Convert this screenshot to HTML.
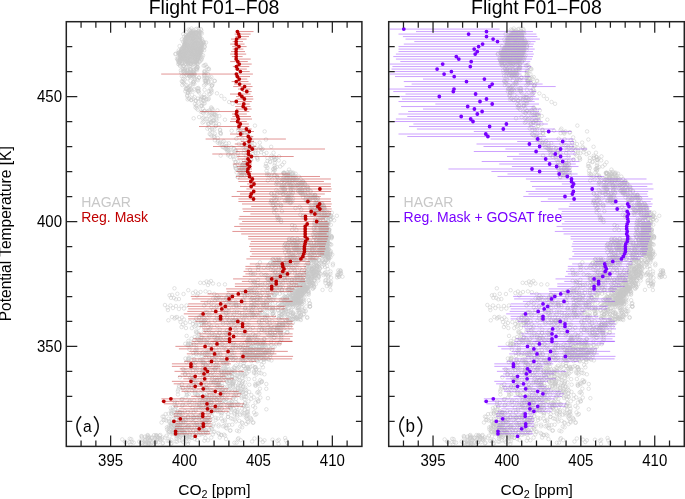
<!DOCTYPE html>
<html><head><meta charset="utf-8"><style>
html,body{margin:0;padding:0;background:#fff;}
svg{display:block;will-change:transform;}
</style></head><body>
<svg width="685" height="499" viewBox="0 0 685 499">
<rect width="685" height="499" fill="#fff"/>
<defs><g id="cloud"><polygon points="319.0,222.0 328.5,222.0 329.5,240.0 329.0,256.0 320.0,256.0 318.0,240.0" fill="#cccccc" fill-opacity="1"/>
<polygon points="297.0,290.0 305.0,284.0 311.0,287.0 304.0,296.0 296.0,302.0 291.0,299.0" fill="#cccccc" fill-opacity="1"/>
<polygon points="191.0,30.5 200.5,30.5 201.5,35.0 202.0,40.0 204.0,43.5 202.5,48.0 201.5,55.0 199.5,60.0 197.0,64.0 192.0,64.0 186.0,63.0 180.0,60.0 177.5,55.0 179.5,49.0 183.0,44.0 184.0,36.0" fill="#cccccc" fill-opacity="1"/>
<path d="M197.2 40.6a1.75 1.75 0 1 0 3.5 0a1.75 1.75 0 1 0 -3.5 0M188.6 49.9a1.75 1.75 0 1 0 3.5 0a1.75 1.75 0 1 0 -3.5 0M193.6 66.0a1.75 1.75 0 1 0 3.5 0a1.75 1.75 0 1 0 -3.5 0M199.5 49.1a1.75 1.75 0 1 0 3.5 0a1.75 1.75 0 1 0 -3.5 0M197.1 28.6a1.75 1.75 0 1 0 3.5 0a1.75 1.75 0 1 0 -3.5 0M187.0 62.8a1.75 1.75 0 1 0 3.5 0a1.75 1.75 0 1 0 -3.5 0M173.6 54.2a1.75 1.75 0 1 0 3.5 0a1.75 1.75 0 1 0 -3.5 0M202.8 46.6a1.75 1.75 0 1 0 3.5 0a1.75 1.75 0 1 0 -3.5 0M179.7 48.6a1.75 1.75 0 1 0 3.5 0a1.75 1.75 0 1 0 -3.5 0M186.8 52.1a1.75 1.75 0 1 0 3.5 0a1.75 1.75 0 1 0 -3.5 0M180.2 39.5a1.75 1.75 0 1 0 3.5 0a1.75 1.75 0 1 0 -3.5 0M179.8 50.3a1.75 1.75 0 1 0 3.5 0a1.75 1.75 0 1 0 -3.5 0M199.6 54.9a1.75 1.75 0 1 0 3.5 0a1.75 1.75 0 1 0 -3.5 0M193.3 37.3a1.75 1.75 0 1 0 3.5 0a1.75 1.75 0 1 0 -3.5 0M195.8 62.3a1.75 1.75 0 1 0 3.5 0a1.75 1.75 0 1 0 -3.5 0M199.3 60.3a1.75 1.75 0 1 0 3.5 0a1.75 1.75 0 1 0 -3.5 0M182.5 56.4a1.75 1.75 0 1 0 3.5 0a1.75 1.75 0 1 0 -3.5 0M188.9 56.5a1.75 1.75 0 1 0 3.5 0a1.75 1.75 0 1 0 -3.5 0M198.3 48.2a1.75 1.75 0 1 0 3.5 0a1.75 1.75 0 1 0 -3.5 0M178.3 54.6a1.75 1.75 0 1 0 3.5 0a1.75 1.75 0 1 0 -3.5 0M195.2 60.5a1.75 1.75 0 1 0 3.5 0a1.75 1.75 0 1 0 -3.5 0M184.7 49.4a1.75 1.75 0 1 0 3.5 0a1.75 1.75 0 1 0 -3.5 0M189.0 65.5a1.75 1.75 0 1 0 3.5 0a1.75 1.75 0 1 0 -3.5 0M189.4 47.2a1.75 1.75 0 1 0 3.5 0a1.75 1.75 0 1 0 -3.5 0M188.4 29.9a1.75 1.75 0 1 0 3.5 0a1.75 1.75 0 1 0 -3.5 0M185.3 36.6a1.75 1.75 0 1 0 3.5 0a1.75 1.75 0 1 0 -3.5 0M188.8 75.1a1.75 1.75 0 1 0 3.5 0a1.75 1.75 0 1 0 -3.5 0M197.4 54.1a1.75 1.75 0 1 0 3.5 0a1.75 1.75 0 1 0 -3.5 0M200.3 39.5a1.75 1.75 0 1 0 3.5 0a1.75 1.75 0 1 0 -3.5 0M189.2 73.7a1.75 1.75 0 1 0 3.5 0a1.75 1.75 0 1 0 -3.5 0M191.2 50.3a1.75 1.75 0 1 0 3.5 0a1.75 1.75 0 1 0 -3.5 0M181.4 54.5a1.75 1.75 0 1 0 3.5 0a1.75 1.75 0 1 0 -3.5 0M198.6 53.1a1.75 1.75 0 1 0 3.5 0a1.75 1.75 0 1 0 -3.5 0M190.7 48.7a1.75 1.75 0 1 0 3.5 0a1.75 1.75 0 1 0 -3.5 0M191.0 38.0a1.75 1.75 0 1 0 3.5 0a1.75 1.75 0 1 0 -3.5 0M188.9 51.5a1.75 1.75 0 1 0 3.5 0a1.75 1.75 0 1 0 -3.5 0M184.2 44.9a1.75 1.75 0 1 0 3.5 0a1.75 1.75 0 1 0 -3.5 0M190.0 58.1a1.75 1.75 0 1 0 3.5 0a1.75 1.75 0 1 0 -3.5 0M192.3 50.3a1.75 1.75 0 1 0 3.5 0a1.75 1.75 0 1 0 -3.5 0M178.4 56.3a1.75 1.75 0 1 0 3.5 0a1.75 1.75 0 1 0 -3.5 0M180.9 68.5a1.75 1.75 0 1 0 3.5 0a1.75 1.75 0 1 0 -3.5 0M194.3 32.5a1.75 1.75 0 1 0 3.5 0a1.75 1.75 0 1 0 -3.5 0M196.9 40.4a1.75 1.75 0 1 0 3.5 0a1.75 1.75 0 1 0 -3.5 0M176.3 58.2a1.75 1.75 0 1 0 3.5 0a1.75 1.75 0 1 0 -3.5 0M183.8 31.8a1.75 1.75 0 1 0 3.5 0a1.75 1.75 0 1 0 -3.5 0M177.9 53.6a1.75 1.75 0 1 0 3.5 0a1.75 1.75 0 1 0 -3.5 0M195.5 50.1a1.75 1.75 0 1 0 3.5 0a1.75 1.75 0 1 0 -3.5 0M183.1 51.0a1.75 1.75 0 1 0 3.5 0a1.75 1.75 0 1 0 -3.5 0M186.2 37.4a1.75 1.75 0 1 0 3.5 0a1.75 1.75 0 1 0 -3.5 0M189.1 38.4a1.75 1.75 0 1 0 3.5 0a1.75 1.75 0 1 0 -3.5 0M192.1 67.3a1.75 1.75 0 1 0 3.5 0a1.75 1.75 0 1 0 -3.5 0M177.4 62.6a1.75 1.75 0 1 0 3.5 0a1.75 1.75 0 1 0 -3.5 0M177.9 62.0a1.75 1.75 0 1 0 3.5 0a1.75 1.75 0 1 0 -3.5 0M194.5 54.4a1.75 1.75 0 1 0 3.5 0a1.75 1.75 0 1 0 -3.5 0M198.3 53.0a1.75 1.75 0 1 0 3.5 0a1.75 1.75 0 1 0 -3.5 0M179.9 59.3a1.75 1.75 0 1 0 3.5 0a1.75 1.75 0 1 0 -3.5 0M185.4 55.9a1.75 1.75 0 1 0 3.5 0a1.75 1.75 0 1 0 -3.5 0M183.0 58.5a1.75 1.75 0 1 0 3.5 0a1.75 1.75 0 1 0 -3.5 0M182.6 69.3a1.75 1.75 0 1 0 3.5 0a1.75 1.75 0 1 0 -3.5 0M182.7 73.1a1.75 1.75 0 1 0 3.5 0a1.75 1.75 0 1 0 -3.5 0M196.6 48.3a1.75 1.75 0 1 0 3.5 0a1.75 1.75 0 1 0 -3.5 0M191.0 36.6a1.75 1.75 0 1 0 3.5 0a1.75 1.75 0 1 0 -3.5 0M195.3 52.7a1.75 1.75 0 1 0 3.5 0a1.75 1.75 0 1 0 -3.5 0M184.8 45.0a1.75 1.75 0 1 0 3.5 0a1.75 1.75 0 1 0 -3.5 0M179.3 60.5a1.75 1.75 0 1 0 3.5 0a1.75 1.75 0 1 0 -3.5 0M186.6 37.7a1.75 1.75 0 1 0 3.5 0a1.75 1.75 0 1 0 -3.5 0M176.1 60.1a1.75 1.75 0 1 0 3.5 0a1.75 1.75 0 1 0 -3.5 0M182.2 52.2a1.75 1.75 0 1 0 3.5 0a1.75 1.75 0 1 0 -3.5 0M183.2 69.9a1.75 1.75 0 1 0 3.5 0a1.75 1.75 0 1 0 -3.5 0M183.6 38.6a1.75 1.75 0 1 0 3.5 0a1.75 1.75 0 1 0 -3.5 0M194.3 68.3a1.75 1.75 0 1 0 3.5 0a1.75 1.75 0 1 0 -3.5 0M202.6 44.8a1.75 1.75 0 1 0 3.5 0a1.75 1.75 0 1 0 -3.5 0M188.3 75.3a1.75 1.75 0 1 0 3.5 0a1.75 1.75 0 1 0 -3.5 0M180.3 63.0a1.75 1.75 0 1 0 3.5 0a1.75 1.75 0 1 0 -3.5 0M197.0 57.0a1.75 1.75 0 1 0 3.5 0a1.75 1.75 0 1 0 -3.5 0M199.7 46.0a1.75 1.75 0 1 0 3.5 0a1.75 1.75 0 1 0 -3.5 0M183.6 42.3a1.75 1.75 0 1 0 3.5 0a1.75 1.75 0 1 0 -3.5 0M200.5 57.2a1.75 1.75 0 1 0 3.5 0a1.75 1.75 0 1 0 -3.5 0M177.1 54.7a1.75 1.75 0 1 0 3.5 0a1.75 1.75 0 1 0 -3.5 0M183.7 57.7a1.75 1.75 0 1 0 3.5 0a1.75 1.75 0 1 0 -3.5 0M197.8 46.5a1.75 1.75 0 1 0 3.5 0a1.75 1.75 0 1 0 -3.5 0M191.0 39.1a1.75 1.75 0 1 0 3.5 0a1.75 1.75 0 1 0 -3.5 0M201.3 55.3a1.75 1.75 0 1 0 3.5 0a1.75 1.75 0 1 0 -3.5 0M202.4 50.2a1.75 1.75 0 1 0 3.5 0a1.75 1.75 0 1 0 -3.5 0M181.6 65.9a1.75 1.75 0 1 0 3.5 0a1.75 1.75 0 1 0 -3.5 0M199.2 29.1a1.75 1.75 0 1 0 3.5 0a1.75 1.75 0 1 0 -3.5 0M194.2 32.9a1.75 1.75 0 1 0 3.5 0a1.75 1.75 0 1 0 -3.5 0M180.5 63.8a1.75 1.75 0 1 0 3.5 0a1.75 1.75 0 1 0 -3.5 0M184.9 74.6a1.75 1.75 0 1 0 3.5 0a1.75 1.75 0 1 0 -3.5 0M201.8 42.5a1.75 1.75 0 1 0 3.5 0a1.75 1.75 0 1 0 -3.5 0M180.9 51.2a1.75 1.75 0 1 0 3.5 0a1.75 1.75 0 1 0 -3.5 0M176.0 59.5a1.75 1.75 0 1 0 3.5 0a1.75 1.75 0 1 0 -3.5 0M204.2 42.5a1.75 1.75 0 1 0 3.5 0a1.75 1.75 0 1 0 -3.5 0M191.8 49.9a1.75 1.75 0 1 0 3.5 0a1.75 1.75 0 1 0 -3.5 0M179.6 57.8a1.75 1.75 0 1 0 3.5 0a1.75 1.75 0 1 0 -3.5 0M194.8 59.9a1.75 1.75 0 1 0 3.5 0a1.75 1.75 0 1 0 -3.5 0M181.0 54.2a1.75 1.75 0 1 0 3.5 0a1.75 1.75 0 1 0 -3.5 0M182.6 40.2a1.75 1.75 0 1 0 3.5 0a1.75 1.75 0 1 0 -3.5 0M193.6 59.1a1.75 1.75 0 1 0 3.5 0a1.75 1.75 0 1 0 -3.5 0M202.9 47.0a1.75 1.75 0 1 0 3.5 0a1.75 1.75 0 1 0 -3.5 0M182.6 44.0a1.75 1.75 0 1 0 3.5 0a1.75 1.75 0 1 0 -3.5 0M182.9 68.7a1.75 1.75 0 1 0 3.5 0a1.75 1.75 0 1 0 -3.5 0M201.3 42.9a1.75 1.75 0 1 0 3.5 0a1.75 1.75 0 1 0 -3.5 0M183.4 54.4a1.75 1.75 0 1 0 3.5 0a1.75 1.75 0 1 0 -3.5 0M191.3 56.8a1.75 1.75 0 1 0 3.5 0a1.75 1.75 0 1 0 -3.5 0M190.4 31.9a1.75 1.75 0 1 0 3.5 0a1.75 1.75 0 1 0 -3.5 0M175.2 58.7a1.75 1.75 0 1 0 3.5 0a1.75 1.75 0 1 0 -3.5 0M182.1 66.1a1.75 1.75 0 1 0 3.5 0a1.75 1.75 0 1 0 -3.5 0M188.5 69.5a1.75 1.75 0 1 0 3.5 0a1.75 1.75 0 1 0 -3.5 0M177.7 52.3a1.75 1.75 0 1 0 3.5 0a1.75 1.75 0 1 0 -3.5 0M198.2 32.2a1.75 1.75 0 1 0 3.5 0a1.75 1.75 0 1 0 -3.5 0M199.0 43.7a1.75 1.75 0 1 0 3.5 0a1.75 1.75 0 1 0 -3.5 0M176.2 52.9a1.75 1.75 0 1 0 3.5 0a1.75 1.75 0 1 0 -3.5 0M202.2 42.4a1.75 1.75 0 1 0 3.5 0a1.75 1.75 0 1 0 -3.5 0M182.9 71.4a1.75 1.75 0 1 0 3.5 0a1.75 1.75 0 1 0 -3.5 0M194.8 37.0a1.75 1.75 0 1 0 3.5 0a1.75 1.75 0 1 0 -3.5 0M186.6 36.0a1.75 1.75 0 1 0 3.5 0a1.75 1.75 0 1 0 -3.5 0M195.6 60.2a1.75 1.75 0 1 0 3.5 0a1.75 1.75 0 1 0 -3.5 0M190.3 54.2a1.75 1.75 0 1 0 3.5 0a1.75 1.75 0 1 0 -3.5 0M200.0 50.0a1.75 1.75 0 1 0 3.5 0a1.75 1.75 0 1 0 -3.5 0M185.4 44.6a1.75 1.75 0 1 0 3.5 0a1.75 1.75 0 1 0 -3.5 0M193.4 48.3a1.75 1.75 0 1 0 3.5 0a1.75 1.75 0 1 0 -3.5 0M191.0 31.5a1.75 1.75 0 1 0 3.5 0a1.75 1.75 0 1 0 -3.5 0M184.1 35.1a1.75 1.75 0 1 0 3.5 0a1.75 1.75 0 1 0 -3.5 0M199.3 47.4a1.75 1.75 0 1 0 3.5 0a1.75 1.75 0 1 0 -3.5 0M185.6 57.6a1.75 1.75 0 1 0 3.5 0a1.75 1.75 0 1 0 -3.5 0M189.7 52.3a1.75 1.75 0 1 0 3.5 0a1.75 1.75 0 1 0 -3.5 0M193.5 49.3a1.75 1.75 0 1 0 3.5 0a1.75 1.75 0 1 0 -3.5 0M194.7 63.2a1.75 1.75 0 1 0 3.5 0a1.75 1.75 0 1 0 -3.5 0M180.4 52.0a1.75 1.75 0 1 0 3.5 0a1.75 1.75 0 1 0 -3.5 0M188.1 39.2a1.75 1.75 0 1 0 3.5 0a1.75 1.75 0 1 0 -3.5 0M185.9 55.1a1.75 1.75 0 1 0 3.5 0a1.75 1.75 0 1 0 -3.5 0M181.6 59.2a1.75 1.75 0 1 0 3.5 0a1.75 1.75 0 1 0 -3.5 0M189.1 70.2a1.75 1.75 0 1 0 3.5 0a1.75 1.75 0 1 0 -3.5 0M177.9 64.9a1.75 1.75 0 1 0 3.5 0a1.75 1.75 0 1 0 -3.5 0M201.0 43.3a1.75 1.75 0 1 0 3.5 0a1.75 1.75 0 1 0 -3.5 0M194.9 68.8a1.75 1.75 0 1 0 3.5 0a1.75 1.75 0 1 0 -3.5 0M184.6 61.8a1.75 1.75 0 1 0 3.5 0a1.75 1.75 0 1 0 -3.5 0M196.3 56.7a1.75 1.75 0 1 0 3.5 0a1.75 1.75 0 1 0 -3.5 0M179.7 55.6a1.75 1.75 0 1 0 3.5 0a1.75 1.75 0 1 0 -3.5 0M197.0 31.0a1.75 1.75 0 1 0 3.5 0a1.75 1.75 0 1 0 -3.5 0M194.6 62.6a1.75 1.75 0 1 0 3.5 0a1.75 1.75 0 1 0 -3.5 0M183.9 53.0a1.75 1.75 0 1 0 3.5 0a1.75 1.75 0 1 0 -3.5 0M178.0 63.2a1.75 1.75 0 1 0 3.5 0a1.75 1.75 0 1 0 -3.5 0M198.6 58.4a1.75 1.75 0 1 0 3.5 0a1.75 1.75 0 1 0 -3.5 0M181.3 71.9a1.75 1.75 0 1 0 3.5 0a1.75 1.75 0 1 0 -3.5 0M193.9 61.8a1.75 1.75 0 1 0 3.5 0a1.75 1.75 0 1 0 -3.5 0M187.0 72.4a1.75 1.75 0 1 0 3.5 0a1.75 1.75 0 1 0 -3.5 0M198.4 49.1a1.75 1.75 0 1 0 3.5 0a1.75 1.75 0 1 0 -3.5 0M192.0 47.9a1.75 1.75 0 1 0 3.5 0a1.75 1.75 0 1 0 -3.5 0M180.7 64.1a1.75 1.75 0 1 0 3.5 0a1.75 1.75 0 1 0 -3.5 0M186.8 29.5a1.75 1.75 0 1 0 3.5 0a1.75 1.75 0 1 0 -3.5 0M192.8 57.3a1.75 1.75 0 1 0 3.5 0a1.75 1.75 0 1 0 -3.5 0M199.5 38.3a1.75 1.75 0 1 0 3.5 0a1.75 1.75 0 1 0 -3.5 0M181.9 54.3a1.75 1.75 0 1 0 3.5 0a1.75 1.75 0 1 0 -3.5 0M181.5 56.3a1.75 1.75 0 1 0 3.5 0a1.75 1.75 0 1 0 -3.5 0M180.8 61.0a1.75 1.75 0 1 0 3.5 0a1.75 1.75 0 1 0 -3.5 0M188.5 69.1a1.75 1.75 0 1 0 3.5 0a1.75 1.75 0 1 0 -3.5 0M197.4 55.6a1.75 1.75 0 1 0 3.5 0a1.75 1.75 0 1 0 -3.5 0M185.0 42.0a1.75 1.75 0 1 0 3.5 0a1.75 1.75 0 1 0 -3.5 0M176.5 64.0a1.75 1.75 0 1 0 3.5 0a1.75 1.75 0 1 0 -3.5 0M190.2 74.3a1.75 1.75 0 1 0 3.5 0a1.75 1.75 0 1 0 -3.5 0M177.1 52.3a1.75 1.75 0 1 0 3.5 0a1.75 1.75 0 1 0 -3.5 0M191.1 43.3a1.75 1.75 0 1 0 3.5 0a1.75 1.75 0 1 0 -3.5 0M188.8 45.4a1.75 1.75 0 1 0 3.5 0a1.75 1.75 0 1 0 -3.5 0M189.7 28.5a1.75 1.75 0 1 0 3.5 0a1.75 1.75 0 1 0 -3.5 0M186.9 49.9a1.75 1.75 0 1 0 3.5 0a1.75 1.75 0 1 0 -3.5 0M182.5 47.5a1.75 1.75 0 1 0 3.5 0a1.75 1.75 0 1 0 -3.5 0M197.8 61.0a1.75 1.75 0 1 0 3.5 0a1.75 1.75 0 1 0 -3.5 0M188.5 59.3a1.75 1.75 0 1 0 3.5 0a1.75 1.75 0 1 0 -3.5 0M184.8 38.2a1.75 1.75 0 1 0 3.5 0a1.75 1.75 0 1 0 -3.5 0M191.9 70.4a1.75 1.75 0 1 0 3.5 0a1.75 1.75 0 1 0 -3.5 0M199.3 52.8a1.75 1.75 0 1 0 3.5 0a1.75 1.75 0 1 0 -3.5 0M199.5 47.9a1.75 1.75 0 1 0 3.5 0a1.75 1.75 0 1 0 -3.5 0M182.5 36.6a1.75 1.75 0 1 0 3.5 0a1.75 1.75 0 1 0 -3.5 0M192.6 53.7a1.75 1.75 0 1 0 3.5 0a1.75 1.75 0 1 0 -3.5 0M185.2 48.7a1.75 1.75 0 1 0 3.5 0a1.75 1.75 0 1 0 -3.5 0M185.7 69.4a1.75 1.75 0 1 0 3.5 0a1.75 1.75 0 1 0 -3.5 0M191.5 63.4a1.75 1.75 0 1 0 3.5 0a1.75 1.75 0 1 0 -3.5 0M188.5 63.9a1.75 1.75 0 1 0 3.5 0a1.75 1.75 0 1 0 -3.5 0M193.2 59.3a1.75 1.75 0 1 0 3.5 0a1.75 1.75 0 1 0 -3.5 0M192.9 47.8a1.75 1.75 0 1 0 3.5 0a1.75 1.75 0 1 0 -3.5 0M192.9 58.6a1.75 1.75 0 1 0 3.5 0a1.75 1.75 0 1 0 -3.5 0M198.8 57.3a1.75 1.75 0 1 0 3.5 0a1.75 1.75 0 1 0 -3.5 0M183.9 41.1a1.75 1.75 0 1 0 3.5 0a1.75 1.75 0 1 0 -3.5 0M195.4 70.0a1.75 1.75 0 1 0 3.5 0a1.75 1.75 0 1 0 -3.5 0M190.2 35.7a1.75 1.75 0 1 0 3.5 0a1.75 1.75 0 1 0 -3.5 0M199.4 51.5a1.75 1.75 0 1 0 3.5 0a1.75 1.75 0 1 0 -3.5 0M187.7 30.7a1.75 1.75 0 1 0 3.5 0a1.75 1.75 0 1 0 -3.5 0M189.1 63.9a1.75 1.75 0 1 0 3.5 0a1.75 1.75 0 1 0 -3.5 0M186.3 45.4a1.75 1.75 0 1 0 3.5 0a1.75 1.75 0 1 0 -3.5 0M193.8 29.4a1.75 1.75 0 1 0 3.5 0a1.75 1.75 0 1 0 -3.5 0M189.0 73.4a1.75 1.75 0 1 0 3.5 0a1.75 1.75 0 1 0 -3.5 0M194.8 47.6a1.75 1.75 0 1 0 3.5 0a1.75 1.75 0 1 0 -3.5 0M194.8 57.2a1.75 1.75 0 1 0 3.5 0a1.75 1.75 0 1 0 -3.5 0M201.1 41.3a1.75 1.75 0 1 0 3.5 0a1.75 1.75 0 1 0 -3.5 0M189.5 46.0a1.75 1.75 0 1 0 3.5 0a1.75 1.75 0 1 0 -3.5 0M189.1 63.5a1.75 1.75 0 1 0 3.5 0a1.75 1.75 0 1 0 -3.5 0M178.1 59.5a1.75 1.75 0 1 0 3.5 0a1.75 1.75 0 1 0 -3.5 0M195.6 67.2a1.75 1.75 0 1 0 3.5 0a1.75 1.75 0 1 0 -3.5 0M181.4 57.5a1.75 1.75 0 1 0 3.5 0a1.75 1.75 0 1 0 -3.5 0M180.2 55.1a1.75 1.75 0 1 0 3.5 0a1.75 1.75 0 1 0 -3.5 0M178.3 66.0a1.75 1.75 0 1 0 3.5 0a1.75 1.75 0 1 0 -3.5 0M200.5 44.2a1.75 1.75 0 1 0 3.5 0a1.75 1.75 0 1 0 -3.5 0M195.4 68.6a1.75 1.75 0 1 0 3.5 0a1.75 1.75 0 1 0 -3.5 0M192.7 43.5a1.75 1.75 0 1 0 3.5 0a1.75 1.75 0 1 0 -3.5 0M186.6 64.7a1.75 1.75 0 1 0 3.5 0a1.75 1.75 0 1 0 -3.5 0M197.9 37.5a1.75 1.75 0 1 0 3.5 0a1.75 1.75 0 1 0 -3.5 0M192.8 36.4a1.75 1.75 0 1 0 3.5 0a1.75 1.75 0 1 0 -3.5 0M192.2 40.9a1.75 1.75 0 1 0 3.5 0a1.75 1.75 0 1 0 -3.5 0M189.6 35.1a1.75 1.75 0 1 0 3.5 0a1.75 1.75 0 1 0 -3.5 0M177.2 62.5a1.75 1.75 0 1 0 3.5 0a1.75 1.75 0 1 0 -3.5 0M184.3 64.2a1.75 1.75 0 1 0 3.5 0a1.75 1.75 0 1 0 -3.5 0M180.4 62.6a1.75 1.75 0 1 0 3.5 0a1.75 1.75 0 1 0 -3.5 0M195.7 43.0a1.75 1.75 0 1 0 3.5 0a1.75 1.75 0 1 0 -3.5 0M188.5 33.2a1.75 1.75 0 1 0 3.5 0a1.75 1.75 0 1 0 -3.5 0M191.9 70.7a1.75 1.75 0 1 0 3.5 0a1.75 1.75 0 1 0 -3.5 0M195.3 67.2a1.75 1.75 0 1 0 3.5 0a1.75 1.75 0 1 0 -3.5 0M183.7 68.3a1.75 1.75 0 1 0 3.5 0a1.75 1.75 0 1 0 -3.5 0M176.5 61.4a1.75 1.75 0 1 0 3.5 0a1.75 1.75 0 1 0 -3.5 0M188.6 46.4a1.75 1.75 0 1 0 3.5 0a1.75 1.75 0 1 0 -3.5 0M199.0 50.5a1.75 1.75 0 1 0 3.5 0a1.75 1.75 0 1 0 -3.5 0M191.3 38.6a1.75 1.75 0 1 0 3.5 0a1.75 1.75 0 1 0 -3.5 0M195.6 44.2a1.75 1.75 0 1 0 3.5 0a1.75 1.75 0 1 0 -3.5 0M191.7 71.7a1.75 1.75 0 1 0 3.5 0a1.75 1.75 0 1 0 -3.5 0M183.0 46.7a1.75 1.75 0 1 0 3.5 0a1.75 1.75 0 1 0 -3.5 0M191.3 72.1a1.75 1.75 0 1 0 3.5 0a1.75 1.75 0 1 0 -3.5 0M185.5 70.3a1.75 1.75 0 1 0 3.5 0a1.75 1.75 0 1 0 -3.5 0M197.0 35.7a1.75 1.75 0 1 0 3.5 0a1.75 1.75 0 1 0 -3.5 0M177.4 60.1a1.75 1.75 0 1 0 3.5 0a1.75 1.75 0 1 0 -3.5 0M176.9 50.5a1.75 1.75 0 1 0 3.5 0a1.75 1.75 0 1 0 -3.5 0M199.6 30.5a1.75 1.75 0 1 0 3.5 0a1.75 1.75 0 1 0 -3.5 0M181.5 34.1a1.75 1.75 0 1 0 3.5 0a1.75 1.75 0 1 0 -3.5 0M193.2 63.9a1.75 1.75 0 1 0 3.5 0a1.75 1.75 0 1 0 -3.5 0M194.7 68.7a1.75 1.75 0 1 0 3.5 0a1.75 1.75 0 1 0 -3.5 0M194.0 47.0a1.75 1.75 0 1 0 3.5 0a1.75 1.75 0 1 0 -3.5 0M192.9 74.6a1.75 1.75 0 1 0 3.5 0a1.75 1.75 0 1 0 -3.5 0M193.3 40.0a1.75 1.75 0 1 0 3.5 0a1.75 1.75 0 1 0 -3.5 0M191.6 45.1a1.75 1.75 0 1 0 3.5 0a1.75 1.75 0 1 0 -3.5 0M192.1 55.1a1.75 1.75 0 1 0 3.5 0a1.75 1.75 0 1 0 -3.5 0M189.5 31.4a1.75 1.75 0 1 0 3.5 0a1.75 1.75 0 1 0 -3.5 0M184.1 48.1a1.75 1.75 0 1 0 3.5 0a1.75 1.75 0 1 0 -3.5 0M179.1 70.3a1.75 1.75 0 1 0 3.5 0a1.75 1.75 0 1 0 -3.5 0M186.3 60.0a1.75 1.75 0 1 0 3.5 0a1.75 1.75 0 1 0 -3.5 0M195.6 63.8a1.75 1.75 0 1 0 3.5 0a1.75 1.75 0 1 0 -3.5 0M195.8 64.2a1.75 1.75 0 1 0 3.5 0a1.75 1.75 0 1 0 -3.5 0M198.8 50.8a1.75 1.75 0 1 0 3.5 0a1.75 1.75 0 1 0 -3.5 0M184.6 75.3a1.75 1.75 0 1 0 3.5 0a1.75 1.75 0 1 0 -3.5 0M174.0 53.7a1.75 1.75 0 1 0 3.5 0a1.75 1.75 0 1 0 -3.5 0M186.9 34.6a1.75 1.75 0 1 0 3.5 0a1.75 1.75 0 1 0 -3.5 0M185.4 62.1a1.75 1.75 0 1 0 3.5 0a1.75 1.75 0 1 0 -3.5 0M189.5 32.8a1.75 1.75 0 1 0 3.5 0a1.75 1.75 0 1 0 -3.5 0M198.4 32.6a1.75 1.75 0 1 0 3.5 0a1.75 1.75 0 1 0 -3.5 0M196.2 43.4a1.75 1.75 0 1 0 3.5 0a1.75 1.75 0 1 0 -3.5 0M182.5 48.7a1.75 1.75 0 1 0 3.5 0a1.75 1.75 0 1 0 -3.5 0M180.6 55.0a1.75 1.75 0 1 0 3.5 0a1.75 1.75 0 1 0 -3.5 0M183.3 44.6a1.75 1.75 0 1 0 3.5 0a1.75 1.75 0 1 0 -3.5 0M191.4 33.5a1.75 1.75 0 1 0 3.5 0a1.75 1.75 0 1 0 -3.5 0M193.6 49.8a1.75 1.75 0 1 0 3.5 0a1.75 1.75 0 1 0 -3.5 0M189.9 71.1a1.75 1.75 0 1 0 3.5 0a1.75 1.75 0 1 0 -3.5 0M199.4 42.3a1.75 1.75 0 1 0 3.5 0a1.75 1.75 0 1 0 -3.5 0M177.8 46.1a1.75 1.75 0 1 0 3.5 0a1.75 1.75 0 1 0 -3.5 0M189.4 33.1a1.75 1.75 0 1 0 3.5 0a1.75 1.75 0 1 0 -3.5 0M183.8 55.8a1.75 1.75 0 1 0 3.5 0a1.75 1.75 0 1 0 -3.5 0M193.6 43.4a1.75 1.75 0 1 0 3.5 0a1.75 1.75 0 1 0 -3.5 0M182.3 45.2a1.75 1.75 0 1 0 3.5 0a1.75 1.75 0 1 0 -3.5 0M183.2 64.1a1.75 1.75 0 1 0 3.5 0a1.75 1.75 0 1 0 -3.5 0M188.8 53.5a1.75 1.75 0 1 0 3.5 0a1.75 1.75 0 1 0 -3.5 0M183.2 44.1a1.75 1.75 0 1 0 3.5 0a1.75 1.75 0 1 0 -3.5 0M188.1 71.9a1.75 1.75 0 1 0 3.5 0a1.75 1.75 0 1 0 -3.5 0M177.1 53.4a1.75 1.75 0 1 0 3.5 0a1.75 1.75 0 1 0 -3.5 0M191.2 75.6a1.75 1.75 0 1 0 3.5 0a1.75 1.75 0 1 0 -3.5 0M197.8 61.9a1.75 1.75 0 1 0 3.5 0a1.75 1.75 0 1 0 -3.5 0M196.6 45.7a1.75 1.75 0 1 0 3.5 0a1.75 1.75 0 1 0 -3.5 0M185.6 50.6a1.75 1.75 0 1 0 3.5 0a1.75 1.75 0 1 0 -3.5 0M194.7 55.2a1.75 1.75 0 1 0 3.5 0a1.75 1.75 0 1 0 -3.5 0M185.9 63.1a1.75 1.75 0 1 0 3.5 0a1.75 1.75 0 1 0 -3.5 0M190.2 41.1a1.75 1.75 0 1 0 3.5 0a1.75 1.75 0 1 0 -3.5 0M193.0 53.5a1.75 1.75 0 1 0 3.5 0a1.75 1.75 0 1 0 -3.5 0M200.0 59.1a1.75 1.75 0 1 0 3.5 0a1.75 1.75 0 1 0 -3.5 0M181.8 70.8a1.75 1.75 0 1 0 3.5 0a1.75 1.75 0 1 0 -3.5 0M191.9 69.6a1.75 1.75 0 1 0 3.5 0a1.75 1.75 0 1 0 -3.5 0M201.3 48.7a1.75 1.75 0 1 0 3.5 0a1.75 1.75 0 1 0 -3.5 0M194.4 54.4a1.75 1.75 0 1 0 3.5 0a1.75 1.75 0 1 0 -3.5 0M196.0 67.2a1.75 1.75 0 1 0 3.5 0a1.75 1.75 0 1 0 -3.5 0M179.2 64.0a1.75 1.75 0 1 0 3.5 0a1.75 1.75 0 1 0 -3.5 0M197.4 52.9a1.75 1.75 0 1 0 3.5 0a1.75 1.75 0 1 0 -3.5 0M188.3 47.7a1.75 1.75 0 1 0 3.5 0a1.75 1.75 0 1 0 -3.5 0M191.5 30.4a1.75 1.75 0 1 0 3.5 0a1.75 1.75 0 1 0 -3.5 0M200.0 50.3a1.75 1.75 0 1 0 3.5 0a1.75 1.75 0 1 0 -3.5 0M194.9 28.8a1.75 1.75 0 1 0 3.5 0a1.75 1.75 0 1 0 -3.5 0M191.1 54.7a1.75 1.75 0 1 0 3.5 0a1.75 1.75 0 1 0 -3.5 0M189.6 54.2a1.75 1.75 0 1 0 3.5 0a1.75 1.75 0 1 0 -3.5 0M185.8 58.4a1.75 1.75 0 1 0 3.5 0a1.75 1.75 0 1 0 -3.5 0M182.6 42.8a1.75 1.75 0 1 0 3.5 0a1.75 1.75 0 1 0 -3.5 0M189.0 56.3a1.75 1.75 0 1 0 3.5 0a1.75 1.75 0 1 0 -3.5 0M190.3 74.9a1.75 1.75 0 1 0 3.5 0a1.75 1.75 0 1 0 -3.5 0M178.0 58.7a1.75 1.75 0 1 0 3.5 0a1.75 1.75 0 1 0 -3.5 0M190.9 46.0a1.75 1.75 0 1 0 3.5 0a1.75 1.75 0 1 0 -3.5 0M185.6 73.0a1.75 1.75 0 1 0 3.5 0a1.75 1.75 0 1 0 -3.5 0M199.8 46.7a1.75 1.75 0 1 0 3.5 0a1.75 1.75 0 1 0 -3.5 0M187.6 66.3a1.75 1.75 0 1 0 3.5 0a1.75 1.75 0 1 0 -3.5 0M184.7 64.1a1.75 1.75 0 1 0 3.5 0a1.75 1.75 0 1 0 -3.5 0M188.2 44.5a1.75 1.75 0 1 0 3.5 0a1.75 1.75 0 1 0 -3.5 0M187.3 34.0a1.75 1.75 0 1 0 3.5 0a1.75 1.75 0 1 0 -3.5 0M184.1 48.2a1.75 1.75 0 1 0 3.5 0a1.75 1.75 0 1 0 -3.5 0M181.1 69.2a1.75 1.75 0 1 0 3.5 0a1.75 1.75 0 1 0 -3.5 0M191.6 42.1a1.75 1.75 0 1 0 3.5 0a1.75 1.75 0 1 0 -3.5 0M189.2 63.6a1.75 1.75 0 1 0 3.5 0a1.75 1.75 0 1 0 -3.5 0M194.9 49.1a1.75 1.75 0 1 0 3.5 0a1.75 1.75 0 1 0 -3.5 0M197.6 51.6a1.75 1.75 0 1 0 3.5 0a1.75 1.75 0 1 0 -3.5 0M195.6 51.8a1.75 1.75 0 1 0 3.5 0a1.75 1.75 0 1 0 -3.5 0M188.1 73.7a1.75 1.75 0 1 0 3.5 0a1.75 1.75 0 1 0 -3.5 0M185.5 62.9a1.75 1.75 0 1 0 3.5 0a1.75 1.75 0 1 0 -3.5 0M199.4 32.7a1.75 1.75 0 1 0 3.5 0a1.75 1.75 0 1 0 -3.5 0M192.3 75.8a1.75 1.75 0 1 0 3.5 0a1.75 1.75 0 1 0 -3.5 0M190.3 53.9a1.75 1.75 0 1 0 3.5 0a1.75 1.75 0 1 0 -3.5 0M183.8 73.4a1.75 1.75 0 1 0 3.5 0a1.75 1.75 0 1 0 -3.5 0M190.4 48.4a1.75 1.75 0 1 0 3.5 0a1.75 1.75 0 1 0 -3.5 0M194.2 34.1a1.75 1.75 0 1 0 3.5 0a1.75 1.75 0 1 0 -3.5 0M181.2 41.7a1.75 1.75 0 1 0 3.5 0a1.75 1.75 0 1 0 -3.5 0M188.1 66.2a1.75 1.75 0 1 0 3.5 0a1.75 1.75 0 1 0 -3.5 0M194.4 32.6a1.75 1.75 0 1 0 3.5 0a1.75 1.75 0 1 0 -3.5 0M185.2 60.3a1.75 1.75 0 1 0 3.5 0a1.75 1.75 0 1 0 -3.5 0M182.2 52.6a1.75 1.75 0 1 0 3.5 0a1.75 1.75 0 1 0 -3.5 0M200.1 33.5a1.75 1.75 0 1 0 3.5 0a1.75 1.75 0 1 0 -3.5 0M185.1 71.5a1.75 1.75 0 1 0 3.5 0a1.75 1.75 0 1 0 -3.5 0M179.2 53.2a1.75 1.75 0 1 0 3.5 0a1.75 1.75 0 1 0 -3.5 0M186.1 70.7a1.75 1.75 0 1 0 3.5 0a1.75 1.75 0 1 0 -3.5 0M191.6 98.9a1.75 1.75 0 1 0 3.5 0a1.75 1.75 0 1 0 -3.5 0M192.9 78.4a1.75 1.75 0 1 0 3.5 0a1.75 1.75 0 1 0 -3.5 0M191.4 72.3a1.75 1.75 0 1 0 3.5 0a1.75 1.75 0 1 0 -3.5 0M202.4 101.1a1.75 1.75 0 1 0 3.5 0a1.75 1.75 0 1 0 -3.5 0M185.9 88.2a1.75 1.75 0 1 0 3.5 0a1.75 1.75 0 1 0 -3.5 0M190.3 94.8a1.75 1.75 0 1 0 3.5 0a1.75 1.75 0 1 0 -3.5 0M186.1 93.2a1.75 1.75 0 1 0 3.5 0a1.75 1.75 0 1 0 -3.5 0M189.5 75.9a1.75 1.75 0 1 0 3.5 0a1.75 1.75 0 1 0 -3.5 0M184.1 88.8a1.75 1.75 0 1 0 3.5 0a1.75 1.75 0 1 0 -3.5 0M194.2 100.8a1.75 1.75 0 1 0 3.5 0a1.75 1.75 0 1 0 -3.5 0M192.6 90.3a1.75 1.75 0 1 0 3.5 0a1.75 1.75 0 1 0 -3.5 0M183.0 84.4a1.75 1.75 0 1 0 3.5 0a1.75 1.75 0 1 0 -3.5 0M186.2 92.9a1.75 1.75 0 1 0 3.5 0a1.75 1.75 0 1 0 -3.5 0M185.9 78.4a1.75 1.75 0 1 0 3.5 0a1.75 1.75 0 1 0 -3.5 0M188.4 86.1a1.75 1.75 0 1 0 3.5 0a1.75 1.75 0 1 0 -3.5 0M187.7 90.2a1.75 1.75 0 1 0 3.5 0a1.75 1.75 0 1 0 -3.5 0M196.6 88.0a1.75 1.75 0 1 0 3.5 0a1.75 1.75 0 1 0 -3.5 0M180.7 81.8a1.75 1.75 0 1 0 3.5 0a1.75 1.75 0 1 0 -3.5 0M196.5 91.4a1.75 1.75 0 1 0 3.5 0a1.75 1.75 0 1 0 -3.5 0M199.5 98.7a1.75 1.75 0 1 0 3.5 0a1.75 1.75 0 1 0 -3.5 0M187.1 86.8a1.75 1.75 0 1 0 3.5 0a1.75 1.75 0 1 0 -3.5 0M187.5 75.8a1.75 1.75 0 1 0 3.5 0a1.75 1.75 0 1 0 -3.5 0M182.8 79.7a1.75 1.75 0 1 0 3.5 0a1.75 1.75 0 1 0 -3.5 0M196.8 88.9a1.75 1.75 0 1 0 3.5 0a1.75 1.75 0 1 0 -3.5 0M184.2 89.0a1.75 1.75 0 1 0 3.5 0a1.75 1.75 0 1 0 -3.5 0M179.4 72.6a1.75 1.75 0 1 0 3.5 0a1.75 1.75 0 1 0 -3.5 0M186.9 90.5a1.75 1.75 0 1 0 3.5 0a1.75 1.75 0 1 0 -3.5 0M181.4 78.7a1.75 1.75 0 1 0 3.5 0a1.75 1.75 0 1 0 -3.5 0M196.3 101.5a1.75 1.75 0 1 0 3.5 0a1.75 1.75 0 1 0 -3.5 0M187.8 90.0a1.75 1.75 0 1 0 3.5 0a1.75 1.75 0 1 0 -3.5 0M192.2 72.7a1.75 1.75 0 1 0 3.5 0a1.75 1.75 0 1 0 -3.5 0M187.5 76.2a1.75 1.75 0 1 0 3.5 0a1.75 1.75 0 1 0 -3.5 0M185.5 95.1a1.75 1.75 0 1 0 3.5 0a1.75 1.75 0 1 0 -3.5 0M181.8 81.5a1.75 1.75 0 1 0 3.5 0a1.75 1.75 0 1 0 -3.5 0M186.0 73.5a1.75 1.75 0 1 0 3.5 0a1.75 1.75 0 1 0 -3.5 0M180.0 76.2a1.75 1.75 0 1 0 3.5 0a1.75 1.75 0 1 0 -3.5 0M189.2 100.0a1.75 1.75 0 1 0 3.5 0a1.75 1.75 0 1 0 -3.5 0M195.2 79.3a1.75 1.75 0 1 0 3.5 0a1.75 1.75 0 1 0 -3.5 0M196.2 80.2a1.75 1.75 0 1 0 3.5 0a1.75 1.75 0 1 0 -3.5 0M192.1 81.7a1.75 1.75 0 1 0 3.5 0a1.75 1.75 0 1 0 -3.5 0M196.2 90.6a1.75 1.75 0 1 0 3.5 0a1.75 1.75 0 1 0 -3.5 0M192.4 88.9a1.75 1.75 0 1 0 3.5 0a1.75 1.75 0 1 0 -3.5 0M192.6 83.8a1.75 1.75 0 1 0 3.5 0a1.75 1.75 0 1 0 -3.5 0M193.0 73.6a1.75 1.75 0 1 0 3.5 0a1.75 1.75 0 1 0 -3.5 0M192.0 77.3a1.75 1.75 0 1 0 3.5 0a1.75 1.75 0 1 0 -3.5 0M184.6 85.0a1.75 1.75 0 1 0 3.5 0a1.75 1.75 0 1 0 -3.5 0M192.9 79.5a1.75 1.75 0 1 0 3.5 0a1.75 1.75 0 1 0 -3.5 0M186.0 87.9a1.75 1.75 0 1 0 3.5 0a1.75 1.75 0 1 0 -3.5 0M191.1 84.1a1.75 1.75 0 1 0 3.5 0a1.75 1.75 0 1 0 -3.5 0M181.8 83.2a1.75 1.75 0 1 0 3.5 0a1.75 1.75 0 1 0 -3.5 0M195.6 88.3a1.75 1.75 0 1 0 3.5 0a1.75 1.75 0 1 0 -3.5 0M192.9 97.3a1.75 1.75 0 1 0 3.5 0a1.75 1.75 0 1 0 -3.5 0M197.3 92.5a1.75 1.75 0 1 0 3.5 0a1.75 1.75 0 1 0 -3.5 0M180.0 81.2a1.75 1.75 0 1 0 3.5 0a1.75 1.75 0 1 0 -3.5 0M200.3 97.4a1.75 1.75 0 1 0 3.5 0a1.75 1.75 0 1 0 -3.5 0M187.6 98.7a1.75 1.75 0 1 0 3.5 0a1.75 1.75 0 1 0 -3.5 0M188.8 85.2a1.75 1.75 0 1 0 3.5 0a1.75 1.75 0 1 0 -3.5 0M186.0 92.0a1.75 1.75 0 1 0 3.5 0a1.75 1.75 0 1 0 -3.5 0M188.7 88.9a1.75 1.75 0 1 0 3.5 0a1.75 1.75 0 1 0 -3.5 0M189.8 100.0a1.75 1.75 0 1 0 3.5 0a1.75 1.75 0 1 0 -3.5 0M189.5 90.2a1.75 1.75 0 1 0 3.5 0a1.75 1.75 0 1 0 -3.5 0M182.0 76.2a1.75 1.75 0 1 0 3.5 0a1.75 1.75 0 1 0 -3.5 0M192.0 82.7a1.75 1.75 0 1 0 3.5 0a1.75 1.75 0 1 0 -3.5 0M199.3 96.6a1.75 1.75 0 1 0 3.5 0a1.75 1.75 0 1 0 -3.5 0M185.4 96.2a1.75 1.75 0 1 0 3.5 0a1.75 1.75 0 1 0 -3.5 0M185.2 88.9a1.75 1.75 0 1 0 3.5 0a1.75 1.75 0 1 0 -3.5 0M188.2 76.8a1.75 1.75 0 1 0 3.5 0a1.75 1.75 0 1 0 -3.5 0M198.7 99.5a1.75 1.75 0 1 0 3.5 0a1.75 1.75 0 1 0 -3.5 0M187.1 98.4a1.75 1.75 0 1 0 3.5 0a1.75 1.75 0 1 0 -3.5 0M187.9 91.7a1.75 1.75 0 1 0 3.5 0a1.75 1.75 0 1 0 -3.5 0M180.6 85.0a1.75 1.75 0 1 0 3.5 0a1.75 1.75 0 1 0 -3.5 0M188.7 80.8a1.75 1.75 0 1 0 3.5 0a1.75 1.75 0 1 0 -3.5 0M196.7 91.0a1.75 1.75 0 1 0 3.5 0a1.75 1.75 0 1 0 -3.5 0M192.2 73.7a1.75 1.75 0 1 0 3.5 0a1.75 1.75 0 1 0 -3.5 0M196.1 98.7a1.75 1.75 0 1 0 3.5 0a1.75 1.75 0 1 0 -3.5 0M183.6 91.3a1.75 1.75 0 1 0 3.5 0a1.75 1.75 0 1 0 -3.5 0M191.4 82.2a1.75 1.75 0 1 0 3.5 0a1.75 1.75 0 1 0 -3.5 0M209.0 121.5a1.75 1.75 0 1 0 3.5 0a1.75 1.75 0 1 0 -3.5 0M200.8 118.3a1.75 1.75 0 1 0 3.5 0a1.75 1.75 0 1 0 -3.5 0M193.7 107.4a1.75 1.75 0 1 0 3.5 0a1.75 1.75 0 1 0 -3.5 0M210.9 110.1a1.75 1.75 0 1 0 3.5 0a1.75 1.75 0 1 0 -3.5 0M203.0 110.8a1.75 1.75 0 1 0 3.5 0a1.75 1.75 0 1 0 -3.5 0M210.6 115.9a1.75 1.75 0 1 0 3.5 0a1.75 1.75 0 1 0 -3.5 0M196.1 109.7a1.75 1.75 0 1 0 3.5 0a1.75 1.75 0 1 0 -3.5 0M204.8 112.6a1.75 1.75 0 1 0 3.5 0a1.75 1.75 0 1 0 -3.5 0M214.4 118.5a1.75 1.75 0 1 0 3.5 0a1.75 1.75 0 1 0 -3.5 0M195.0 108.3a1.75 1.75 0 1 0 3.5 0a1.75 1.75 0 1 0 -3.5 0M194.0 100.6a1.75 1.75 0 1 0 3.5 0a1.75 1.75 0 1 0 -3.5 0M193.1 104.0a1.75 1.75 0 1 0 3.5 0a1.75 1.75 0 1 0 -3.5 0M210.4 114.7a1.75 1.75 0 1 0 3.5 0a1.75 1.75 0 1 0 -3.5 0M211.9 120.8a1.75 1.75 0 1 0 3.5 0a1.75 1.75 0 1 0 -3.5 0M207.1 116.2a1.75 1.75 0 1 0 3.5 0a1.75 1.75 0 1 0 -3.5 0M201.0 100.1a1.75 1.75 0 1 0 3.5 0a1.75 1.75 0 1 0 -3.5 0M213.9 114.6a1.75 1.75 0 1 0 3.5 0a1.75 1.75 0 1 0 -3.5 0M199.8 105.3a1.75 1.75 0 1 0 3.5 0a1.75 1.75 0 1 0 -3.5 0M210.6 120.6a1.75 1.75 0 1 0 3.5 0a1.75 1.75 0 1 0 -3.5 0M205.9 111.3a1.75 1.75 0 1 0 3.5 0a1.75 1.75 0 1 0 -3.5 0M201.9 117.5a1.75 1.75 0 1 0 3.5 0a1.75 1.75 0 1 0 -3.5 0M214.6 115.9a1.75 1.75 0 1 0 3.5 0a1.75 1.75 0 1 0 -3.5 0M208.8 115.2a1.75 1.75 0 1 0 3.5 0a1.75 1.75 0 1 0 -3.5 0M207.6 111.8a1.75 1.75 0 1 0 3.5 0a1.75 1.75 0 1 0 -3.5 0M197.4 117.1a1.75 1.75 0 1 0 3.5 0a1.75 1.75 0 1 0 -3.5 0M200.9 112.3a1.75 1.75 0 1 0 3.5 0a1.75 1.75 0 1 0 -3.5 0M207.3 110.5a1.75 1.75 0 1 0 3.5 0a1.75 1.75 0 1 0 -3.5 0M199.1 106.1a1.75 1.75 0 1 0 3.5 0a1.75 1.75 0 1 0 -3.5 0M201.6 113.1a1.75 1.75 0 1 0 3.5 0a1.75 1.75 0 1 0 -3.5 0M199.2 111.8a1.75 1.75 0 1 0 3.5 0a1.75 1.75 0 1 0 -3.5 0M202.5 111.0a1.75 1.75 0 1 0 3.5 0a1.75 1.75 0 1 0 -3.5 0M201.7 103.7a1.75 1.75 0 1 0 3.5 0a1.75 1.75 0 1 0 -3.5 0M201.1 108.6a1.75 1.75 0 1 0 3.5 0a1.75 1.75 0 1 0 -3.5 0M200.2 103.3a1.75 1.75 0 1 0 3.5 0a1.75 1.75 0 1 0 -3.5 0M205.4 118.6a1.75 1.75 0 1 0 3.5 0a1.75 1.75 0 1 0 -3.5 0M210.8 113.7a1.75 1.75 0 1 0 3.5 0a1.75 1.75 0 1 0 -3.5 0M209.5 107.4a1.75 1.75 0 1 0 3.5 0a1.75 1.75 0 1 0 -3.5 0M194.8 105.6a1.75 1.75 0 1 0 3.5 0a1.75 1.75 0 1 0 -3.5 0M200.0 106.1a1.75 1.75 0 1 0 3.5 0a1.75 1.75 0 1 0 -3.5 0M202.9 103.3a1.75 1.75 0 1 0 3.5 0a1.75 1.75 0 1 0 -3.5 0M194.5 105.6a1.75 1.75 0 1 0 3.5 0a1.75 1.75 0 1 0 -3.5 0M209.5 122.6a1.75 1.75 0 1 0 3.5 0a1.75 1.75 0 1 0 -3.5 0M210.4 129.0a1.75 1.75 0 1 0 3.5 0a1.75 1.75 0 1 0 -3.5 0M206.5 122.5a1.75 1.75 0 1 0 3.5 0a1.75 1.75 0 1 0 -3.5 0M211.4 120.4a1.75 1.75 0 1 0 3.5 0a1.75 1.75 0 1 0 -3.5 0M214.8 120.0a1.75 1.75 0 1 0 3.5 0a1.75 1.75 0 1 0 -3.5 0M213.9 125.9a1.75 1.75 0 1 0 3.5 0a1.75 1.75 0 1 0 -3.5 0M212.6 129.6a1.75 1.75 0 1 0 3.5 0a1.75 1.75 0 1 0 -3.5 0M206.3 124.1a1.75 1.75 0 1 0 3.5 0a1.75 1.75 0 1 0 -3.5 0M212.1 136.8a1.75 1.75 0 1 0 3.5 0a1.75 1.75 0 1 0 -3.5 0M205.6 128.6a1.75 1.75 0 1 0 3.5 0a1.75 1.75 0 1 0 -3.5 0M210.7 130.1a1.75 1.75 0 1 0 3.5 0a1.75 1.75 0 1 0 -3.5 0M214.1 123.6a1.75 1.75 0 1 0 3.5 0a1.75 1.75 0 1 0 -3.5 0M218.3 130.3a1.75 1.75 0 1 0 3.5 0a1.75 1.75 0 1 0 -3.5 0M211.6 123.4a1.75 1.75 0 1 0 3.5 0a1.75 1.75 0 1 0 -3.5 0M213.1 133.7a1.75 1.75 0 1 0 3.5 0a1.75 1.75 0 1 0 -3.5 0M203.6 119.1a1.75 1.75 0 1 0 3.5 0a1.75 1.75 0 1 0 -3.5 0M200.8 122.6a1.75 1.75 0 1 0 3.5 0a1.75 1.75 0 1 0 -3.5 0M214.3 125.8a1.75 1.75 0 1 0 3.5 0a1.75 1.75 0 1 0 -3.5 0M208.4 130.0a1.75 1.75 0 1 0 3.5 0a1.75 1.75 0 1 0 -3.5 0M212.4 135.6a1.75 1.75 0 1 0 3.5 0a1.75 1.75 0 1 0 -3.5 0M208.8 134.4a1.75 1.75 0 1 0 3.5 0a1.75 1.75 0 1 0 -3.5 0M218.6 132.8a1.75 1.75 0 1 0 3.5 0a1.75 1.75 0 1 0 -3.5 0M207.1 123.9a1.75 1.75 0 1 0 3.5 0a1.75 1.75 0 1 0 -3.5 0M207.8 119.8a1.75 1.75 0 1 0 3.5 0a1.75 1.75 0 1 0 -3.5 0M209.6 135.6a1.75 1.75 0 1 0 3.5 0a1.75 1.75 0 1 0 -3.5 0M212.5 119.8a1.75 1.75 0 1 0 3.5 0a1.75 1.75 0 1 0 -3.5 0M207.1 127.0a1.75 1.75 0 1 0 3.5 0a1.75 1.75 0 1 0 -3.5 0M218.3 129.7a1.75 1.75 0 1 0 3.5 0a1.75 1.75 0 1 0 -3.5 0M209.2 122.5a1.75 1.75 0 1 0 3.5 0a1.75 1.75 0 1 0 -3.5 0M218.9 133.0a1.75 1.75 0 1 0 3.5 0a1.75 1.75 0 1 0 -3.5 0M207.9 134.0a1.75 1.75 0 1 0 3.5 0a1.75 1.75 0 1 0 -3.5 0M202.0 121.7a1.75 1.75 0 1 0 3.5 0a1.75 1.75 0 1 0 -3.5 0M217.3 124.1a1.75 1.75 0 1 0 3.5 0a1.75 1.75 0 1 0 -3.5 0M219.1 134.0a1.75 1.75 0 1 0 3.5 0a1.75 1.75 0 1 0 -3.5 0M224.6 146.9a1.75 1.75 0 1 0 3.5 0a1.75 1.75 0 1 0 -3.5 0M221.9 141.1a1.75 1.75 0 1 0 3.5 0a1.75 1.75 0 1 0 -3.5 0M227.1 143.2a1.75 1.75 0 1 0 3.5 0a1.75 1.75 0 1 0 -3.5 0M217.9 143.7a1.75 1.75 0 1 0 3.5 0a1.75 1.75 0 1 0 -3.5 0M216.0 137.9a1.75 1.75 0 1 0 3.5 0a1.75 1.75 0 1 0 -3.5 0M220.9 147.1a1.75 1.75 0 1 0 3.5 0a1.75 1.75 0 1 0 -3.5 0M224.4 146.1a1.75 1.75 0 1 0 3.5 0a1.75 1.75 0 1 0 -3.5 0M224.5 143.5a1.75 1.75 0 1 0 3.5 0a1.75 1.75 0 1 0 -3.5 0M216.3 140.8a1.75 1.75 0 1 0 3.5 0a1.75 1.75 0 1 0 -3.5 0M220.2 144.3a1.75 1.75 0 1 0 3.5 0a1.75 1.75 0 1 0 -3.5 0M220.7 142.3a1.75 1.75 0 1 0 3.5 0a1.75 1.75 0 1 0 -3.5 0M221.7 147.0a1.75 1.75 0 1 0 3.5 0a1.75 1.75 0 1 0 -3.5 0M218.3 142.5a1.75 1.75 0 1 0 3.5 0a1.75 1.75 0 1 0 -3.5 0M213.1 140.2a1.75 1.75 0 1 0 3.5 0a1.75 1.75 0 1 0 -3.5 0M212.9 137.4a1.75 1.75 0 1 0 3.5 0a1.75 1.75 0 1 0 -3.5 0M216.0 142.6a1.75 1.75 0 1 0 3.5 0a1.75 1.75 0 1 0 -3.5 0M225.0 148.9a1.75 1.75 0 1 0 3.5 0a1.75 1.75 0 1 0 -3.5 0M235.9 156.1a1.75 1.75 0 1 0 3.5 0a1.75 1.75 0 1 0 -3.5 0M222.9 148.0a1.75 1.75 0 1 0 3.5 0a1.75 1.75 0 1 0 -3.5 0M232.3 159.3a1.75 1.75 0 1 0 3.5 0a1.75 1.75 0 1 0 -3.5 0M231.1 155.6a1.75 1.75 0 1 0 3.5 0a1.75 1.75 0 1 0 -3.5 0M232.1 148.1a1.75 1.75 0 1 0 3.5 0a1.75 1.75 0 1 0 -3.5 0M226.5 148.2a1.75 1.75 0 1 0 3.5 0a1.75 1.75 0 1 0 -3.5 0M226.5 150.2a1.75 1.75 0 1 0 3.5 0a1.75 1.75 0 1 0 -3.5 0M226.7 154.2a1.75 1.75 0 1 0 3.5 0a1.75 1.75 0 1 0 -3.5 0M234.1 151.5a1.75 1.75 0 1 0 3.5 0a1.75 1.75 0 1 0 -3.5 0M236.2 161.6a1.75 1.75 0 1 0 3.5 0a1.75 1.75 0 1 0 -3.5 0M229.3 152.5a1.75 1.75 0 1 0 3.5 0a1.75 1.75 0 1 0 -3.5 0M231.7 157.0a1.75 1.75 0 1 0 3.5 0a1.75 1.75 0 1 0 -3.5 0M236.2 153.4a1.75 1.75 0 1 0 3.5 0a1.75 1.75 0 1 0 -3.5 0M224.1 149.0a1.75 1.75 0 1 0 3.5 0a1.75 1.75 0 1 0 -3.5 0M231.6 148.8a1.75 1.75 0 1 0 3.5 0a1.75 1.75 0 1 0 -3.5 0M226.5 149.9a1.75 1.75 0 1 0 3.5 0a1.75 1.75 0 1 0 -3.5 0M233.8 150.3a1.75 1.75 0 1 0 3.5 0a1.75 1.75 0 1 0 -3.5 0M226.3 155.3a1.75 1.75 0 1 0 3.5 0a1.75 1.75 0 1 0 -3.5 0M225.6 151.3a1.75 1.75 0 1 0 3.5 0a1.75 1.75 0 1 0 -3.5 0M230.1 152.6a1.75 1.75 0 1 0 3.5 0a1.75 1.75 0 1 0 -3.5 0M228.5 156.8a1.75 1.75 0 1 0 3.5 0a1.75 1.75 0 1 0 -3.5 0M225.4 149.7a1.75 1.75 0 1 0 3.5 0a1.75 1.75 0 1 0 -3.5 0M233.2 151.5a1.75 1.75 0 1 0 3.5 0a1.75 1.75 0 1 0 -3.5 0M229.8 147.3a1.75 1.75 0 1 0 3.5 0a1.75 1.75 0 1 0 -3.5 0M233.5 161.9a1.75 1.75 0 1 0 3.5 0a1.75 1.75 0 1 0 -3.5 0M241.4 172.0a1.75 1.75 0 1 0 3.5 0a1.75 1.75 0 1 0 -3.5 0M245.6 167.8a1.75 1.75 0 1 0 3.5 0a1.75 1.75 0 1 0 -3.5 0M242.4 166.2a1.75 1.75 0 1 0 3.5 0a1.75 1.75 0 1 0 -3.5 0M234.2 167.6a1.75 1.75 0 1 0 3.5 0a1.75 1.75 0 1 0 -3.5 0M242.4 174.5a1.75 1.75 0 1 0 3.5 0a1.75 1.75 0 1 0 -3.5 0M245.6 175.0a1.75 1.75 0 1 0 3.5 0a1.75 1.75 0 1 0 -3.5 0M240.6 169.9a1.75 1.75 0 1 0 3.5 0a1.75 1.75 0 1 0 -3.5 0M239.8 168.6a1.75 1.75 0 1 0 3.5 0a1.75 1.75 0 1 0 -3.5 0M242.1 170.4a1.75 1.75 0 1 0 3.5 0a1.75 1.75 0 1 0 -3.5 0M244.4 168.1a1.75 1.75 0 1 0 3.5 0a1.75 1.75 0 1 0 -3.5 0M239.4 175.0a1.75 1.75 0 1 0 3.5 0a1.75 1.75 0 1 0 -3.5 0M242.0 169.4a1.75 1.75 0 1 0 3.5 0a1.75 1.75 0 1 0 -3.5 0M240.6 174.5a1.75 1.75 0 1 0 3.5 0a1.75 1.75 0 1 0 -3.5 0M241.1 164.7a1.75 1.75 0 1 0 3.5 0a1.75 1.75 0 1 0 -3.5 0M237.3 170.9a1.75 1.75 0 1 0 3.5 0a1.75 1.75 0 1 0 -3.5 0M233.8 168.2a1.75 1.75 0 1 0 3.5 0a1.75 1.75 0 1 0 -3.5 0M244.8 164.2a1.75 1.75 0 1 0 3.5 0a1.75 1.75 0 1 0 -3.5 0M239.0 172.6a1.75 1.75 0 1 0 3.5 0a1.75 1.75 0 1 0 -3.5 0M245.3 172.5a1.75 1.75 0 1 0 3.5 0a1.75 1.75 0 1 0 -3.5 0M241.4 166.9a1.75 1.75 0 1 0 3.5 0a1.75 1.75 0 1 0 -3.5 0M238.9 171.6a1.75 1.75 0 1 0 3.5 0a1.75 1.75 0 1 0 -3.5 0M237.9 174.1a1.75 1.75 0 1 0 3.5 0a1.75 1.75 0 1 0 -3.5 0M242.9 165.5a1.75 1.75 0 1 0 3.5 0a1.75 1.75 0 1 0 -3.5 0M233.4 166.1a1.75 1.75 0 1 0 3.5 0a1.75 1.75 0 1 0 -3.5 0M240.9 174.2a1.75 1.75 0 1 0 3.5 0a1.75 1.75 0 1 0 -3.5 0M244.6 163.8a1.75 1.75 0 1 0 3.5 0a1.75 1.75 0 1 0 -3.5 0M234.3 162.2a1.75 1.75 0 1 0 3.5 0a1.75 1.75 0 1 0 -3.5 0M234.9 172.4a1.75 1.75 0 1 0 3.5 0a1.75 1.75 0 1 0 -3.5 0M245.7 170.9a1.75 1.75 0 1 0 3.5 0a1.75 1.75 0 1 0 -3.5 0M236.3 177.3a1.75 1.75 0 1 0 3.5 0a1.75 1.75 0 1 0 -3.5 0M242.4 163.3a1.75 1.75 0 1 0 3.5 0a1.75 1.75 0 1 0 -3.5 0M243.2 169.1a1.75 1.75 0 1 0 3.5 0a1.75 1.75 0 1 0 -3.5 0M240.7 166.6a1.75 1.75 0 1 0 3.5 0a1.75 1.75 0 1 0 -3.5 0M237.1 167.6a1.75 1.75 0 1 0 3.5 0a1.75 1.75 0 1 0 -3.5 0M240.1 168.3a1.75 1.75 0 1 0 3.5 0a1.75 1.75 0 1 0 -3.5 0M244.5 161.3a1.75 1.75 0 1 0 3.5 0a1.75 1.75 0 1 0 -3.5 0M235.8 176.9a1.75 1.75 0 1 0 3.5 0a1.75 1.75 0 1 0 -3.5 0M241.2 171.1a1.75 1.75 0 1 0 3.5 0a1.75 1.75 0 1 0 -3.5 0M241.4 164.4a1.75 1.75 0 1 0 3.5 0a1.75 1.75 0 1 0 -3.5 0M238.4 163.8a1.75 1.75 0 1 0 3.5 0a1.75 1.75 0 1 0 -3.5 0M242.9 175.8a1.75 1.75 0 1 0 3.5 0a1.75 1.75 0 1 0 -3.5 0M237.2 169.0a1.75 1.75 0 1 0 3.5 0a1.75 1.75 0 1 0 -3.5 0M242.0 160.6a1.75 1.75 0 1 0 3.5 0a1.75 1.75 0 1 0 -3.5 0M238.1 170.0a1.75 1.75 0 1 0 3.5 0a1.75 1.75 0 1 0 -3.5 0M244.6 169.2a1.75 1.75 0 1 0 3.5 0a1.75 1.75 0 1 0 -3.5 0M237.4 170.9a1.75 1.75 0 1 0 3.5 0a1.75 1.75 0 1 0 -3.5 0M240.8 165.3a1.75 1.75 0 1 0 3.5 0a1.75 1.75 0 1 0 -3.5 0M240.4 165.0a1.75 1.75 0 1 0 3.5 0a1.75 1.75 0 1 0 -3.5 0M233.4 165.6a1.75 1.75 0 1 0 3.5 0a1.75 1.75 0 1 0 -3.5 0M234.4 168.9a1.75 1.75 0 1 0 3.5 0a1.75 1.75 0 1 0 -3.5 0M239.8 175.7a1.75 1.75 0 1 0 3.5 0a1.75 1.75 0 1 0 -3.5 0M208.5 94.0a1.75 1.75 0 1 0 3.5 0a1.75 1.75 0 1 0 -3.5 0M204.4 73.2a1.75 1.75 0 1 0 3.5 0a1.75 1.75 0 1 0 -3.5 0M205.9 69.2a1.75 1.75 0 1 0 3.5 0a1.75 1.75 0 1 0 -3.5 0M203.9 64.7a1.75 1.75 0 1 0 3.5 0a1.75 1.75 0 1 0 -3.5 0M202.5 75.8a1.75 1.75 0 1 0 3.5 0a1.75 1.75 0 1 0 -3.5 0M206.3 74.1a1.75 1.75 0 1 0 3.5 0a1.75 1.75 0 1 0 -3.5 0M202.8 72.4a1.75 1.75 0 1 0 3.5 0a1.75 1.75 0 1 0 -3.5 0M206.4 82.1a1.75 1.75 0 1 0 3.5 0a1.75 1.75 0 1 0 -3.5 0M203.9 80.3a1.75 1.75 0 1 0 3.5 0a1.75 1.75 0 1 0 -3.5 0M207.3 94.5a1.75 1.75 0 1 0 3.5 0a1.75 1.75 0 1 0 -3.5 0M202.7 71.1a1.75 1.75 0 1 0 3.5 0a1.75 1.75 0 1 0 -3.5 0M201.9 97.3a1.75 1.75 0 1 0 3.5 0a1.75 1.75 0 1 0 -3.5 0M201.9 65.7a1.75 1.75 0 1 0 3.5 0a1.75 1.75 0 1 0 -3.5 0M203.4 77.8a1.75 1.75 0 1 0 3.5 0a1.75 1.75 0 1 0 -3.5 0M206.7 81.7a1.75 1.75 0 1 0 3.5 0a1.75 1.75 0 1 0 -3.5 0M209.0 90.6a1.75 1.75 0 1 0 3.5 0a1.75 1.75 0 1 0 -3.5 0M202.7 75.4a1.75 1.75 0 1 0 3.5 0a1.75 1.75 0 1 0 -3.5 0M203.0 80.9a1.75 1.75 0 1 0 3.5 0a1.75 1.75 0 1 0 -3.5 0M203.0 65.3a1.75 1.75 0 1 0 3.5 0a1.75 1.75 0 1 0 -3.5 0M203.0 71.8a1.75 1.75 0 1 0 3.5 0a1.75 1.75 0 1 0 -3.5 0M204.1 82.2a1.75 1.75 0 1 0 3.5 0a1.75 1.75 0 1 0 -3.5 0M209.9 90.4a1.75 1.75 0 1 0 3.5 0a1.75 1.75 0 1 0 -3.5 0M207.0 98.6a1.75 1.75 0 1 0 3.5 0a1.75 1.75 0 1 0 -3.5 0M204.5 81.0a1.75 1.75 0 1 0 3.5 0a1.75 1.75 0 1 0 -3.5 0M202.9 97.2a1.75 1.75 0 1 0 3.5 0a1.75 1.75 0 1 0 -3.5 0M206.9 68.6a1.75 1.75 0 1 0 3.5 0a1.75 1.75 0 1 0 -3.5 0M210.0 85.3a1.75 1.75 0 1 0 3.5 0a1.75 1.75 0 1 0 -3.5 0M208.6 78.8a1.75 1.75 0 1 0 3.5 0a1.75 1.75 0 1 0 -3.5 0M205.3 78.1a1.75 1.75 0 1 0 3.5 0a1.75 1.75 0 1 0 -3.5 0M204.6 82.9a1.75 1.75 0 1 0 3.5 0a1.75 1.75 0 1 0 -3.5 0M209.8 92.5a1.75 1.75 0 1 0 3.5 0a1.75 1.75 0 1 0 -3.5 0M207.2 69.4a1.75 1.75 0 1 0 3.5 0a1.75 1.75 0 1 0 -3.5 0M202.8 89.8a1.75 1.75 0 1 0 3.5 0a1.75 1.75 0 1 0 -3.5 0M202.1 98.2a1.75 1.75 0 1 0 3.5 0a1.75 1.75 0 1 0 -3.5 0M203.7 81.1a1.75 1.75 0 1 0 3.5 0a1.75 1.75 0 1 0 -3.5 0M206.3 99.5a1.75 1.75 0 1 0 3.5 0a1.75 1.75 0 1 0 -3.5 0M202.3 85.4a1.75 1.75 0 1 0 3.5 0a1.75 1.75 0 1 0 -3.5 0M202.4 78.2a1.75 1.75 0 1 0 3.5 0a1.75 1.75 0 1 0 -3.5 0M210.8 84.3a1.75 1.75 0 1 0 3.5 0a1.75 1.75 0 1 0 -3.5 0M208.8 89.1a1.75 1.75 0 1 0 3.5 0a1.75 1.75 0 1 0 -3.5 0M207.6 77.7a1.75 1.75 0 1 0 3.5 0a1.75 1.75 0 1 0 -3.5 0M202.6 73.9a1.75 1.75 0 1 0 3.5 0a1.75 1.75 0 1 0 -3.5 0M209.6 77.1a1.75 1.75 0 1 0 3.5 0a1.75 1.75 0 1 0 -3.5 0M204.7 78.4a1.75 1.75 0 1 0 3.5 0a1.75 1.75 0 1 0 -3.5 0M204.3 99.6a1.75 1.75 0 1 0 3.5 0a1.75 1.75 0 1 0 -3.5 0M203.7 84.4a1.75 1.75 0 1 0 3.5 0a1.75 1.75 0 1 0 -3.5 0M210.2 85.6a1.75 1.75 0 1 0 3.5 0a1.75 1.75 0 1 0 -3.5 0M210.2 85.7a1.75 1.75 0 1 0 3.5 0a1.75 1.75 0 1 0 -3.5 0M205.0 98.9a1.75 1.75 0 1 0 3.5 0a1.75 1.75 0 1 0 -3.5 0M206.6 83.0a1.75 1.75 0 1 0 3.5 0a1.75 1.75 0 1 0 -3.5 0M205.9 78.2a1.75 1.75 0 1 0 3.5 0a1.75 1.75 0 1 0 -3.5 0M205.0 67.0a1.75 1.75 0 1 0 3.5 0a1.75 1.75 0 1 0 -3.5 0M202.5 94.5a1.75 1.75 0 1 0 3.5 0a1.75 1.75 0 1 0 -3.5 0M207.0 91.1a1.75 1.75 0 1 0 3.5 0a1.75 1.75 0 1 0 -3.5 0M215.7 110.4a1.75 1.75 0 1 0 3.5 0a1.75 1.75 0 1 0 -3.5 0M212.7 114.9a1.75 1.75 0 1 0 3.5 0a1.75 1.75 0 1 0 -3.5 0M217.6 116.0a1.75 1.75 0 1 0 3.5 0a1.75 1.75 0 1 0 -3.5 0M212.4 113.8a1.75 1.75 0 1 0 3.5 0a1.75 1.75 0 1 0 -3.5 0M209.6 108.6a1.75 1.75 0 1 0 3.5 0a1.75 1.75 0 1 0 -3.5 0M212.9 114.7a1.75 1.75 0 1 0 3.5 0a1.75 1.75 0 1 0 -3.5 0M210.6 108.8a1.75 1.75 0 1 0 3.5 0a1.75 1.75 0 1 0 -3.5 0M274.9 175.6a1.75 1.75 0 1 0 3.5 0a1.75 1.75 0 1 0 -3.5 0M273.5 159.2a1.75 1.75 0 1 0 3.5 0a1.75 1.75 0 1 0 -3.5 0M256.2 153.1a1.75 1.75 0 1 0 3.5 0a1.75 1.75 0 1 0 -3.5 0M259.4 152.2a1.75 1.75 0 1 0 3.5 0a1.75 1.75 0 1 0 -3.5 0M263.9 166.2a1.75 1.75 0 1 0 3.5 0a1.75 1.75 0 1 0 -3.5 0M273.1 163.0a1.75 1.75 0 1 0 3.5 0a1.75 1.75 0 1 0 -3.5 0M275.0 167.0a1.75 1.75 0 1 0 3.5 0a1.75 1.75 0 1 0 -3.5 0M262.4 154.1a1.75 1.75 0 1 0 3.5 0a1.75 1.75 0 1 0 -3.5 0M265.7 160.9a1.75 1.75 0 1 0 3.5 0a1.75 1.75 0 1 0 -3.5 0M273.2 175.0a1.75 1.75 0 1 0 3.5 0a1.75 1.75 0 1 0 -3.5 0M265.7 158.0a1.75 1.75 0 1 0 3.5 0a1.75 1.75 0 1 0 -3.5 0M284.9 178.8a1.75 1.75 0 1 0 3.5 0a1.75 1.75 0 1 0 -3.5 0M273.3 168.0a1.75 1.75 0 1 0 3.5 0a1.75 1.75 0 1 0 -3.5 0M288.6 171.8a1.75 1.75 0 1 0 3.5 0a1.75 1.75 0 1 0 -3.5 0M273.0 159.9a1.75 1.75 0 1 0 3.5 0a1.75 1.75 0 1 0 -3.5 0M273.0 169.7a1.75 1.75 0 1 0 3.5 0a1.75 1.75 0 1 0 -3.5 0M278.5 166.5a1.75 1.75 0 1 0 3.5 0a1.75 1.75 0 1 0 -3.5 0M255.4 157.7a1.75 1.75 0 1 0 3.5 0a1.75 1.75 0 1 0 -3.5 0M284.9 178.2a1.75 1.75 0 1 0 3.5 0a1.75 1.75 0 1 0 -3.5 0M255.9 159.6a1.75 1.75 0 1 0 3.5 0a1.75 1.75 0 1 0 -3.5 0M277.0 160.4a1.75 1.75 0 1 0 3.5 0a1.75 1.75 0 1 0 -3.5 0M291.7 179.7a1.75 1.75 0 1 0 3.5 0a1.75 1.75 0 1 0 -3.5 0M253.7 150.5a1.75 1.75 0 1 0 3.5 0a1.75 1.75 0 1 0 -3.5 0M272.6 157.1a1.75 1.75 0 1 0 3.5 0a1.75 1.75 0 1 0 -3.5 0M268.4 162.1a1.75 1.75 0 1 0 3.5 0a1.75 1.75 0 1 0 -3.5 0M265.0 166.2a1.75 1.75 0 1 0 3.5 0a1.75 1.75 0 1 0 -3.5 0M280.6 164.7a1.75 1.75 0 1 0 3.5 0a1.75 1.75 0 1 0 -3.5 0M252.5 155.5a1.75 1.75 0 1 0 3.5 0a1.75 1.75 0 1 0 -3.5 0M249.9 147.8a1.75 1.75 0 1 0 3.5 0a1.75 1.75 0 1 0 -3.5 0M282.4 162.3a1.75 1.75 0 1 0 3.5 0a1.75 1.75 0 1 0 -3.5 0M272.1 157.1a1.75 1.75 0 1 0 3.5 0a1.75 1.75 0 1 0 -3.5 0M287.3 169.6a1.75 1.75 0 1 0 3.5 0a1.75 1.75 0 1 0 -3.5 0M252.8 144.1a1.75 1.75 0 1 0 3.5 0a1.75 1.75 0 1 0 -3.5 0M250.6 146.1a1.75 1.75 0 1 0 3.5 0a1.75 1.75 0 1 0 -3.5 0M264.7 152.9a1.75 1.75 0 1 0 3.5 0a1.75 1.75 0 1 0 -3.5 0M269.7 157.8a1.75 1.75 0 1 0 3.5 0a1.75 1.75 0 1 0 -3.5 0M269.8 157.8a1.75 1.75 0 1 0 3.5 0a1.75 1.75 0 1 0 -3.5 0M268.4 161.5a1.75 1.75 0 1 0 3.5 0a1.75 1.75 0 1 0 -3.5 0M271.8 152.7a1.75 1.75 0 1 0 3.5 0a1.75 1.75 0 1 0 -3.5 0M284.5 178.1a1.75 1.75 0 1 0 3.5 0a1.75 1.75 0 1 0 -3.5 0M272.8 165.4a1.75 1.75 0 1 0 3.5 0a1.75 1.75 0 1 0 -3.5 0M274.3 158.5a1.75 1.75 0 1 0 3.5 0a1.75 1.75 0 1 0 -3.5 0M269.6 155.8a1.75 1.75 0 1 0 3.5 0a1.75 1.75 0 1 0 -3.5 0M258.9 148.0a1.75 1.75 0 1 0 3.5 0a1.75 1.75 0 1 0 -3.5 0M282.6 176.2a1.75 1.75 0 1 0 3.5 0a1.75 1.75 0 1 0 -3.5 0M264.2 163.8a1.75 1.75 0 1 0 3.5 0a1.75 1.75 0 1 0 -3.5 0M277.3 156.4a1.75 1.75 0 1 0 3.5 0a1.75 1.75 0 1 0 -3.5 0M282.9 174.1a1.75 1.75 0 1 0 3.5 0a1.75 1.75 0 1 0 -3.5 0M260.9 149.0a1.75 1.75 0 1 0 3.5 0a1.75 1.75 0 1 0 -3.5 0M265.7 167.9a1.75 1.75 0 1 0 3.5 0a1.75 1.75 0 1 0 -3.5 0M282.6 173.6a1.75 1.75 0 1 0 3.5 0a1.75 1.75 0 1 0 -3.5 0M258.0 142.6a1.75 1.75 0 1 0 3.5 0a1.75 1.75 0 1 0 -3.5 0M246.5 140.3a1.75 1.75 0 1 0 3.5 0a1.75 1.75 0 1 0 -3.5 0M249.0 137.4a1.75 1.75 0 1 0 3.5 0a1.75 1.75 0 1 0 -3.5 0M249.6 159.6a1.75 1.75 0 1 0 3.5 0a1.75 1.75 0 1 0 -3.5 0M242.2 145.4a1.75 1.75 0 1 0 3.5 0a1.75 1.75 0 1 0 -3.5 0M247.2 150.4a1.75 1.75 0 1 0 3.5 0a1.75 1.75 0 1 0 -3.5 0M255.6 158.2a1.75 1.75 0 1 0 3.5 0a1.75 1.75 0 1 0 -3.5 0M236.5 133.1a1.75 1.75 0 1 0 3.5 0a1.75 1.75 0 1 0 -3.5 0M245.9 132.2a1.75 1.75 0 1 0 3.5 0a1.75 1.75 0 1 0 -3.5 0M234.6 138.7a1.75 1.75 0 1 0 3.5 0a1.75 1.75 0 1 0 -3.5 0M251.1 150.5a1.75 1.75 0 1 0 3.5 0a1.75 1.75 0 1 0 -3.5 0M239.2 132.4a1.75 1.75 0 1 0 3.5 0a1.75 1.75 0 1 0 -3.5 0M240.2 133.6a1.75 1.75 0 1 0 3.5 0a1.75 1.75 0 1 0 -3.5 0M237.1 143.9a1.75 1.75 0 1 0 3.5 0a1.75 1.75 0 1 0 -3.5 0M245.4 132.6a1.75 1.75 0 1 0 3.5 0a1.75 1.75 0 1 0 -3.5 0M240.3 132.4a1.75 1.75 0 1 0 3.5 0a1.75 1.75 0 1 0 -3.5 0M244.5 156.4a1.75 1.75 0 1 0 3.5 0a1.75 1.75 0 1 0 -3.5 0M251.2 154.0a1.75 1.75 0 1 0 3.5 0a1.75 1.75 0 1 0 -3.5 0M241.3 131.4a1.75 1.75 0 1 0 3.5 0a1.75 1.75 0 1 0 -3.5 0M249.2 159.8a1.75 1.75 0 1 0 3.5 0a1.75 1.75 0 1 0 -3.5 0M244.3 148.9a1.75 1.75 0 1 0 3.5 0a1.75 1.75 0 1 0 -3.5 0M240.5 139.2a1.75 1.75 0 1 0 3.5 0a1.75 1.75 0 1 0 -3.5 0M250.0 141.2a1.75 1.75 0 1 0 3.5 0a1.75 1.75 0 1 0 -3.5 0M240.5 145.6a1.75 1.75 0 1 0 3.5 0a1.75 1.75 0 1 0 -3.5 0M236.4 130.1a1.75 1.75 0 1 0 3.5 0a1.75 1.75 0 1 0 -3.5 0M237.2 128.7a1.75 1.75 0 1 0 3.5 0a1.75 1.75 0 1 0 -3.5 0M248.0 142.6a1.75 1.75 0 1 0 3.5 0a1.75 1.75 0 1 0 -3.5 0M246.7 146.2a1.75 1.75 0 1 0 3.5 0a1.75 1.75 0 1 0 -3.5 0M242.0 153.1a1.75 1.75 0 1 0 3.5 0a1.75 1.75 0 1 0 -3.5 0M248.6 149.1a1.75 1.75 0 1 0 3.5 0a1.75 1.75 0 1 0 -3.5 0M253.9 152.9a1.75 1.75 0 1 0 3.5 0a1.75 1.75 0 1 0 -3.5 0M242.6 150.0a1.75 1.75 0 1 0 3.5 0a1.75 1.75 0 1 0 -3.5 0M244.3 146.7a1.75 1.75 0 1 0 3.5 0a1.75 1.75 0 1 0 -3.5 0M268.9 202.8a1.75 1.75 0 1 0 3.5 0a1.75 1.75 0 1 0 -3.5 0M272.5 175.3a1.75 1.75 0 1 0 3.5 0a1.75 1.75 0 1 0 -3.5 0M269.7 193.5a1.75 1.75 0 1 0 3.5 0a1.75 1.75 0 1 0 -3.5 0M264.8 170.8a1.75 1.75 0 1 0 3.5 0a1.75 1.75 0 1 0 -3.5 0M279.4 221.9a1.75 1.75 0 1 0 3.5 0a1.75 1.75 0 1 0 -3.5 0M272.4 193.3a1.75 1.75 0 1 0 3.5 0a1.75 1.75 0 1 0 -3.5 0M274.5 204.7a1.75 1.75 0 1 0 3.5 0a1.75 1.75 0 1 0 -3.5 0M274.6 190.0a1.75 1.75 0 1 0 3.5 0a1.75 1.75 0 1 0 -3.5 0M273.3 208.1a1.75 1.75 0 1 0 3.5 0a1.75 1.75 0 1 0 -3.5 0M272.6 170.8a1.75 1.75 0 1 0 3.5 0a1.75 1.75 0 1 0 -3.5 0M275.5 215.5a1.75 1.75 0 1 0 3.5 0a1.75 1.75 0 1 0 -3.5 0M271.3 172.4a1.75 1.75 0 1 0 3.5 0a1.75 1.75 0 1 0 -3.5 0M270.1 201.2a1.75 1.75 0 1 0 3.5 0a1.75 1.75 0 1 0 -3.5 0M275.1 198.4a1.75 1.75 0 1 0 3.5 0a1.75 1.75 0 1 0 -3.5 0M271.7 169.3a1.75 1.75 0 1 0 3.5 0a1.75 1.75 0 1 0 -3.5 0M275.6 182.5a1.75 1.75 0 1 0 3.5 0a1.75 1.75 0 1 0 -3.5 0M276.0 191.5a1.75 1.75 0 1 0 3.5 0a1.75 1.75 0 1 0 -3.5 0M273.3 196.9a1.75 1.75 0 1 0 3.5 0a1.75 1.75 0 1 0 -3.5 0M269.4 176.7a1.75 1.75 0 1 0 3.5 0a1.75 1.75 0 1 0 -3.5 0M277.7 192.5a1.75 1.75 0 1 0 3.5 0a1.75 1.75 0 1 0 -3.5 0M275.4 177.2a1.75 1.75 0 1 0 3.5 0a1.75 1.75 0 1 0 -3.5 0M273.9 203.9a1.75 1.75 0 1 0 3.5 0a1.75 1.75 0 1 0 -3.5 0M278.7 204.3a1.75 1.75 0 1 0 3.5 0a1.75 1.75 0 1 0 -3.5 0M272.1 205.4a1.75 1.75 0 1 0 3.5 0a1.75 1.75 0 1 0 -3.5 0M275.6 193.7a1.75 1.75 0 1 0 3.5 0a1.75 1.75 0 1 0 -3.5 0M276.2 184.2a1.75 1.75 0 1 0 3.5 0a1.75 1.75 0 1 0 -3.5 0M265.5 175.3a1.75 1.75 0 1 0 3.5 0a1.75 1.75 0 1 0 -3.5 0M280.2 211.2a1.75 1.75 0 1 0 3.5 0a1.75 1.75 0 1 0 -3.5 0M274.5 184.0a1.75 1.75 0 1 0 3.5 0a1.75 1.75 0 1 0 -3.5 0M272.7 207.9a1.75 1.75 0 1 0 3.5 0a1.75 1.75 0 1 0 -3.5 0M274.5 210.1a1.75 1.75 0 1 0 3.5 0a1.75 1.75 0 1 0 -3.5 0M273.0 167.7a1.75 1.75 0 1 0 3.5 0a1.75 1.75 0 1 0 -3.5 0M277.4 198.7a1.75 1.75 0 1 0 3.5 0a1.75 1.75 0 1 0 -3.5 0M275.8 202.7a1.75 1.75 0 1 0 3.5 0a1.75 1.75 0 1 0 -3.5 0M277.3 219.0a1.75 1.75 0 1 0 3.5 0a1.75 1.75 0 1 0 -3.5 0M272.7 201.2a1.75 1.75 0 1 0 3.5 0a1.75 1.75 0 1 0 -3.5 0M274.3 200.0a1.75 1.75 0 1 0 3.5 0a1.75 1.75 0 1 0 -3.5 0M265.3 173.5a1.75 1.75 0 1 0 3.5 0a1.75 1.75 0 1 0 -3.5 0M267.3 175.4a1.75 1.75 0 1 0 3.5 0a1.75 1.75 0 1 0 -3.5 0M271.0 205.6a1.75 1.75 0 1 0 3.5 0a1.75 1.75 0 1 0 -3.5 0M274.9 181.9a1.75 1.75 0 1 0 3.5 0a1.75 1.75 0 1 0 -3.5 0M269.6 193.6a1.75 1.75 0 1 0 3.5 0a1.75 1.75 0 1 0 -3.5 0M272.5 212.3a1.75 1.75 0 1 0 3.5 0a1.75 1.75 0 1 0 -3.5 0M270.4 179.2a1.75 1.75 0 1 0 3.5 0a1.75 1.75 0 1 0 -3.5 0M279.0 206.3a1.75 1.75 0 1 0 3.5 0a1.75 1.75 0 1 0 -3.5 0M279.4 205.6a1.75 1.75 0 1 0 3.5 0a1.75 1.75 0 1 0 -3.5 0M271.5 169.0a1.75 1.75 0 1 0 3.5 0a1.75 1.75 0 1 0 -3.5 0M278.8 192.6a1.75 1.75 0 1 0 3.5 0a1.75 1.75 0 1 0 -3.5 0M272.5 195.9a1.75 1.75 0 1 0 3.5 0a1.75 1.75 0 1 0 -3.5 0M266.1 180.6a1.75 1.75 0 1 0 3.5 0a1.75 1.75 0 1 0 -3.5 0M275.2 177.0a1.75 1.75 0 1 0 3.5 0a1.75 1.75 0 1 0 -3.5 0M271.1 203.0a1.75 1.75 0 1 0 3.5 0a1.75 1.75 0 1 0 -3.5 0M275.6 217.1a1.75 1.75 0 1 0 3.5 0a1.75 1.75 0 1 0 -3.5 0M272.5 198.0a1.75 1.75 0 1 0 3.5 0a1.75 1.75 0 1 0 -3.5 0M272.3 209.3a1.75 1.75 0 1 0 3.5 0a1.75 1.75 0 1 0 -3.5 0M276.1 219.9a1.75 1.75 0 1 0 3.5 0a1.75 1.75 0 1 0 -3.5 0M266.9 174.1a1.75 1.75 0 1 0 3.5 0a1.75 1.75 0 1 0 -3.5 0M269.8 201.5a1.75 1.75 0 1 0 3.5 0a1.75 1.75 0 1 0 -3.5 0M276.4 178.3a1.75 1.75 0 1 0 3.5 0a1.75 1.75 0 1 0 -3.5 0M269.4 200.3a1.75 1.75 0 1 0 3.5 0a1.75 1.75 0 1 0 -3.5 0M279.1 219.8a1.75 1.75 0 1 0 3.5 0a1.75 1.75 0 1 0 -3.5 0M276.8 218.0a1.75 1.75 0 1 0 3.5 0a1.75 1.75 0 1 0 -3.5 0M288.5 186.5a1.75 1.75 0 1 0 3.5 0a1.75 1.75 0 1 0 -3.5 0M288.3 181.1a1.75 1.75 0 1 0 3.5 0a1.75 1.75 0 1 0 -3.5 0M288.9 185.0a1.75 1.75 0 1 0 3.5 0a1.75 1.75 0 1 0 -3.5 0M286.2 176.2a1.75 1.75 0 1 0 3.5 0a1.75 1.75 0 1 0 -3.5 0M288.4 203.1a1.75 1.75 0 1 0 3.5 0a1.75 1.75 0 1 0 -3.5 0M285.2 198.9a1.75 1.75 0 1 0 3.5 0a1.75 1.75 0 1 0 -3.5 0M282.0 172.9a1.75 1.75 0 1 0 3.5 0a1.75 1.75 0 1 0 -3.5 0M288.9 185.1a1.75 1.75 0 1 0 3.5 0a1.75 1.75 0 1 0 -3.5 0M286.6 183.1a1.75 1.75 0 1 0 3.5 0a1.75 1.75 0 1 0 -3.5 0M279.8 181.8a1.75 1.75 0 1 0 3.5 0a1.75 1.75 0 1 0 -3.5 0M282.9 189.2a1.75 1.75 0 1 0 3.5 0a1.75 1.75 0 1 0 -3.5 0M286.7 199.2a1.75 1.75 0 1 0 3.5 0a1.75 1.75 0 1 0 -3.5 0M286.8 200.1a1.75 1.75 0 1 0 3.5 0a1.75 1.75 0 1 0 -3.5 0M282.2 191.3a1.75 1.75 0 1 0 3.5 0a1.75 1.75 0 1 0 -3.5 0M291.1 192.3a1.75 1.75 0 1 0 3.5 0a1.75 1.75 0 1 0 -3.5 0M287.7 181.9a1.75 1.75 0 1 0 3.5 0a1.75 1.75 0 1 0 -3.5 0M291.2 198.6a1.75 1.75 0 1 0 3.5 0a1.75 1.75 0 1 0 -3.5 0M283.1 181.7a1.75 1.75 0 1 0 3.5 0a1.75 1.75 0 1 0 -3.5 0M279.3 187.4a1.75 1.75 0 1 0 3.5 0a1.75 1.75 0 1 0 -3.5 0M289.7 197.1a1.75 1.75 0 1 0 3.5 0a1.75 1.75 0 1 0 -3.5 0M281.0 179.7a1.75 1.75 0 1 0 3.5 0a1.75 1.75 0 1 0 -3.5 0M281.2 180.3a1.75 1.75 0 1 0 3.5 0a1.75 1.75 0 1 0 -3.5 0M281.7 177.3a1.75 1.75 0 1 0 3.5 0a1.75 1.75 0 1 0 -3.5 0M285.9 201.3a1.75 1.75 0 1 0 3.5 0a1.75 1.75 0 1 0 -3.5 0M289.5 191.9a1.75 1.75 0 1 0 3.5 0a1.75 1.75 0 1 0 -3.5 0M283.0 201.1a1.75 1.75 0 1 0 3.5 0a1.75 1.75 0 1 0 -3.5 0M281.8 173.2a1.75 1.75 0 1 0 3.5 0a1.75 1.75 0 1 0 -3.5 0M281.8 197.3a1.75 1.75 0 1 0 3.5 0a1.75 1.75 0 1 0 -3.5 0M287.7 181.9a1.75 1.75 0 1 0 3.5 0a1.75 1.75 0 1 0 -3.5 0M281.9 192.4a1.75 1.75 0 1 0 3.5 0a1.75 1.75 0 1 0 -3.5 0M285.4 197.4a1.75 1.75 0 1 0 3.5 0a1.75 1.75 0 1 0 -3.5 0M284.6 174.7a1.75 1.75 0 1 0 3.5 0a1.75 1.75 0 1 0 -3.5 0M280.1 179.4a1.75 1.75 0 1 0 3.5 0a1.75 1.75 0 1 0 -3.5 0M285.5 194.9a1.75 1.75 0 1 0 3.5 0a1.75 1.75 0 1 0 -3.5 0M285.9 172.3a1.75 1.75 0 1 0 3.5 0a1.75 1.75 0 1 0 -3.5 0M290.7 186.7a1.75 1.75 0 1 0 3.5 0a1.75 1.75 0 1 0 -3.5 0M285.7 178.2a1.75 1.75 0 1 0 3.5 0a1.75 1.75 0 1 0 -3.5 0M282.2 178.9a1.75 1.75 0 1 0 3.5 0a1.75 1.75 0 1 0 -3.5 0M286.5 201.1a1.75 1.75 0 1 0 3.5 0a1.75 1.75 0 1 0 -3.5 0M282.4 183.2a1.75 1.75 0 1 0 3.5 0a1.75 1.75 0 1 0 -3.5 0M282.7 172.9a1.75 1.75 0 1 0 3.5 0a1.75 1.75 0 1 0 -3.5 0M280.2 186.5a1.75 1.75 0 1 0 3.5 0a1.75 1.75 0 1 0 -3.5 0M282.9 179.9a1.75 1.75 0 1 0 3.5 0a1.75 1.75 0 1 0 -3.5 0M286.7 194.0a1.75 1.75 0 1 0 3.5 0a1.75 1.75 0 1 0 -3.5 0M287.3 172.8a1.75 1.75 0 1 0 3.5 0a1.75 1.75 0 1 0 -3.5 0M282.0 187.2a1.75 1.75 0 1 0 3.5 0a1.75 1.75 0 1 0 -3.5 0M289.3 202.4a1.75 1.75 0 1 0 3.5 0a1.75 1.75 0 1 0 -3.5 0M285.7 178.2a1.75 1.75 0 1 0 3.5 0a1.75 1.75 0 1 0 -3.5 0M282.4 189.4a1.75 1.75 0 1 0 3.5 0a1.75 1.75 0 1 0 -3.5 0M289.7 189.0a1.75 1.75 0 1 0 3.5 0a1.75 1.75 0 1 0 -3.5 0M285.6 180.9a1.75 1.75 0 1 0 3.5 0a1.75 1.75 0 1 0 -3.5 0M281.4 187.3a1.75 1.75 0 1 0 3.5 0a1.75 1.75 0 1 0 -3.5 0M284.0 200.9a1.75 1.75 0 1 0 3.5 0a1.75 1.75 0 1 0 -3.5 0M281.7 172.8a1.75 1.75 0 1 0 3.5 0a1.75 1.75 0 1 0 -3.5 0M279.9 182.1a1.75 1.75 0 1 0 3.5 0a1.75 1.75 0 1 0 -3.5 0M281.9 184.7a1.75 1.75 0 1 0 3.5 0a1.75 1.75 0 1 0 -3.5 0M289.8 195.3a1.75 1.75 0 1 0 3.5 0a1.75 1.75 0 1 0 -3.5 0M286.4 198.6a1.75 1.75 0 1 0 3.5 0a1.75 1.75 0 1 0 -3.5 0M287.5 176.2a1.75 1.75 0 1 0 3.5 0a1.75 1.75 0 1 0 -3.5 0M284.2 184.5a1.75 1.75 0 1 0 3.5 0a1.75 1.75 0 1 0 -3.5 0M282.5 173.4a1.75 1.75 0 1 0 3.5 0a1.75 1.75 0 1 0 -3.5 0M281.6 194.6a1.75 1.75 0 1 0 3.5 0a1.75 1.75 0 1 0 -3.5 0M290.7 201.1a1.75 1.75 0 1 0 3.5 0a1.75 1.75 0 1 0 -3.5 0M281.5 188.7a1.75 1.75 0 1 0 3.5 0a1.75 1.75 0 1 0 -3.5 0M285.7 177.2a1.75 1.75 0 1 0 3.5 0a1.75 1.75 0 1 0 -3.5 0M280.3 187.4a1.75 1.75 0 1 0 3.5 0a1.75 1.75 0 1 0 -3.5 0M288.9 198.8a1.75 1.75 0 1 0 3.5 0a1.75 1.75 0 1 0 -3.5 0M284.9 177.6a1.75 1.75 0 1 0 3.5 0a1.75 1.75 0 1 0 -3.5 0M289.1 190.1a1.75 1.75 0 1 0 3.5 0a1.75 1.75 0 1 0 -3.5 0M289.0 201.9a1.75 1.75 0 1 0 3.5 0a1.75 1.75 0 1 0 -3.5 0M290.9 193.2a1.75 1.75 0 1 0 3.5 0a1.75 1.75 0 1 0 -3.5 0M283.3 187.2a1.75 1.75 0 1 0 3.5 0a1.75 1.75 0 1 0 -3.5 0M285.4 183.8a1.75 1.75 0 1 0 3.5 0a1.75 1.75 0 1 0 -3.5 0M289.1 190.6a1.75 1.75 0 1 0 3.5 0a1.75 1.75 0 1 0 -3.5 0M289.4 186.2a1.75 1.75 0 1 0 3.5 0a1.75 1.75 0 1 0 -3.5 0M291.2 190.1a1.75 1.75 0 1 0 3.5 0a1.75 1.75 0 1 0 -3.5 0M283.8 191.9a1.75 1.75 0 1 0 3.5 0a1.75 1.75 0 1 0 -3.5 0M286.4 197.8a1.75 1.75 0 1 0 3.5 0a1.75 1.75 0 1 0 -3.5 0M280.2 185.4a1.75 1.75 0 1 0 3.5 0a1.75 1.75 0 1 0 -3.5 0M286.3 173.9a1.75 1.75 0 1 0 3.5 0a1.75 1.75 0 1 0 -3.5 0M288.4 200.8a1.75 1.75 0 1 0 3.5 0a1.75 1.75 0 1 0 -3.5 0M286.8 196.5a1.75 1.75 0 1 0 3.5 0a1.75 1.75 0 1 0 -3.5 0M290.6 186.5a1.75 1.75 0 1 0 3.5 0a1.75 1.75 0 1 0 -3.5 0M285.4 200.4a1.75 1.75 0 1 0 3.5 0a1.75 1.75 0 1 0 -3.5 0M287.4 180.9a1.75 1.75 0 1 0 3.5 0a1.75 1.75 0 1 0 -3.5 0M286.3 196.6a1.75 1.75 0 1 0 3.5 0a1.75 1.75 0 1 0 -3.5 0M281.3 194.0a1.75 1.75 0 1 0 3.5 0a1.75 1.75 0 1 0 -3.5 0M287.8 195.3a1.75 1.75 0 1 0 3.5 0a1.75 1.75 0 1 0 -3.5 0M285.1 184.3a1.75 1.75 0 1 0 3.5 0a1.75 1.75 0 1 0 -3.5 0M282.7 172.8a1.75 1.75 0 1 0 3.5 0a1.75 1.75 0 1 0 -3.5 0M280.3 192.0a1.75 1.75 0 1 0 3.5 0a1.75 1.75 0 1 0 -3.5 0M287.2 179.0a1.75 1.75 0 1 0 3.5 0a1.75 1.75 0 1 0 -3.5 0M288.1 177.5a1.75 1.75 0 1 0 3.5 0a1.75 1.75 0 1 0 -3.5 0M283.7 192.4a1.75 1.75 0 1 0 3.5 0a1.75 1.75 0 1 0 -3.5 0M288.6 186.5a1.75 1.75 0 1 0 3.5 0a1.75 1.75 0 1 0 -3.5 0M289.0 187.1a1.75 1.75 0 1 0 3.5 0a1.75 1.75 0 1 0 -3.5 0M287.2 198.7a1.75 1.75 0 1 0 3.5 0a1.75 1.75 0 1 0 -3.5 0M286.0 190.0a1.75 1.75 0 1 0 3.5 0a1.75 1.75 0 1 0 -3.5 0M283.0 189.2a1.75 1.75 0 1 0 3.5 0a1.75 1.75 0 1 0 -3.5 0M286.7 193.8a1.75 1.75 0 1 0 3.5 0a1.75 1.75 0 1 0 -3.5 0M301.8 187.0a1.75 1.75 0 1 0 3.5 0a1.75 1.75 0 1 0 -3.5 0M327.3 229.9a1.75 1.75 0 1 0 3.5 0a1.75 1.75 0 1 0 -3.5 0M322.7 224.0a1.75 1.75 0 1 0 3.5 0a1.75 1.75 0 1 0 -3.5 0M316.9 207.3a1.75 1.75 0 1 0 3.5 0a1.75 1.75 0 1 0 -3.5 0M307.3 195.4a1.75 1.75 0 1 0 3.5 0a1.75 1.75 0 1 0 -3.5 0M329.8 236.4a1.75 1.75 0 1 0 3.5 0a1.75 1.75 0 1 0 -3.5 0M316.5 246.8a1.75 1.75 0 1 0 3.5 0a1.75 1.75 0 1 0 -3.5 0M309.2 196.6a1.75 1.75 0 1 0 3.5 0a1.75 1.75 0 1 0 -3.5 0M324.9 232.5a1.75 1.75 0 1 0 3.5 0a1.75 1.75 0 1 0 -3.5 0M293.9 173.7a1.75 1.75 0 1 0 3.5 0a1.75 1.75 0 1 0 -3.5 0M291.4 180.2a1.75 1.75 0 1 0 3.5 0a1.75 1.75 0 1 0 -3.5 0M325.5 247.1a1.75 1.75 0 1 0 3.5 0a1.75 1.75 0 1 0 -3.5 0M317.5 209.5a1.75 1.75 0 1 0 3.5 0a1.75 1.75 0 1 0 -3.5 0M295.8 185.0a1.75 1.75 0 1 0 3.5 0a1.75 1.75 0 1 0 -3.5 0M326.1 233.2a1.75 1.75 0 1 0 3.5 0a1.75 1.75 0 1 0 -3.5 0M326.8 249.4a1.75 1.75 0 1 0 3.5 0a1.75 1.75 0 1 0 -3.5 0M319.8 250.9a1.75 1.75 0 1 0 3.5 0a1.75 1.75 0 1 0 -3.5 0M309.4 212.4a1.75 1.75 0 1 0 3.5 0a1.75 1.75 0 1 0 -3.5 0M291.5 172.7a1.75 1.75 0 1 0 3.5 0a1.75 1.75 0 1 0 -3.5 0M317.1 206.6a1.75 1.75 0 1 0 3.5 0a1.75 1.75 0 1 0 -3.5 0M308.7 195.3a1.75 1.75 0 1 0 3.5 0a1.75 1.75 0 1 0 -3.5 0M329.0 251.2a1.75 1.75 0 1 0 3.5 0a1.75 1.75 0 1 0 -3.5 0M313.2 197.0a1.75 1.75 0 1 0 3.5 0a1.75 1.75 0 1 0 -3.5 0M319.5 246.3a1.75 1.75 0 1 0 3.5 0a1.75 1.75 0 1 0 -3.5 0M325.8 231.7a1.75 1.75 0 1 0 3.5 0a1.75 1.75 0 1 0 -3.5 0M324.8 239.7a1.75 1.75 0 1 0 3.5 0a1.75 1.75 0 1 0 -3.5 0M315.9 237.3a1.75 1.75 0 1 0 3.5 0a1.75 1.75 0 1 0 -3.5 0M313.8 208.4a1.75 1.75 0 1 0 3.5 0a1.75 1.75 0 1 0 -3.5 0M317.8 245.8a1.75 1.75 0 1 0 3.5 0a1.75 1.75 0 1 0 -3.5 0M326.3 238.7a1.75 1.75 0 1 0 3.5 0a1.75 1.75 0 1 0 -3.5 0M321.2 216.4a1.75 1.75 0 1 0 3.5 0a1.75 1.75 0 1 0 -3.5 0M312.0 242.9a1.75 1.75 0 1 0 3.5 0a1.75 1.75 0 1 0 -3.5 0M317.2 222.1a1.75 1.75 0 1 0 3.5 0a1.75 1.75 0 1 0 -3.5 0M315.2 239.0a1.75 1.75 0 1 0 3.5 0a1.75 1.75 0 1 0 -3.5 0M302.6 184.6a1.75 1.75 0 1 0 3.5 0a1.75 1.75 0 1 0 -3.5 0M325.5 229.0a1.75 1.75 0 1 0 3.5 0a1.75 1.75 0 1 0 -3.5 0M317.5 241.1a1.75 1.75 0 1 0 3.5 0a1.75 1.75 0 1 0 -3.5 0M313.0 195.1a1.75 1.75 0 1 0 3.5 0a1.75 1.75 0 1 0 -3.5 0M314.8 240.4a1.75 1.75 0 1 0 3.5 0a1.75 1.75 0 1 0 -3.5 0M322.9 250.3a1.75 1.75 0 1 0 3.5 0a1.75 1.75 0 1 0 -3.5 0M329.1 224.8a1.75 1.75 0 1 0 3.5 0a1.75 1.75 0 1 0 -3.5 0M322.2 206.2a1.75 1.75 0 1 0 3.5 0a1.75 1.75 0 1 0 -3.5 0M314.7 200.0a1.75 1.75 0 1 0 3.5 0a1.75 1.75 0 1 0 -3.5 0M323.5 252.0a1.75 1.75 0 1 0 3.5 0a1.75 1.75 0 1 0 -3.5 0M287.9 179.5a1.75 1.75 0 1 0 3.5 0a1.75 1.75 0 1 0 -3.5 0M327.1 253.4a1.75 1.75 0 1 0 3.5 0a1.75 1.75 0 1 0 -3.5 0M320.1 211.4a1.75 1.75 0 1 0 3.5 0a1.75 1.75 0 1 0 -3.5 0M319.8 215.8a1.75 1.75 0 1 0 3.5 0a1.75 1.75 0 1 0 -3.5 0M324.9 252.7a1.75 1.75 0 1 0 3.5 0a1.75 1.75 0 1 0 -3.5 0M288.5 176.6a1.75 1.75 0 1 0 3.5 0a1.75 1.75 0 1 0 -3.5 0M296.2 190.9a1.75 1.75 0 1 0 3.5 0a1.75 1.75 0 1 0 -3.5 0M303.3 184.2a1.75 1.75 0 1 0 3.5 0a1.75 1.75 0 1 0 -3.5 0M314.6 242.8a1.75 1.75 0 1 0 3.5 0a1.75 1.75 0 1 0 -3.5 0M314.6 240.6a1.75 1.75 0 1 0 3.5 0a1.75 1.75 0 1 0 -3.5 0M318.4 220.8a1.75 1.75 0 1 0 3.5 0a1.75 1.75 0 1 0 -3.5 0M326.6 249.6a1.75 1.75 0 1 0 3.5 0a1.75 1.75 0 1 0 -3.5 0M320.8 232.0a1.75 1.75 0 1 0 3.5 0a1.75 1.75 0 1 0 -3.5 0M315.6 203.8a1.75 1.75 0 1 0 3.5 0a1.75 1.75 0 1 0 -3.5 0M328.5 252.2a1.75 1.75 0 1 0 3.5 0a1.75 1.75 0 1 0 -3.5 0M327.7 236.8a1.75 1.75 0 1 0 3.5 0a1.75 1.75 0 1 0 -3.5 0M305.4 201.8a1.75 1.75 0 1 0 3.5 0a1.75 1.75 0 1 0 -3.5 0M319.6 218.1a1.75 1.75 0 1 0 3.5 0a1.75 1.75 0 1 0 -3.5 0M323.1 208.4a1.75 1.75 0 1 0 3.5 0a1.75 1.75 0 1 0 -3.5 0M322.8 212.8a1.75 1.75 0 1 0 3.5 0a1.75 1.75 0 1 0 -3.5 0M327.1 214.5a1.75 1.75 0 1 0 3.5 0a1.75 1.75 0 1 0 -3.5 0M326.5 249.5a1.75 1.75 0 1 0 3.5 0a1.75 1.75 0 1 0 -3.5 0M313.7 198.1a1.75 1.75 0 1 0 3.5 0a1.75 1.75 0 1 0 -3.5 0M310.3 214.8a1.75 1.75 0 1 0 3.5 0a1.75 1.75 0 1 0 -3.5 0M314.9 252.9a1.75 1.75 0 1 0 3.5 0a1.75 1.75 0 1 0 -3.5 0M322.4 214.6a1.75 1.75 0 1 0 3.5 0a1.75 1.75 0 1 0 -3.5 0M307.8 198.3a1.75 1.75 0 1 0 3.5 0a1.75 1.75 0 1 0 -3.5 0M312.3 232.3a1.75 1.75 0 1 0 3.5 0a1.75 1.75 0 1 0 -3.5 0M318.3 241.2a1.75 1.75 0 1 0 3.5 0a1.75 1.75 0 1 0 -3.5 0M291.0 175.3a1.75 1.75 0 1 0 3.5 0a1.75 1.75 0 1 0 -3.5 0M315.4 228.8a1.75 1.75 0 1 0 3.5 0a1.75 1.75 0 1 0 -3.5 0M326.0 257.9a1.75 1.75 0 1 0 3.5 0a1.75 1.75 0 1 0 -3.5 0M306.1 189.5a1.75 1.75 0 1 0 3.5 0a1.75 1.75 0 1 0 -3.5 0M320.7 206.8a1.75 1.75 0 1 0 3.5 0a1.75 1.75 0 1 0 -3.5 0M314.0 239.1a1.75 1.75 0 1 0 3.5 0a1.75 1.75 0 1 0 -3.5 0M295.5 179.3a1.75 1.75 0 1 0 3.5 0a1.75 1.75 0 1 0 -3.5 0M312.3 237.0a1.75 1.75 0 1 0 3.5 0a1.75 1.75 0 1 0 -3.5 0M315.9 198.3a1.75 1.75 0 1 0 3.5 0a1.75 1.75 0 1 0 -3.5 0M297.2 176.6a1.75 1.75 0 1 0 3.5 0a1.75 1.75 0 1 0 -3.5 0M293.1 175.6a1.75 1.75 0 1 0 3.5 0a1.75 1.75 0 1 0 -3.5 0M315.2 227.1a1.75 1.75 0 1 0 3.5 0a1.75 1.75 0 1 0 -3.5 0M328.6 244.1a1.75 1.75 0 1 0 3.5 0a1.75 1.75 0 1 0 -3.5 0M290.7 179.9a1.75 1.75 0 1 0 3.5 0a1.75 1.75 0 1 0 -3.5 0M323.3 229.2a1.75 1.75 0 1 0 3.5 0a1.75 1.75 0 1 0 -3.5 0M313.0 203.1a1.75 1.75 0 1 0 3.5 0a1.75 1.75 0 1 0 -3.5 0M317.3 215.0a1.75 1.75 0 1 0 3.5 0a1.75 1.75 0 1 0 -3.5 0M293.5 186.5a1.75 1.75 0 1 0 3.5 0a1.75 1.75 0 1 0 -3.5 0M298.4 186.0a1.75 1.75 0 1 0 3.5 0a1.75 1.75 0 1 0 -3.5 0M313.6 224.3a1.75 1.75 0 1 0 3.5 0a1.75 1.75 0 1 0 -3.5 0M301.5 194.1a1.75 1.75 0 1 0 3.5 0a1.75 1.75 0 1 0 -3.5 0M313.1 204.3a1.75 1.75 0 1 0 3.5 0a1.75 1.75 0 1 0 -3.5 0M319.3 246.3a1.75 1.75 0 1 0 3.5 0a1.75 1.75 0 1 0 -3.5 0M317.1 252.8a1.75 1.75 0 1 0 3.5 0a1.75 1.75 0 1 0 -3.5 0M312.3 196.6a1.75 1.75 0 1 0 3.5 0a1.75 1.75 0 1 0 -3.5 0M315.6 224.9a1.75 1.75 0 1 0 3.5 0a1.75 1.75 0 1 0 -3.5 0M320.1 242.1a1.75 1.75 0 1 0 3.5 0a1.75 1.75 0 1 0 -3.5 0M306.1 188.6a1.75 1.75 0 1 0 3.5 0a1.75 1.75 0 1 0 -3.5 0M317.4 232.7a1.75 1.75 0 1 0 3.5 0a1.75 1.75 0 1 0 -3.5 0M326.2 220.9a1.75 1.75 0 1 0 3.5 0a1.75 1.75 0 1 0 -3.5 0M293.6 180.2a1.75 1.75 0 1 0 3.5 0a1.75 1.75 0 1 0 -3.5 0M321.3 246.5a1.75 1.75 0 1 0 3.5 0a1.75 1.75 0 1 0 -3.5 0M329.0 219.9a1.75 1.75 0 1 0 3.5 0a1.75 1.75 0 1 0 -3.5 0M311.0 195.1a1.75 1.75 0 1 0 3.5 0a1.75 1.75 0 1 0 -3.5 0M291.4 177.5a1.75 1.75 0 1 0 3.5 0a1.75 1.75 0 1 0 -3.5 0M306.7 189.5a1.75 1.75 0 1 0 3.5 0a1.75 1.75 0 1 0 -3.5 0M328.4 219.2a1.75 1.75 0 1 0 3.5 0a1.75 1.75 0 1 0 -3.5 0M328.7 257.3a1.75 1.75 0 1 0 3.5 0a1.75 1.75 0 1 0 -3.5 0M318.6 221.4a1.75 1.75 0 1 0 3.5 0a1.75 1.75 0 1 0 -3.5 0M309.9 209.3a1.75 1.75 0 1 0 3.5 0a1.75 1.75 0 1 0 -3.5 0M324.8 235.8a1.75 1.75 0 1 0 3.5 0a1.75 1.75 0 1 0 -3.5 0M309.7 205.7a1.75 1.75 0 1 0 3.5 0a1.75 1.75 0 1 0 -3.5 0M314.7 257.8a1.75 1.75 0 1 0 3.5 0a1.75 1.75 0 1 0 -3.5 0M305.7 196.3a1.75 1.75 0 1 0 3.5 0a1.75 1.75 0 1 0 -3.5 0M303.2 190.4a1.75 1.75 0 1 0 3.5 0a1.75 1.75 0 1 0 -3.5 0M322.6 214.3a1.75 1.75 0 1 0 3.5 0a1.75 1.75 0 1 0 -3.5 0M316.1 198.6a1.75 1.75 0 1 0 3.5 0a1.75 1.75 0 1 0 -3.5 0M297.3 190.1a1.75 1.75 0 1 0 3.5 0a1.75 1.75 0 1 0 -3.5 0M298.6 193.0a1.75 1.75 0 1 0 3.5 0a1.75 1.75 0 1 0 -3.5 0M318.0 253.4a1.75 1.75 0 1 0 3.5 0a1.75 1.75 0 1 0 -3.5 0M309.1 208.7a1.75 1.75 0 1 0 3.5 0a1.75 1.75 0 1 0 -3.5 0M326.8 223.1a1.75 1.75 0 1 0 3.5 0a1.75 1.75 0 1 0 -3.5 0M312.7 255.0a1.75 1.75 0 1 0 3.5 0a1.75 1.75 0 1 0 -3.5 0M327.8 244.1a1.75 1.75 0 1 0 3.5 0a1.75 1.75 0 1 0 -3.5 0M326.9 243.0a1.75 1.75 0 1 0 3.5 0a1.75 1.75 0 1 0 -3.5 0M321.1 224.7a1.75 1.75 0 1 0 3.5 0a1.75 1.75 0 1 0 -3.5 0M329.8 237.3a1.75 1.75 0 1 0 3.5 0a1.75 1.75 0 1 0 -3.5 0M308.7 207.2a1.75 1.75 0 1 0 3.5 0a1.75 1.75 0 1 0 -3.5 0M320.4 233.5a1.75 1.75 0 1 0 3.5 0a1.75 1.75 0 1 0 -3.5 0M320.7 237.3a1.75 1.75 0 1 0 3.5 0a1.75 1.75 0 1 0 -3.5 0M297.7 186.9a1.75 1.75 0 1 0 3.5 0a1.75 1.75 0 1 0 -3.5 0M317.8 252.6a1.75 1.75 0 1 0 3.5 0a1.75 1.75 0 1 0 -3.5 0M320.7 217.2a1.75 1.75 0 1 0 3.5 0a1.75 1.75 0 1 0 -3.5 0M325.1 254.9a1.75 1.75 0 1 0 3.5 0a1.75 1.75 0 1 0 -3.5 0M303.7 194.7a1.75 1.75 0 1 0 3.5 0a1.75 1.75 0 1 0 -3.5 0M320.0 232.9a1.75 1.75 0 1 0 3.5 0a1.75 1.75 0 1 0 -3.5 0M326.8 248.3a1.75 1.75 0 1 0 3.5 0a1.75 1.75 0 1 0 -3.5 0M329.5 244.7a1.75 1.75 0 1 0 3.5 0a1.75 1.75 0 1 0 -3.5 0M290.5 183.4a1.75 1.75 0 1 0 3.5 0a1.75 1.75 0 1 0 -3.5 0M316.9 233.4a1.75 1.75 0 1 0 3.5 0a1.75 1.75 0 1 0 -3.5 0M297.8 183.5a1.75 1.75 0 1 0 3.5 0a1.75 1.75 0 1 0 -3.5 0M304.3 197.1a1.75 1.75 0 1 0 3.5 0a1.75 1.75 0 1 0 -3.5 0M323.2 215.0a1.75 1.75 0 1 0 3.5 0a1.75 1.75 0 1 0 -3.5 0M316.7 241.2a1.75 1.75 0 1 0 3.5 0a1.75 1.75 0 1 0 -3.5 0M317.8 254.1a1.75 1.75 0 1 0 3.5 0a1.75 1.75 0 1 0 -3.5 0M293.5 179.8a1.75 1.75 0 1 0 3.5 0a1.75 1.75 0 1 0 -3.5 0M299.6 182.5a1.75 1.75 0 1 0 3.5 0a1.75 1.75 0 1 0 -3.5 0M321.0 219.8a1.75 1.75 0 1 0 3.5 0a1.75 1.75 0 1 0 -3.5 0M316.4 209.1a1.75 1.75 0 1 0 3.5 0a1.75 1.75 0 1 0 -3.5 0M291.8 180.7a1.75 1.75 0 1 0 3.5 0a1.75 1.75 0 1 0 -3.5 0M323.6 231.1a1.75 1.75 0 1 0 3.5 0a1.75 1.75 0 1 0 -3.5 0M326.8 224.5a1.75 1.75 0 1 0 3.5 0a1.75 1.75 0 1 0 -3.5 0M299.5 182.3a1.75 1.75 0 1 0 3.5 0a1.75 1.75 0 1 0 -3.5 0M298.7 191.4a1.75 1.75 0 1 0 3.5 0a1.75 1.75 0 1 0 -3.5 0M316.4 225.0a1.75 1.75 0 1 0 3.5 0a1.75 1.75 0 1 0 -3.5 0M327.3 232.7a1.75 1.75 0 1 0 3.5 0a1.75 1.75 0 1 0 -3.5 0M328.8 215.3a1.75 1.75 0 1 0 3.5 0a1.75 1.75 0 1 0 -3.5 0M318.2 249.6a1.75 1.75 0 1 0 3.5 0a1.75 1.75 0 1 0 -3.5 0M317.2 244.8a1.75 1.75 0 1 0 3.5 0a1.75 1.75 0 1 0 -3.5 0M299.6 192.5a1.75 1.75 0 1 0 3.5 0a1.75 1.75 0 1 0 -3.5 0M314.1 245.9a1.75 1.75 0 1 0 3.5 0a1.75 1.75 0 1 0 -3.5 0M287.5 174.1a1.75 1.75 0 1 0 3.5 0a1.75 1.75 0 1 0 -3.5 0M308.8 191.7a1.75 1.75 0 1 0 3.5 0a1.75 1.75 0 1 0 -3.5 0M285.2 177.3a1.75 1.75 0 1 0 3.5 0a1.75 1.75 0 1 0 -3.5 0M313.2 198.8a1.75 1.75 0 1 0 3.5 0a1.75 1.75 0 1 0 -3.5 0M301.3 197.3a1.75 1.75 0 1 0 3.5 0a1.75 1.75 0 1 0 -3.5 0M313.8 233.4a1.75 1.75 0 1 0 3.5 0a1.75 1.75 0 1 0 -3.5 0M303.2 189.9a1.75 1.75 0 1 0 3.5 0a1.75 1.75 0 1 0 -3.5 0M326.2 253.3a1.75 1.75 0 1 0 3.5 0a1.75 1.75 0 1 0 -3.5 0M317.2 225.5a1.75 1.75 0 1 0 3.5 0a1.75 1.75 0 1 0 -3.5 0M326.5 257.5a1.75 1.75 0 1 0 3.5 0a1.75 1.75 0 1 0 -3.5 0M313.4 251.4a1.75 1.75 0 1 0 3.5 0a1.75 1.75 0 1 0 -3.5 0M315.6 205.4a1.75 1.75 0 1 0 3.5 0a1.75 1.75 0 1 0 -3.5 0M322.4 256.0a1.75 1.75 0 1 0 3.5 0a1.75 1.75 0 1 0 -3.5 0M316.2 205.2a1.75 1.75 0 1 0 3.5 0a1.75 1.75 0 1 0 -3.5 0M300.8 184.2a1.75 1.75 0 1 0 3.5 0a1.75 1.75 0 1 0 -3.5 0M325.5 212.0a1.75 1.75 0 1 0 3.5 0a1.75 1.75 0 1 0 -3.5 0M310.4 209.5a1.75 1.75 0 1 0 3.5 0a1.75 1.75 0 1 0 -3.5 0M300.3 190.7a1.75 1.75 0 1 0 3.5 0a1.75 1.75 0 1 0 -3.5 0M321.6 256.5a1.75 1.75 0 1 0 3.5 0a1.75 1.75 0 1 0 -3.5 0M312.6 196.5a1.75 1.75 0 1 0 3.5 0a1.75 1.75 0 1 0 -3.5 0M315.3 248.9a1.75 1.75 0 1 0 3.5 0a1.75 1.75 0 1 0 -3.5 0M322.7 215.8a1.75 1.75 0 1 0 3.5 0a1.75 1.75 0 1 0 -3.5 0M322.0 207.4a1.75 1.75 0 1 0 3.5 0a1.75 1.75 0 1 0 -3.5 0M293.8 178.2a1.75 1.75 0 1 0 3.5 0a1.75 1.75 0 1 0 -3.5 0M315.6 219.7a1.75 1.75 0 1 0 3.5 0a1.75 1.75 0 1 0 -3.5 0M314.4 230.6a1.75 1.75 0 1 0 3.5 0a1.75 1.75 0 1 0 -3.5 0M288.5 176.9a1.75 1.75 0 1 0 3.5 0a1.75 1.75 0 1 0 -3.5 0M313.6 198.4a1.75 1.75 0 1 0 3.5 0a1.75 1.75 0 1 0 -3.5 0M326.5 256.7a1.75 1.75 0 1 0 3.5 0a1.75 1.75 0 1 0 -3.5 0M291.1 174.3a1.75 1.75 0 1 0 3.5 0a1.75 1.75 0 1 0 -3.5 0M313.2 220.9a1.75 1.75 0 1 0 3.5 0a1.75 1.75 0 1 0 -3.5 0M312.3 245.8a1.75 1.75 0 1 0 3.5 0a1.75 1.75 0 1 0 -3.5 0M301.5 182.7a1.75 1.75 0 1 0 3.5 0a1.75 1.75 0 1 0 -3.5 0M322.2 212.6a1.75 1.75 0 1 0 3.5 0a1.75 1.75 0 1 0 -3.5 0M321.4 248.6a1.75 1.75 0 1 0 3.5 0a1.75 1.75 0 1 0 -3.5 0M298.8 179.0a1.75 1.75 0 1 0 3.5 0a1.75 1.75 0 1 0 -3.5 0M319.4 217.2a1.75 1.75 0 1 0 3.5 0a1.75 1.75 0 1 0 -3.5 0M305.6 187.0a1.75 1.75 0 1 0 3.5 0a1.75 1.75 0 1 0 -3.5 0M315.2 243.3a1.75 1.75 0 1 0 3.5 0a1.75 1.75 0 1 0 -3.5 0M312.0 236.3a1.75 1.75 0 1 0 3.5 0a1.75 1.75 0 1 0 -3.5 0M315.3 209.5a1.75 1.75 0 1 0 3.5 0a1.75 1.75 0 1 0 -3.5 0M296.4 182.8a1.75 1.75 0 1 0 3.5 0a1.75 1.75 0 1 0 -3.5 0M314.4 204.5a1.75 1.75 0 1 0 3.5 0a1.75 1.75 0 1 0 -3.5 0M320.0 209.9a1.75 1.75 0 1 0 3.5 0a1.75 1.75 0 1 0 -3.5 0M312.8 229.9a1.75 1.75 0 1 0 3.5 0a1.75 1.75 0 1 0 -3.5 0M299.6 191.4a1.75 1.75 0 1 0 3.5 0a1.75 1.75 0 1 0 -3.5 0M315.2 249.5a1.75 1.75 0 1 0 3.5 0a1.75 1.75 0 1 0 -3.5 0M306.3 200.4a1.75 1.75 0 1 0 3.5 0a1.75 1.75 0 1 0 -3.5 0M320.8 226.6a1.75 1.75 0 1 0 3.5 0a1.75 1.75 0 1 0 -3.5 0M321.9 205.8a1.75 1.75 0 1 0 3.5 0a1.75 1.75 0 1 0 -3.5 0M323.7 219.2a1.75 1.75 0 1 0 3.5 0a1.75 1.75 0 1 0 -3.5 0M314.4 202.6a1.75 1.75 0 1 0 3.5 0a1.75 1.75 0 1 0 -3.5 0M322.1 255.2a1.75 1.75 0 1 0 3.5 0a1.75 1.75 0 1 0 -3.5 0M307.4 200.1a1.75 1.75 0 1 0 3.5 0a1.75 1.75 0 1 0 -3.5 0M321.0 225.1a1.75 1.75 0 1 0 3.5 0a1.75 1.75 0 1 0 -3.5 0M314.2 239.8a1.75 1.75 0 1 0 3.5 0a1.75 1.75 0 1 0 -3.5 0M290.2 181.2a1.75 1.75 0 1 0 3.5 0a1.75 1.75 0 1 0 -3.5 0M326.8 221.2a1.75 1.75 0 1 0 3.5 0a1.75 1.75 0 1 0 -3.5 0M311.1 211.6a1.75 1.75 0 1 0 3.5 0a1.75 1.75 0 1 0 -3.5 0M313.2 195.2a1.75 1.75 0 1 0 3.5 0a1.75 1.75 0 1 0 -3.5 0M297.3 180.6a1.75 1.75 0 1 0 3.5 0a1.75 1.75 0 1 0 -3.5 0M319.2 209.8a1.75 1.75 0 1 0 3.5 0a1.75 1.75 0 1 0 -3.5 0M300.6 190.0a1.75 1.75 0 1 0 3.5 0a1.75 1.75 0 1 0 -3.5 0M329.3 219.1a1.75 1.75 0 1 0 3.5 0a1.75 1.75 0 1 0 -3.5 0M327.3 216.6a1.75 1.75 0 1 0 3.5 0a1.75 1.75 0 1 0 -3.5 0M320.2 227.2a1.75 1.75 0 1 0 3.5 0a1.75 1.75 0 1 0 -3.5 0M318.4 233.6a1.75 1.75 0 1 0 3.5 0a1.75 1.75 0 1 0 -3.5 0M322.3 255.3a1.75 1.75 0 1 0 3.5 0a1.75 1.75 0 1 0 -3.5 0M286.4 175.7a1.75 1.75 0 1 0 3.5 0a1.75 1.75 0 1 0 -3.5 0M324.6 223.2a1.75 1.75 0 1 0 3.5 0a1.75 1.75 0 1 0 -3.5 0M312.2 227.4a1.75 1.75 0 1 0 3.5 0a1.75 1.75 0 1 0 -3.5 0M300.7 189.5a1.75 1.75 0 1 0 3.5 0a1.75 1.75 0 1 0 -3.5 0M322.1 216.6a1.75 1.75 0 1 0 3.5 0a1.75 1.75 0 1 0 -3.5 0M318.0 239.7a1.75 1.75 0 1 0 3.5 0a1.75 1.75 0 1 0 -3.5 0M324.8 244.1a1.75 1.75 0 1 0 3.5 0a1.75 1.75 0 1 0 -3.5 0M324.1 227.2a1.75 1.75 0 1 0 3.5 0a1.75 1.75 0 1 0 -3.5 0M320.8 205.0a1.75 1.75 0 1 0 3.5 0a1.75 1.75 0 1 0 -3.5 0M314.3 204.2a1.75 1.75 0 1 0 3.5 0a1.75 1.75 0 1 0 -3.5 0M325.9 257.1a1.75 1.75 0 1 0 3.5 0a1.75 1.75 0 1 0 -3.5 0M315.1 243.5a1.75 1.75 0 1 0 3.5 0a1.75 1.75 0 1 0 -3.5 0M311.3 198.2a1.75 1.75 0 1 0 3.5 0a1.75 1.75 0 1 0 -3.5 0M320.8 232.2a1.75 1.75 0 1 0 3.5 0a1.75 1.75 0 1 0 -3.5 0M327.4 231.8a1.75 1.75 0 1 0 3.5 0a1.75 1.75 0 1 0 -3.5 0M318.5 244.5a1.75 1.75 0 1 0 3.5 0a1.75 1.75 0 1 0 -3.5 0M325.1 255.5a1.75 1.75 0 1 0 3.5 0a1.75 1.75 0 1 0 -3.5 0M316.3 236.0a1.75 1.75 0 1 0 3.5 0a1.75 1.75 0 1 0 -3.5 0M322.9 216.0a1.75 1.75 0 1 0 3.5 0a1.75 1.75 0 1 0 -3.5 0M322.5 208.8a1.75 1.75 0 1 0 3.5 0a1.75 1.75 0 1 0 -3.5 0M303.1 193.8a1.75 1.75 0 1 0 3.5 0a1.75 1.75 0 1 0 -3.5 0M297.6 183.9a1.75 1.75 0 1 0 3.5 0a1.75 1.75 0 1 0 -3.5 0M326.3 214.6a1.75 1.75 0 1 0 3.5 0a1.75 1.75 0 1 0 -3.5 0M325.5 254.4a1.75 1.75 0 1 0 3.5 0a1.75 1.75 0 1 0 -3.5 0M308.8 190.8a1.75 1.75 0 1 0 3.5 0a1.75 1.75 0 1 0 -3.5 0M318.2 216.7a1.75 1.75 0 1 0 3.5 0a1.75 1.75 0 1 0 -3.5 0M326.7 243.3a1.75 1.75 0 1 0 3.5 0a1.75 1.75 0 1 0 -3.5 0M320.0 206.9a1.75 1.75 0 1 0 3.5 0a1.75 1.75 0 1 0 -3.5 0M324.8 256.2a1.75 1.75 0 1 0 3.5 0a1.75 1.75 0 1 0 -3.5 0M311.9 246.0a1.75 1.75 0 1 0 3.5 0a1.75 1.75 0 1 0 -3.5 0M316.3 208.5a1.75 1.75 0 1 0 3.5 0a1.75 1.75 0 1 0 -3.5 0M318.1 240.8a1.75 1.75 0 1 0 3.5 0a1.75 1.75 0 1 0 -3.5 0M315.4 234.2a1.75 1.75 0 1 0 3.5 0a1.75 1.75 0 1 0 -3.5 0M313.2 231.7a1.75 1.75 0 1 0 3.5 0a1.75 1.75 0 1 0 -3.5 0M311.7 197.3a1.75 1.75 0 1 0 3.5 0a1.75 1.75 0 1 0 -3.5 0M313.7 212.8a1.75 1.75 0 1 0 3.5 0a1.75 1.75 0 1 0 -3.5 0M323.0 247.4a1.75 1.75 0 1 0 3.5 0a1.75 1.75 0 1 0 -3.5 0M315.3 220.4a1.75 1.75 0 1 0 3.5 0a1.75 1.75 0 1 0 -3.5 0M323.5 213.3a1.75 1.75 0 1 0 3.5 0a1.75 1.75 0 1 0 -3.5 0M317.1 211.5a1.75 1.75 0 1 0 3.5 0a1.75 1.75 0 1 0 -3.5 0M308.2 199.7a1.75 1.75 0 1 0 3.5 0a1.75 1.75 0 1 0 -3.5 0M287.0 174.3a1.75 1.75 0 1 0 3.5 0a1.75 1.75 0 1 0 -3.5 0M310.3 206.8a1.75 1.75 0 1 0 3.5 0a1.75 1.75 0 1 0 -3.5 0M325.2 242.9a1.75 1.75 0 1 0 3.5 0a1.75 1.75 0 1 0 -3.5 0M296.4 184.4a1.75 1.75 0 1 0 3.5 0a1.75 1.75 0 1 0 -3.5 0M304.1 198.9a1.75 1.75 0 1 0 3.5 0a1.75 1.75 0 1 0 -3.5 0M322.8 226.1a1.75 1.75 0 1 0 3.5 0a1.75 1.75 0 1 0 -3.5 0M306.1 186.8a1.75 1.75 0 1 0 3.5 0a1.75 1.75 0 1 0 -3.5 0M296.5 190.9a1.75 1.75 0 1 0 3.5 0a1.75 1.75 0 1 0 -3.5 0M319.4 229.5a1.75 1.75 0 1 0 3.5 0a1.75 1.75 0 1 0 -3.5 0M311.6 240.2a1.75 1.75 0 1 0 3.5 0a1.75 1.75 0 1 0 -3.5 0M314.8 211.9a1.75 1.75 0 1 0 3.5 0a1.75 1.75 0 1 0 -3.5 0M316.8 215.0a1.75 1.75 0 1 0 3.5 0a1.75 1.75 0 1 0 -3.5 0M324.8 212.3a1.75 1.75 0 1 0 3.5 0a1.75 1.75 0 1 0 -3.5 0M311.3 234.6a1.75 1.75 0 1 0 3.5 0a1.75 1.75 0 1 0 -3.5 0M312.3 252.4a1.75 1.75 0 1 0 3.5 0a1.75 1.75 0 1 0 -3.5 0M313.5 207.8a1.75 1.75 0 1 0 3.5 0a1.75 1.75 0 1 0 -3.5 0M321.9 245.1a1.75 1.75 0 1 0 3.5 0a1.75 1.75 0 1 0 -3.5 0M312.5 224.3a1.75 1.75 0 1 0 3.5 0a1.75 1.75 0 1 0 -3.5 0M320.3 212.4a1.75 1.75 0 1 0 3.5 0a1.75 1.75 0 1 0 -3.5 0M303.0 192.5a1.75 1.75 0 1 0 3.5 0a1.75 1.75 0 1 0 -3.5 0M312.3 253.0a1.75 1.75 0 1 0 3.5 0a1.75 1.75 0 1 0 -3.5 0M319.4 245.4a1.75 1.75 0 1 0 3.5 0a1.75 1.75 0 1 0 -3.5 0M321.9 238.8a1.75 1.75 0 1 0 3.5 0a1.75 1.75 0 1 0 -3.5 0M321.8 208.8a1.75 1.75 0 1 0 3.5 0a1.75 1.75 0 1 0 -3.5 0M324.5 236.4a1.75 1.75 0 1 0 3.5 0a1.75 1.75 0 1 0 -3.5 0M318.2 257.1a1.75 1.75 0 1 0 3.5 0a1.75 1.75 0 1 0 -3.5 0M315.0 209.8a1.75 1.75 0 1 0 3.5 0a1.75 1.75 0 1 0 -3.5 0M298.4 191.9a1.75 1.75 0 1 0 3.5 0a1.75 1.75 0 1 0 -3.5 0M312.8 237.1a1.75 1.75 0 1 0 3.5 0a1.75 1.75 0 1 0 -3.5 0M325.8 257.5a1.75 1.75 0 1 0 3.5 0a1.75 1.75 0 1 0 -3.5 0M292.0 175.7a1.75 1.75 0 1 0 3.5 0a1.75 1.75 0 1 0 -3.5 0M313.7 218.8a1.75 1.75 0 1 0 3.5 0a1.75 1.75 0 1 0 -3.5 0M325.8 223.2a1.75 1.75 0 1 0 3.5 0a1.75 1.75 0 1 0 -3.5 0M305.3 189.1a1.75 1.75 0 1 0 3.5 0a1.75 1.75 0 1 0 -3.5 0M291.8 178.2a1.75 1.75 0 1 0 3.5 0a1.75 1.75 0 1 0 -3.5 0M320.7 238.6a1.75 1.75 0 1 0 3.5 0a1.75 1.75 0 1 0 -3.5 0M319.3 211.1a1.75 1.75 0 1 0 3.5 0a1.75 1.75 0 1 0 -3.5 0M327.2 230.5a1.75 1.75 0 1 0 3.5 0a1.75 1.75 0 1 0 -3.5 0M325.4 254.0a1.75 1.75 0 1 0 3.5 0a1.75 1.75 0 1 0 -3.5 0M312.5 253.1a1.75 1.75 0 1 0 3.5 0a1.75 1.75 0 1 0 -3.5 0M326.8 257.2a1.75 1.75 0 1 0 3.5 0a1.75 1.75 0 1 0 -3.5 0M299.1 193.6a1.75 1.75 0 1 0 3.5 0a1.75 1.75 0 1 0 -3.5 0M313.7 245.7a1.75 1.75 0 1 0 3.5 0a1.75 1.75 0 1 0 -3.5 0M303.9 199.6a1.75 1.75 0 1 0 3.5 0a1.75 1.75 0 1 0 -3.5 0M316.5 221.8a1.75 1.75 0 1 0 3.5 0a1.75 1.75 0 1 0 -3.5 0M328.9 253.3a1.75 1.75 0 1 0 3.5 0a1.75 1.75 0 1 0 -3.5 0M325.5 216.9a1.75 1.75 0 1 0 3.5 0a1.75 1.75 0 1 0 -3.5 0M327.4 229.7a1.75 1.75 0 1 0 3.5 0a1.75 1.75 0 1 0 -3.5 0M313.3 194.8a1.75 1.75 0 1 0 3.5 0a1.75 1.75 0 1 0 -3.5 0M300.7 187.8a1.75 1.75 0 1 0 3.5 0a1.75 1.75 0 1 0 -3.5 0M317.3 213.5a1.75 1.75 0 1 0 3.5 0a1.75 1.75 0 1 0 -3.5 0M317.2 250.8a1.75 1.75 0 1 0 3.5 0a1.75 1.75 0 1 0 -3.5 0M318.4 239.6a1.75 1.75 0 1 0 3.5 0a1.75 1.75 0 1 0 -3.5 0M312.1 246.5a1.75 1.75 0 1 0 3.5 0a1.75 1.75 0 1 0 -3.5 0M294.8 180.2a1.75 1.75 0 1 0 3.5 0a1.75 1.75 0 1 0 -3.5 0M300.6 182.5a1.75 1.75 0 1 0 3.5 0a1.75 1.75 0 1 0 -3.5 0M324.8 226.1a1.75 1.75 0 1 0 3.5 0a1.75 1.75 0 1 0 -3.5 0M292.5 178.8a1.75 1.75 0 1 0 3.5 0a1.75 1.75 0 1 0 -3.5 0M310.2 213.2a1.75 1.75 0 1 0 3.5 0a1.75 1.75 0 1 0 -3.5 0M301.4 181.3a1.75 1.75 0 1 0 3.5 0a1.75 1.75 0 1 0 -3.5 0M314.3 211.1a1.75 1.75 0 1 0 3.5 0a1.75 1.75 0 1 0 -3.5 0M314.2 205.9a1.75 1.75 0 1 0 3.5 0a1.75 1.75 0 1 0 -3.5 0M326.9 212.5a1.75 1.75 0 1 0 3.5 0a1.75 1.75 0 1 0 -3.5 0M321.0 245.9a1.75 1.75 0 1 0 3.5 0a1.75 1.75 0 1 0 -3.5 0M295.4 185.4a1.75 1.75 0 1 0 3.5 0a1.75 1.75 0 1 0 -3.5 0M299.3 188.9a1.75 1.75 0 1 0 3.5 0a1.75 1.75 0 1 0 -3.5 0M303.0 183.4a1.75 1.75 0 1 0 3.5 0a1.75 1.75 0 1 0 -3.5 0M328.6 217.0a1.75 1.75 0 1 0 3.5 0a1.75 1.75 0 1 0 -3.5 0M324.3 217.4a1.75 1.75 0 1 0 3.5 0a1.75 1.75 0 1 0 -3.5 0M329.0 235.7a1.75 1.75 0 1 0 3.5 0a1.75 1.75 0 1 0 -3.5 0M301.7 186.7a1.75 1.75 0 1 0 3.5 0a1.75 1.75 0 1 0 -3.5 0M316.4 206.7a1.75 1.75 0 1 0 3.5 0a1.75 1.75 0 1 0 -3.5 0M325.7 250.6a1.75 1.75 0 1 0 3.5 0a1.75 1.75 0 1 0 -3.5 0M312.0 228.7a1.75 1.75 0 1 0 3.5 0a1.75 1.75 0 1 0 -3.5 0M323.4 243.9a1.75 1.75 0 1 0 3.5 0a1.75 1.75 0 1 0 -3.5 0M316.8 236.8a1.75 1.75 0 1 0 3.5 0a1.75 1.75 0 1 0 -3.5 0M315.4 206.5a1.75 1.75 0 1 0 3.5 0a1.75 1.75 0 1 0 -3.5 0M292.1 184.7a1.75 1.75 0 1 0 3.5 0a1.75 1.75 0 1 0 -3.5 0M329.8 238.3a1.75 1.75 0 1 0 3.5 0a1.75 1.75 0 1 0 -3.5 0M317.0 202.0a1.75 1.75 0 1 0 3.5 0a1.75 1.75 0 1 0 -3.5 0M316.5 250.8a1.75 1.75 0 1 0 3.5 0a1.75 1.75 0 1 0 -3.5 0M301.0 194.6a1.75 1.75 0 1 0 3.5 0a1.75 1.75 0 1 0 -3.5 0M326.3 239.5a1.75 1.75 0 1 0 3.5 0a1.75 1.75 0 1 0 -3.5 0M305.1 200.5a1.75 1.75 0 1 0 3.5 0a1.75 1.75 0 1 0 -3.5 0M321.2 237.3a1.75 1.75 0 1 0 3.5 0a1.75 1.75 0 1 0 -3.5 0M314.4 244.6a1.75 1.75 0 1 0 3.5 0a1.75 1.75 0 1 0 -3.5 0M318.2 251.1a1.75 1.75 0 1 0 3.5 0a1.75 1.75 0 1 0 -3.5 0M315.2 244.9a1.75 1.75 0 1 0 3.5 0a1.75 1.75 0 1 0 -3.5 0M328.4 253.8a1.75 1.75 0 1 0 3.5 0a1.75 1.75 0 1 0 -3.5 0M322.0 207.5a1.75 1.75 0 1 0 3.5 0a1.75 1.75 0 1 0 -3.5 0M316.2 213.4a1.75 1.75 0 1 0 3.5 0a1.75 1.75 0 1 0 -3.5 0M307.4 202.9a1.75 1.75 0 1 0 3.5 0a1.75 1.75 0 1 0 -3.5 0M329.9 236.5a1.75 1.75 0 1 0 3.5 0a1.75 1.75 0 1 0 -3.5 0M315.7 209.5a1.75 1.75 0 1 0 3.5 0a1.75 1.75 0 1 0 -3.5 0M325.2 245.5a1.75 1.75 0 1 0 3.5 0a1.75 1.75 0 1 0 -3.5 0M327.5 229.3a1.75 1.75 0 1 0 3.5 0a1.75 1.75 0 1 0 -3.5 0M290.4 173.9a1.75 1.75 0 1 0 3.5 0a1.75 1.75 0 1 0 -3.5 0M318.6 204.8a1.75 1.75 0 1 0 3.5 0a1.75 1.75 0 1 0 -3.5 0M311.6 210.7a1.75 1.75 0 1 0 3.5 0a1.75 1.75 0 1 0 -3.5 0M329.8 237.4a1.75 1.75 0 1 0 3.5 0a1.75 1.75 0 1 0 -3.5 0M313.8 226.0a1.75 1.75 0 1 0 3.5 0a1.75 1.75 0 1 0 -3.5 0M321.6 220.8a1.75 1.75 0 1 0 3.5 0a1.75 1.75 0 1 0 -3.5 0M323.7 217.3a1.75 1.75 0 1 0 3.5 0a1.75 1.75 0 1 0 -3.5 0M309.3 198.7a1.75 1.75 0 1 0 3.5 0a1.75 1.75 0 1 0 -3.5 0M312.6 222.7a1.75 1.75 0 1 0 3.5 0a1.75 1.75 0 1 0 -3.5 0M320.1 203.8a1.75 1.75 0 1 0 3.5 0a1.75 1.75 0 1 0 -3.5 0M325.7 253.4a1.75 1.75 0 1 0 3.5 0a1.75 1.75 0 1 0 -3.5 0M326.9 217.5a1.75 1.75 0 1 0 3.5 0a1.75 1.75 0 1 0 -3.5 0M325.2 222.5a1.75 1.75 0 1 0 3.5 0a1.75 1.75 0 1 0 -3.5 0M327.3 237.7a1.75 1.75 0 1 0 3.5 0a1.75 1.75 0 1 0 -3.5 0M328.4 254.5a1.75 1.75 0 1 0 3.5 0a1.75 1.75 0 1 0 -3.5 0M299.7 192.8a1.75 1.75 0 1 0 3.5 0a1.75 1.75 0 1 0 -3.5 0M316.4 234.9a1.75 1.75 0 1 0 3.5 0a1.75 1.75 0 1 0 -3.5 0M316.3 209.0a1.75 1.75 0 1 0 3.5 0a1.75 1.75 0 1 0 -3.5 0M327.5 235.4a1.75 1.75 0 1 0 3.5 0a1.75 1.75 0 1 0 -3.5 0M308.1 199.1a1.75 1.75 0 1 0 3.5 0a1.75 1.75 0 1 0 -3.5 0M319.0 252.0a1.75 1.75 0 1 0 3.5 0a1.75 1.75 0 1 0 -3.5 0M318.3 233.6a1.75 1.75 0 1 0 3.5 0a1.75 1.75 0 1 0 -3.5 0M323.4 223.9a1.75 1.75 0 1 0 3.5 0a1.75 1.75 0 1 0 -3.5 0M318.6 227.0a1.75 1.75 0 1 0 3.5 0a1.75 1.75 0 1 0 -3.5 0M315.1 197.3a1.75 1.75 0 1 0 3.5 0a1.75 1.75 0 1 0 -3.5 0M320.6 203.6a1.75 1.75 0 1 0 3.5 0a1.75 1.75 0 1 0 -3.5 0M323.5 247.5a1.75 1.75 0 1 0 3.5 0a1.75 1.75 0 1 0 -3.5 0M294.8 188.4a1.75 1.75 0 1 0 3.5 0a1.75 1.75 0 1 0 -3.5 0M315.3 235.7a1.75 1.75 0 1 0 3.5 0a1.75 1.75 0 1 0 -3.5 0M306.4 194.0a1.75 1.75 0 1 0 3.5 0a1.75 1.75 0 1 0 -3.5 0M294.2 184.3a1.75 1.75 0 1 0 3.5 0a1.75 1.75 0 1 0 -3.5 0M324.3 218.5a1.75 1.75 0 1 0 3.5 0a1.75 1.75 0 1 0 -3.5 0M315.1 224.5a1.75 1.75 0 1 0 3.5 0a1.75 1.75 0 1 0 -3.5 0M310.6 210.8a1.75 1.75 0 1 0 3.5 0a1.75 1.75 0 1 0 -3.5 0M314.9 204.2a1.75 1.75 0 1 0 3.5 0a1.75 1.75 0 1 0 -3.5 0M298.0 191.5a1.75 1.75 0 1 0 3.5 0a1.75 1.75 0 1 0 -3.5 0M320.8 230.6a1.75 1.75 0 1 0 3.5 0a1.75 1.75 0 1 0 -3.5 0M299.8 184.4a1.75 1.75 0 1 0 3.5 0a1.75 1.75 0 1 0 -3.5 0M298.2 189.8a1.75 1.75 0 1 0 3.5 0a1.75 1.75 0 1 0 -3.5 0M313.2 255.2a1.75 1.75 0 1 0 3.5 0a1.75 1.75 0 1 0 -3.5 0M301.1 181.6a1.75 1.75 0 1 0 3.5 0a1.75 1.75 0 1 0 -3.5 0M319.5 255.3a1.75 1.75 0 1 0 3.5 0a1.75 1.75 0 1 0 -3.5 0M317.4 240.9a1.75 1.75 0 1 0 3.5 0a1.75 1.75 0 1 0 -3.5 0M322.9 242.5a1.75 1.75 0 1 0 3.5 0a1.75 1.75 0 1 0 -3.5 0M325.8 254.0a1.75 1.75 0 1 0 3.5 0a1.75 1.75 0 1 0 -3.5 0M318.7 205.0a1.75 1.75 0 1 0 3.5 0a1.75 1.75 0 1 0 -3.5 0M296.4 187.4a1.75 1.75 0 1 0 3.5 0a1.75 1.75 0 1 0 -3.5 0M290.5 172.9a1.75 1.75 0 1 0 3.5 0a1.75 1.75 0 1 0 -3.5 0M293.9 253.3a1.75 1.75 0 1 0 3.5 0a1.75 1.75 0 1 0 -3.5 0M290.9 238.5a1.75 1.75 0 1 0 3.5 0a1.75 1.75 0 1 0 -3.5 0M293.5 257.7a1.75 1.75 0 1 0 3.5 0a1.75 1.75 0 1 0 -3.5 0M293.4 241.8a1.75 1.75 0 1 0 3.5 0a1.75 1.75 0 1 0 -3.5 0M293.7 249.2a1.75 1.75 0 1 0 3.5 0a1.75 1.75 0 1 0 -3.5 0M306.1 252.7a1.75 1.75 0 1 0 3.5 0a1.75 1.75 0 1 0 -3.5 0M307.9 247.9a1.75 1.75 0 1 0 3.5 0a1.75 1.75 0 1 0 -3.5 0M291.5 242.3a1.75 1.75 0 1 0 3.5 0a1.75 1.75 0 1 0 -3.5 0M287.6 251.3a1.75 1.75 0 1 0 3.5 0a1.75 1.75 0 1 0 -3.5 0M294.4 245.8a1.75 1.75 0 1 0 3.5 0a1.75 1.75 0 1 0 -3.5 0M295.8 239.0a1.75 1.75 0 1 0 3.5 0a1.75 1.75 0 1 0 -3.5 0M296.1 241.5a1.75 1.75 0 1 0 3.5 0a1.75 1.75 0 1 0 -3.5 0M290.1 257.7a1.75 1.75 0 1 0 3.5 0a1.75 1.75 0 1 0 -3.5 0M290.8 253.3a1.75 1.75 0 1 0 3.5 0a1.75 1.75 0 1 0 -3.5 0M297.8 245.6a1.75 1.75 0 1 0 3.5 0a1.75 1.75 0 1 0 -3.5 0M310.5 249.3a1.75 1.75 0 1 0 3.5 0a1.75 1.75 0 1 0 -3.5 0M309.3 242.8a1.75 1.75 0 1 0 3.5 0a1.75 1.75 0 1 0 -3.5 0M299.8 243.3a1.75 1.75 0 1 0 3.5 0a1.75 1.75 0 1 0 -3.5 0M306.3 239.4a1.75 1.75 0 1 0 3.5 0a1.75 1.75 0 1 0 -3.5 0M292.2 258.8a1.75 1.75 0 1 0 3.5 0a1.75 1.75 0 1 0 -3.5 0M299.6 248.2a1.75 1.75 0 1 0 3.5 0a1.75 1.75 0 1 0 -3.5 0M294.6 259.5a1.75 1.75 0 1 0 3.5 0a1.75 1.75 0 1 0 -3.5 0M310.6 248.8a1.75 1.75 0 1 0 3.5 0a1.75 1.75 0 1 0 -3.5 0M298.4 240.9a1.75 1.75 0 1 0 3.5 0a1.75 1.75 0 1 0 -3.5 0M296.9 242.1a1.75 1.75 0 1 0 3.5 0a1.75 1.75 0 1 0 -3.5 0M300.3 246.3a1.75 1.75 0 1 0 3.5 0a1.75 1.75 0 1 0 -3.5 0M308.1 252.8a1.75 1.75 0 1 0 3.5 0a1.75 1.75 0 1 0 -3.5 0M306.3 253.4a1.75 1.75 0 1 0 3.5 0a1.75 1.75 0 1 0 -3.5 0M292.3 248.7a1.75 1.75 0 1 0 3.5 0a1.75 1.75 0 1 0 -3.5 0M294.8 247.8a1.75 1.75 0 1 0 3.5 0a1.75 1.75 0 1 0 -3.5 0M288.2 256.9a1.75 1.75 0 1 0 3.5 0a1.75 1.75 0 1 0 -3.5 0M310.4 258.7a1.75 1.75 0 1 0 3.5 0a1.75 1.75 0 1 0 -3.5 0M290.2 239.2a1.75 1.75 0 1 0 3.5 0a1.75 1.75 0 1 0 -3.5 0M298.1 256.8a1.75 1.75 0 1 0 3.5 0a1.75 1.75 0 1 0 -3.5 0M301.5 252.2a1.75 1.75 0 1 0 3.5 0a1.75 1.75 0 1 0 -3.5 0M287.3 238.8a1.75 1.75 0 1 0 3.5 0a1.75 1.75 0 1 0 -3.5 0M309.6 248.5a1.75 1.75 0 1 0 3.5 0a1.75 1.75 0 1 0 -3.5 0M297.7 248.3a1.75 1.75 0 1 0 3.5 0a1.75 1.75 0 1 0 -3.5 0M297.0 246.9a1.75 1.75 0 1 0 3.5 0a1.75 1.75 0 1 0 -3.5 0M288.8 244.3a1.75 1.75 0 1 0 3.5 0a1.75 1.75 0 1 0 -3.5 0M292.0 240.3a1.75 1.75 0 1 0 3.5 0a1.75 1.75 0 1 0 -3.5 0M297.0 252.6a1.75 1.75 0 1 0 3.5 0a1.75 1.75 0 1 0 -3.5 0M308.9 254.6a1.75 1.75 0 1 0 3.5 0a1.75 1.75 0 1 0 -3.5 0M306.2 244.7a1.75 1.75 0 1 0 3.5 0a1.75 1.75 0 1 0 -3.5 0M302.0 241.1a1.75 1.75 0 1 0 3.5 0a1.75 1.75 0 1 0 -3.5 0M294.1 244.9a1.75 1.75 0 1 0 3.5 0a1.75 1.75 0 1 0 -3.5 0M287.1 242.3a1.75 1.75 0 1 0 3.5 0a1.75 1.75 0 1 0 -3.5 0M297.9 253.9a1.75 1.75 0 1 0 3.5 0a1.75 1.75 0 1 0 -3.5 0M307.3 242.9a1.75 1.75 0 1 0 3.5 0a1.75 1.75 0 1 0 -3.5 0M289.0 247.4a1.75 1.75 0 1 0 3.5 0a1.75 1.75 0 1 0 -3.5 0M292.6 241.1a1.75 1.75 0 1 0 3.5 0a1.75 1.75 0 1 0 -3.5 0M303.7 249.1a1.75 1.75 0 1 0 3.5 0a1.75 1.75 0 1 0 -3.5 0M295.6 245.6a1.75 1.75 0 1 0 3.5 0a1.75 1.75 0 1 0 -3.5 0M308.9 257.0a1.75 1.75 0 1 0 3.5 0a1.75 1.75 0 1 0 -3.5 0M290.3 243.0a1.75 1.75 0 1 0 3.5 0a1.75 1.75 0 1 0 -3.5 0M298.3 251.7a1.75 1.75 0 1 0 3.5 0a1.75 1.75 0 1 0 -3.5 0M299.9 240.4a1.75 1.75 0 1 0 3.5 0a1.75 1.75 0 1 0 -3.5 0M310.8 254.7a1.75 1.75 0 1 0 3.5 0a1.75 1.75 0 1 0 -3.5 0M301.6 259.4a1.75 1.75 0 1 0 3.5 0a1.75 1.75 0 1 0 -3.5 0M311.2 251.0a1.75 1.75 0 1 0 3.5 0a1.75 1.75 0 1 0 -3.5 0M297.1 252.1a1.75 1.75 0 1 0 3.5 0a1.75 1.75 0 1 0 -3.5 0M304.8 238.7a1.75 1.75 0 1 0 3.5 0a1.75 1.75 0 1 0 -3.5 0M303.7 248.5a1.75 1.75 0 1 0 3.5 0a1.75 1.75 0 1 0 -3.5 0M301.2 240.9a1.75 1.75 0 1 0 3.5 0a1.75 1.75 0 1 0 -3.5 0M287.4 249.8a1.75 1.75 0 1 0 3.5 0a1.75 1.75 0 1 0 -3.5 0M293.8 255.8a1.75 1.75 0 1 0 3.5 0a1.75 1.75 0 1 0 -3.5 0M310.5 250.6a1.75 1.75 0 1 0 3.5 0a1.75 1.75 0 1 0 -3.5 0M309.3 243.7a1.75 1.75 0 1 0 3.5 0a1.75 1.75 0 1 0 -3.5 0M295.0 245.3a1.75 1.75 0 1 0 3.5 0a1.75 1.75 0 1 0 -3.5 0M295.4 238.7a1.75 1.75 0 1 0 3.5 0a1.75 1.75 0 1 0 -3.5 0M296.9 248.9a1.75 1.75 0 1 0 3.5 0a1.75 1.75 0 1 0 -3.5 0M310.6 246.2a1.75 1.75 0 1 0 3.5 0a1.75 1.75 0 1 0 -3.5 0M292.6 259.2a1.75 1.75 0 1 0 3.5 0a1.75 1.75 0 1 0 -3.5 0M305.2 239.5a1.75 1.75 0 1 0 3.5 0a1.75 1.75 0 1 0 -3.5 0M292.7 244.4a1.75 1.75 0 1 0 3.5 0a1.75 1.75 0 1 0 -3.5 0M305.6 244.5a1.75 1.75 0 1 0 3.5 0a1.75 1.75 0 1 0 -3.5 0M309.3 253.5a1.75 1.75 0 1 0 3.5 0a1.75 1.75 0 1 0 -3.5 0M307.9 256.6a1.75 1.75 0 1 0 3.5 0a1.75 1.75 0 1 0 -3.5 0M303.1 249.7a1.75 1.75 0 1 0 3.5 0a1.75 1.75 0 1 0 -3.5 0M309.0 242.4a1.75 1.75 0 1 0 3.5 0a1.75 1.75 0 1 0 -3.5 0M300.5 249.5a1.75 1.75 0 1 0 3.5 0a1.75 1.75 0 1 0 -3.5 0M293.4 250.2a1.75 1.75 0 1 0 3.5 0a1.75 1.75 0 1 0 -3.5 0M291.9 252.4a1.75 1.75 0 1 0 3.5 0a1.75 1.75 0 1 0 -3.5 0M289.9 253.8a1.75 1.75 0 1 0 3.5 0a1.75 1.75 0 1 0 -3.5 0M302.0 259.1a1.75 1.75 0 1 0 3.5 0a1.75 1.75 0 1 0 -3.5 0M302.1 253.6a1.75 1.75 0 1 0 3.5 0a1.75 1.75 0 1 0 -3.5 0M301.4 255.1a1.75 1.75 0 1 0 3.5 0a1.75 1.75 0 1 0 -3.5 0M302.9 259.2a1.75 1.75 0 1 0 3.5 0a1.75 1.75 0 1 0 -3.5 0M308.4 254.8a1.75 1.75 0 1 0 3.5 0a1.75 1.75 0 1 0 -3.5 0M287.5 239.7a1.75 1.75 0 1 0 3.5 0a1.75 1.75 0 1 0 -3.5 0M305.9 257.8a1.75 1.75 0 1 0 3.5 0a1.75 1.75 0 1 0 -3.5 0M290.9 256.5a1.75 1.75 0 1 0 3.5 0a1.75 1.75 0 1 0 -3.5 0M292.4 257.9a1.75 1.75 0 1 0 3.5 0a1.75 1.75 0 1 0 -3.5 0M289.1 246.2a1.75 1.75 0 1 0 3.5 0a1.75 1.75 0 1 0 -3.5 0M307.3 251.2a1.75 1.75 0 1 0 3.5 0a1.75 1.75 0 1 0 -3.5 0M307.6 249.5a1.75 1.75 0 1 0 3.5 0a1.75 1.75 0 1 0 -3.5 0M288.6 245.0a1.75 1.75 0 1 0 3.5 0a1.75 1.75 0 1 0 -3.5 0M302.1 248.3a1.75 1.75 0 1 0 3.5 0a1.75 1.75 0 1 0 -3.5 0M311.1 250.4a1.75 1.75 0 1 0 3.5 0a1.75 1.75 0 1 0 -3.5 0M297.1 251.2a1.75 1.75 0 1 0 3.5 0a1.75 1.75 0 1 0 -3.5 0M295.6 245.6a1.75 1.75 0 1 0 3.5 0a1.75 1.75 0 1 0 -3.5 0M293.6 246.8a1.75 1.75 0 1 0 3.5 0a1.75 1.75 0 1 0 -3.5 0M310.2 246.1a1.75 1.75 0 1 0 3.5 0a1.75 1.75 0 1 0 -3.5 0M300.9 216.6a1.75 1.75 0 1 0 3.5 0a1.75 1.75 0 1 0 -3.5 0M294.7 230.0a1.75 1.75 0 1 0 3.5 0a1.75 1.75 0 1 0 -3.5 0M298.6 214.6a1.75 1.75 0 1 0 3.5 0a1.75 1.75 0 1 0 -3.5 0M290.4 229.8a1.75 1.75 0 1 0 3.5 0a1.75 1.75 0 1 0 -3.5 0M293.0 226.1a1.75 1.75 0 1 0 3.5 0a1.75 1.75 0 1 0 -3.5 0M301.5 215.7a1.75 1.75 0 1 0 3.5 0a1.75 1.75 0 1 0 -3.5 0M293.7 208.1a1.75 1.75 0 1 0 3.5 0a1.75 1.75 0 1 0 -3.5 0M299.5 209.4a1.75 1.75 0 1 0 3.5 0a1.75 1.75 0 1 0 -3.5 0M297.9 206.9a1.75 1.75 0 1 0 3.5 0a1.75 1.75 0 1 0 -3.5 0M290.4 225.1a1.75 1.75 0 1 0 3.5 0a1.75 1.75 0 1 0 -3.5 0M330.1 212.7a1.75 1.75 0 1 0 3.5 0a1.75 1.75 0 1 0 -3.5 0M329.1 216.3a1.75 1.75 0 1 0 3.5 0a1.75 1.75 0 1 0 -3.5 0M335.1 215.8a1.75 1.75 0 1 0 3.5 0a1.75 1.75 0 1 0 -3.5 0M329.4 215.6a1.75 1.75 0 1 0 3.5 0a1.75 1.75 0 1 0 -3.5 0M330.9 217.6a1.75 1.75 0 1 0 3.5 0a1.75 1.75 0 1 0 -3.5 0M332.4 220.3a1.75 1.75 0 1 0 3.5 0a1.75 1.75 0 1 0 -3.5 0M310.2 259.5a1.75 1.75 0 1 0 3.5 0a1.75 1.75 0 1 0 -3.5 0M304.4 268.0a1.75 1.75 0 1 0 3.5 0a1.75 1.75 0 1 0 -3.5 0M305.0 282.1a1.75 1.75 0 1 0 3.5 0a1.75 1.75 0 1 0 -3.5 0M306.8 279.9a1.75 1.75 0 1 0 3.5 0a1.75 1.75 0 1 0 -3.5 0M307.1 263.0a1.75 1.75 0 1 0 3.5 0a1.75 1.75 0 1 0 -3.5 0M293.6 294.7a1.75 1.75 0 1 0 3.5 0a1.75 1.75 0 1 0 -3.5 0M287.4 293.4a1.75 1.75 0 1 0 3.5 0a1.75 1.75 0 1 0 -3.5 0M290.0 288.2a1.75 1.75 0 1 0 3.5 0a1.75 1.75 0 1 0 -3.5 0M309.3 261.2a1.75 1.75 0 1 0 3.5 0a1.75 1.75 0 1 0 -3.5 0M322.0 262.1a1.75 1.75 0 1 0 3.5 0a1.75 1.75 0 1 0 -3.5 0M304.8 272.2a1.75 1.75 0 1 0 3.5 0a1.75 1.75 0 1 0 -3.5 0M310.8 272.8a1.75 1.75 0 1 0 3.5 0a1.75 1.75 0 1 0 -3.5 0M314.0 266.1a1.75 1.75 0 1 0 3.5 0a1.75 1.75 0 1 0 -3.5 0M280.7 298.7a1.75 1.75 0 1 0 3.5 0a1.75 1.75 0 1 0 -3.5 0M301.7 284.6a1.75 1.75 0 1 0 3.5 0a1.75 1.75 0 1 0 -3.5 0M288.1 289.5a1.75 1.75 0 1 0 3.5 0a1.75 1.75 0 1 0 -3.5 0M296.0 298.3a1.75 1.75 0 1 0 3.5 0a1.75 1.75 0 1 0 -3.5 0M283.5 298.6a1.75 1.75 0 1 0 3.5 0a1.75 1.75 0 1 0 -3.5 0M305.8 266.3a1.75 1.75 0 1 0 3.5 0a1.75 1.75 0 1 0 -3.5 0M293.5 300.3a1.75 1.75 0 1 0 3.5 0a1.75 1.75 0 1 0 -3.5 0M305.7 285.1a1.75 1.75 0 1 0 3.5 0a1.75 1.75 0 1 0 -3.5 0M307.9 278.7a1.75 1.75 0 1 0 3.5 0a1.75 1.75 0 1 0 -3.5 0M308.3 272.3a1.75 1.75 0 1 0 3.5 0a1.75 1.75 0 1 0 -3.5 0M292.0 297.4a1.75 1.75 0 1 0 3.5 0a1.75 1.75 0 1 0 -3.5 0M307.7 278.5a1.75 1.75 0 1 0 3.5 0a1.75 1.75 0 1 0 -3.5 0M290.7 283.4a1.75 1.75 0 1 0 3.5 0a1.75 1.75 0 1 0 -3.5 0M291.2 290.1a1.75 1.75 0 1 0 3.5 0a1.75 1.75 0 1 0 -3.5 0M285.0 303.7a1.75 1.75 0 1 0 3.5 0a1.75 1.75 0 1 0 -3.5 0M294.8 277.1a1.75 1.75 0 1 0 3.5 0a1.75 1.75 0 1 0 -3.5 0M298.3 284.8a1.75 1.75 0 1 0 3.5 0a1.75 1.75 0 1 0 -3.5 0M316.9 264.3a1.75 1.75 0 1 0 3.5 0a1.75 1.75 0 1 0 -3.5 0M295.9 296.5a1.75 1.75 0 1 0 3.5 0a1.75 1.75 0 1 0 -3.5 0M294.9 295.7a1.75 1.75 0 1 0 3.5 0a1.75 1.75 0 1 0 -3.5 0M298.1 294.4a1.75 1.75 0 1 0 3.5 0a1.75 1.75 0 1 0 -3.5 0M314.4 271.1a1.75 1.75 0 1 0 3.5 0a1.75 1.75 0 1 0 -3.5 0M286.5 289.5a1.75 1.75 0 1 0 3.5 0a1.75 1.75 0 1 0 -3.5 0M307.4 283.6a1.75 1.75 0 1 0 3.5 0a1.75 1.75 0 1 0 -3.5 0M301.2 283.6a1.75 1.75 0 1 0 3.5 0a1.75 1.75 0 1 0 -3.5 0M284.0 303.6a1.75 1.75 0 1 0 3.5 0a1.75 1.75 0 1 0 -3.5 0M294.8 291.6a1.75 1.75 0 1 0 3.5 0a1.75 1.75 0 1 0 -3.5 0M284.0 293.9a1.75 1.75 0 1 0 3.5 0a1.75 1.75 0 1 0 -3.5 0M304.5 272.2a1.75 1.75 0 1 0 3.5 0a1.75 1.75 0 1 0 -3.5 0M313.0 276.1a1.75 1.75 0 1 0 3.5 0a1.75 1.75 0 1 0 -3.5 0M300.2 281.6a1.75 1.75 0 1 0 3.5 0a1.75 1.75 0 1 0 -3.5 0M301.1 280.4a1.75 1.75 0 1 0 3.5 0a1.75 1.75 0 1 0 -3.5 0M291.3 292.7a1.75 1.75 0 1 0 3.5 0a1.75 1.75 0 1 0 -3.5 0M291.9 298.1a1.75 1.75 0 1 0 3.5 0a1.75 1.75 0 1 0 -3.5 0M298.2 289.7a1.75 1.75 0 1 0 3.5 0a1.75 1.75 0 1 0 -3.5 0M312.7 276.1a1.75 1.75 0 1 0 3.5 0a1.75 1.75 0 1 0 -3.5 0M298.9 277.1a1.75 1.75 0 1 0 3.5 0a1.75 1.75 0 1 0 -3.5 0M299.6 294.5a1.75 1.75 0 1 0 3.5 0a1.75 1.75 0 1 0 -3.5 0M306.2 277.4a1.75 1.75 0 1 0 3.5 0a1.75 1.75 0 1 0 -3.5 0M285.7 304.2a1.75 1.75 0 1 0 3.5 0a1.75 1.75 0 1 0 -3.5 0M293.4 288.6a1.75 1.75 0 1 0 3.5 0a1.75 1.75 0 1 0 -3.5 0M308.1 259.5a1.75 1.75 0 1 0 3.5 0a1.75 1.75 0 1 0 -3.5 0M304.9 271.8a1.75 1.75 0 1 0 3.5 0a1.75 1.75 0 1 0 -3.5 0M299.7 271.9a1.75 1.75 0 1 0 3.5 0a1.75 1.75 0 1 0 -3.5 0M294.4 285.8a1.75 1.75 0 1 0 3.5 0a1.75 1.75 0 1 0 -3.5 0M297.9 283.6a1.75 1.75 0 1 0 3.5 0a1.75 1.75 0 1 0 -3.5 0M290.2 282.7a1.75 1.75 0 1 0 3.5 0a1.75 1.75 0 1 0 -3.5 0M299.5 276.1a1.75 1.75 0 1 0 3.5 0a1.75 1.75 0 1 0 -3.5 0M327.2 258.4a1.75 1.75 0 1 0 3.5 0a1.75 1.75 0 1 0 -3.5 0M306.9 272.9a1.75 1.75 0 1 0 3.5 0a1.75 1.75 0 1 0 -3.5 0M315.1 272.0a1.75 1.75 0 1 0 3.5 0a1.75 1.75 0 1 0 -3.5 0M310.9 269.3a1.75 1.75 0 1 0 3.5 0a1.75 1.75 0 1 0 -3.5 0M281.8 298.3a1.75 1.75 0 1 0 3.5 0a1.75 1.75 0 1 0 -3.5 0M294.8 288.8a1.75 1.75 0 1 0 3.5 0a1.75 1.75 0 1 0 -3.5 0M309.4 268.3a1.75 1.75 0 1 0 3.5 0a1.75 1.75 0 1 0 -3.5 0M317.7 265.6a1.75 1.75 0 1 0 3.5 0a1.75 1.75 0 1 0 -3.5 0M320.2 260.7a1.75 1.75 0 1 0 3.5 0a1.75 1.75 0 1 0 -3.5 0M296.4 298.7a1.75 1.75 0 1 0 3.5 0a1.75 1.75 0 1 0 -3.5 0M309.8 272.3a1.75 1.75 0 1 0 3.5 0a1.75 1.75 0 1 0 -3.5 0M290.6 304.0a1.75 1.75 0 1 0 3.5 0a1.75 1.75 0 1 0 -3.5 0M296.8 302.0a1.75 1.75 0 1 0 3.5 0a1.75 1.75 0 1 0 -3.5 0M296.2 291.5a1.75 1.75 0 1 0 3.5 0a1.75 1.75 0 1 0 -3.5 0M296.9 289.8a1.75 1.75 0 1 0 3.5 0a1.75 1.75 0 1 0 -3.5 0M297.3 282.1a1.75 1.75 0 1 0 3.5 0a1.75 1.75 0 1 0 -3.5 0M298.7 278.6a1.75 1.75 0 1 0 3.5 0a1.75 1.75 0 1 0 -3.5 0M309.2 282.2a1.75 1.75 0 1 0 3.5 0a1.75 1.75 0 1 0 -3.5 0M292.1 280.5a1.75 1.75 0 1 0 3.5 0a1.75 1.75 0 1 0 -3.5 0M287.5 289.0a1.75 1.75 0 1 0 3.5 0a1.75 1.75 0 1 0 -3.5 0M282.2 302.0a1.75 1.75 0 1 0 3.5 0a1.75 1.75 0 1 0 -3.5 0M292.9 298.1a1.75 1.75 0 1 0 3.5 0a1.75 1.75 0 1 0 -3.5 0M324.4 260.3a1.75 1.75 0 1 0 3.5 0a1.75 1.75 0 1 0 -3.5 0M313.7 258.6a1.75 1.75 0 1 0 3.5 0a1.75 1.75 0 1 0 -3.5 0M309.8 263.1a1.75 1.75 0 1 0 3.5 0a1.75 1.75 0 1 0 -3.5 0M295.6 277.9a1.75 1.75 0 1 0 3.5 0a1.75 1.75 0 1 0 -3.5 0M315.1 265.8a1.75 1.75 0 1 0 3.5 0a1.75 1.75 0 1 0 -3.5 0M303.8 280.0a1.75 1.75 0 1 0 3.5 0a1.75 1.75 0 1 0 -3.5 0M323.2 261.9a1.75 1.75 0 1 0 3.5 0a1.75 1.75 0 1 0 -3.5 0M289.2 286.2a1.75 1.75 0 1 0 3.5 0a1.75 1.75 0 1 0 -3.5 0M290.5 298.4a1.75 1.75 0 1 0 3.5 0a1.75 1.75 0 1 0 -3.5 0M296.7 282.5a1.75 1.75 0 1 0 3.5 0a1.75 1.75 0 1 0 -3.5 0M307.4 267.3a1.75 1.75 0 1 0 3.5 0a1.75 1.75 0 1 0 -3.5 0M286.9 295.3a1.75 1.75 0 1 0 3.5 0a1.75 1.75 0 1 0 -3.5 0M312.2 278.3a1.75 1.75 0 1 0 3.5 0a1.75 1.75 0 1 0 -3.5 0M305.7 270.6a1.75 1.75 0 1 0 3.5 0a1.75 1.75 0 1 0 -3.5 0M306.1 273.5a1.75 1.75 0 1 0 3.5 0a1.75 1.75 0 1 0 -3.5 0M299.3 283.6a1.75 1.75 0 1 0 3.5 0a1.75 1.75 0 1 0 -3.5 0M300.7 287.7a1.75 1.75 0 1 0 3.5 0a1.75 1.75 0 1 0 -3.5 0M301.1 289.9a1.75 1.75 0 1 0 3.5 0a1.75 1.75 0 1 0 -3.5 0M288.1 293.5a1.75 1.75 0 1 0 3.5 0a1.75 1.75 0 1 0 -3.5 0M312.3 276.2a1.75 1.75 0 1 0 3.5 0a1.75 1.75 0 1 0 -3.5 0M292.2 284.6a1.75 1.75 0 1 0 3.5 0a1.75 1.75 0 1 0 -3.5 0M301.3 275.9a1.75 1.75 0 1 0 3.5 0a1.75 1.75 0 1 0 -3.5 0M294.6 300.9a1.75 1.75 0 1 0 3.5 0a1.75 1.75 0 1 0 -3.5 0M293.5 302.1a1.75 1.75 0 1 0 3.5 0a1.75 1.75 0 1 0 -3.5 0M315.6 269.7a1.75 1.75 0 1 0 3.5 0a1.75 1.75 0 1 0 -3.5 0M314.0 265.4a1.75 1.75 0 1 0 3.5 0a1.75 1.75 0 1 0 -3.5 0M316.7 267.0a1.75 1.75 0 1 0 3.5 0a1.75 1.75 0 1 0 -3.5 0M308.6 283.4a1.75 1.75 0 1 0 3.5 0a1.75 1.75 0 1 0 -3.5 0M309.5 270.5a1.75 1.75 0 1 0 3.5 0a1.75 1.75 0 1 0 -3.5 0M286.5 303.1a1.75 1.75 0 1 0 3.5 0a1.75 1.75 0 1 0 -3.5 0M284.1 297.3a1.75 1.75 0 1 0 3.5 0a1.75 1.75 0 1 0 -3.5 0M311.3 258.7a1.75 1.75 0 1 0 3.5 0a1.75 1.75 0 1 0 -3.5 0M306.2 263.8a1.75 1.75 0 1 0 3.5 0a1.75 1.75 0 1 0 -3.5 0M311.7 267.5a1.75 1.75 0 1 0 3.5 0a1.75 1.75 0 1 0 -3.5 0M287.2 288.9a1.75 1.75 0 1 0 3.5 0a1.75 1.75 0 1 0 -3.5 0M288.0 302.9a1.75 1.75 0 1 0 3.5 0a1.75 1.75 0 1 0 -3.5 0M305.7 277.0a1.75 1.75 0 1 0 3.5 0a1.75 1.75 0 1 0 -3.5 0M287.8 302.3a1.75 1.75 0 1 0 3.5 0a1.75 1.75 0 1 0 -3.5 0M296.5 290.9a1.75 1.75 0 1 0 3.5 0a1.75 1.75 0 1 0 -3.5 0M300.2 270.3a1.75 1.75 0 1 0 3.5 0a1.75 1.75 0 1 0 -3.5 0M310.4 269.1a1.75 1.75 0 1 0 3.5 0a1.75 1.75 0 1 0 -3.5 0M314.2 260.8a1.75 1.75 0 1 0 3.5 0a1.75 1.75 0 1 0 -3.5 0M312.1 260.7a1.75 1.75 0 1 0 3.5 0a1.75 1.75 0 1 0 -3.5 0M296.3 298.1a1.75 1.75 0 1 0 3.5 0a1.75 1.75 0 1 0 -3.5 0M287.8 296.2a1.75 1.75 0 1 0 3.5 0a1.75 1.75 0 1 0 -3.5 0M311.1 260.0a1.75 1.75 0 1 0 3.5 0a1.75 1.75 0 1 0 -3.5 0M290.5 303.7a1.75 1.75 0 1 0 3.5 0a1.75 1.75 0 1 0 -3.5 0M298.0 274.6a1.75 1.75 0 1 0 3.5 0a1.75 1.75 0 1 0 -3.5 0M300.6 280.3a1.75 1.75 0 1 0 3.5 0a1.75 1.75 0 1 0 -3.5 0M315.2 265.7a1.75 1.75 0 1 0 3.5 0a1.75 1.75 0 1 0 -3.5 0M295.0 284.7a1.75 1.75 0 1 0 3.5 0a1.75 1.75 0 1 0 -3.5 0M288.3 296.9a1.75 1.75 0 1 0 3.5 0a1.75 1.75 0 1 0 -3.5 0M309.3 280.0a1.75 1.75 0 1 0 3.5 0a1.75 1.75 0 1 0 -3.5 0M309.6 265.7a1.75 1.75 0 1 0 3.5 0a1.75 1.75 0 1 0 -3.5 0M301.4 285.4a1.75 1.75 0 1 0 3.5 0a1.75 1.75 0 1 0 -3.5 0M323.7 258.0a1.75 1.75 0 1 0 3.5 0a1.75 1.75 0 1 0 -3.5 0M294.4 286.1a1.75 1.75 0 1 0 3.5 0a1.75 1.75 0 1 0 -3.5 0M288.6 303.9a1.75 1.75 0 1 0 3.5 0a1.75 1.75 0 1 0 -3.5 0M304.0 265.6a1.75 1.75 0 1 0 3.5 0a1.75 1.75 0 1 0 -3.5 0M286.9 300.8a1.75 1.75 0 1 0 3.5 0a1.75 1.75 0 1 0 -3.5 0M300.5 283.8a1.75 1.75 0 1 0 3.5 0a1.75 1.75 0 1 0 -3.5 0M304.6 279.7a1.75 1.75 0 1 0 3.5 0a1.75 1.75 0 1 0 -3.5 0M288.0 304.2a1.75 1.75 0 1 0 3.5 0a1.75 1.75 0 1 0 -3.5 0M294.4 302.6a1.75 1.75 0 1 0 3.5 0a1.75 1.75 0 1 0 -3.5 0M296.4 300.1a1.75 1.75 0 1 0 3.5 0a1.75 1.75 0 1 0 -3.5 0M283.6 300.1a1.75 1.75 0 1 0 3.5 0a1.75 1.75 0 1 0 -3.5 0M305.4 263.3a1.75 1.75 0 1 0 3.5 0a1.75 1.75 0 1 0 -3.5 0M296.4 302.5a1.75 1.75 0 1 0 3.5 0a1.75 1.75 0 1 0 -3.5 0M303.7 288.5a1.75 1.75 0 1 0 3.5 0a1.75 1.75 0 1 0 -3.5 0M288.9 294.8a1.75 1.75 0 1 0 3.5 0a1.75 1.75 0 1 0 -3.5 0M300.8 279.1a1.75 1.75 0 1 0 3.5 0a1.75 1.75 0 1 0 -3.5 0M312.3 267.8a1.75 1.75 0 1 0 3.5 0a1.75 1.75 0 1 0 -3.5 0M282.6 296.6a1.75 1.75 0 1 0 3.5 0a1.75 1.75 0 1 0 -3.5 0M291.1 294.4a1.75 1.75 0 1 0 3.5 0a1.75 1.75 0 1 0 -3.5 0M290.0 287.7a1.75 1.75 0 1 0 3.5 0a1.75 1.75 0 1 0 -3.5 0M292.5 281.6a1.75 1.75 0 1 0 3.5 0a1.75 1.75 0 1 0 -3.5 0M292.3 291.4a1.75 1.75 0 1 0 3.5 0a1.75 1.75 0 1 0 -3.5 0M281.1 304.2a1.75 1.75 0 1 0 3.5 0a1.75 1.75 0 1 0 -3.5 0M299.3 278.4a1.75 1.75 0 1 0 3.5 0a1.75 1.75 0 1 0 -3.5 0M301.5 282.1a1.75 1.75 0 1 0 3.5 0a1.75 1.75 0 1 0 -3.5 0M309.9 259.8a1.75 1.75 0 1 0 3.5 0a1.75 1.75 0 1 0 -3.5 0M285.5 304.3a1.75 1.75 0 1 0 3.5 0a1.75 1.75 0 1 0 -3.5 0M296.2 295.6a1.75 1.75 0 1 0 3.5 0a1.75 1.75 0 1 0 -3.5 0M318.8 262.4a1.75 1.75 0 1 0 3.5 0a1.75 1.75 0 1 0 -3.5 0M314.9 261.9a1.75 1.75 0 1 0 3.5 0a1.75 1.75 0 1 0 -3.5 0M316.3 270.6a1.75 1.75 0 1 0 3.5 0a1.75 1.75 0 1 0 -3.5 0M290.3 291.4a1.75 1.75 0 1 0 3.5 0a1.75 1.75 0 1 0 -3.5 0M287.2 289.4a1.75 1.75 0 1 0 3.5 0a1.75 1.75 0 1 0 -3.5 0M310.3 268.9a1.75 1.75 0 1 0 3.5 0a1.75 1.75 0 1 0 -3.5 0M299.4 292.4a1.75 1.75 0 1 0 3.5 0a1.75 1.75 0 1 0 -3.5 0M285.6 289.7a1.75 1.75 0 1 0 3.5 0a1.75 1.75 0 1 0 -3.5 0M314.5 262.7a1.75 1.75 0 1 0 3.5 0a1.75 1.75 0 1 0 -3.5 0M307.4 268.2a1.75 1.75 0 1 0 3.5 0a1.75 1.75 0 1 0 -3.5 0M292.5 299.4a1.75 1.75 0 1 0 3.5 0a1.75 1.75 0 1 0 -3.5 0M295.5 282.7a1.75 1.75 0 1 0 3.5 0a1.75 1.75 0 1 0 -3.5 0M304.7 271.4a1.75 1.75 0 1 0 3.5 0a1.75 1.75 0 1 0 -3.5 0M304.6 273.2a1.75 1.75 0 1 0 3.5 0a1.75 1.75 0 1 0 -3.5 0M311.9 265.1a1.75 1.75 0 1 0 3.5 0a1.75 1.75 0 1 0 -3.5 0M291.7 287.5a1.75 1.75 0 1 0 3.5 0a1.75 1.75 0 1 0 -3.5 0M303.8 288.2a1.75 1.75 0 1 0 3.5 0a1.75 1.75 0 1 0 -3.5 0M285.9 296.4a1.75 1.75 0 1 0 3.5 0a1.75 1.75 0 1 0 -3.5 0M313.3 262.4a1.75 1.75 0 1 0 3.5 0a1.75 1.75 0 1 0 -3.5 0M290.0 291.7a1.75 1.75 0 1 0 3.5 0a1.75 1.75 0 1 0 -3.5 0M306.5 277.1a1.75 1.75 0 1 0 3.5 0a1.75 1.75 0 1 0 -3.5 0M286.2 289.6a1.75 1.75 0 1 0 3.5 0a1.75 1.75 0 1 0 -3.5 0M321.3 260.6a1.75 1.75 0 1 0 3.5 0a1.75 1.75 0 1 0 -3.5 0M279.7 301.4a1.75 1.75 0 1 0 3.5 0a1.75 1.75 0 1 0 -3.5 0M287.6 286.8a1.75 1.75 0 1 0 3.5 0a1.75 1.75 0 1 0 -3.5 0M307.6 266.7a1.75 1.75 0 1 0 3.5 0a1.75 1.75 0 1 0 -3.5 0M308.5 280.5a1.75 1.75 0 1 0 3.5 0a1.75 1.75 0 1 0 -3.5 0M317.1 269.9a1.75 1.75 0 1 0 3.5 0a1.75 1.75 0 1 0 -3.5 0M295.4 278.7a1.75 1.75 0 1 0 3.5 0a1.75 1.75 0 1 0 -3.5 0M296.0 294.0a1.75 1.75 0 1 0 3.5 0a1.75 1.75 0 1 0 -3.5 0M314.7 258.5a1.75 1.75 0 1 0 3.5 0a1.75 1.75 0 1 0 -3.5 0M293.3 302.7a1.75 1.75 0 1 0 3.5 0a1.75 1.75 0 1 0 -3.5 0M307.7 281.7a1.75 1.75 0 1 0 3.5 0a1.75 1.75 0 1 0 -3.5 0M306.4 281.5a1.75 1.75 0 1 0 3.5 0a1.75 1.75 0 1 0 -3.5 0M302.3 274.2a1.75 1.75 0 1 0 3.5 0a1.75 1.75 0 1 0 -3.5 0M299.1 289.9a1.75 1.75 0 1 0 3.5 0a1.75 1.75 0 1 0 -3.5 0M283.3 296.6a1.75 1.75 0 1 0 3.5 0a1.75 1.75 0 1 0 -3.5 0M308.2 260.8a1.75 1.75 0 1 0 3.5 0a1.75 1.75 0 1 0 -3.5 0M292.4 299.2a1.75 1.75 0 1 0 3.5 0a1.75 1.75 0 1 0 -3.5 0M283.5 298.0a1.75 1.75 0 1 0 3.5 0a1.75 1.75 0 1 0 -3.5 0M296.0 279.9a1.75 1.75 0 1 0 3.5 0a1.75 1.75 0 1 0 -3.5 0M326.0 259.2a1.75 1.75 0 1 0 3.5 0a1.75 1.75 0 1 0 -3.5 0M309.5 259.2a1.75 1.75 0 1 0 3.5 0a1.75 1.75 0 1 0 -3.5 0M288.0 298.1a1.75 1.75 0 1 0 3.5 0a1.75 1.75 0 1 0 -3.5 0M299.3 297.4a1.75 1.75 0 1 0 3.5 0a1.75 1.75 0 1 0 -3.5 0M313.7 275.0a1.75 1.75 0 1 0 3.5 0a1.75 1.75 0 1 0 -3.5 0M305.3 284.2a1.75 1.75 0 1 0 3.5 0a1.75 1.75 0 1 0 -3.5 0M297.1 289.6a1.75 1.75 0 1 0 3.5 0a1.75 1.75 0 1 0 -3.5 0M300.2 291.1a1.75 1.75 0 1 0 3.5 0a1.75 1.75 0 1 0 -3.5 0M317.8 260.7a1.75 1.75 0 1 0 3.5 0a1.75 1.75 0 1 0 -3.5 0M293.9 278.8a1.75 1.75 0 1 0 3.5 0a1.75 1.75 0 1 0 -3.5 0M305.4 267.3a1.75 1.75 0 1 0 3.5 0a1.75 1.75 0 1 0 -3.5 0M311.7 275.8a1.75 1.75 0 1 0 3.5 0a1.75 1.75 0 1 0 -3.5 0M307.3 275.8a1.75 1.75 0 1 0 3.5 0a1.75 1.75 0 1 0 -3.5 0M305.7 272.0a1.75 1.75 0 1 0 3.5 0a1.75 1.75 0 1 0 -3.5 0M322.2 262.5a1.75 1.75 0 1 0 3.5 0a1.75 1.75 0 1 0 -3.5 0M303.1 274.5a1.75 1.75 0 1 0 3.5 0a1.75 1.75 0 1 0 -3.5 0M298.5 296.5a1.75 1.75 0 1 0 3.5 0a1.75 1.75 0 1 0 -3.5 0M311.9 262.0a1.75 1.75 0 1 0 3.5 0a1.75 1.75 0 1 0 -3.5 0M298.3 274.7a1.75 1.75 0 1 0 3.5 0a1.75 1.75 0 1 0 -3.5 0M308.2 266.2a1.75 1.75 0 1 0 3.5 0a1.75 1.75 0 1 0 -3.5 0M290.2 292.8a1.75 1.75 0 1 0 3.5 0a1.75 1.75 0 1 0 -3.5 0M297.4 286.7a1.75 1.75 0 1 0 3.5 0a1.75 1.75 0 1 0 -3.5 0M313.7 271.5a1.75 1.75 0 1 0 3.5 0a1.75 1.75 0 1 0 -3.5 0M317.2 259.8a1.75 1.75 0 1 0 3.5 0a1.75 1.75 0 1 0 -3.5 0M317.6 263.4a1.75 1.75 0 1 0 3.5 0a1.75 1.75 0 1 0 -3.5 0M312.6 260.4a1.75 1.75 0 1 0 3.5 0a1.75 1.75 0 1 0 -3.5 0M338.8 273.5a1.75 1.75 0 1 0 3.5 0a1.75 1.75 0 1 0 -3.5 0M337.7 274.5a1.75 1.75 0 1 0 3.5 0a1.75 1.75 0 1 0 -3.5 0M335.8 275.1a1.75 1.75 0 1 0 3.5 0a1.75 1.75 0 1 0 -3.5 0M338.8 270.7a1.75 1.75 0 1 0 3.5 0a1.75 1.75 0 1 0 -3.5 0M338.6 270.5a1.75 1.75 0 1 0 3.5 0a1.75 1.75 0 1 0 -3.5 0M337.1 272.3a1.75 1.75 0 1 0 3.5 0a1.75 1.75 0 1 0 -3.5 0M336.6 270.4a1.75 1.75 0 1 0 3.5 0a1.75 1.75 0 1 0 -3.5 0M336.5 275.2a1.75 1.75 0 1 0 3.5 0a1.75 1.75 0 1 0 -3.5 0M338.7 271.9a1.75 1.75 0 1 0 3.5 0a1.75 1.75 0 1 0 -3.5 0M337.4 276.8a1.75 1.75 0 1 0 3.5 0a1.75 1.75 0 1 0 -3.5 0M335.4 277.3a1.75 1.75 0 1 0 3.5 0a1.75 1.75 0 1 0 -3.5 0M339.3 273.4a1.75 1.75 0 1 0 3.5 0a1.75 1.75 0 1 0 -3.5 0M340.7 276.7a1.75 1.75 0 1 0 3.5 0a1.75 1.75 0 1 0 -3.5 0M335.6 274.6a1.75 1.75 0 1 0 3.5 0a1.75 1.75 0 1 0 -3.5 0M337.1 276.5a1.75 1.75 0 1 0 3.5 0a1.75 1.75 0 1 0 -3.5 0M322.8 273.9a1.75 1.75 0 1 0 3.5 0a1.75 1.75 0 1 0 -3.5 0M328.6 283.5a1.75 1.75 0 1 0 3.5 0a1.75 1.75 0 1 0 -3.5 0M325.3 266.1a1.75 1.75 0 1 0 3.5 0a1.75 1.75 0 1 0 -3.5 0M325.1 286.1a1.75 1.75 0 1 0 3.5 0a1.75 1.75 0 1 0 -3.5 0M331.2 263.7a1.75 1.75 0 1 0 3.5 0a1.75 1.75 0 1 0 -3.5 0M330.5 254.5a1.75 1.75 0 1 0 3.5 0a1.75 1.75 0 1 0 -3.5 0M325.6 255.9a1.75 1.75 0 1 0 3.5 0a1.75 1.75 0 1 0 -3.5 0M327.1 282.6a1.75 1.75 0 1 0 3.5 0a1.75 1.75 0 1 0 -3.5 0M328.6 273.8a1.75 1.75 0 1 0 3.5 0a1.75 1.75 0 1 0 -3.5 0M325.8 254.4a1.75 1.75 0 1 0 3.5 0a1.75 1.75 0 1 0 -3.5 0M326.8 284.3a1.75 1.75 0 1 0 3.5 0a1.75 1.75 0 1 0 -3.5 0M323.0 273.1a1.75 1.75 0 1 0 3.5 0a1.75 1.75 0 1 0 -3.5 0M326.4 277.2a1.75 1.75 0 1 0 3.5 0a1.75 1.75 0 1 0 -3.5 0M327.4 283.8a1.75 1.75 0 1 0 3.5 0a1.75 1.75 0 1 0 -3.5 0M328.8 271.5a1.75 1.75 0 1 0 3.5 0a1.75 1.75 0 1 0 -3.5 0M324.3 280.0a1.75 1.75 0 1 0 3.5 0a1.75 1.75 0 1 0 -3.5 0M322.8 262.8a1.75 1.75 0 1 0 3.5 0a1.75 1.75 0 1 0 -3.5 0M328.1 286.2a1.75 1.75 0 1 0 3.5 0a1.75 1.75 0 1 0 -3.5 0M322.2 264.8a1.75 1.75 0 1 0 3.5 0a1.75 1.75 0 1 0 -3.5 0M329.3 281.9a1.75 1.75 0 1 0 3.5 0a1.75 1.75 0 1 0 -3.5 0M323.3 267.0a1.75 1.75 0 1 0 3.5 0a1.75 1.75 0 1 0 -3.5 0M321.9 275.1a1.75 1.75 0 1 0 3.5 0a1.75 1.75 0 1 0 -3.5 0M323.1 256.7a1.75 1.75 0 1 0 3.5 0a1.75 1.75 0 1 0 -3.5 0M326.6 260.3a1.75 1.75 0 1 0 3.5 0a1.75 1.75 0 1 0 -3.5 0M320.8 289.9a1.75 1.75 0 1 0 3.5 0a1.75 1.75 0 1 0 -3.5 0M326.9 275.1a1.75 1.75 0 1 0 3.5 0a1.75 1.75 0 1 0 -3.5 0M326.0 269.0a1.75 1.75 0 1 0 3.5 0a1.75 1.75 0 1 0 -3.5 0M327.4 258.0a1.75 1.75 0 1 0 3.5 0a1.75 1.75 0 1 0 -3.5 0M328.8 284.9a1.75 1.75 0 1 0 3.5 0a1.75 1.75 0 1 0 -3.5 0M326.3 280.9a1.75 1.75 0 1 0 3.5 0a1.75 1.75 0 1 0 -3.5 0M329.3 277.8a1.75 1.75 0 1 0 3.5 0a1.75 1.75 0 1 0 -3.5 0M323.4 280.7a1.75 1.75 0 1 0 3.5 0a1.75 1.75 0 1 0 -3.5 0M323.7 282.9a1.75 1.75 0 1 0 3.5 0a1.75 1.75 0 1 0 -3.5 0M323.8 272.3a1.75 1.75 0 1 0 3.5 0a1.75 1.75 0 1 0 -3.5 0M326.3 276.1a1.75 1.75 0 1 0 3.5 0a1.75 1.75 0 1 0 -3.5 0M321.6 256.3a1.75 1.75 0 1 0 3.5 0a1.75 1.75 0 1 0 -3.5 0M331.1 265.2a1.75 1.75 0 1 0 3.5 0a1.75 1.75 0 1 0 -3.5 0M324.7 274.7a1.75 1.75 0 1 0 3.5 0a1.75 1.75 0 1 0 -3.5 0M328.7 290.0a1.75 1.75 0 1 0 3.5 0a1.75 1.75 0 1 0 -3.5 0M326.3 262.1a1.75 1.75 0 1 0 3.5 0a1.75 1.75 0 1 0 -3.5 0M316.4 275.9a1.75 1.75 0 1 0 3.5 0a1.75 1.75 0 1 0 -3.5 0M299.0 291.6a1.75 1.75 0 1 0 3.5 0a1.75 1.75 0 1 0 -3.5 0M310.6 283.1a1.75 1.75 0 1 0 3.5 0a1.75 1.75 0 1 0 -3.5 0M311.3 283.5a1.75 1.75 0 1 0 3.5 0a1.75 1.75 0 1 0 -3.5 0M302.2 288.0a1.75 1.75 0 1 0 3.5 0a1.75 1.75 0 1 0 -3.5 0M292.5 303.1a1.75 1.75 0 1 0 3.5 0a1.75 1.75 0 1 0 -3.5 0M285.6 304.4a1.75 1.75 0 1 0 3.5 0a1.75 1.75 0 1 0 -3.5 0M309.3 277.9a1.75 1.75 0 1 0 3.5 0a1.75 1.75 0 1 0 -3.5 0M306.9 294.7a1.75 1.75 0 1 0 3.5 0a1.75 1.75 0 1 0 -3.5 0M314.8 271.7a1.75 1.75 0 1 0 3.5 0a1.75 1.75 0 1 0 -3.5 0M318.2 268.8a1.75 1.75 0 1 0 3.5 0a1.75 1.75 0 1 0 -3.5 0M289.9 295.9a1.75 1.75 0 1 0 3.5 0a1.75 1.75 0 1 0 -3.5 0M310.2 283.0a1.75 1.75 0 1 0 3.5 0a1.75 1.75 0 1 0 -3.5 0M309.1 276.3a1.75 1.75 0 1 0 3.5 0a1.75 1.75 0 1 0 -3.5 0M315.7 273.2a1.75 1.75 0 1 0 3.5 0a1.75 1.75 0 1 0 -3.5 0M306.5 277.0a1.75 1.75 0 1 0 3.5 0a1.75 1.75 0 1 0 -3.5 0M295.6 292.4a1.75 1.75 0 1 0 3.5 0a1.75 1.75 0 1 0 -3.5 0M305.1 277.0a1.75 1.75 0 1 0 3.5 0a1.75 1.75 0 1 0 -3.5 0M315.4 273.6a1.75 1.75 0 1 0 3.5 0a1.75 1.75 0 1 0 -3.5 0M317.3 277.0a1.75 1.75 0 1 0 3.5 0a1.75 1.75 0 1 0 -3.5 0M299.5 302.5a1.75 1.75 0 1 0 3.5 0a1.75 1.75 0 1 0 -3.5 0M289.2 303.0a1.75 1.75 0 1 0 3.5 0a1.75 1.75 0 1 0 -3.5 0M306.1 291.2a1.75 1.75 0 1 0 3.5 0a1.75 1.75 0 1 0 -3.5 0M314.0 284.2a1.75 1.75 0 1 0 3.5 0a1.75 1.75 0 1 0 -3.5 0M312.4 266.6a1.75 1.75 0 1 0 3.5 0a1.75 1.75 0 1 0 -3.5 0M312.6 280.4a1.75 1.75 0 1 0 3.5 0a1.75 1.75 0 1 0 -3.5 0M318.0 267.7a1.75 1.75 0 1 0 3.5 0a1.75 1.75 0 1 0 -3.5 0M290.9 295.9a1.75 1.75 0 1 0 3.5 0a1.75 1.75 0 1 0 -3.5 0M310.9 288.1a1.75 1.75 0 1 0 3.5 0a1.75 1.75 0 1 0 -3.5 0M316.0 278.3a1.75 1.75 0 1 0 3.5 0a1.75 1.75 0 1 0 -3.5 0M304.0 290.5a1.75 1.75 0 1 0 3.5 0a1.75 1.75 0 1 0 -3.5 0M298.9 302.0a1.75 1.75 0 1 0 3.5 0a1.75 1.75 0 1 0 -3.5 0M310.0 270.2a1.75 1.75 0 1 0 3.5 0a1.75 1.75 0 1 0 -3.5 0M312.0 271.3a1.75 1.75 0 1 0 3.5 0a1.75 1.75 0 1 0 -3.5 0M313.3 277.9a1.75 1.75 0 1 0 3.5 0a1.75 1.75 0 1 0 -3.5 0M305.4 278.0a1.75 1.75 0 1 0 3.5 0a1.75 1.75 0 1 0 -3.5 0M307.4 276.9a1.75 1.75 0 1 0 3.5 0a1.75 1.75 0 1 0 -3.5 0M297.1 303.4a1.75 1.75 0 1 0 3.5 0a1.75 1.75 0 1 0 -3.5 0M291.4 301.1a1.75 1.75 0 1 0 3.5 0a1.75 1.75 0 1 0 -3.5 0M299.5 294.2a1.75 1.75 0 1 0 3.5 0a1.75 1.75 0 1 0 -3.5 0M288.2 297.5a1.75 1.75 0 1 0 3.5 0a1.75 1.75 0 1 0 -3.5 0M307.0 291.1a1.75 1.75 0 1 0 3.5 0a1.75 1.75 0 1 0 -3.5 0M298.3 302.9a1.75 1.75 0 1 0 3.5 0a1.75 1.75 0 1 0 -3.5 0M302.1 289.3a1.75 1.75 0 1 0 3.5 0a1.75 1.75 0 1 0 -3.5 0M311.8 272.1a1.75 1.75 0 1 0 3.5 0a1.75 1.75 0 1 0 -3.5 0M301.8 280.6a1.75 1.75 0 1 0 3.5 0a1.75 1.75 0 1 0 -3.5 0M294.6 299.5a1.75 1.75 0 1 0 3.5 0a1.75 1.75 0 1 0 -3.5 0M311.4 269.0a1.75 1.75 0 1 0 3.5 0a1.75 1.75 0 1 0 -3.5 0M294.5 297.7a1.75 1.75 0 1 0 3.5 0a1.75 1.75 0 1 0 -3.5 0M287.0 302.6a1.75 1.75 0 1 0 3.5 0a1.75 1.75 0 1 0 -3.5 0M291.6 295.7a1.75 1.75 0 1 0 3.5 0a1.75 1.75 0 1 0 -3.5 0M295.5 287.3a1.75 1.75 0 1 0 3.5 0a1.75 1.75 0 1 0 -3.5 0M300.2 282.9a1.75 1.75 0 1 0 3.5 0a1.75 1.75 0 1 0 -3.5 0M306.0 276.0a1.75 1.75 0 1 0 3.5 0a1.75 1.75 0 1 0 -3.5 0M300.9 280.8a1.75 1.75 0 1 0 3.5 0a1.75 1.75 0 1 0 -3.5 0M289.9 301.8a1.75 1.75 0 1 0 3.5 0a1.75 1.75 0 1 0 -3.5 0M308.1 283.6a1.75 1.75 0 1 0 3.5 0a1.75 1.75 0 1 0 -3.5 0M300.4 293.8a1.75 1.75 0 1 0 3.5 0a1.75 1.75 0 1 0 -3.5 0M302.0 282.8a1.75 1.75 0 1 0 3.5 0a1.75 1.75 0 1 0 -3.5 0M298.1 290.5a1.75 1.75 0 1 0 3.5 0a1.75 1.75 0 1 0 -3.5 0M304.9 294.2a1.75 1.75 0 1 0 3.5 0a1.75 1.75 0 1 0 -3.5 0M312.4 287.3a1.75 1.75 0 1 0 3.5 0a1.75 1.75 0 1 0 -3.5 0M289.1 302.5a1.75 1.75 0 1 0 3.5 0a1.75 1.75 0 1 0 -3.5 0M291.4 295.0a1.75 1.75 0 1 0 3.5 0a1.75 1.75 0 1 0 -3.5 0M296.3 294.4a1.75 1.75 0 1 0 3.5 0a1.75 1.75 0 1 0 -3.5 0M305.9 291.2a1.75 1.75 0 1 0 3.5 0a1.75 1.75 0 1 0 -3.5 0M289.2 299.6a1.75 1.75 0 1 0 3.5 0a1.75 1.75 0 1 0 -3.5 0M303.0 290.6a1.75 1.75 0 1 0 3.5 0a1.75 1.75 0 1 0 -3.5 0M299.1 289.4a1.75 1.75 0 1 0 3.5 0a1.75 1.75 0 1 0 -3.5 0M311.9 272.6a1.75 1.75 0 1 0 3.5 0a1.75 1.75 0 1 0 -3.5 0M297.3 299.4a1.75 1.75 0 1 0 3.5 0a1.75 1.75 0 1 0 -3.5 0M299.2 300.3a1.75 1.75 0 1 0 3.5 0a1.75 1.75 0 1 0 -3.5 0M307.0 284.8a1.75 1.75 0 1 0 3.5 0a1.75 1.75 0 1 0 -3.5 0M293.5 291.1a1.75 1.75 0 1 0 3.5 0a1.75 1.75 0 1 0 -3.5 0M302.5 288.1a1.75 1.75 0 1 0 3.5 0a1.75 1.75 0 1 0 -3.5 0M311.9 285.6a1.75 1.75 0 1 0 3.5 0a1.75 1.75 0 1 0 -3.5 0M301.6 295.4a1.75 1.75 0 1 0 3.5 0a1.75 1.75 0 1 0 -3.5 0M309.7 269.7a1.75 1.75 0 1 0 3.5 0a1.75 1.75 0 1 0 -3.5 0M285.4 301.4a1.75 1.75 0 1 0 3.5 0a1.75 1.75 0 1 0 -3.5 0M302.2 284.1a1.75 1.75 0 1 0 3.5 0a1.75 1.75 0 1 0 -3.5 0M294.0 294.5a1.75 1.75 0 1 0 3.5 0a1.75 1.75 0 1 0 -3.5 0M301.4 298.8a1.75 1.75 0 1 0 3.5 0a1.75 1.75 0 1 0 -3.5 0M295.1 290.6a1.75 1.75 0 1 0 3.5 0a1.75 1.75 0 1 0 -3.5 0M292.2 304.7a1.75 1.75 0 1 0 3.5 0a1.75 1.75 0 1 0 -3.5 0M285.9 303.7a1.75 1.75 0 1 0 3.5 0a1.75 1.75 0 1 0 -3.5 0M310.5 277.3a1.75 1.75 0 1 0 3.5 0a1.75 1.75 0 1 0 -3.5 0M313.5 269.9a1.75 1.75 0 1 0 3.5 0a1.75 1.75 0 1 0 -3.5 0M312.3 271.3a1.75 1.75 0 1 0 3.5 0a1.75 1.75 0 1 0 -3.5 0M287.2 304.9a1.75 1.75 0 1 0 3.5 0a1.75 1.75 0 1 0 -3.5 0M295.9 300.2a1.75 1.75 0 1 0 3.5 0a1.75 1.75 0 1 0 -3.5 0M306.5 293.6a1.75 1.75 0 1 0 3.5 0a1.75 1.75 0 1 0 -3.5 0M312.0 284.2a1.75 1.75 0 1 0 3.5 0a1.75 1.75 0 1 0 -3.5 0M309.2 279.0a1.75 1.75 0 1 0 3.5 0a1.75 1.75 0 1 0 -3.5 0M312.9 266.7a1.75 1.75 0 1 0 3.5 0a1.75 1.75 0 1 0 -3.5 0M292.7 295.3a1.75 1.75 0 1 0 3.5 0a1.75 1.75 0 1 0 -3.5 0M297.5 301.0a1.75 1.75 0 1 0 3.5 0a1.75 1.75 0 1 0 -3.5 0M295.1 296.2a1.75 1.75 0 1 0 3.5 0a1.75 1.75 0 1 0 -3.5 0M295.3 298.3a1.75 1.75 0 1 0 3.5 0a1.75 1.75 0 1 0 -3.5 0M308.8 285.0a1.75 1.75 0 1 0 3.5 0a1.75 1.75 0 1 0 -3.5 0M298.2 302.7a1.75 1.75 0 1 0 3.5 0a1.75 1.75 0 1 0 -3.5 0M311.4 276.4a1.75 1.75 0 1 0 3.5 0a1.75 1.75 0 1 0 -3.5 0M301.8 286.0a1.75 1.75 0 1 0 3.5 0a1.75 1.75 0 1 0 -3.5 0M310.2 276.3a1.75 1.75 0 1 0 3.5 0a1.75 1.75 0 1 0 -3.5 0M314.1 274.8a1.75 1.75 0 1 0 3.5 0a1.75 1.75 0 1 0 -3.5 0M298.7 283.4a1.75 1.75 0 1 0 3.5 0a1.75 1.75 0 1 0 -3.5 0M310.4 281.1a1.75 1.75 0 1 0 3.5 0a1.75 1.75 0 1 0 -3.5 0M295.2 292.1a1.75 1.75 0 1 0 3.5 0a1.75 1.75 0 1 0 -3.5 0M303.3 288.4a1.75 1.75 0 1 0 3.5 0a1.75 1.75 0 1 0 -3.5 0M293.0 303.2a1.75 1.75 0 1 0 3.5 0a1.75 1.75 0 1 0 -3.5 0M312.2 274.4a1.75 1.75 0 1 0 3.5 0a1.75 1.75 0 1 0 -3.5 0M300.9 301.0a1.75 1.75 0 1 0 3.5 0a1.75 1.75 0 1 0 -3.5 0M289.7 302.4a1.75 1.75 0 1 0 3.5 0a1.75 1.75 0 1 0 -3.5 0M320.3 266.7a1.75 1.75 0 1 0 3.5 0a1.75 1.75 0 1 0 -3.5 0M299.0 299.0a1.75 1.75 0 1 0 3.5 0a1.75 1.75 0 1 0 -3.5 0M305.4 288.8a1.75 1.75 0 1 0 3.5 0a1.75 1.75 0 1 0 -3.5 0M310.1 273.8a1.75 1.75 0 1 0 3.5 0a1.75 1.75 0 1 0 -3.5 0M312.1 287.1a1.75 1.75 0 1 0 3.5 0a1.75 1.75 0 1 0 -3.5 0M298.4 289.6a1.75 1.75 0 1 0 3.5 0a1.75 1.75 0 1 0 -3.5 0M295.9 293.0a1.75 1.75 0 1 0 3.5 0a1.75 1.75 0 1 0 -3.5 0M316.9 276.7a1.75 1.75 0 1 0 3.5 0a1.75 1.75 0 1 0 -3.5 0M310.6 272.0a1.75 1.75 0 1 0 3.5 0a1.75 1.75 0 1 0 -3.5 0M303.7 289.6a1.75 1.75 0 1 0 3.5 0a1.75 1.75 0 1 0 -3.5 0M301.4 282.1a1.75 1.75 0 1 0 3.5 0a1.75 1.75 0 1 0 -3.5 0M307.0 277.6a1.75 1.75 0 1 0 3.5 0a1.75 1.75 0 1 0 -3.5 0M298.3 287.1a1.75 1.75 0 1 0 3.5 0a1.75 1.75 0 1 0 -3.5 0M312.3 280.3a1.75 1.75 0 1 0 3.5 0a1.75 1.75 0 1 0 -3.5 0M301.8 290.0a1.75 1.75 0 1 0 3.5 0a1.75 1.75 0 1 0 -3.5 0M303.3 287.7a1.75 1.75 0 1 0 3.5 0a1.75 1.75 0 1 0 -3.5 0M317.7 273.2a1.75 1.75 0 1 0 3.5 0a1.75 1.75 0 1 0 -3.5 0M312.6 280.2a1.75 1.75 0 1 0 3.5 0a1.75 1.75 0 1 0 -3.5 0M311.1 288.8a1.75 1.75 0 1 0 3.5 0a1.75 1.75 0 1 0 -3.5 0M295.7 303.4a1.75 1.75 0 1 0 3.5 0a1.75 1.75 0 1 0 -3.5 0M307.4 286.8a1.75 1.75 0 1 0 3.5 0a1.75 1.75 0 1 0 -3.5 0M318.6 273.7a1.75 1.75 0 1 0 3.5 0a1.75 1.75 0 1 0 -3.5 0M310.5 285.4a1.75 1.75 0 1 0 3.5 0a1.75 1.75 0 1 0 -3.5 0M311.7 273.5a1.75 1.75 0 1 0 3.5 0a1.75 1.75 0 1 0 -3.5 0M298.7 295.8a1.75 1.75 0 1 0 3.5 0a1.75 1.75 0 1 0 -3.5 0M293.8 293.6a1.75 1.75 0 1 0 3.5 0a1.75 1.75 0 1 0 -3.5 0M296.5 292.5a1.75 1.75 0 1 0 3.5 0a1.75 1.75 0 1 0 -3.5 0M306.5 280.0a1.75 1.75 0 1 0 3.5 0a1.75 1.75 0 1 0 -3.5 0M304.4 288.8a1.75 1.75 0 1 0 3.5 0a1.75 1.75 0 1 0 -3.5 0M304.5 282.5a1.75 1.75 0 1 0 3.5 0a1.75 1.75 0 1 0 -3.5 0M316.5 280.5a1.75 1.75 0 1 0 3.5 0a1.75 1.75 0 1 0 -3.5 0M316.5 272.5a1.75 1.75 0 1 0 3.5 0a1.75 1.75 0 1 0 -3.5 0M309.4 284.3a1.75 1.75 0 1 0 3.5 0a1.75 1.75 0 1 0 -3.5 0M307.0 292.7a1.75 1.75 0 1 0 3.5 0a1.75 1.75 0 1 0 -3.5 0M299.5 301.0a1.75 1.75 0 1 0 3.5 0a1.75 1.75 0 1 0 -3.5 0M299.9 282.4a1.75 1.75 0 1 0 3.5 0a1.75 1.75 0 1 0 -3.5 0M315.9 266.2a1.75 1.75 0 1 0 3.5 0a1.75 1.75 0 1 0 -3.5 0M308.7 274.0a1.75 1.75 0 1 0 3.5 0a1.75 1.75 0 1 0 -3.5 0M314.9 267.1a1.75 1.75 0 1 0 3.5 0a1.75 1.75 0 1 0 -3.5 0M309.9 271.2a1.75 1.75 0 1 0 3.5 0a1.75 1.75 0 1 0 -3.5 0M295.8 297.2a1.75 1.75 0 1 0 3.5 0a1.75 1.75 0 1 0 -3.5 0M314.5 268.4a1.75 1.75 0 1 0 3.5 0a1.75 1.75 0 1 0 -3.5 0M305.6 288.4a1.75 1.75 0 1 0 3.5 0a1.75 1.75 0 1 0 -3.5 0M317.1 272.3a1.75 1.75 0 1 0 3.5 0a1.75 1.75 0 1 0 -3.5 0M303.3 289.2a1.75 1.75 0 1 0 3.5 0a1.75 1.75 0 1 0 -3.5 0M289.8 304.6a1.75 1.75 0 1 0 3.5 0a1.75 1.75 0 1 0 -3.5 0M310.0 268.9a1.75 1.75 0 1 0 3.5 0a1.75 1.75 0 1 0 -3.5 0M316.5 275.3a1.75 1.75 0 1 0 3.5 0a1.75 1.75 0 1 0 -3.5 0M301.1 290.9a1.75 1.75 0 1 0 3.5 0a1.75 1.75 0 1 0 -3.5 0M291.8 304.0a1.75 1.75 0 1 0 3.5 0a1.75 1.75 0 1 0 -3.5 0M303.1 282.3a1.75 1.75 0 1 0 3.5 0a1.75 1.75 0 1 0 -3.5 0M300.7 288.0a1.75 1.75 0 1 0 3.5 0a1.75 1.75 0 1 0 -3.5 0M293.9 290.8a1.75 1.75 0 1 0 3.5 0a1.75 1.75 0 1 0 -3.5 0M302.7 297.5a1.75 1.75 0 1 0 3.5 0a1.75 1.75 0 1 0 -3.5 0M298.7 301.3a1.75 1.75 0 1 0 3.5 0a1.75 1.75 0 1 0 -3.5 0M289.1 312.6a1.75 1.75 0 1 0 3.5 0a1.75 1.75 0 1 0 -3.5 0M288.7 311.6a1.75 1.75 0 1 0 3.5 0a1.75 1.75 0 1 0 -3.5 0M298.0 311.6a1.75 1.75 0 1 0 3.5 0a1.75 1.75 0 1 0 -3.5 0M291.2 322.9a1.75 1.75 0 1 0 3.5 0a1.75 1.75 0 1 0 -3.5 0M283.7 320.2a1.75 1.75 0 1 0 3.5 0a1.75 1.75 0 1 0 -3.5 0M291.7 315.7a1.75 1.75 0 1 0 3.5 0a1.75 1.75 0 1 0 -3.5 0M296.1 310.3a1.75 1.75 0 1 0 3.5 0a1.75 1.75 0 1 0 -3.5 0M280.7 310.9a1.75 1.75 0 1 0 3.5 0a1.75 1.75 0 1 0 -3.5 0M296.3 308.1a1.75 1.75 0 1 0 3.5 0a1.75 1.75 0 1 0 -3.5 0M293.9 319.4a1.75 1.75 0 1 0 3.5 0a1.75 1.75 0 1 0 -3.5 0M276.2 310.5a1.75 1.75 0 1 0 3.5 0a1.75 1.75 0 1 0 -3.5 0M278.4 305.8a1.75 1.75 0 1 0 3.5 0a1.75 1.75 0 1 0 -3.5 0M297.5 313.0a1.75 1.75 0 1 0 3.5 0a1.75 1.75 0 1 0 -3.5 0M296.0 306.6a1.75 1.75 0 1 0 3.5 0a1.75 1.75 0 1 0 -3.5 0M280.8 320.8a1.75 1.75 0 1 0 3.5 0a1.75 1.75 0 1 0 -3.5 0M279.5 305.0a1.75 1.75 0 1 0 3.5 0a1.75 1.75 0 1 0 -3.5 0M297.8 316.5a1.75 1.75 0 1 0 3.5 0a1.75 1.75 0 1 0 -3.5 0M284.7 298.9a1.75 1.75 0 1 0 3.5 0a1.75 1.75 0 1 0 -3.5 0M280.8 302.3a1.75 1.75 0 1 0 3.5 0a1.75 1.75 0 1 0 -3.5 0M292.0 303.2a1.75 1.75 0 1 0 3.5 0a1.75 1.75 0 1 0 -3.5 0M298.3 319.0a1.75 1.75 0 1 0 3.5 0a1.75 1.75 0 1 0 -3.5 0M290.9 314.2a1.75 1.75 0 1 0 3.5 0a1.75 1.75 0 1 0 -3.5 0M294.7 318.3a1.75 1.75 0 1 0 3.5 0a1.75 1.75 0 1 0 -3.5 0M297.3 299.5a1.75 1.75 0 1 0 3.5 0a1.75 1.75 0 1 0 -3.5 0M285.8 321.6a1.75 1.75 0 1 0 3.5 0a1.75 1.75 0 1 0 -3.5 0M296.0 308.0a1.75 1.75 0 1 0 3.5 0a1.75 1.75 0 1 0 -3.5 0M283.2 302.9a1.75 1.75 0 1 0 3.5 0a1.75 1.75 0 1 0 -3.5 0M291.2 319.3a1.75 1.75 0 1 0 3.5 0a1.75 1.75 0 1 0 -3.5 0M287.2 308.1a1.75 1.75 0 1 0 3.5 0a1.75 1.75 0 1 0 -3.5 0M289.4 318.8a1.75 1.75 0 1 0 3.5 0a1.75 1.75 0 1 0 -3.5 0M295.7 318.7a1.75 1.75 0 1 0 3.5 0a1.75 1.75 0 1 0 -3.5 0M290.8 316.6a1.75 1.75 0 1 0 3.5 0a1.75 1.75 0 1 0 -3.5 0M299.1 315.1a1.75 1.75 0 1 0 3.5 0a1.75 1.75 0 1 0 -3.5 0M278.9 317.1a1.75 1.75 0 1 0 3.5 0a1.75 1.75 0 1 0 -3.5 0M293.5 317.6a1.75 1.75 0 1 0 3.5 0a1.75 1.75 0 1 0 -3.5 0M291.6 306.3a1.75 1.75 0 1 0 3.5 0a1.75 1.75 0 1 0 -3.5 0M285.3 298.4a1.75 1.75 0 1 0 3.5 0a1.75 1.75 0 1 0 -3.5 0M287.4 322.1a1.75 1.75 0 1 0 3.5 0a1.75 1.75 0 1 0 -3.5 0M299.6 304.2a1.75 1.75 0 1 0 3.5 0a1.75 1.75 0 1 0 -3.5 0M285.8 318.9a1.75 1.75 0 1 0 3.5 0a1.75 1.75 0 1 0 -3.5 0M291.0 301.8a1.75 1.75 0 1 0 3.5 0a1.75 1.75 0 1 0 -3.5 0M296.8 312.1a1.75 1.75 0 1 0 3.5 0a1.75 1.75 0 1 0 -3.5 0M299.4 315.4a1.75 1.75 0 1 0 3.5 0a1.75 1.75 0 1 0 -3.5 0M297.4 307.2a1.75 1.75 0 1 0 3.5 0a1.75 1.75 0 1 0 -3.5 0M294.0 303.5a1.75 1.75 0 1 0 3.5 0a1.75 1.75 0 1 0 -3.5 0M277.7 313.1a1.75 1.75 0 1 0 3.5 0a1.75 1.75 0 1 0 -3.5 0M284.3 321.1a1.75 1.75 0 1 0 3.5 0a1.75 1.75 0 1 0 -3.5 0M286.0 314.5a1.75 1.75 0 1 0 3.5 0a1.75 1.75 0 1 0 -3.5 0M277.2 318.2a1.75 1.75 0 1 0 3.5 0a1.75 1.75 0 1 0 -3.5 0M291.6 313.8a1.75 1.75 0 1 0 3.5 0a1.75 1.75 0 1 0 -3.5 0M297.9 313.0a1.75 1.75 0 1 0 3.5 0a1.75 1.75 0 1 0 -3.5 0M283.5 302.7a1.75 1.75 0 1 0 3.5 0a1.75 1.75 0 1 0 -3.5 0M300.3 307.0a1.75 1.75 0 1 0 3.5 0a1.75 1.75 0 1 0 -3.5 0M292.4 248.2a1.75 1.75 0 1 0 3.5 0a1.75 1.75 0 1 0 -3.5 0M285.2 261.5a1.75 1.75 0 1 0 3.5 0a1.75 1.75 0 1 0 -3.5 0M287.1 252.2a1.75 1.75 0 1 0 3.5 0a1.75 1.75 0 1 0 -3.5 0M296.0 260.9a1.75 1.75 0 1 0 3.5 0a1.75 1.75 0 1 0 -3.5 0M283.6 244.2a1.75 1.75 0 1 0 3.5 0a1.75 1.75 0 1 0 -3.5 0M289.0 252.7a1.75 1.75 0 1 0 3.5 0a1.75 1.75 0 1 0 -3.5 0M285.2 247.2a1.75 1.75 0 1 0 3.5 0a1.75 1.75 0 1 0 -3.5 0M288.8 258.2a1.75 1.75 0 1 0 3.5 0a1.75 1.75 0 1 0 -3.5 0M286.7 251.2a1.75 1.75 0 1 0 3.5 0a1.75 1.75 0 1 0 -3.5 0M283.3 252.2a1.75 1.75 0 1 0 3.5 0a1.75 1.75 0 1 0 -3.5 0M284.2 247.1a1.75 1.75 0 1 0 3.5 0a1.75 1.75 0 1 0 -3.5 0M288.0 260.0a1.75 1.75 0 1 0 3.5 0a1.75 1.75 0 1 0 -3.5 0M292.3 243.2a1.75 1.75 0 1 0 3.5 0a1.75 1.75 0 1 0 -3.5 0M286.1 245.4a1.75 1.75 0 1 0 3.5 0a1.75 1.75 0 1 0 -3.5 0M292.9 248.1a1.75 1.75 0 1 0 3.5 0a1.75 1.75 0 1 0 -3.5 0M291.5 256.5a1.75 1.75 0 1 0 3.5 0a1.75 1.75 0 1 0 -3.5 0M286.8 251.1a1.75 1.75 0 1 0 3.5 0a1.75 1.75 0 1 0 -3.5 0M294.9 247.6a1.75 1.75 0 1 0 3.5 0a1.75 1.75 0 1 0 -3.5 0M289.7 258.0a1.75 1.75 0 1 0 3.5 0a1.75 1.75 0 1 0 -3.5 0M282.7 248.6a1.75 1.75 0 1 0 3.5 0a1.75 1.75 0 1 0 -3.5 0M292.6 249.6a1.75 1.75 0 1 0 3.5 0a1.75 1.75 0 1 0 -3.5 0M295.6 242.4a1.75 1.75 0 1 0 3.5 0a1.75 1.75 0 1 0 -3.5 0M295.0 249.3a1.75 1.75 0 1 0 3.5 0a1.75 1.75 0 1 0 -3.5 0M294.7 249.5a1.75 1.75 0 1 0 3.5 0a1.75 1.75 0 1 0 -3.5 0M288.0 241.4a1.75 1.75 0 1 0 3.5 0a1.75 1.75 0 1 0 -3.5 0M285.0 255.1a1.75 1.75 0 1 0 3.5 0a1.75 1.75 0 1 0 -3.5 0M285.5 244.1a1.75 1.75 0 1 0 3.5 0a1.75 1.75 0 1 0 -3.5 0M293.2 257.3a1.75 1.75 0 1 0 3.5 0a1.75 1.75 0 1 0 -3.5 0M285.5 248.5a1.75 1.75 0 1 0 3.5 0a1.75 1.75 0 1 0 -3.5 0M292.7 247.8a1.75 1.75 0 1 0 3.5 0a1.75 1.75 0 1 0 -3.5 0M291.2 243.1a1.75 1.75 0 1 0 3.5 0a1.75 1.75 0 1 0 -3.5 0M292.2 260.7a1.75 1.75 0 1 0 3.5 0a1.75 1.75 0 1 0 -3.5 0M294.3 245.6a1.75 1.75 0 1 0 3.5 0a1.75 1.75 0 1 0 -3.5 0M286.0 257.5a1.75 1.75 0 1 0 3.5 0a1.75 1.75 0 1 0 -3.5 0M295.2 241.6a1.75 1.75 0 1 0 3.5 0a1.75 1.75 0 1 0 -3.5 0M288.8 256.8a1.75 1.75 0 1 0 3.5 0a1.75 1.75 0 1 0 -3.5 0M295.2 247.1a1.75 1.75 0 1 0 3.5 0a1.75 1.75 0 1 0 -3.5 0M296.4 249.5a1.75 1.75 0 1 0 3.5 0a1.75 1.75 0 1 0 -3.5 0M283.5 244.0a1.75 1.75 0 1 0 3.5 0a1.75 1.75 0 1 0 -3.5 0M287.6 258.1a1.75 1.75 0 1 0 3.5 0a1.75 1.75 0 1 0 -3.5 0M290.8 261.1a1.75 1.75 0 1 0 3.5 0a1.75 1.75 0 1 0 -3.5 0M294.4 243.7a1.75 1.75 0 1 0 3.5 0a1.75 1.75 0 1 0 -3.5 0M289.0 257.0a1.75 1.75 0 1 0 3.5 0a1.75 1.75 0 1 0 -3.5 0M293.5 261.5a1.75 1.75 0 1 0 3.5 0a1.75 1.75 0 1 0 -3.5 0M282.7 245.6a1.75 1.75 0 1 0 3.5 0a1.75 1.75 0 1 0 -3.5 0M286.8 242.3a1.75 1.75 0 1 0 3.5 0a1.75 1.75 0 1 0 -3.5 0M279.6 273.5a1.75 1.75 0 1 0 3.5 0a1.75 1.75 0 1 0 -3.5 0M264.4 274.8a1.75 1.75 0 1 0 3.5 0a1.75 1.75 0 1 0 -3.5 0M249.2 306.4a1.75 1.75 0 1 0 3.5 0a1.75 1.75 0 1 0 -3.5 0M277.6 288.5a1.75 1.75 0 1 0 3.5 0a1.75 1.75 0 1 0 -3.5 0M264.1 298.5a1.75 1.75 0 1 0 3.5 0a1.75 1.75 0 1 0 -3.5 0M263.4 283.6a1.75 1.75 0 1 0 3.5 0a1.75 1.75 0 1 0 -3.5 0M281.5 267.0a1.75 1.75 0 1 0 3.5 0a1.75 1.75 0 1 0 -3.5 0M279.1 299.7a1.75 1.75 0 1 0 3.5 0a1.75 1.75 0 1 0 -3.5 0M262.1 267.9a1.75 1.75 0 1 0 3.5 0a1.75 1.75 0 1 0 -3.5 0M277.8 305.7a1.75 1.75 0 1 0 3.5 0a1.75 1.75 0 1 0 -3.5 0M260.6 284.6a1.75 1.75 0 1 0 3.5 0a1.75 1.75 0 1 0 -3.5 0M265.3 315.1a1.75 1.75 0 1 0 3.5 0a1.75 1.75 0 1 0 -3.5 0M270.8 308.9a1.75 1.75 0 1 0 3.5 0a1.75 1.75 0 1 0 -3.5 0M253.2 273.8a1.75 1.75 0 1 0 3.5 0a1.75 1.75 0 1 0 -3.5 0M274.0 262.8a1.75 1.75 0 1 0 3.5 0a1.75 1.75 0 1 0 -3.5 0M280.3 289.8a1.75 1.75 0 1 0 3.5 0a1.75 1.75 0 1 0 -3.5 0M260.3 312.1a1.75 1.75 0 1 0 3.5 0a1.75 1.75 0 1 0 -3.5 0M251.4 274.0a1.75 1.75 0 1 0 3.5 0a1.75 1.75 0 1 0 -3.5 0M272.6 297.5a1.75 1.75 0 1 0 3.5 0a1.75 1.75 0 1 0 -3.5 0M267.4 308.2a1.75 1.75 0 1 0 3.5 0a1.75 1.75 0 1 0 -3.5 0M257.1 302.6a1.75 1.75 0 1 0 3.5 0a1.75 1.75 0 1 0 -3.5 0M251.6 306.5a1.75 1.75 0 1 0 3.5 0a1.75 1.75 0 1 0 -3.5 0M277.9 293.7a1.75 1.75 0 1 0 3.5 0a1.75 1.75 0 1 0 -3.5 0M253.7 288.2a1.75 1.75 0 1 0 3.5 0a1.75 1.75 0 1 0 -3.5 0M256.2 279.8a1.75 1.75 0 1 0 3.5 0a1.75 1.75 0 1 0 -3.5 0M267.6 304.4a1.75 1.75 0 1 0 3.5 0a1.75 1.75 0 1 0 -3.5 0M252.7 293.0a1.75 1.75 0 1 0 3.5 0a1.75 1.75 0 1 0 -3.5 0M262.1 303.0a1.75 1.75 0 1 0 3.5 0a1.75 1.75 0 1 0 -3.5 0M277.0 318.6a1.75 1.75 0 1 0 3.5 0a1.75 1.75 0 1 0 -3.5 0M278.1 264.1a1.75 1.75 0 1 0 3.5 0a1.75 1.75 0 1 0 -3.5 0M273.2 264.0a1.75 1.75 0 1 0 3.5 0a1.75 1.75 0 1 0 -3.5 0M281.4 282.9a1.75 1.75 0 1 0 3.5 0a1.75 1.75 0 1 0 -3.5 0M249.7 288.3a1.75 1.75 0 1 0 3.5 0a1.75 1.75 0 1 0 -3.5 0M273.6 288.0a1.75 1.75 0 1 0 3.5 0a1.75 1.75 0 1 0 -3.5 0M265.9 293.0a1.75 1.75 0 1 0 3.5 0a1.75 1.75 0 1 0 -3.5 0M262.4 304.8a1.75 1.75 0 1 0 3.5 0a1.75 1.75 0 1 0 -3.5 0M257.1 266.6a1.75 1.75 0 1 0 3.5 0a1.75 1.75 0 1 0 -3.5 0M259.3 299.4a1.75 1.75 0 1 0 3.5 0a1.75 1.75 0 1 0 -3.5 0M250.2 298.3a1.75 1.75 0 1 0 3.5 0a1.75 1.75 0 1 0 -3.5 0M259.5 274.3a1.75 1.75 0 1 0 3.5 0a1.75 1.75 0 1 0 -3.5 0M263.2 275.3a1.75 1.75 0 1 0 3.5 0a1.75 1.75 0 1 0 -3.5 0M258.2 262.3a1.75 1.75 0 1 0 3.5 0a1.75 1.75 0 1 0 -3.5 0M255.7 285.1a1.75 1.75 0 1 0 3.5 0a1.75 1.75 0 1 0 -3.5 0M258.8 285.1a1.75 1.75 0 1 0 3.5 0a1.75 1.75 0 1 0 -3.5 0M265.3 295.9a1.75 1.75 0 1 0 3.5 0a1.75 1.75 0 1 0 -3.5 0M275.4 263.0a1.75 1.75 0 1 0 3.5 0a1.75 1.75 0 1 0 -3.5 0M263.9 314.8a1.75 1.75 0 1 0 3.5 0a1.75 1.75 0 1 0 -3.5 0M263.2 307.3a1.75 1.75 0 1 0 3.5 0a1.75 1.75 0 1 0 -3.5 0M255.9 282.9a1.75 1.75 0 1 0 3.5 0a1.75 1.75 0 1 0 -3.5 0M263.6 316.1a1.75 1.75 0 1 0 3.5 0a1.75 1.75 0 1 0 -3.5 0M271.2 308.1a1.75 1.75 0 1 0 3.5 0a1.75 1.75 0 1 0 -3.5 0M267.6 297.5a1.75 1.75 0 1 0 3.5 0a1.75 1.75 0 1 0 -3.5 0M249.1 274.3a1.75 1.75 0 1 0 3.5 0a1.75 1.75 0 1 0 -3.5 0M274.4 283.3a1.75 1.75 0 1 0 3.5 0a1.75 1.75 0 1 0 -3.5 0M249.7 302.3a1.75 1.75 0 1 0 3.5 0a1.75 1.75 0 1 0 -3.5 0M250.5 297.8a1.75 1.75 0 1 0 3.5 0a1.75 1.75 0 1 0 -3.5 0M251.4 314.6a1.75 1.75 0 1 0 3.5 0a1.75 1.75 0 1 0 -3.5 0M256.3 267.2a1.75 1.75 0 1 0 3.5 0a1.75 1.75 0 1 0 -3.5 0M252.8 282.0a1.75 1.75 0 1 0 3.5 0a1.75 1.75 0 1 0 -3.5 0M257.6 291.0a1.75 1.75 0 1 0 3.5 0a1.75 1.75 0 1 0 -3.5 0M268.6 262.8a1.75 1.75 0 1 0 3.5 0a1.75 1.75 0 1 0 -3.5 0M275.0 278.0a1.75 1.75 0 1 0 3.5 0a1.75 1.75 0 1 0 -3.5 0M252.3 300.3a1.75 1.75 0 1 0 3.5 0a1.75 1.75 0 1 0 -3.5 0M258.0 309.8a1.75 1.75 0 1 0 3.5 0a1.75 1.75 0 1 0 -3.5 0M280.2 289.8a1.75 1.75 0 1 0 3.5 0a1.75 1.75 0 1 0 -3.5 0M267.0 296.3a1.75 1.75 0 1 0 3.5 0a1.75 1.75 0 1 0 -3.5 0M255.3 303.3a1.75 1.75 0 1 0 3.5 0a1.75 1.75 0 1 0 -3.5 0M254.2 294.3a1.75 1.75 0 1 0 3.5 0a1.75 1.75 0 1 0 -3.5 0M250.7 309.8a1.75 1.75 0 1 0 3.5 0a1.75 1.75 0 1 0 -3.5 0M258.1 312.9a1.75 1.75 0 1 0 3.5 0a1.75 1.75 0 1 0 -3.5 0M280.8 273.5a1.75 1.75 0 1 0 3.5 0a1.75 1.75 0 1 0 -3.5 0M261.7 306.0a1.75 1.75 0 1 0 3.5 0a1.75 1.75 0 1 0 -3.5 0M261.2 312.4a1.75 1.75 0 1 0 3.5 0a1.75 1.75 0 1 0 -3.5 0M260.9 293.1a1.75 1.75 0 1 0 3.5 0a1.75 1.75 0 1 0 -3.5 0M252.7 304.4a1.75 1.75 0 1 0 3.5 0a1.75 1.75 0 1 0 -3.5 0M253.8 299.9a1.75 1.75 0 1 0 3.5 0a1.75 1.75 0 1 0 -3.5 0M248.3 269.9a1.75 1.75 0 1 0 3.5 0a1.75 1.75 0 1 0 -3.5 0M255.3 293.9a1.75 1.75 0 1 0 3.5 0a1.75 1.75 0 1 0 -3.5 0M250.0 305.2a1.75 1.75 0 1 0 3.5 0a1.75 1.75 0 1 0 -3.5 0M252.8 288.9a1.75 1.75 0 1 0 3.5 0a1.75 1.75 0 1 0 -3.5 0M251.6 284.2a1.75 1.75 0 1 0 3.5 0a1.75 1.75 0 1 0 -3.5 0M261.5 304.6a1.75 1.75 0 1 0 3.5 0a1.75 1.75 0 1 0 -3.5 0M269.4 269.6a1.75 1.75 0 1 0 3.5 0a1.75 1.75 0 1 0 -3.5 0M266.1 278.9a1.75 1.75 0 1 0 3.5 0a1.75 1.75 0 1 0 -3.5 0M268.4 303.6a1.75 1.75 0 1 0 3.5 0a1.75 1.75 0 1 0 -3.5 0M259.9 312.6a1.75 1.75 0 1 0 3.5 0a1.75 1.75 0 1 0 -3.5 0M273.2 295.0a1.75 1.75 0 1 0 3.5 0a1.75 1.75 0 1 0 -3.5 0M251.2 305.7a1.75 1.75 0 1 0 3.5 0a1.75 1.75 0 1 0 -3.5 0M271.0 314.0a1.75 1.75 0 1 0 3.5 0a1.75 1.75 0 1 0 -3.5 0M255.0 306.0a1.75 1.75 0 1 0 3.5 0a1.75 1.75 0 1 0 -3.5 0M281.1 287.0a1.75 1.75 0 1 0 3.5 0a1.75 1.75 0 1 0 -3.5 0M282.2 263.0a1.75 1.75 0 1 0 3.5 0a1.75 1.75 0 1 0 -3.5 0M276.6 307.0a1.75 1.75 0 1 0 3.5 0a1.75 1.75 0 1 0 -3.5 0M251.9 298.0a1.75 1.75 0 1 0 3.5 0a1.75 1.75 0 1 0 -3.5 0M249.0 314.6a1.75 1.75 0 1 0 3.5 0a1.75 1.75 0 1 0 -3.5 0M267.5 308.6a1.75 1.75 0 1 0 3.5 0a1.75 1.75 0 1 0 -3.5 0M269.2 276.9a1.75 1.75 0 1 0 3.5 0a1.75 1.75 0 1 0 -3.5 0M249.1 272.8a1.75 1.75 0 1 0 3.5 0a1.75 1.75 0 1 0 -3.5 0M254.3 314.4a1.75 1.75 0 1 0 3.5 0a1.75 1.75 0 1 0 -3.5 0M252.5 282.5a1.75 1.75 0 1 0 3.5 0a1.75 1.75 0 1 0 -3.5 0M271.4 299.6a1.75 1.75 0 1 0 3.5 0a1.75 1.75 0 1 0 -3.5 0M259.1 296.0a1.75 1.75 0 1 0 3.5 0a1.75 1.75 0 1 0 -3.5 0M255.8 264.9a1.75 1.75 0 1 0 3.5 0a1.75 1.75 0 1 0 -3.5 0M256.4 286.0a1.75 1.75 0 1 0 3.5 0a1.75 1.75 0 1 0 -3.5 0M256.4 270.0a1.75 1.75 0 1 0 3.5 0a1.75 1.75 0 1 0 -3.5 0M248.4 288.6a1.75 1.75 0 1 0 3.5 0a1.75 1.75 0 1 0 -3.5 0M265.5 316.1a1.75 1.75 0 1 0 3.5 0a1.75 1.75 0 1 0 -3.5 0M253.4 312.6a1.75 1.75 0 1 0 3.5 0a1.75 1.75 0 1 0 -3.5 0M264.5 306.4a1.75 1.75 0 1 0 3.5 0a1.75 1.75 0 1 0 -3.5 0M272.6 295.5a1.75 1.75 0 1 0 3.5 0a1.75 1.75 0 1 0 -3.5 0M269.5 299.8a1.75 1.75 0 1 0 3.5 0a1.75 1.75 0 1 0 -3.5 0M262.8 309.3a1.75 1.75 0 1 0 3.5 0a1.75 1.75 0 1 0 -3.5 0M279.9 304.5a1.75 1.75 0 1 0 3.5 0a1.75 1.75 0 1 0 -3.5 0M261.3 289.3a1.75 1.75 0 1 0 3.5 0a1.75 1.75 0 1 0 -3.5 0M248.5 280.9a1.75 1.75 0 1 0 3.5 0a1.75 1.75 0 1 0 -3.5 0M251.8 281.1a1.75 1.75 0 1 0 3.5 0a1.75 1.75 0 1 0 -3.5 0M249.8 310.6a1.75 1.75 0 1 0 3.5 0a1.75 1.75 0 1 0 -3.5 0M279.6 272.6a1.75 1.75 0 1 0 3.5 0a1.75 1.75 0 1 0 -3.5 0M287.4 267.0a1.75 1.75 0 1 0 3.5 0a1.75 1.75 0 1 0 -3.5 0M288.7 262.7a1.75 1.75 0 1 0 3.5 0a1.75 1.75 0 1 0 -3.5 0M265.6 279.1a1.75 1.75 0 1 0 3.5 0a1.75 1.75 0 1 0 -3.5 0M274.9 275.9a1.75 1.75 0 1 0 3.5 0a1.75 1.75 0 1 0 -3.5 0M287.1 284.0a1.75 1.75 0 1 0 3.5 0a1.75 1.75 0 1 0 -3.5 0M274.4 267.4a1.75 1.75 0 1 0 3.5 0a1.75 1.75 0 1 0 -3.5 0M273.7 276.5a1.75 1.75 0 1 0 3.5 0a1.75 1.75 0 1 0 -3.5 0M277.1 267.1a1.75 1.75 0 1 0 3.5 0a1.75 1.75 0 1 0 -3.5 0M292.9 270.7a1.75 1.75 0 1 0 3.5 0a1.75 1.75 0 1 0 -3.5 0M274.7 279.1a1.75 1.75 0 1 0 3.5 0a1.75 1.75 0 1 0 -3.5 0M283.8 267.7a1.75 1.75 0 1 0 3.5 0a1.75 1.75 0 1 0 -3.5 0M284.6 261.1a1.75 1.75 0 1 0 3.5 0a1.75 1.75 0 1 0 -3.5 0M276.9 278.4a1.75 1.75 0 1 0 3.5 0a1.75 1.75 0 1 0 -3.5 0M283.8 278.0a1.75 1.75 0 1 0 3.5 0a1.75 1.75 0 1 0 -3.5 0M280.5 292.3a1.75 1.75 0 1 0 3.5 0a1.75 1.75 0 1 0 -3.5 0M275.1 288.3a1.75 1.75 0 1 0 3.5 0a1.75 1.75 0 1 0 -3.5 0M281.9 266.2a1.75 1.75 0 1 0 3.5 0a1.75 1.75 0 1 0 -3.5 0M276.3 278.0a1.75 1.75 0 1 0 3.5 0a1.75 1.75 0 1 0 -3.5 0M281.7 264.3a1.75 1.75 0 1 0 3.5 0a1.75 1.75 0 1 0 -3.5 0M290.1 279.7a1.75 1.75 0 1 0 3.5 0a1.75 1.75 0 1 0 -3.5 0M271.3 259.2a1.75 1.75 0 1 0 3.5 0a1.75 1.75 0 1 0 -3.5 0M285.9 265.0a1.75 1.75 0 1 0 3.5 0a1.75 1.75 0 1 0 -3.5 0M279.9 270.2a1.75 1.75 0 1 0 3.5 0a1.75 1.75 0 1 0 -3.5 0M292.9 269.7a1.75 1.75 0 1 0 3.5 0a1.75 1.75 0 1 0 -3.5 0M270.3 266.6a1.75 1.75 0 1 0 3.5 0a1.75 1.75 0 1 0 -3.5 0M278.5 276.0a1.75 1.75 0 1 0 3.5 0a1.75 1.75 0 1 0 -3.5 0M281.6 262.6a1.75 1.75 0 1 0 3.5 0a1.75 1.75 0 1 0 -3.5 0M284.1 258.6a1.75 1.75 0 1 0 3.5 0a1.75 1.75 0 1 0 -3.5 0M280.1 290.5a1.75 1.75 0 1 0 3.5 0a1.75 1.75 0 1 0 -3.5 0M282.8 263.2a1.75 1.75 0 1 0 3.5 0a1.75 1.75 0 1 0 -3.5 0M291.9 268.3a1.75 1.75 0 1 0 3.5 0a1.75 1.75 0 1 0 -3.5 0M276.0 291.2a1.75 1.75 0 1 0 3.5 0a1.75 1.75 0 1 0 -3.5 0M279.2 281.5a1.75 1.75 0 1 0 3.5 0a1.75 1.75 0 1 0 -3.5 0M280.9 275.2a1.75 1.75 0 1 0 3.5 0a1.75 1.75 0 1 0 -3.5 0M281.0 281.4a1.75 1.75 0 1 0 3.5 0a1.75 1.75 0 1 0 -3.5 0M283.7 261.8a1.75 1.75 0 1 0 3.5 0a1.75 1.75 0 1 0 -3.5 0M275.8 274.9a1.75 1.75 0 1 0 3.5 0a1.75 1.75 0 1 0 -3.5 0M287.5 272.3a1.75 1.75 0 1 0 3.5 0a1.75 1.75 0 1 0 -3.5 0M277.7 260.5a1.75 1.75 0 1 0 3.5 0a1.75 1.75 0 1 0 -3.5 0M268.9 282.1a1.75 1.75 0 1 0 3.5 0a1.75 1.75 0 1 0 -3.5 0M295.7 272.9a1.75 1.75 0 1 0 3.5 0a1.75 1.75 0 1 0 -3.5 0M288.6 270.8a1.75 1.75 0 1 0 3.5 0a1.75 1.75 0 1 0 -3.5 0M282.2 272.7a1.75 1.75 0 1 0 3.5 0a1.75 1.75 0 1 0 -3.5 0M268.2 280.8a1.75 1.75 0 1 0 3.5 0a1.75 1.75 0 1 0 -3.5 0M276.6 258.5a1.75 1.75 0 1 0 3.5 0a1.75 1.75 0 1 0 -3.5 0M271.5 286.0a1.75 1.75 0 1 0 3.5 0a1.75 1.75 0 1 0 -3.5 0M266.9 279.1a1.75 1.75 0 1 0 3.5 0a1.75 1.75 0 1 0 -3.5 0M276.3 262.3a1.75 1.75 0 1 0 3.5 0a1.75 1.75 0 1 0 -3.5 0M285.1 264.1a1.75 1.75 0 1 0 3.5 0a1.75 1.75 0 1 0 -3.5 0M271.4 292.9a1.75 1.75 0 1 0 3.5 0a1.75 1.75 0 1 0 -3.5 0M282.3 275.1a1.75 1.75 0 1 0 3.5 0a1.75 1.75 0 1 0 -3.5 0M280.7 272.5a1.75 1.75 0 1 0 3.5 0a1.75 1.75 0 1 0 -3.5 0M270.2 266.7a1.75 1.75 0 1 0 3.5 0a1.75 1.75 0 1 0 -3.5 0M275.1 293.1a1.75 1.75 0 1 0 3.5 0a1.75 1.75 0 1 0 -3.5 0M293.3 273.5a1.75 1.75 0 1 0 3.5 0a1.75 1.75 0 1 0 -3.5 0M269.0 281.6a1.75 1.75 0 1 0 3.5 0a1.75 1.75 0 1 0 -3.5 0M273.5 271.2a1.75 1.75 0 1 0 3.5 0a1.75 1.75 0 1 0 -3.5 0M271.4 270.7a1.75 1.75 0 1 0 3.5 0a1.75 1.75 0 1 0 -3.5 0M297.9 268.5a1.75 1.75 0 1 0 3.5 0a1.75 1.75 0 1 0 -3.5 0M274.1 258.8a1.75 1.75 0 1 0 3.5 0a1.75 1.75 0 1 0 -3.5 0M276.6 276.3a1.75 1.75 0 1 0 3.5 0a1.75 1.75 0 1 0 -3.5 0M290.1 280.2a1.75 1.75 0 1 0 3.5 0a1.75 1.75 0 1 0 -3.5 0M272.1 294.6a1.75 1.75 0 1 0 3.5 0a1.75 1.75 0 1 0 -3.5 0M283.3 278.2a1.75 1.75 0 1 0 3.5 0a1.75 1.75 0 1 0 -3.5 0M270.4 275.9a1.75 1.75 0 1 0 3.5 0a1.75 1.75 0 1 0 -3.5 0M282.9 265.1a1.75 1.75 0 1 0 3.5 0a1.75 1.75 0 1 0 -3.5 0M270.5 279.0a1.75 1.75 0 1 0 3.5 0a1.75 1.75 0 1 0 -3.5 0M275.2 276.7a1.75 1.75 0 1 0 3.5 0a1.75 1.75 0 1 0 -3.5 0M270.9 289.1a1.75 1.75 0 1 0 3.5 0a1.75 1.75 0 1 0 -3.5 0M271.9 281.9a1.75 1.75 0 1 0 3.5 0a1.75 1.75 0 1 0 -3.5 0M272.5 284.6a1.75 1.75 0 1 0 3.5 0a1.75 1.75 0 1 0 -3.5 0M285.2 273.7a1.75 1.75 0 1 0 3.5 0a1.75 1.75 0 1 0 -3.5 0M292.9 278.9a1.75 1.75 0 1 0 3.5 0a1.75 1.75 0 1 0 -3.5 0M277.1 282.6a1.75 1.75 0 1 0 3.5 0a1.75 1.75 0 1 0 -3.5 0M295.6 264.5a1.75 1.75 0 1 0 3.5 0a1.75 1.75 0 1 0 -3.5 0M277.3 263.8a1.75 1.75 0 1 0 3.5 0a1.75 1.75 0 1 0 -3.5 0M295.5 262.3a1.75 1.75 0 1 0 3.5 0a1.75 1.75 0 1 0 -3.5 0M282.2 278.1a1.75 1.75 0 1 0 3.5 0a1.75 1.75 0 1 0 -3.5 0M286.8 264.1a1.75 1.75 0 1 0 3.5 0a1.75 1.75 0 1 0 -3.5 0M272.1 260.4a1.75 1.75 0 1 0 3.5 0a1.75 1.75 0 1 0 -3.5 0M275.3 260.2a1.75 1.75 0 1 0 3.5 0a1.75 1.75 0 1 0 -3.5 0M268.5 263.3a1.75 1.75 0 1 0 3.5 0a1.75 1.75 0 1 0 -3.5 0M277.8 272.5a1.75 1.75 0 1 0 3.5 0a1.75 1.75 0 1 0 -3.5 0M294.3 264.1a1.75 1.75 0 1 0 3.5 0a1.75 1.75 0 1 0 -3.5 0M270.9 278.9a1.75 1.75 0 1 0 3.5 0a1.75 1.75 0 1 0 -3.5 0M273.3 272.1a1.75 1.75 0 1 0 3.5 0a1.75 1.75 0 1 0 -3.5 0M265.7 275.8a1.75 1.75 0 1 0 3.5 0a1.75 1.75 0 1 0 -3.5 0M297.1 261.0a1.75 1.75 0 1 0 3.5 0a1.75 1.75 0 1 0 -3.5 0M293.7 265.8a1.75 1.75 0 1 0 3.5 0a1.75 1.75 0 1 0 -3.5 0M285.3 258.0a1.75 1.75 0 1 0 3.5 0a1.75 1.75 0 1 0 -3.5 0M289.7 266.8a1.75 1.75 0 1 0 3.5 0a1.75 1.75 0 1 0 -3.5 0M288.6 265.6a1.75 1.75 0 1 0 3.5 0a1.75 1.75 0 1 0 -3.5 0M280.3 267.9a1.75 1.75 0 1 0 3.5 0a1.75 1.75 0 1 0 -3.5 0M269.7 285.5a1.75 1.75 0 1 0 3.5 0a1.75 1.75 0 1 0 -3.5 0M273.6 272.4a1.75 1.75 0 1 0 3.5 0a1.75 1.75 0 1 0 -3.5 0M277.0 260.7a1.75 1.75 0 1 0 3.5 0a1.75 1.75 0 1 0 -3.5 0M282.7 274.0a1.75 1.75 0 1 0 3.5 0a1.75 1.75 0 1 0 -3.5 0M270.9 262.6a1.75 1.75 0 1 0 3.5 0a1.75 1.75 0 1 0 -3.5 0M286.3 282.3a1.75 1.75 0 1 0 3.5 0a1.75 1.75 0 1 0 -3.5 0M285.2 264.1a1.75 1.75 0 1 0 3.5 0a1.75 1.75 0 1 0 -3.5 0M277.0 259.7a1.75 1.75 0 1 0 3.5 0a1.75 1.75 0 1 0 -3.5 0M285.8 278.0a1.75 1.75 0 1 0 3.5 0a1.75 1.75 0 1 0 -3.5 0M269.5 281.4a1.75 1.75 0 1 0 3.5 0a1.75 1.75 0 1 0 -3.5 0M267.6 294.5a1.75 1.75 0 1 0 3.5 0a1.75 1.75 0 1 0 -3.5 0M279.5 267.1a1.75 1.75 0 1 0 3.5 0a1.75 1.75 0 1 0 -3.5 0M284.8 264.2a1.75 1.75 0 1 0 3.5 0a1.75 1.75 0 1 0 -3.5 0M296.0 274.5a1.75 1.75 0 1 0 3.5 0a1.75 1.75 0 1 0 -3.5 0M270.8 290.7a1.75 1.75 0 1 0 3.5 0a1.75 1.75 0 1 0 -3.5 0M278.9 274.2a1.75 1.75 0 1 0 3.5 0a1.75 1.75 0 1 0 -3.5 0M266.8 282.5a1.75 1.75 0 1 0 3.5 0a1.75 1.75 0 1 0 -3.5 0M269.5 289.0a1.75 1.75 0 1 0 3.5 0a1.75 1.75 0 1 0 -3.5 0M279.0 265.0a1.75 1.75 0 1 0 3.5 0a1.75 1.75 0 1 0 -3.5 0M277.5 261.7a1.75 1.75 0 1 0 3.5 0a1.75 1.75 0 1 0 -3.5 0M279.1 287.0a1.75 1.75 0 1 0 3.5 0a1.75 1.75 0 1 0 -3.5 0M290.0 279.4a1.75 1.75 0 1 0 3.5 0a1.75 1.75 0 1 0 -3.5 0M273.9 265.0a1.75 1.75 0 1 0 3.5 0a1.75 1.75 0 1 0 -3.5 0M265.7 286.0a1.75 1.75 0 1 0 3.5 0a1.75 1.75 0 1 0 -3.5 0M272.8 276.4a1.75 1.75 0 1 0 3.5 0a1.75 1.75 0 1 0 -3.5 0M267.2 288.4a1.75 1.75 0 1 0 3.5 0a1.75 1.75 0 1 0 -3.5 0M291.1 263.2a1.75 1.75 0 1 0 3.5 0a1.75 1.75 0 1 0 -3.5 0M267.1 264.8a1.75 1.75 0 1 0 3.5 0a1.75 1.75 0 1 0 -3.5 0M281.0 273.7a1.75 1.75 0 1 0 3.5 0a1.75 1.75 0 1 0 -3.5 0M265.6 290.9a1.75 1.75 0 1 0 3.5 0a1.75 1.75 0 1 0 -3.5 0M294.8 276.0a1.75 1.75 0 1 0 3.5 0a1.75 1.75 0 1 0 -3.5 0M271.1 264.2a1.75 1.75 0 1 0 3.5 0a1.75 1.75 0 1 0 -3.5 0M271.8 289.8a1.75 1.75 0 1 0 3.5 0a1.75 1.75 0 1 0 -3.5 0M277.4 283.9a1.75 1.75 0 1 0 3.5 0a1.75 1.75 0 1 0 -3.5 0M288.0 280.7a1.75 1.75 0 1 0 3.5 0a1.75 1.75 0 1 0 -3.5 0M277.9 287.3a1.75 1.75 0 1 0 3.5 0a1.75 1.75 0 1 0 -3.5 0M266.1 267.8a1.75 1.75 0 1 0 3.5 0a1.75 1.75 0 1 0 -3.5 0M266.2 265.9a1.75 1.75 0 1 0 3.5 0a1.75 1.75 0 1 0 -3.5 0M271.5 281.1a1.75 1.75 0 1 0 3.5 0a1.75 1.75 0 1 0 -3.5 0M270.9 259.4a1.75 1.75 0 1 0 3.5 0a1.75 1.75 0 1 0 -3.5 0M274.7 285.9a1.75 1.75 0 1 0 3.5 0a1.75 1.75 0 1 0 -3.5 0M285.4 277.6a1.75 1.75 0 1 0 3.5 0a1.75 1.75 0 1 0 -3.5 0M297.4 259.0a1.75 1.75 0 1 0 3.5 0a1.75 1.75 0 1 0 -3.5 0M287.3 263.4a1.75 1.75 0 1 0 3.5 0a1.75 1.75 0 1 0 -3.5 0M269.6 281.7a1.75 1.75 0 1 0 3.5 0a1.75 1.75 0 1 0 -3.5 0M265.8 289.8a1.75 1.75 0 1 0 3.5 0a1.75 1.75 0 1 0 -3.5 0M272.4 265.3a1.75 1.75 0 1 0 3.5 0a1.75 1.75 0 1 0 -3.5 0M272.0 263.4a1.75 1.75 0 1 0 3.5 0a1.75 1.75 0 1 0 -3.5 0M266.2 278.3a1.75 1.75 0 1 0 3.5 0a1.75 1.75 0 1 0 -3.5 0M279.0 259.3a1.75 1.75 0 1 0 3.5 0a1.75 1.75 0 1 0 -3.5 0M271.7 279.1a1.75 1.75 0 1 0 3.5 0a1.75 1.75 0 1 0 -3.5 0M273.8 292.3a1.75 1.75 0 1 0 3.5 0a1.75 1.75 0 1 0 -3.5 0M276.8 268.8a1.75 1.75 0 1 0 3.5 0a1.75 1.75 0 1 0 -3.5 0M267.9 287.3a1.75 1.75 0 1 0 3.5 0a1.75 1.75 0 1 0 -3.5 0M282.1 272.8a1.75 1.75 0 1 0 3.5 0a1.75 1.75 0 1 0 -3.5 0M283.2 280.0a1.75 1.75 0 1 0 3.5 0a1.75 1.75 0 1 0 -3.5 0M268.0 284.7a1.75 1.75 0 1 0 3.5 0a1.75 1.75 0 1 0 -3.5 0M273.7 293.6a1.75 1.75 0 1 0 3.5 0a1.75 1.75 0 1 0 -3.5 0M173.8 317.5a1.75 1.75 0 1 0 3.5 0a1.75 1.75 0 1 0 -3.5 0M166.6 320.3a1.75 1.75 0 1 0 3.5 0a1.75 1.75 0 1 0 -3.5 0M186.5 290.2a1.75 1.75 0 1 0 3.5 0a1.75 1.75 0 1 0 -3.5 0M172.7 288.3a1.75 1.75 0 1 0 3.5 0a1.75 1.75 0 1 0 -3.5 0M212.5 293.9a1.75 1.75 0 1 0 3.5 0a1.75 1.75 0 1 0 -3.5 0M170.3 294.9a1.75 1.75 0 1 0 3.5 0a1.75 1.75 0 1 0 -3.5 0M198.5 282.8a1.75 1.75 0 1 0 3.5 0a1.75 1.75 0 1 0 -3.5 0M194.0 362.3a1.75 1.75 0 1 0 3.5 0a1.75 1.75 0 1 0 -3.5 0M262.7 374.3a1.75 1.75 0 1 0 3.5 0a1.75 1.75 0 1 0 -3.5 0M239.1 323.5a1.75 1.75 0 1 0 3.5 0a1.75 1.75 0 1 0 -3.5 0M259.0 352.1a1.75 1.75 0 1 0 3.5 0a1.75 1.75 0 1 0 -3.5 0M252.6 355.8a1.75 1.75 0 1 0 3.5 0a1.75 1.75 0 1 0 -3.5 0M253.8 349.0a1.75 1.75 0 1 0 3.5 0a1.75 1.75 0 1 0 -3.5 0M187.0 394.1a1.75 1.75 0 1 0 3.5 0a1.75 1.75 0 1 0 -3.5 0M279.5 337.5a1.75 1.75 0 1 0 3.5 0a1.75 1.75 0 1 0 -3.5 0M246.3 408.8a1.75 1.75 0 1 0 3.5 0a1.75 1.75 0 1 0 -3.5 0M204.2 399.6a1.75 1.75 0 1 0 3.5 0a1.75 1.75 0 1 0 -3.5 0M270.8 314.0a1.75 1.75 0 1 0 3.5 0a1.75 1.75 0 1 0 -3.5 0M213.0 356.2a1.75 1.75 0 1 0 3.5 0a1.75 1.75 0 1 0 -3.5 0M260.4 329.7a1.75 1.75 0 1 0 3.5 0a1.75 1.75 0 1 0 -3.5 0M205.0 343.2a1.75 1.75 0 1 0 3.5 0a1.75 1.75 0 1 0 -3.5 0M245.4 314.8a1.75 1.75 0 1 0 3.5 0a1.75 1.75 0 1 0 -3.5 0M234.4 331.3a1.75 1.75 0 1 0 3.5 0a1.75 1.75 0 1 0 -3.5 0M181.3 369.2a1.75 1.75 0 1 0 3.5 0a1.75 1.75 0 1 0 -3.5 0M192.8 326.6a1.75 1.75 0 1 0 3.5 0a1.75 1.75 0 1 0 -3.5 0M241.7 320.9a1.75 1.75 0 1 0 3.5 0a1.75 1.75 0 1 0 -3.5 0M247.3 391.9a1.75 1.75 0 1 0 3.5 0a1.75 1.75 0 1 0 -3.5 0M244.6 390.3a1.75 1.75 0 1 0 3.5 0a1.75 1.75 0 1 0 -3.5 0M199.8 315.8a1.75 1.75 0 1 0 3.5 0a1.75 1.75 0 1 0 -3.5 0M275.0 323.0a1.75 1.75 0 1 0 3.5 0a1.75 1.75 0 1 0 -3.5 0M207.0 352.3a1.75 1.75 0 1 0 3.5 0a1.75 1.75 0 1 0 -3.5 0M230.5 355.7a1.75 1.75 0 1 0 3.5 0a1.75 1.75 0 1 0 -3.5 0M257.7 358.9a1.75 1.75 0 1 0 3.5 0a1.75 1.75 0 1 0 -3.5 0M234.0 348.0a1.75 1.75 0 1 0 3.5 0a1.75 1.75 0 1 0 -3.5 0M205.4 424.2a1.75 1.75 0 1 0 3.5 0a1.75 1.75 0 1 0 -3.5 0M173.6 406.5a1.75 1.75 0 1 0 3.5 0a1.75 1.75 0 1 0 -3.5 0M262.1 362.2a1.75 1.75 0 1 0 3.5 0a1.75 1.75 0 1 0 -3.5 0M218.9 318.4a1.75 1.75 0 1 0 3.5 0a1.75 1.75 0 1 0 -3.5 0M266.9 346.2a1.75 1.75 0 1 0 3.5 0a1.75 1.75 0 1 0 -3.5 0M256.8 349.9a1.75 1.75 0 1 0 3.5 0a1.75 1.75 0 1 0 -3.5 0M226.6 294.7a1.75 1.75 0 1 0 3.5 0a1.75 1.75 0 1 0 -3.5 0M227.6 301.6a1.75 1.75 0 1 0 3.5 0a1.75 1.75 0 1 0 -3.5 0M240.4 427.3a1.75 1.75 0 1 0 3.5 0a1.75 1.75 0 1 0 -3.5 0M199.6 413.9a1.75 1.75 0 1 0 3.5 0a1.75 1.75 0 1 0 -3.5 0M272.1 315.9a1.75 1.75 0 1 0 3.5 0a1.75 1.75 0 1 0 -3.5 0M201.9 326.5a1.75 1.75 0 1 0 3.5 0a1.75 1.75 0 1 0 -3.5 0M217.2 383.5a1.75 1.75 0 1 0 3.5 0a1.75 1.75 0 1 0 -3.5 0M199.8 338.3a1.75 1.75 0 1 0 3.5 0a1.75 1.75 0 1 0 -3.5 0M175.5 410.9a1.75 1.75 0 1 0 3.5 0a1.75 1.75 0 1 0 -3.5 0M231.9 382.0a1.75 1.75 0 1 0 3.5 0a1.75 1.75 0 1 0 -3.5 0M272.8 337.6a1.75 1.75 0 1 0 3.5 0a1.75 1.75 0 1 0 -3.5 0M243.3 316.3a1.75 1.75 0 1 0 3.5 0a1.75 1.75 0 1 0 -3.5 0M176.5 389.5a1.75 1.75 0 1 0 3.5 0a1.75 1.75 0 1 0 -3.5 0M218.1 329.5a1.75 1.75 0 1 0 3.5 0a1.75 1.75 0 1 0 -3.5 0M202.4 305.6a1.75 1.75 0 1 0 3.5 0a1.75 1.75 0 1 0 -3.5 0M213.7 385.8a1.75 1.75 0 1 0 3.5 0a1.75 1.75 0 1 0 -3.5 0M215.4 295.5a1.75 1.75 0 1 0 3.5 0a1.75 1.75 0 1 0 -3.5 0M209.5 437.6a1.75 1.75 0 1 0 3.5 0a1.75 1.75 0 1 0 -3.5 0M251.3 334.0a1.75 1.75 0 1 0 3.5 0a1.75 1.75 0 1 0 -3.5 0M215.5 343.9a1.75 1.75 0 1 0 3.5 0a1.75 1.75 0 1 0 -3.5 0M216.5 355.4a1.75 1.75 0 1 0 3.5 0a1.75 1.75 0 1 0 -3.5 0M197.4 333.8a1.75 1.75 0 1 0 3.5 0a1.75 1.75 0 1 0 -3.5 0M254.0 369.6a1.75 1.75 0 1 0 3.5 0a1.75 1.75 0 1 0 -3.5 0M260.7 317.4a1.75 1.75 0 1 0 3.5 0a1.75 1.75 0 1 0 -3.5 0M233.2 368.0a1.75 1.75 0 1 0 3.5 0a1.75 1.75 0 1 0 -3.5 0M186.7 345.2a1.75 1.75 0 1 0 3.5 0a1.75 1.75 0 1 0 -3.5 0M180.1 435.3a1.75 1.75 0 1 0 3.5 0a1.75 1.75 0 1 0 -3.5 0M201.5 362.3a1.75 1.75 0 1 0 3.5 0a1.75 1.75 0 1 0 -3.5 0M217.0 297.3a1.75 1.75 0 1 0 3.5 0a1.75 1.75 0 1 0 -3.5 0M219.6 344.2a1.75 1.75 0 1 0 3.5 0a1.75 1.75 0 1 0 -3.5 0M203.7 319.4a1.75 1.75 0 1 0 3.5 0a1.75 1.75 0 1 0 -3.5 0M265.6 312.9a1.75 1.75 0 1 0 3.5 0a1.75 1.75 0 1 0 -3.5 0M270.6 351.7a1.75 1.75 0 1 0 3.5 0a1.75 1.75 0 1 0 -3.5 0M193.1 391.7a1.75 1.75 0 1 0 3.5 0a1.75 1.75 0 1 0 -3.5 0M246.3 308.5a1.75 1.75 0 1 0 3.5 0a1.75 1.75 0 1 0 -3.5 0M188.0 400.7a1.75 1.75 0 1 0 3.5 0a1.75 1.75 0 1 0 -3.5 0M220.8 310.7a1.75 1.75 0 1 0 3.5 0a1.75 1.75 0 1 0 -3.5 0M232.3 367.3a1.75 1.75 0 1 0 3.5 0a1.75 1.75 0 1 0 -3.5 0M204.9 332.4a1.75 1.75 0 1 0 3.5 0a1.75 1.75 0 1 0 -3.5 0M257.9 314.3a1.75 1.75 0 1 0 3.5 0a1.75 1.75 0 1 0 -3.5 0M206.8 410.2a1.75 1.75 0 1 0 3.5 0a1.75 1.75 0 1 0 -3.5 0M192.5 340.0a1.75 1.75 0 1 0 3.5 0a1.75 1.75 0 1 0 -3.5 0M238.5 347.0a1.75 1.75 0 1 0 3.5 0a1.75 1.75 0 1 0 -3.5 0M185.1 395.1a1.75 1.75 0 1 0 3.5 0a1.75 1.75 0 1 0 -3.5 0M205.4 394.0a1.75 1.75 0 1 0 3.5 0a1.75 1.75 0 1 0 -3.5 0M223.1 332.6a1.75 1.75 0 1 0 3.5 0a1.75 1.75 0 1 0 -3.5 0M274.9 328.6a1.75 1.75 0 1 0 3.5 0a1.75 1.75 0 1 0 -3.5 0M216.8 387.8a1.75 1.75 0 1 0 3.5 0a1.75 1.75 0 1 0 -3.5 0M260.5 320.7a1.75 1.75 0 1 0 3.5 0a1.75 1.75 0 1 0 -3.5 0M208.8 409.8a1.75 1.75 0 1 0 3.5 0a1.75 1.75 0 1 0 -3.5 0M231.8 306.8a1.75 1.75 0 1 0 3.5 0a1.75 1.75 0 1 0 -3.5 0M209.4 405.2a1.75 1.75 0 1 0 3.5 0a1.75 1.75 0 1 0 -3.5 0M242.8 399.0a1.75 1.75 0 1 0 3.5 0a1.75 1.75 0 1 0 -3.5 0M197.5 403.7a1.75 1.75 0 1 0 3.5 0a1.75 1.75 0 1 0 -3.5 0M192.1 388.3a1.75 1.75 0 1 0 3.5 0a1.75 1.75 0 1 0 -3.5 0M236.8 348.4a1.75 1.75 0 1 0 3.5 0a1.75 1.75 0 1 0 -3.5 0M162.9 419.7a1.75 1.75 0 1 0 3.5 0a1.75 1.75 0 1 0 -3.5 0M260.7 325.3a1.75 1.75 0 1 0 3.5 0a1.75 1.75 0 1 0 -3.5 0M248.0 340.9a1.75 1.75 0 1 0 3.5 0a1.75 1.75 0 1 0 -3.5 0M257.5 347.2a1.75 1.75 0 1 0 3.5 0a1.75 1.75 0 1 0 -3.5 0M183.1 411.0a1.75 1.75 0 1 0 3.5 0a1.75 1.75 0 1 0 -3.5 0M259.2 361.1a1.75 1.75 0 1 0 3.5 0a1.75 1.75 0 1 0 -3.5 0M221.3 388.8a1.75 1.75 0 1 0 3.5 0a1.75 1.75 0 1 0 -3.5 0M244.4 406.1a1.75 1.75 0 1 0 3.5 0a1.75 1.75 0 1 0 -3.5 0M252.5 315.4a1.75 1.75 0 1 0 3.5 0a1.75 1.75 0 1 0 -3.5 0M235.9 391.2a1.75 1.75 0 1 0 3.5 0a1.75 1.75 0 1 0 -3.5 0M204.4 418.5a1.75 1.75 0 1 0 3.5 0a1.75 1.75 0 1 0 -3.5 0M201.8 321.8a1.75 1.75 0 1 0 3.5 0a1.75 1.75 0 1 0 -3.5 0M231.7 383.1a1.75 1.75 0 1 0 3.5 0a1.75 1.75 0 1 0 -3.5 0M218.5 345.9a1.75 1.75 0 1 0 3.5 0a1.75 1.75 0 1 0 -3.5 0M230.5 384.0a1.75 1.75 0 1 0 3.5 0a1.75 1.75 0 1 0 -3.5 0M246.7 401.3a1.75 1.75 0 1 0 3.5 0a1.75 1.75 0 1 0 -3.5 0M232.0 343.1a1.75 1.75 0 1 0 3.5 0a1.75 1.75 0 1 0 -3.5 0M212.7 342.4a1.75 1.75 0 1 0 3.5 0a1.75 1.75 0 1 0 -3.5 0M243.0 333.8a1.75 1.75 0 1 0 3.5 0a1.75 1.75 0 1 0 -3.5 0M227.8 350.6a1.75 1.75 0 1 0 3.5 0a1.75 1.75 0 1 0 -3.5 0M164.4 420.5a1.75 1.75 0 1 0 3.5 0a1.75 1.75 0 1 0 -3.5 0M252.7 379.0a1.75 1.75 0 1 0 3.5 0a1.75 1.75 0 1 0 -3.5 0M209.3 382.9a1.75 1.75 0 1 0 3.5 0a1.75 1.75 0 1 0 -3.5 0M204.0 357.4a1.75 1.75 0 1 0 3.5 0a1.75 1.75 0 1 0 -3.5 0M206.7 411.4a1.75 1.75 0 1 0 3.5 0a1.75 1.75 0 1 0 -3.5 0M174.4 420.3a1.75 1.75 0 1 0 3.5 0a1.75 1.75 0 1 0 -3.5 0M265.3 300.3a1.75 1.75 0 1 0 3.5 0a1.75 1.75 0 1 0 -3.5 0M171.2 434.1a1.75 1.75 0 1 0 3.5 0a1.75 1.75 0 1 0 -3.5 0M212.1 423.9a1.75 1.75 0 1 0 3.5 0a1.75 1.75 0 1 0 -3.5 0M235.7 326.5a1.75 1.75 0 1 0 3.5 0a1.75 1.75 0 1 0 -3.5 0M227.6 325.2a1.75 1.75 0 1 0 3.5 0a1.75 1.75 0 1 0 -3.5 0M185.3 393.5a1.75 1.75 0 1 0 3.5 0a1.75 1.75 0 1 0 -3.5 0M272.1 337.8a1.75 1.75 0 1 0 3.5 0a1.75 1.75 0 1 0 -3.5 0M191.8 417.5a1.75 1.75 0 1 0 3.5 0a1.75 1.75 0 1 0 -3.5 0M251.6 300.9a1.75 1.75 0 1 0 3.5 0a1.75 1.75 0 1 0 -3.5 0M229.3 412.2a1.75 1.75 0 1 0 3.5 0a1.75 1.75 0 1 0 -3.5 0M243.8 307.8a1.75 1.75 0 1 0 3.5 0a1.75 1.75 0 1 0 -3.5 0M223.8 362.0a1.75 1.75 0 1 0 3.5 0a1.75 1.75 0 1 0 -3.5 0M277.2 316.1a1.75 1.75 0 1 0 3.5 0a1.75 1.75 0 1 0 -3.5 0M233.0 419.6a1.75 1.75 0 1 0 3.5 0a1.75 1.75 0 1 0 -3.5 0M193.0 337.0a1.75 1.75 0 1 0 3.5 0a1.75 1.75 0 1 0 -3.5 0M188.2 434.3a1.75 1.75 0 1 0 3.5 0a1.75 1.75 0 1 0 -3.5 0M237.2 431.3a1.75 1.75 0 1 0 3.5 0a1.75 1.75 0 1 0 -3.5 0M195.6 394.4a1.75 1.75 0 1 0 3.5 0a1.75 1.75 0 1 0 -3.5 0M211.2 371.8a1.75 1.75 0 1 0 3.5 0a1.75 1.75 0 1 0 -3.5 0M219.8 413.4a1.75 1.75 0 1 0 3.5 0a1.75 1.75 0 1 0 -3.5 0M231.5 320.9a1.75 1.75 0 1 0 3.5 0a1.75 1.75 0 1 0 -3.5 0M267.4 319.2a1.75 1.75 0 1 0 3.5 0a1.75 1.75 0 1 0 -3.5 0M199.1 408.1a1.75 1.75 0 1 0 3.5 0a1.75 1.75 0 1 0 -3.5 0M192.9 321.5a1.75 1.75 0 1 0 3.5 0a1.75 1.75 0 1 0 -3.5 0M206.5 417.4a1.75 1.75 0 1 0 3.5 0a1.75 1.75 0 1 0 -3.5 0M218.5 299.5a1.75 1.75 0 1 0 3.5 0a1.75 1.75 0 1 0 -3.5 0M236.4 321.6a1.75 1.75 0 1 0 3.5 0a1.75 1.75 0 1 0 -3.5 0M220.9 311.3a1.75 1.75 0 1 0 3.5 0a1.75 1.75 0 1 0 -3.5 0M264.7 321.1a1.75 1.75 0 1 0 3.5 0a1.75 1.75 0 1 0 -3.5 0M185.8 388.5a1.75 1.75 0 1 0 3.5 0a1.75 1.75 0 1 0 -3.5 0M258.5 309.7a1.75 1.75 0 1 0 3.5 0a1.75 1.75 0 1 0 -3.5 0M262.5 358.7a1.75 1.75 0 1 0 3.5 0a1.75 1.75 0 1 0 -3.5 0M218.4 319.9a1.75 1.75 0 1 0 3.5 0a1.75 1.75 0 1 0 -3.5 0M209.6 303.5a1.75 1.75 0 1 0 3.5 0a1.75 1.75 0 1 0 -3.5 0M205.2 395.6a1.75 1.75 0 1 0 3.5 0a1.75 1.75 0 1 0 -3.5 0M201.5 361.1a1.75 1.75 0 1 0 3.5 0a1.75 1.75 0 1 0 -3.5 0M192.5 359.2a1.75 1.75 0 1 0 3.5 0a1.75 1.75 0 1 0 -3.5 0M274.5 344.0a1.75 1.75 0 1 0 3.5 0a1.75 1.75 0 1 0 -3.5 0M257.9 351.5a1.75 1.75 0 1 0 3.5 0a1.75 1.75 0 1 0 -3.5 0M195.2 428.1a1.75 1.75 0 1 0 3.5 0a1.75 1.75 0 1 0 -3.5 0M186.7 375.0a1.75 1.75 0 1 0 3.5 0a1.75 1.75 0 1 0 -3.5 0M194.7 342.6a1.75 1.75 0 1 0 3.5 0a1.75 1.75 0 1 0 -3.5 0M200.4 428.7a1.75 1.75 0 1 0 3.5 0a1.75 1.75 0 1 0 -3.5 0M252.2 372.9a1.75 1.75 0 1 0 3.5 0a1.75 1.75 0 1 0 -3.5 0M212.7 431.6a1.75 1.75 0 1 0 3.5 0a1.75 1.75 0 1 0 -3.5 0M165.1 427.4a1.75 1.75 0 1 0 3.5 0a1.75 1.75 0 1 0 -3.5 0M202.3 356.9a1.75 1.75 0 1 0 3.5 0a1.75 1.75 0 1 0 -3.5 0M250.7 366.0a1.75 1.75 0 1 0 3.5 0a1.75 1.75 0 1 0 -3.5 0M243.2 403.5a1.75 1.75 0 1 0 3.5 0a1.75 1.75 0 1 0 -3.5 0M211.5 409.8a1.75 1.75 0 1 0 3.5 0a1.75 1.75 0 1 0 -3.5 0M244.4 392.9a1.75 1.75 0 1 0 3.5 0a1.75 1.75 0 1 0 -3.5 0M171.3 410.5a1.75 1.75 0 1 0 3.5 0a1.75 1.75 0 1 0 -3.5 0M208.8 419.7a1.75 1.75 0 1 0 3.5 0a1.75 1.75 0 1 0 -3.5 0M271.2 346.8a1.75 1.75 0 1 0 3.5 0a1.75 1.75 0 1 0 -3.5 0M239.7 390.6a1.75 1.75 0 1 0 3.5 0a1.75 1.75 0 1 0 -3.5 0M235.9 388.1a1.75 1.75 0 1 0 3.5 0a1.75 1.75 0 1 0 -3.5 0M255.6 361.3a1.75 1.75 0 1 0 3.5 0a1.75 1.75 0 1 0 -3.5 0M279.8 314.8a1.75 1.75 0 1 0 3.5 0a1.75 1.75 0 1 0 -3.5 0M241.3 392.0a1.75 1.75 0 1 0 3.5 0a1.75 1.75 0 1 0 -3.5 0M206.7 400.1a1.75 1.75 0 1 0 3.5 0a1.75 1.75 0 1 0 -3.5 0M235.9 387.3a1.75 1.75 0 1 0 3.5 0a1.75 1.75 0 1 0 -3.5 0M220.0 408.4a1.75 1.75 0 1 0 3.5 0a1.75 1.75 0 1 0 -3.5 0M238.6 426.5a1.75 1.75 0 1 0 3.5 0a1.75 1.75 0 1 0 -3.5 0M219.5 418.7a1.75 1.75 0 1 0 3.5 0a1.75 1.75 0 1 0 -3.5 0M256.5 316.3a1.75 1.75 0 1 0 3.5 0a1.75 1.75 0 1 0 -3.5 0M253.0 367.3a1.75 1.75 0 1 0 3.5 0a1.75 1.75 0 1 0 -3.5 0M245.8 405.8a1.75 1.75 0 1 0 3.5 0a1.75 1.75 0 1 0 -3.5 0M265.1 350.6a1.75 1.75 0 1 0 3.5 0a1.75 1.75 0 1 0 -3.5 0M207.4 357.1a1.75 1.75 0 1 0 3.5 0a1.75 1.75 0 1 0 -3.5 0M230.5 353.0a1.75 1.75 0 1 0 3.5 0a1.75 1.75 0 1 0 -3.5 0M172.0 422.1a1.75 1.75 0 1 0 3.5 0a1.75 1.75 0 1 0 -3.5 0M250.0 291.7a1.75 1.75 0 1 0 3.5 0a1.75 1.75 0 1 0 -3.5 0M252.2 371.5a1.75 1.75 0 1 0 3.5 0a1.75 1.75 0 1 0 -3.5 0M215.4 407.6a1.75 1.75 0 1 0 3.5 0a1.75 1.75 0 1 0 -3.5 0M211.4 298.5a1.75 1.75 0 1 0 3.5 0a1.75 1.75 0 1 0 -3.5 0M244.0 353.4a1.75 1.75 0 1 0 3.5 0a1.75 1.75 0 1 0 -3.5 0M224.2 427.7a1.75 1.75 0 1 0 3.5 0a1.75 1.75 0 1 0 -3.5 0M214.9 399.4a1.75 1.75 0 1 0 3.5 0a1.75 1.75 0 1 0 -3.5 0M250.3 315.3a1.75 1.75 0 1 0 3.5 0a1.75 1.75 0 1 0 -3.5 0M233.7 303.7a1.75 1.75 0 1 0 3.5 0a1.75 1.75 0 1 0 -3.5 0M276.3 327.3a1.75 1.75 0 1 0 3.5 0a1.75 1.75 0 1 0 -3.5 0M239.7 389.1a1.75 1.75 0 1 0 3.5 0a1.75 1.75 0 1 0 -3.5 0M247.6 318.5a1.75 1.75 0 1 0 3.5 0a1.75 1.75 0 1 0 -3.5 0M214.0 417.9a1.75 1.75 0 1 0 3.5 0a1.75 1.75 0 1 0 -3.5 0M241.6 335.6a1.75 1.75 0 1 0 3.5 0a1.75 1.75 0 1 0 -3.5 0M195.2 423.2a1.75 1.75 0 1 0 3.5 0a1.75 1.75 0 1 0 -3.5 0M248.5 296.9a1.75 1.75 0 1 0 3.5 0a1.75 1.75 0 1 0 -3.5 0M226.9 304.4a1.75 1.75 0 1 0 3.5 0a1.75 1.75 0 1 0 -3.5 0M218.4 338.3a1.75 1.75 0 1 0 3.5 0a1.75 1.75 0 1 0 -3.5 0M192.3 379.4a1.75 1.75 0 1 0 3.5 0a1.75 1.75 0 1 0 -3.5 0M188.0 430.4a1.75 1.75 0 1 0 3.5 0a1.75 1.75 0 1 0 -3.5 0M245.2 418.7a1.75 1.75 0 1 0 3.5 0a1.75 1.75 0 1 0 -3.5 0M180.2 412.8a1.75 1.75 0 1 0 3.5 0a1.75 1.75 0 1 0 -3.5 0M270.6 333.7a1.75 1.75 0 1 0 3.5 0a1.75 1.75 0 1 0 -3.5 0M181.0 433.4a1.75 1.75 0 1 0 3.5 0a1.75 1.75 0 1 0 -3.5 0M220.1 390.3a1.75 1.75 0 1 0 3.5 0a1.75 1.75 0 1 0 -3.5 0M199.7 361.4a1.75 1.75 0 1 0 3.5 0a1.75 1.75 0 1 0 -3.5 0M223.7 367.9a1.75 1.75 0 1 0 3.5 0a1.75 1.75 0 1 0 -3.5 0M166.8 430.6a1.75 1.75 0 1 0 3.5 0a1.75 1.75 0 1 0 -3.5 0M284.3 311.4a1.75 1.75 0 1 0 3.5 0a1.75 1.75 0 1 0 -3.5 0M165.3 429.4a1.75 1.75 0 1 0 3.5 0a1.75 1.75 0 1 0 -3.5 0M207.3 407.7a1.75 1.75 0 1 0 3.5 0a1.75 1.75 0 1 0 -3.5 0M190.1 328.1a1.75 1.75 0 1 0 3.5 0a1.75 1.75 0 1 0 -3.5 0M254.8 344.5a1.75 1.75 0 1 0 3.5 0a1.75 1.75 0 1 0 -3.5 0M223.0 419.8a1.75 1.75 0 1 0 3.5 0a1.75 1.75 0 1 0 -3.5 0M224.0 339.7a1.75 1.75 0 1 0 3.5 0a1.75 1.75 0 1 0 -3.5 0M265.5 352.3a1.75 1.75 0 1 0 3.5 0a1.75 1.75 0 1 0 -3.5 0M194.8 350.0a1.75 1.75 0 1 0 3.5 0a1.75 1.75 0 1 0 -3.5 0M232.1 303.1a1.75 1.75 0 1 0 3.5 0a1.75 1.75 0 1 0 -3.5 0M186.5 344.0a1.75 1.75 0 1 0 3.5 0a1.75 1.75 0 1 0 -3.5 0M222.7 364.2a1.75 1.75 0 1 0 3.5 0a1.75 1.75 0 1 0 -3.5 0M243.2 353.6a1.75 1.75 0 1 0 3.5 0a1.75 1.75 0 1 0 -3.5 0M206.0 401.3a1.75 1.75 0 1 0 3.5 0a1.75 1.75 0 1 0 -3.5 0M189.7 367.6a1.75 1.75 0 1 0 3.5 0a1.75 1.75 0 1 0 -3.5 0M181.4 418.0a1.75 1.75 0 1 0 3.5 0a1.75 1.75 0 1 0 -3.5 0M219.7 375.8a1.75 1.75 0 1 0 3.5 0a1.75 1.75 0 1 0 -3.5 0M242.9 296.0a1.75 1.75 0 1 0 3.5 0a1.75 1.75 0 1 0 -3.5 0M235.2 319.9a1.75 1.75 0 1 0 3.5 0a1.75 1.75 0 1 0 -3.5 0M247.5 311.2a1.75 1.75 0 1 0 3.5 0a1.75 1.75 0 1 0 -3.5 0M209.7 403.0a1.75 1.75 0 1 0 3.5 0a1.75 1.75 0 1 0 -3.5 0M216.5 433.0a1.75 1.75 0 1 0 3.5 0a1.75 1.75 0 1 0 -3.5 0M229.6 373.6a1.75 1.75 0 1 0 3.5 0a1.75 1.75 0 1 0 -3.5 0M263.1 329.5a1.75 1.75 0 1 0 3.5 0a1.75 1.75 0 1 0 -3.5 0M186.7 343.0a1.75 1.75 0 1 0 3.5 0a1.75 1.75 0 1 0 -3.5 0M237.4 383.2a1.75 1.75 0 1 0 3.5 0a1.75 1.75 0 1 0 -3.5 0M201.8 396.1a1.75 1.75 0 1 0 3.5 0a1.75 1.75 0 1 0 -3.5 0M226.9 311.4a1.75 1.75 0 1 0 3.5 0a1.75 1.75 0 1 0 -3.5 0M204.3 330.6a1.75 1.75 0 1 0 3.5 0a1.75 1.75 0 1 0 -3.5 0M211.1 434.4a1.75 1.75 0 1 0 3.5 0a1.75 1.75 0 1 0 -3.5 0M218.9 366.4a1.75 1.75 0 1 0 3.5 0a1.75 1.75 0 1 0 -3.5 0M215.6 338.2a1.75 1.75 0 1 0 3.5 0a1.75 1.75 0 1 0 -3.5 0M246.6 422.3a1.75 1.75 0 1 0 3.5 0a1.75 1.75 0 1 0 -3.5 0M263.3 344.2a1.75 1.75 0 1 0 3.5 0a1.75 1.75 0 1 0 -3.5 0M281.1 324.0a1.75 1.75 0 1 0 3.5 0a1.75 1.75 0 1 0 -3.5 0M243.6 329.7a1.75 1.75 0 1 0 3.5 0a1.75 1.75 0 1 0 -3.5 0M277.5 344.2a1.75 1.75 0 1 0 3.5 0a1.75 1.75 0 1 0 -3.5 0M234.5 304.4a1.75 1.75 0 1 0 3.5 0a1.75 1.75 0 1 0 -3.5 0M232.2 320.4a1.75 1.75 0 1 0 3.5 0a1.75 1.75 0 1 0 -3.5 0M265.7 350.9a1.75 1.75 0 1 0 3.5 0a1.75 1.75 0 1 0 -3.5 0M186.3 417.4a1.75 1.75 0 1 0 3.5 0a1.75 1.75 0 1 0 -3.5 0M191.1 418.6a1.75 1.75 0 1 0 3.5 0a1.75 1.75 0 1 0 -3.5 0M278.2 342.1a1.75 1.75 0 1 0 3.5 0a1.75 1.75 0 1 0 -3.5 0M207.7 315.9a1.75 1.75 0 1 0 3.5 0a1.75 1.75 0 1 0 -3.5 0M220.6 318.6a1.75 1.75 0 1 0 3.5 0a1.75 1.75 0 1 0 -3.5 0M196.8 327.8a1.75 1.75 0 1 0 3.5 0a1.75 1.75 0 1 0 -3.5 0M219.7 379.4a1.75 1.75 0 1 0 3.5 0a1.75 1.75 0 1 0 -3.5 0M188.4 405.0a1.75 1.75 0 1 0 3.5 0a1.75 1.75 0 1 0 -3.5 0M280.1 310.9a1.75 1.75 0 1 0 3.5 0a1.75 1.75 0 1 0 -3.5 0M217.5 382.9a1.75 1.75 0 1 0 3.5 0a1.75 1.75 0 1 0 -3.5 0M258.7 306.2a1.75 1.75 0 1 0 3.5 0a1.75 1.75 0 1 0 -3.5 0M259.9 382.0a1.75 1.75 0 1 0 3.5 0a1.75 1.75 0 1 0 -3.5 0M186.8 357.7a1.75 1.75 0 1 0 3.5 0a1.75 1.75 0 1 0 -3.5 0M252.8 354.9a1.75 1.75 0 1 0 3.5 0a1.75 1.75 0 1 0 -3.5 0M235.2 311.7a1.75 1.75 0 1 0 3.5 0a1.75 1.75 0 1 0 -3.5 0M205.3 388.1a1.75 1.75 0 1 0 3.5 0a1.75 1.75 0 1 0 -3.5 0M256.0 339.4a1.75 1.75 0 1 0 3.5 0a1.75 1.75 0 1 0 -3.5 0M183.5 419.0a1.75 1.75 0 1 0 3.5 0a1.75 1.75 0 1 0 -3.5 0M214.8 298.3a1.75 1.75 0 1 0 3.5 0a1.75 1.75 0 1 0 -3.5 0M195.6 332.4a1.75 1.75 0 1 0 3.5 0a1.75 1.75 0 1 0 -3.5 0M194.7 348.4a1.75 1.75 0 1 0 3.5 0a1.75 1.75 0 1 0 -3.5 0M186.1 436.7a1.75 1.75 0 1 0 3.5 0a1.75 1.75 0 1 0 -3.5 0M199.7 322.8a1.75 1.75 0 1 0 3.5 0a1.75 1.75 0 1 0 -3.5 0M254.5 374.6a1.75 1.75 0 1 0 3.5 0a1.75 1.75 0 1 0 -3.5 0M173.3 409.3a1.75 1.75 0 1 0 3.5 0a1.75 1.75 0 1 0 -3.5 0M235.9 404.7a1.75 1.75 0 1 0 3.5 0a1.75 1.75 0 1 0 -3.5 0M206.8 342.7a1.75 1.75 0 1 0 3.5 0a1.75 1.75 0 1 0 -3.5 0M258.5 295.8a1.75 1.75 0 1 0 3.5 0a1.75 1.75 0 1 0 -3.5 0M215.2 399.6a1.75 1.75 0 1 0 3.5 0a1.75 1.75 0 1 0 -3.5 0M194.4 433.3a1.75 1.75 0 1 0 3.5 0a1.75 1.75 0 1 0 -3.5 0M232.5 352.9a1.75 1.75 0 1 0 3.5 0a1.75 1.75 0 1 0 -3.5 0M198.6 416.4a1.75 1.75 0 1 0 3.5 0a1.75 1.75 0 1 0 -3.5 0M215.8 405.9a1.75 1.75 0 1 0 3.5 0a1.75 1.75 0 1 0 -3.5 0M249.6 395.0a1.75 1.75 0 1 0 3.5 0a1.75 1.75 0 1 0 -3.5 0M174.7 438.5a1.75 1.75 0 1 0 3.5 0a1.75 1.75 0 1 0 -3.5 0M226.5 414.1a1.75 1.75 0 1 0 3.5 0a1.75 1.75 0 1 0 -3.5 0M270.7 329.2a1.75 1.75 0 1 0 3.5 0a1.75 1.75 0 1 0 -3.5 0M240.1 373.6a1.75 1.75 0 1 0 3.5 0a1.75 1.75 0 1 0 -3.5 0M221.3 426.3a1.75 1.75 0 1 0 3.5 0a1.75 1.75 0 1 0 -3.5 0M254.6 369.2a1.75 1.75 0 1 0 3.5 0a1.75 1.75 0 1 0 -3.5 0M205.3 388.4a1.75 1.75 0 1 0 3.5 0a1.75 1.75 0 1 0 -3.5 0M205.4 312.1a1.75 1.75 0 1 0 3.5 0a1.75 1.75 0 1 0 -3.5 0M161.8 420.1a1.75 1.75 0 1 0 3.5 0a1.75 1.75 0 1 0 -3.5 0M214.6 406.0a1.75 1.75 0 1 0 3.5 0a1.75 1.75 0 1 0 -3.5 0M226.2 334.1a1.75 1.75 0 1 0 3.5 0a1.75 1.75 0 1 0 -3.5 0M217.9 385.0a1.75 1.75 0 1 0 3.5 0a1.75 1.75 0 1 0 -3.5 0M224.7 312.9a1.75 1.75 0 1 0 3.5 0a1.75 1.75 0 1 0 -3.5 0M273.4 302.6a1.75 1.75 0 1 0 3.5 0a1.75 1.75 0 1 0 -3.5 0M238.4 292.2a1.75 1.75 0 1 0 3.5 0a1.75 1.75 0 1 0 -3.5 0M230.5 424.7a1.75 1.75 0 1 0 3.5 0a1.75 1.75 0 1 0 -3.5 0M180.5 399.1a1.75 1.75 0 1 0 3.5 0a1.75 1.75 0 1 0 -3.5 0M227.8 406.3a1.75 1.75 0 1 0 3.5 0a1.75 1.75 0 1 0 -3.5 0M257.3 383.6a1.75 1.75 0 1 0 3.5 0a1.75 1.75 0 1 0 -3.5 0M194.5 332.6a1.75 1.75 0 1 0 3.5 0a1.75 1.75 0 1 0 -3.5 0M262.3 330.8a1.75 1.75 0 1 0 3.5 0a1.75 1.75 0 1 0 -3.5 0M262.6 350.0a1.75 1.75 0 1 0 3.5 0a1.75 1.75 0 1 0 -3.5 0M212.1 362.7a1.75 1.75 0 1 0 3.5 0a1.75 1.75 0 1 0 -3.5 0M220.0 412.8a1.75 1.75 0 1 0 3.5 0a1.75 1.75 0 1 0 -3.5 0M215.5 387.2a1.75 1.75 0 1 0 3.5 0a1.75 1.75 0 1 0 -3.5 0M205.6 390.3a1.75 1.75 0 1 0 3.5 0a1.75 1.75 0 1 0 -3.5 0M202.2 386.3a1.75 1.75 0 1 0 3.5 0a1.75 1.75 0 1 0 -3.5 0M210.7 376.3a1.75 1.75 0 1 0 3.5 0a1.75 1.75 0 1 0 -3.5 0M235.2 414.8a1.75 1.75 0 1 0 3.5 0a1.75 1.75 0 1 0 -3.5 0M263.8 301.7a1.75 1.75 0 1 0 3.5 0a1.75 1.75 0 1 0 -3.5 0M244.5 368.3a1.75 1.75 0 1 0 3.5 0a1.75 1.75 0 1 0 -3.5 0M209.0 401.9a1.75 1.75 0 1 0 3.5 0a1.75 1.75 0 1 0 -3.5 0M227.1 296.9a1.75 1.75 0 1 0 3.5 0a1.75 1.75 0 1 0 -3.5 0M264.5 301.8a1.75 1.75 0 1 0 3.5 0a1.75 1.75 0 1 0 -3.5 0M242.8 291.4a1.75 1.75 0 1 0 3.5 0a1.75 1.75 0 1 0 -3.5 0M193.4 381.1a1.75 1.75 0 1 0 3.5 0a1.75 1.75 0 1 0 -3.5 0M227.3 425.0a1.75 1.75 0 1 0 3.5 0a1.75 1.75 0 1 0 -3.5 0M202.2 374.6a1.75 1.75 0 1 0 3.5 0a1.75 1.75 0 1 0 -3.5 0M213.1 397.8a1.75 1.75 0 1 0 3.5 0a1.75 1.75 0 1 0 -3.5 0M270.7 321.3a1.75 1.75 0 1 0 3.5 0a1.75 1.75 0 1 0 -3.5 0M169.8 418.6a1.75 1.75 0 1 0 3.5 0a1.75 1.75 0 1 0 -3.5 0M232.0 321.6a1.75 1.75 0 1 0 3.5 0a1.75 1.75 0 1 0 -3.5 0M246.1 367.3a1.75 1.75 0 1 0 3.5 0a1.75 1.75 0 1 0 -3.5 0M232.2 358.8a1.75 1.75 0 1 0 3.5 0a1.75 1.75 0 1 0 -3.5 0M256.5 344.0a1.75 1.75 0 1 0 3.5 0a1.75 1.75 0 1 0 -3.5 0M202.5 318.2a1.75 1.75 0 1 0 3.5 0a1.75 1.75 0 1 0 -3.5 0M234.7 305.5a1.75 1.75 0 1 0 3.5 0a1.75 1.75 0 1 0 -3.5 0M247.0 379.1a1.75 1.75 0 1 0 3.5 0a1.75 1.75 0 1 0 -3.5 0M260.7 345.1a1.75 1.75 0 1 0 3.5 0a1.75 1.75 0 1 0 -3.5 0M197.3 339.7a1.75 1.75 0 1 0 3.5 0a1.75 1.75 0 1 0 -3.5 0M190.8 407.4a1.75 1.75 0 1 0 3.5 0a1.75 1.75 0 1 0 -3.5 0M247.1 344.8a1.75 1.75 0 1 0 3.5 0a1.75 1.75 0 1 0 -3.5 0M220.3 358.2a1.75 1.75 0 1 0 3.5 0a1.75 1.75 0 1 0 -3.5 0M242.1 300.5a1.75 1.75 0 1 0 3.5 0a1.75 1.75 0 1 0 -3.5 0M247.2 352.2a1.75 1.75 0 1 0 3.5 0a1.75 1.75 0 1 0 -3.5 0M225.3 357.0a1.75 1.75 0 1 0 3.5 0a1.75 1.75 0 1 0 -3.5 0M284.3 314.4a1.75 1.75 0 1 0 3.5 0a1.75 1.75 0 1 0 -3.5 0M245.9 421.7a1.75 1.75 0 1 0 3.5 0a1.75 1.75 0 1 0 -3.5 0M235.3 430.7a1.75 1.75 0 1 0 3.5 0a1.75 1.75 0 1 0 -3.5 0M206.8 386.2a1.75 1.75 0 1 0 3.5 0a1.75 1.75 0 1 0 -3.5 0M228.3 430.7a1.75 1.75 0 1 0 3.5 0a1.75 1.75 0 1 0 -3.5 0M219.8 408.6a1.75 1.75 0 1 0 3.5 0a1.75 1.75 0 1 0 -3.5 0M261.1 303.3a1.75 1.75 0 1 0 3.5 0a1.75 1.75 0 1 0 -3.5 0M218.5 402.3a1.75 1.75 0 1 0 3.5 0a1.75 1.75 0 1 0 -3.5 0M256.9 334.1a1.75 1.75 0 1 0 3.5 0a1.75 1.75 0 1 0 -3.5 0M201.4 388.8a1.75 1.75 0 1 0 3.5 0a1.75 1.75 0 1 0 -3.5 0M254.7 292.6a1.75 1.75 0 1 0 3.5 0a1.75 1.75 0 1 0 -3.5 0M210.2 355.5a1.75 1.75 0 1 0 3.5 0a1.75 1.75 0 1 0 -3.5 0M216.8 426.3a1.75 1.75 0 1 0 3.5 0a1.75 1.75 0 1 0 -3.5 0M208.9 375.6a1.75 1.75 0 1 0 3.5 0a1.75 1.75 0 1 0 -3.5 0M170.0 411.8a1.75 1.75 0 1 0 3.5 0a1.75 1.75 0 1 0 -3.5 0M190.3 434.6a1.75 1.75 0 1 0 3.5 0a1.75 1.75 0 1 0 -3.5 0M177.3 424.1a1.75 1.75 0 1 0 3.5 0a1.75 1.75 0 1 0 -3.5 0M255.2 299.0a1.75 1.75 0 1 0 3.5 0a1.75 1.75 0 1 0 -3.5 0M265.3 304.3a1.75 1.75 0 1 0 3.5 0a1.75 1.75 0 1 0 -3.5 0M202.1 331.8a1.75 1.75 0 1 0 3.5 0a1.75 1.75 0 1 0 -3.5 0M242.5 405.3a1.75 1.75 0 1 0 3.5 0a1.75 1.75 0 1 0 -3.5 0M183.7 358.5a1.75 1.75 0 1 0 3.5 0a1.75 1.75 0 1 0 -3.5 0M230.3 402.5a1.75 1.75 0 1 0 3.5 0a1.75 1.75 0 1 0 -3.5 0M246.1 346.7a1.75 1.75 0 1 0 3.5 0a1.75 1.75 0 1 0 -3.5 0M230.9 304.2a1.75 1.75 0 1 0 3.5 0a1.75 1.75 0 1 0 -3.5 0M243.4 308.0a1.75 1.75 0 1 0 3.5 0a1.75 1.75 0 1 0 -3.5 0M178.1 431.6a1.75 1.75 0 1 0 3.5 0a1.75 1.75 0 1 0 -3.5 0M232.6 397.1a1.75 1.75 0 1 0 3.5 0a1.75 1.75 0 1 0 -3.5 0M212.0 393.5a1.75 1.75 0 1 0 3.5 0a1.75 1.75 0 1 0 -3.5 0M218.5 412.2a1.75 1.75 0 1 0 3.5 0a1.75 1.75 0 1 0 -3.5 0M267.1 353.6a1.75 1.75 0 1 0 3.5 0a1.75 1.75 0 1 0 -3.5 0M169.4 410.4a1.75 1.75 0 1 0 3.5 0a1.75 1.75 0 1 0 -3.5 0M234.0 421.4a1.75 1.75 0 1 0 3.5 0a1.75 1.75 0 1 0 -3.5 0M270.3 335.3a1.75 1.75 0 1 0 3.5 0a1.75 1.75 0 1 0 -3.5 0M246.1 411.3a1.75 1.75 0 1 0 3.5 0a1.75 1.75 0 1 0 -3.5 0M206.7 314.2a1.75 1.75 0 1 0 3.5 0a1.75 1.75 0 1 0 -3.5 0M246.3 414.4a1.75 1.75 0 1 0 3.5 0a1.75 1.75 0 1 0 -3.5 0M205.8 366.8a1.75 1.75 0 1 0 3.5 0a1.75 1.75 0 1 0 -3.5 0M244.8 412.3a1.75 1.75 0 1 0 3.5 0a1.75 1.75 0 1 0 -3.5 0M172.9 403.8a1.75 1.75 0 1 0 3.5 0a1.75 1.75 0 1 0 -3.5 0M185.9 412.0a1.75 1.75 0 1 0 3.5 0a1.75 1.75 0 1 0 -3.5 0M226.3 303.7a1.75 1.75 0 1 0 3.5 0a1.75 1.75 0 1 0 -3.5 0M211.9 381.8a1.75 1.75 0 1 0 3.5 0a1.75 1.75 0 1 0 -3.5 0M231.6 390.1a1.75 1.75 0 1 0 3.5 0a1.75 1.75 0 1 0 -3.5 0M181.2 421.3a1.75 1.75 0 1 0 3.5 0a1.75 1.75 0 1 0 -3.5 0M233.7 329.0a1.75 1.75 0 1 0 3.5 0a1.75 1.75 0 1 0 -3.5 0M241.2 346.0a1.75 1.75 0 1 0 3.5 0a1.75 1.75 0 1 0 -3.5 0M200.3 382.1a1.75 1.75 0 1 0 3.5 0a1.75 1.75 0 1 0 -3.5 0M217.7 350.0a1.75 1.75 0 1 0 3.5 0a1.75 1.75 0 1 0 -3.5 0M260.2 319.9a1.75 1.75 0 1 0 3.5 0a1.75 1.75 0 1 0 -3.5 0M215.8 411.6a1.75 1.75 0 1 0 3.5 0a1.75 1.75 0 1 0 -3.5 0M204.8 384.0a1.75 1.75 0 1 0 3.5 0a1.75 1.75 0 1 0 -3.5 0M249.1 418.8a1.75 1.75 0 1 0 3.5 0a1.75 1.75 0 1 0 -3.5 0M208.5 346.1a1.75 1.75 0 1 0 3.5 0a1.75 1.75 0 1 0 -3.5 0M233.8 317.6a1.75 1.75 0 1 0 3.5 0a1.75 1.75 0 1 0 -3.5 0M198.7 399.5a1.75 1.75 0 1 0 3.5 0a1.75 1.75 0 1 0 -3.5 0M234.7 393.1a1.75 1.75 0 1 0 3.5 0a1.75 1.75 0 1 0 -3.5 0M229.0 349.8a1.75 1.75 0 1 0 3.5 0a1.75 1.75 0 1 0 -3.5 0M225.3 318.2a1.75 1.75 0 1 0 3.5 0a1.75 1.75 0 1 0 -3.5 0M207.8 409.6a1.75 1.75 0 1 0 3.5 0a1.75 1.75 0 1 0 -3.5 0M196.4 322.5a1.75 1.75 0 1 0 3.5 0a1.75 1.75 0 1 0 -3.5 0M253.4 407.6a1.75 1.75 0 1 0 3.5 0a1.75 1.75 0 1 0 -3.5 0M232.7 371.3a1.75 1.75 0 1 0 3.5 0a1.75 1.75 0 1 0 -3.5 0M184.2 403.8a1.75 1.75 0 1 0 3.5 0a1.75 1.75 0 1 0 -3.5 0M169.7 413.6a1.75 1.75 0 1 0 3.5 0a1.75 1.75 0 1 0 -3.5 0M189.6 365.4a1.75 1.75 0 1 0 3.5 0a1.75 1.75 0 1 0 -3.5 0M221.3 362.6a1.75 1.75 0 1 0 3.5 0a1.75 1.75 0 1 0 -3.5 0M241.5 386.8a1.75 1.75 0 1 0 3.5 0a1.75 1.75 0 1 0 -3.5 0M230.8 295.3a1.75 1.75 0 1 0 3.5 0a1.75 1.75 0 1 0 -3.5 0M217.8 319.4a1.75 1.75 0 1 0 3.5 0a1.75 1.75 0 1 0 -3.5 0M176.0 411.9a1.75 1.75 0 1 0 3.5 0a1.75 1.75 0 1 0 -3.5 0M184.6 362.2a1.75 1.75 0 1 0 3.5 0a1.75 1.75 0 1 0 -3.5 0M228.7 314.3a1.75 1.75 0 1 0 3.5 0a1.75 1.75 0 1 0 -3.5 0M210.3 378.6a1.75 1.75 0 1 0 3.5 0a1.75 1.75 0 1 0 -3.5 0M197.7 379.5a1.75 1.75 0 1 0 3.5 0a1.75 1.75 0 1 0 -3.5 0M191.8 355.8a1.75 1.75 0 1 0 3.5 0a1.75 1.75 0 1 0 -3.5 0M224.0 401.9a1.75 1.75 0 1 0 3.5 0a1.75 1.75 0 1 0 -3.5 0M180.4 405.8a1.75 1.75 0 1 0 3.5 0a1.75 1.75 0 1 0 -3.5 0M193.2 439.1a1.75 1.75 0 1 0 3.5 0a1.75 1.75 0 1 0 -3.5 0M245.3 293.4a1.75 1.75 0 1 0 3.5 0a1.75 1.75 0 1 0 -3.5 0M211.5 370.2a1.75 1.75 0 1 0 3.5 0a1.75 1.75 0 1 0 -3.5 0M244.5 315.8a1.75 1.75 0 1 0 3.5 0a1.75 1.75 0 1 0 -3.5 0M204.8 402.3a1.75 1.75 0 1 0 3.5 0a1.75 1.75 0 1 0 -3.5 0M228.8 296.7a1.75 1.75 0 1 0 3.5 0a1.75 1.75 0 1 0 -3.5 0M243.4 376.4a1.75 1.75 0 1 0 3.5 0a1.75 1.75 0 1 0 -3.5 0M215.1 380.5a1.75 1.75 0 1 0 3.5 0a1.75 1.75 0 1 0 -3.5 0M235.7 411.7a1.75 1.75 0 1 0 3.5 0a1.75 1.75 0 1 0 -3.5 0M177.5 414.5a1.75 1.75 0 1 0 3.5 0a1.75 1.75 0 1 0 -3.5 0M281.9 328.3a1.75 1.75 0 1 0 3.5 0a1.75 1.75 0 1 0 -3.5 0M233.7 374.9a1.75 1.75 0 1 0 3.5 0a1.75 1.75 0 1 0 -3.5 0M183.5 425.1a1.75 1.75 0 1 0 3.5 0a1.75 1.75 0 1 0 -3.5 0M203.7 341.7a1.75 1.75 0 1 0 3.5 0a1.75 1.75 0 1 0 -3.5 0M225.3 330.3a1.75 1.75 0 1 0 3.5 0a1.75 1.75 0 1 0 -3.5 0M231.1 398.6a1.75 1.75 0 1 0 3.5 0a1.75 1.75 0 1 0 -3.5 0M262.8 347.1a1.75 1.75 0 1 0 3.5 0a1.75 1.75 0 1 0 -3.5 0M247.7 337.6a1.75 1.75 0 1 0 3.5 0a1.75 1.75 0 1 0 -3.5 0M230.3 320.5a1.75 1.75 0 1 0 3.5 0a1.75 1.75 0 1 0 -3.5 0M183.4 374.0a1.75 1.75 0 1 0 3.5 0a1.75 1.75 0 1 0 -3.5 0M188.2 437.3a1.75 1.75 0 1 0 3.5 0a1.75 1.75 0 1 0 -3.5 0M201.2 376.3a1.75 1.75 0 1 0 3.5 0a1.75 1.75 0 1 0 -3.5 0M202.8 434.4a1.75 1.75 0 1 0 3.5 0a1.75 1.75 0 1 0 -3.5 0M201.7 315.2a1.75 1.75 0 1 0 3.5 0a1.75 1.75 0 1 0 -3.5 0M276.3 309.8a1.75 1.75 0 1 0 3.5 0a1.75 1.75 0 1 0 -3.5 0M231.6 321.0a1.75 1.75 0 1 0 3.5 0a1.75 1.75 0 1 0 -3.5 0M187.7 349.7a1.75 1.75 0 1 0 3.5 0a1.75 1.75 0 1 0 -3.5 0M204.2 303.6a1.75 1.75 0 1 0 3.5 0a1.75 1.75 0 1 0 -3.5 0M187.8 401.8a1.75 1.75 0 1 0 3.5 0a1.75 1.75 0 1 0 -3.5 0M231.0 317.4a1.75 1.75 0 1 0 3.5 0a1.75 1.75 0 1 0 -3.5 0M249.1 338.3a1.75 1.75 0 1 0 3.5 0a1.75 1.75 0 1 0 -3.5 0M207.9 372.2a1.75 1.75 0 1 0 3.5 0a1.75 1.75 0 1 0 -3.5 0M211.4 425.8a1.75 1.75 0 1 0 3.5 0a1.75 1.75 0 1 0 -3.5 0M213.4 300.6a1.75 1.75 0 1 0 3.5 0a1.75 1.75 0 1 0 -3.5 0M228.7 356.9a1.75 1.75 0 1 0 3.5 0a1.75 1.75 0 1 0 -3.5 0M198.8 342.7a1.75 1.75 0 1 0 3.5 0a1.75 1.75 0 1 0 -3.5 0M200.9 390.8a1.75 1.75 0 1 0 3.5 0a1.75 1.75 0 1 0 -3.5 0M190.4 378.8a1.75 1.75 0 1 0 3.5 0a1.75 1.75 0 1 0 -3.5 0M270.7 311.1a1.75 1.75 0 1 0 3.5 0a1.75 1.75 0 1 0 -3.5 0M237.5 420.8a1.75 1.75 0 1 0 3.5 0a1.75 1.75 0 1 0 -3.5 0M282.9 315.1a1.75 1.75 0 1 0 3.5 0a1.75 1.75 0 1 0 -3.5 0M191.4 430.1a1.75 1.75 0 1 0 3.5 0a1.75 1.75 0 1 0 -3.5 0M197.9 340.6a1.75 1.75 0 1 0 3.5 0a1.75 1.75 0 1 0 -3.5 0M269.3 341.5a1.75 1.75 0 1 0 3.5 0a1.75 1.75 0 1 0 -3.5 0M256.7 401.0a1.75 1.75 0 1 0 3.5 0a1.75 1.75 0 1 0 -3.5 0M163.9 414.1a1.75 1.75 0 1 0 3.5 0a1.75 1.75 0 1 0 -3.5 0M238.5 364.9a1.75 1.75 0 1 0 3.5 0a1.75 1.75 0 1 0 -3.5 0M255.7 297.1a1.75 1.75 0 1 0 3.5 0a1.75 1.75 0 1 0 -3.5 0M204.3 432.9a1.75 1.75 0 1 0 3.5 0a1.75 1.75 0 1 0 -3.5 0M207.5 324.0a1.75 1.75 0 1 0 3.5 0a1.75 1.75 0 1 0 -3.5 0M200.9 429.2a1.75 1.75 0 1 0 3.5 0a1.75 1.75 0 1 0 -3.5 0M244.7 397.1a1.75 1.75 0 1 0 3.5 0a1.75 1.75 0 1 0 -3.5 0M183.5 343.8a1.75 1.75 0 1 0 3.5 0a1.75 1.75 0 1 0 -3.5 0M265.3 321.3a1.75 1.75 0 1 0 3.5 0a1.75 1.75 0 1 0 -3.5 0M245.3 324.4a1.75 1.75 0 1 0 3.5 0a1.75 1.75 0 1 0 -3.5 0M213.9 419.9a1.75 1.75 0 1 0 3.5 0a1.75 1.75 0 1 0 -3.5 0M230.7 347.9a1.75 1.75 0 1 0 3.5 0a1.75 1.75 0 1 0 -3.5 0M203.4 387.7a1.75 1.75 0 1 0 3.5 0a1.75 1.75 0 1 0 -3.5 0M175.8 433.6a1.75 1.75 0 1 0 3.5 0a1.75 1.75 0 1 0 -3.5 0M218.0 333.1a1.75 1.75 0 1 0 3.5 0a1.75 1.75 0 1 0 -3.5 0M211.3 350.3a1.75 1.75 0 1 0 3.5 0a1.75 1.75 0 1 0 -3.5 0M249.1 348.5a1.75 1.75 0 1 0 3.5 0a1.75 1.75 0 1 0 -3.5 0M219.7 335.8a1.75 1.75 0 1 0 3.5 0a1.75 1.75 0 1 0 -3.5 0M221.8 362.9a1.75 1.75 0 1 0 3.5 0a1.75 1.75 0 1 0 -3.5 0M200.2 420.0a1.75 1.75 0 1 0 3.5 0a1.75 1.75 0 1 0 -3.5 0M177.6 428.4a1.75 1.75 0 1 0 3.5 0a1.75 1.75 0 1 0 -3.5 0M249.5 398.8a1.75 1.75 0 1 0 3.5 0a1.75 1.75 0 1 0 -3.5 0M211.5 382.4a1.75 1.75 0 1 0 3.5 0a1.75 1.75 0 1 0 -3.5 0M237.9 380.5a1.75 1.75 0 1 0 3.5 0a1.75 1.75 0 1 0 -3.5 0M256.1 382.9a1.75 1.75 0 1 0 3.5 0a1.75 1.75 0 1 0 -3.5 0M256.4 401.5a1.75 1.75 0 1 0 3.5 0a1.75 1.75 0 1 0 -3.5 0M222.6 346.2a1.75 1.75 0 1 0 3.5 0a1.75 1.75 0 1 0 -3.5 0M253.0 335.8a1.75 1.75 0 1 0 3.5 0a1.75 1.75 0 1 0 -3.5 0M239.7 358.8a1.75 1.75 0 1 0 3.5 0a1.75 1.75 0 1 0 -3.5 0M203.5 381.5a1.75 1.75 0 1 0 3.5 0a1.75 1.75 0 1 0 -3.5 0M174.3 406.6a1.75 1.75 0 1 0 3.5 0a1.75 1.75 0 1 0 -3.5 0M214.6 306.4a1.75 1.75 0 1 0 3.5 0a1.75 1.75 0 1 0 -3.5 0M219.2 338.8a1.75 1.75 0 1 0 3.5 0a1.75 1.75 0 1 0 -3.5 0M280.4 305.2a1.75 1.75 0 1 0 3.5 0a1.75 1.75 0 1 0 -3.5 0M257.4 370.0a1.75 1.75 0 1 0 3.5 0a1.75 1.75 0 1 0 -3.5 0M212.9 337.2a1.75 1.75 0 1 0 3.5 0a1.75 1.75 0 1 0 -3.5 0M241.7 319.2a1.75 1.75 0 1 0 3.5 0a1.75 1.75 0 1 0 -3.5 0M181.1 388.5a1.75 1.75 0 1 0 3.5 0a1.75 1.75 0 1 0 -3.5 0M215.0 318.5a1.75 1.75 0 1 0 3.5 0a1.75 1.75 0 1 0 -3.5 0M268.0 298.2a1.75 1.75 0 1 0 3.5 0a1.75 1.75 0 1 0 -3.5 0M260.7 347.4a1.75 1.75 0 1 0 3.5 0a1.75 1.75 0 1 0 -3.5 0M192.3 378.6a1.75 1.75 0 1 0 3.5 0a1.75 1.75 0 1 0 -3.5 0M232.6 311.8a1.75 1.75 0 1 0 3.5 0a1.75 1.75 0 1 0 -3.5 0M225.8 355.3a1.75 1.75 0 1 0 3.5 0a1.75 1.75 0 1 0 -3.5 0M201.5 322.7a1.75 1.75 0 1 0 3.5 0a1.75 1.75 0 1 0 -3.5 0M224.0 314.1a1.75 1.75 0 1 0 3.5 0a1.75 1.75 0 1 0 -3.5 0M267.0 347.3a1.75 1.75 0 1 0 3.5 0a1.75 1.75 0 1 0 -3.5 0M173.0 401.6a1.75 1.75 0 1 0 3.5 0a1.75 1.75 0 1 0 -3.5 0M210.4 333.0a1.75 1.75 0 1 0 3.5 0a1.75 1.75 0 1 0 -3.5 0M201.2 371.3a1.75 1.75 0 1 0 3.5 0a1.75 1.75 0 1 0 -3.5 0M200.3 353.5a1.75 1.75 0 1 0 3.5 0a1.75 1.75 0 1 0 -3.5 0M251.2 307.4a1.75 1.75 0 1 0 3.5 0a1.75 1.75 0 1 0 -3.5 0M243.6 359.3a1.75 1.75 0 1 0 3.5 0a1.75 1.75 0 1 0 -3.5 0M190.3 390.7a1.75 1.75 0 1 0 3.5 0a1.75 1.75 0 1 0 -3.5 0M278.4 333.5a1.75 1.75 0 1 0 3.5 0a1.75 1.75 0 1 0 -3.5 0M208.3 328.9a1.75 1.75 0 1 0 3.5 0a1.75 1.75 0 1 0 -3.5 0M230.2 405.8a1.75 1.75 0 1 0 3.5 0a1.75 1.75 0 1 0 -3.5 0M249.1 299.3a1.75 1.75 0 1 0 3.5 0a1.75 1.75 0 1 0 -3.5 0M243.5 389.5a1.75 1.75 0 1 0 3.5 0a1.75 1.75 0 1 0 -3.5 0M232.0 370.5a1.75 1.75 0 1 0 3.5 0a1.75 1.75 0 1 0 -3.5 0M212.0 410.6a1.75 1.75 0 1 0 3.5 0a1.75 1.75 0 1 0 -3.5 0M218.0 317.8a1.75 1.75 0 1 0 3.5 0a1.75 1.75 0 1 0 -3.5 0M179.8 399.6a1.75 1.75 0 1 0 3.5 0a1.75 1.75 0 1 0 -3.5 0M206.2 403.7a1.75 1.75 0 1 0 3.5 0a1.75 1.75 0 1 0 -3.5 0M189.6 419.4a1.75 1.75 0 1 0 3.5 0a1.75 1.75 0 1 0 -3.5 0M177.3 387.3a1.75 1.75 0 1 0 3.5 0a1.75 1.75 0 1 0 -3.5 0M207.7 335.8a1.75 1.75 0 1 0 3.5 0a1.75 1.75 0 1 0 -3.5 0M186.7 360.7a1.75 1.75 0 1 0 3.5 0a1.75 1.75 0 1 0 -3.5 0M241.3 292.8a1.75 1.75 0 1 0 3.5 0a1.75 1.75 0 1 0 -3.5 0M238.7 414.7a1.75 1.75 0 1 0 3.5 0a1.75 1.75 0 1 0 -3.5 0M213.1 335.7a1.75 1.75 0 1 0 3.5 0a1.75 1.75 0 1 0 -3.5 0M228.4 406.6a1.75 1.75 0 1 0 3.5 0a1.75 1.75 0 1 0 -3.5 0M187.1 386.8a1.75 1.75 0 1 0 3.5 0a1.75 1.75 0 1 0 -3.5 0M227.6 382.7a1.75 1.75 0 1 0 3.5 0a1.75 1.75 0 1 0 -3.5 0M225.9 406.2a1.75 1.75 0 1 0 3.5 0a1.75 1.75 0 1 0 -3.5 0M259.6 382.1a1.75 1.75 0 1 0 3.5 0a1.75 1.75 0 1 0 -3.5 0M215.0 353.4a1.75 1.75 0 1 0 3.5 0a1.75 1.75 0 1 0 -3.5 0M269.5 345.0a1.75 1.75 0 1 0 3.5 0a1.75 1.75 0 1 0 -3.5 0M256.6 391.9a1.75 1.75 0 1 0 3.5 0a1.75 1.75 0 1 0 -3.5 0M239.8 396.4a1.75 1.75 0 1 0 3.5 0a1.75 1.75 0 1 0 -3.5 0M224.5 312.7a1.75 1.75 0 1 0 3.5 0a1.75 1.75 0 1 0 -3.5 0M226.1 361.3a1.75 1.75 0 1 0 3.5 0a1.75 1.75 0 1 0 -3.5 0M237.9 332.6a1.75 1.75 0 1 0 3.5 0a1.75 1.75 0 1 0 -3.5 0M190.8 362.9a1.75 1.75 0 1 0 3.5 0a1.75 1.75 0 1 0 -3.5 0M194.4 318.7a1.75 1.75 0 1 0 3.5 0a1.75 1.75 0 1 0 -3.5 0M175.1 430.0a1.75 1.75 0 1 0 3.5 0a1.75 1.75 0 1 0 -3.5 0M221.3 323.7a1.75 1.75 0 1 0 3.5 0a1.75 1.75 0 1 0 -3.5 0M263.8 358.3a1.75 1.75 0 1 0 3.5 0a1.75 1.75 0 1 0 -3.5 0M230.8 418.8a1.75 1.75 0 1 0 3.5 0a1.75 1.75 0 1 0 -3.5 0M249.4 361.2a1.75 1.75 0 1 0 3.5 0a1.75 1.75 0 1 0 -3.5 0M234.3 398.9a1.75 1.75 0 1 0 3.5 0a1.75 1.75 0 1 0 -3.5 0M185.8 345.2a1.75 1.75 0 1 0 3.5 0a1.75 1.75 0 1 0 -3.5 0M180.9 404.6a1.75 1.75 0 1 0 3.5 0a1.75 1.75 0 1 0 -3.5 0M233.4 390.1a1.75 1.75 0 1 0 3.5 0a1.75 1.75 0 1 0 -3.5 0M247.7 356.3a1.75 1.75 0 1 0 3.5 0a1.75 1.75 0 1 0 -3.5 0M211.9 352.7a1.75 1.75 0 1 0 3.5 0a1.75 1.75 0 1 0 -3.5 0M215.0 315.9a1.75 1.75 0 1 0 3.5 0a1.75 1.75 0 1 0 -3.5 0M229.1 418.3a1.75 1.75 0 1 0 3.5 0a1.75 1.75 0 1 0 -3.5 0M219.7 391.9a1.75 1.75 0 1 0 3.5 0a1.75 1.75 0 1 0 -3.5 0M233.8 325.1a1.75 1.75 0 1 0 3.5 0a1.75 1.75 0 1 0 -3.5 0M252.2 348.2a1.75 1.75 0 1 0 3.5 0a1.75 1.75 0 1 0 -3.5 0M209.5 428.2a1.75 1.75 0 1 0 3.5 0a1.75 1.75 0 1 0 -3.5 0M239.1 373.4a1.75 1.75 0 1 0 3.5 0a1.75 1.75 0 1 0 -3.5 0M210.2 429.2a1.75 1.75 0 1 0 3.5 0a1.75 1.75 0 1 0 -3.5 0M280.3 325.7a1.75 1.75 0 1 0 3.5 0a1.75 1.75 0 1 0 -3.5 0M245.3 415.5a1.75 1.75 0 1 0 3.5 0a1.75 1.75 0 1 0 -3.5 0M189.8 338.5a1.75 1.75 0 1 0 3.5 0a1.75 1.75 0 1 0 -3.5 0M189.1 411.4a1.75 1.75 0 1 0 3.5 0a1.75 1.75 0 1 0 -3.5 0M245.7 327.7a1.75 1.75 0 1 0 3.5 0a1.75 1.75 0 1 0 -3.5 0M224.9 425.3a1.75 1.75 0 1 0 3.5 0a1.75 1.75 0 1 0 -3.5 0M246.6 338.2a1.75 1.75 0 1 0 3.5 0a1.75 1.75 0 1 0 -3.5 0M229.7 350.9a1.75 1.75 0 1 0 3.5 0a1.75 1.75 0 1 0 -3.5 0M234.0 302.0a1.75 1.75 0 1 0 3.5 0a1.75 1.75 0 1 0 -3.5 0M209.0 390.8a1.75 1.75 0 1 0 3.5 0a1.75 1.75 0 1 0 -3.5 0M206.8 330.3a1.75 1.75 0 1 0 3.5 0a1.75 1.75 0 1 0 -3.5 0M186.8 386.4a1.75 1.75 0 1 0 3.5 0a1.75 1.75 0 1 0 -3.5 0M218.0 395.9a1.75 1.75 0 1 0 3.5 0a1.75 1.75 0 1 0 -3.5 0M240.9 414.4a1.75 1.75 0 1 0 3.5 0a1.75 1.75 0 1 0 -3.5 0M242.0 363.3a1.75 1.75 0 1 0 3.5 0a1.75 1.75 0 1 0 -3.5 0M254.8 343.1a1.75 1.75 0 1 0 3.5 0a1.75 1.75 0 1 0 -3.5 0M235.7 320.9a1.75 1.75 0 1 0 3.5 0a1.75 1.75 0 1 0 -3.5 0M200.3 426.0a1.75 1.75 0 1 0 3.5 0a1.75 1.75 0 1 0 -3.5 0M271.7 309.2a1.75 1.75 0 1 0 3.5 0a1.75 1.75 0 1 0 -3.5 0M209.5 390.1a1.75 1.75 0 1 0 3.5 0a1.75 1.75 0 1 0 -3.5 0M192.3 417.5a1.75 1.75 0 1 0 3.5 0a1.75 1.75 0 1 0 -3.5 0M244.1 332.3a1.75 1.75 0 1 0 3.5 0a1.75 1.75 0 1 0 -3.5 0M205.8 354.4a1.75 1.75 0 1 0 3.5 0a1.75 1.75 0 1 0 -3.5 0M276.4 304.2a1.75 1.75 0 1 0 3.5 0a1.75 1.75 0 1 0 -3.5 0M204.0 422.3a1.75 1.75 0 1 0 3.5 0a1.75 1.75 0 1 0 -3.5 0M188.1 435.0a1.75 1.75 0 1 0 3.5 0a1.75 1.75 0 1 0 -3.5 0M257.2 322.2a1.75 1.75 0 1 0 3.5 0a1.75 1.75 0 1 0 -3.5 0M176.8 426.7a1.75 1.75 0 1 0 3.5 0a1.75 1.75 0 1 0 -3.5 0M245.5 295.2a1.75 1.75 0 1 0 3.5 0a1.75 1.75 0 1 0 -3.5 0M183.9 397.5a1.75 1.75 0 1 0 3.5 0a1.75 1.75 0 1 0 -3.5 0M190.1 437.6a1.75 1.75 0 1 0 3.5 0a1.75 1.75 0 1 0 -3.5 0M226.1 394.4a1.75 1.75 0 1 0 3.5 0a1.75 1.75 0 1 0 -3.5 0M159.8 422.5a1.75 1.75 0 1 0 3.5 0a1.75 1.75 0 1 0 -3.5 0M242.5 350.9a1.75 1.75 0 1 0 3.5 0a1.75 1.75 0 1 0 -3.5 0M235.4 416.5a1.75 1.75 0 1 0 3.5 0a1.75 1.75 0 1 0 -3.5 0M207.6 337.5a1.75 1.75 0 1 0 3.5 0a1.75 1.75 0 1 0 -3.5 0M176.2 394.5a1.75 1.75 0 1 0 3.5 0a1.75 1.75 0 1 0 -3.5 0M184.6 437.1a1.75 1.75 0 1 0 3.5 0a1.75 1.75 0 1 0 -3.5 0M233.7 365.7a1.75 1.75 0 1 0 3.5 0a1.75 1.75 0 1 0 -3.5 0M216.2 338.3a1.75 1.75 0 1 0 3.5 0a1.75 1.75 0 1 0 -3.5 0M233.4 378.3a1.75 1.75 0 1 0 3.5 0a1.75 1.75 0 1 0 -3.5 0M207.8 359.0a1.75 1.75 0 1 0 3.5 0a1.75 1.75 0 1 0 -3.5 0M237.3 312.5a1.75 1.75 0 1 0 3.5 0a1.75 1.75 0 1 0 -3.5 0M210.7 312.8a1.75 1.75 0 1 0 3.5 0a1.75 1.75 0 1 0 -3.5 0M234.9 320.5a1.75 1.75 0 1 0 3.5 0a1.75 1.75 0 1 0 -3.5 0M272.8 346.8a1.75 1.75 0 1 0 3.5 0a1.75 1.75 0 1 0 -3.5 0M268.5 333.3a1.75 1.75 0 1 0 3.5 0a1.75 1.75 0 1 0 -3.5 0M255.5 392.5a1.75 1.75 0 1 0 3.5 0a1.75 1.75 0 1 0 -3.5 0M186.6 341.0a1.75 1.75 0 1 0 3.5 0a1.75 1.75 0 1 0 -3.5 0M192.4 400.4a1.75 1.75 0 1 0 3.5 0a1.75 1.75 0 1 0 -3.5 0M190.0 376.4a1.75 1.75 0 1 0 3.5 0a1.75 1.75 0 1 0 -3.5 0M253.3 367.5a1.75 1.75 0 1 0 3.5 0a1.75 1.75 0 1 0 -3.5 0M232.5 413.2a1.75 1.75 0 1 0 3.5 0a1.75 1.75 0 1 0 -3.5 0M228.0 387.3a1.75 1.75 0 1 0 3.5 0a1.75 1.75 0 1 0 -3.5 0M189.9 366.1a1.75 1.75 0 1 0 3.5 0a1.75 1.75 0 1 0 -3.5 0M215.6 338.5a1.75 1.75 0 1 0 3.5 0a1.75 1.75 0 1 0 -3.5 0M249.4 290.7a1.75 1.75 0 1 0 3.5 0a1.75 1.75 0 1 0 -3.5 0M232.3 381.5a1.75 1.75 0 1 0 3.5 0a1.75 1.75 0 1 0 -3.5 0M203.0 398.6a1.75 1.75 0 1 0 3.5 0a1.75 1.75 0 1 0 -3.5 0M224.1 348.9a1.75 1.75 0 1 0 3.5 0a1.75 1.75 0 1 0 -3.5 0M253.6 384.0a1.75 1.75 0 1 0 3.5 0a1.75 1.75 0 1 0 -3.5 0M253.0 337.2a1.75 1.75 0 1 0 3.5 0a1.75 1.75 0 1 0 -3.5 0M223.3 435.6a1.75 1.75 0 1 0 3.5 0a1.75 1.75 0 1 0 -3.5 0M268.7 301.7a1.75 1.75 0 1 0 3.5 0a1.75 1.75 0 1 0 -3.5 0M240.7 423.2a1.75 1.75 0 1 0 3.5 0a1.75 1.75 0 1 0 -3.5 0M174.4 422.3a1.75 1.75 0 1 0 3.5 0a1.75 1.75 0 1 0 -3.5 0M215.1 362.0a1.75 1.75 0 1 0 3.5 0a1.75 1.75 0 1 0 -3.5 0M240.6 382.3a1.75 1.75 0 1 0 3.5 0a1.75 1.75 0 1 0 -3.5 0M194.3 352.5a1.75 1.75 0 1 0 3.5 0a1.75 1.75 0 1 0 -3.5 0M199.7 315.1a1.75 1.75 0 1 0 3.5 0a1.75 1.75 0 1 0 -3.5 0M189.3 379.1a1.75 1.75 0 1 0 3.5 0a1.75 1.75 0 1 0 -3.5 0M202.9 408.4a1.75 1.75 0 1 0 3.5 0a1.75 1.75 0 1 0 -3.5 0M207.2 399.1a1.75 1.75 0 1 0 3.5 0a1.75 1.75 0 1 0 -3.5 0M283.8 324.1a1.75 1.75 0 1 0 3.5 0a1.75 1.75 0 1 0 -3.5 0M212.6 359.5a1.75 1.75 0 1 0 3.5 0a1.75 1.75 0 1 0 -3.5 0M189.7 428.1a1.75 1.75 0 1 0 3.5 0a1.75 1.75 0 1 0 -3.5 0M279.3 311.8a1.75 1.75 0 1 0 3.5 0a1.75 1.75 0 1 0 -3.5 0M178.2 377.3a1.75 1.75 0 1 0 3.5 0a1.75 1.75 0 1 0 -3.5 0M241.1 360.2a1.75 1.75 0 1 0 3.5 0a1.75 1.75 0 1 0 -3.5 0M245.3 290.5a1.75 1.75 0 1 0 3.5 0a1.75 1.75 0 1 0 -3.5 0M260.0 364.9a1.75 1.75 0 1 0 3.5 0a1.75 1.75 0 1 0 -3.5 0M233.0 414.5a1.75 1.75 0 1 0 3.5 0a1.75 1.75 0 1 0 -3.5 0M241.2 375.7a1.75 1.75 0 1 0 3.5 0a1.75 1.75 0 1 0 -3.5 0M219.5 297.6a1.75 1.75 0 1 0 3.5 0a1.75 1.75 0 1 0 -3.5 0M257.6 393.4a1.75 1.75 0 1 0 3.5 0a1.75 1.75 0 1 0 -3.5 0M278.2 315.9a1.75 1.75 0 1 0 3.5 0a1.75 1.75 0 1 0 -3.5 0M216.3 335.8a1.75 1.75 0 1 0 3.5 0a1.75 1.75 0 1 0 -3.5 0M220.8 344.1a1.75 1.75 0 1 0 3.5 0a1.75 1.75 0 1 0 -3.5 0M222.0 304.0a1.75 1.75 0 1 0 3.5 0a1.75 1.75 0 1 0 -3.5 0M221.9 374.1a1.75 1.75 0 1 0 3.5 0a1.75 1.75 0 1 0 -3.5 0M218.6 353.9a1.75 1.75 0 1 0 3.5 0a1.75 1.75 0 1 0 -3.5 0M253.8 402.6a1.75 1.75 0 1 0 3.5 0a1.75 1.75 0 1 0 -3.5 0M201.7 398.1a1.75 1.75 0 1 0 3.5 0a1.75 1.75 0 1 0 -3.5 0M202.8 420.2a1.75 1.75 0 1 0 3.5 0a1.75 1.75 0 1 0 -3.5 0M252.6 356.5a1.75 1.75 0 1 0 3.5 0a1.75 1.75 0 1 0 -3.5 0M203.9 424.6a1.75 1.75 0 1 0 3.5 0a1.75 1.75 0 1 0 -3.5 0M222.2 434.6a1.75 1.75 0 1 0 3.5 0a1.75 1.75 0 1 0 -3.5 0M209.6 307.1a1.75 1.75 0 1 0 3.5 0a1.75 1.75 0 1 0 -3.5 0M250.2 293.3a1.75 1.75 0 1 0 3.5 0a1.75 1.75 0 1 0 -3.5 0M269.1 329.3a1.75 1.75 0 1 0 3.5 0a1.75 1.75 0 1 0 -3.5 0M250.6 355.6a1.75 1.75 0 1 0 3.5 0a1.75 1.75 0 1 0 -3.5 0M212.6 337.6a1.75 1.75 0 1 0 3.5 0a1.75 1.75 0 1 0 -3.5 0M224.8 322.5a1.75 1.75 0 1 0 3.5 0a1.75 1.75 0 1 0 -3.5 0M237.4 377.0a1.75 1.75 0 1 0 3.5 0a1.75 1.75 0 1 0 -3.5 0M242.1 365.9a1.75 1.75 0 1 0 3.5 0a1.75 1.75 0 1 0 -3.5 0M246.8 324.6a1.75 1.75 0 1 0 3.5 0a1.75 1.75 0 1 0 -3.5 0M183.3 374.9a1.75 1.75 0 1 0 3.5 0a1.75 1.75 0 1 0 -3.5 0M216.0 418.4a1.75 1.75 0 1 0 3.5 0a1.75 1.75 0 1 0 -3.5 0M248.7 366.9a1.75 1.75 0 1 0 3.5 0a1.75 1.75 0 1 0 -3.5 0M236.9 367.5a1.75 1.75 0 1 0 3.5 0a1.75 1.75 0 1 0 -3.5 0M269.1 336.1a1.75 1.75 0 1 0 3.5 0a1.75 1.75 0 1 0 -3.5 0M258.6 380.1a1.75 1.75 0 1 0 3.5 0a1.75 1.75 0 1 0 -3.5 0M270.0 353.3a1.75 1.75 0 1 0 3.5 0a1.75 1.75 0 1 0 -3.5 0M230.0 358.2a1.75 1.75 0 1 0 3.5 0a1.75 1.75 0 1 0 -3.5 0M268.9 325.9a1.75 1.75 0 1 0 3.5 0a1.75 1.75 0 1 0 -3.5 0M191.5 382.1a1.75 1.75 0 1 0 3.5 0a1.75 1.75 0 1 0 -3.5 0M198.3 428.4a1.75 1.75 0 1 0 3.5 0a1.75 1.75 0 1 0 -3.5 0M234.5 306.1a1.75 1.75 0 1 0 3.5 0a1.75 1.75 0 1 0 -3.5 0M178.6 412.2a1.75 1.75 0 1 0 3.5 0a1.75 1.75 0 1 0 -3.5 0M245.8 368.3a1.75 1.75 0 1 0 3.5 0a1.75 1.75 0 1 0 -3.5 0M252.8 317.0a1.75 1.75 0 1 0 3.5 0a1.75 1.75 0 1 0 -3.5 0M211.9 432.1a1.75 1.75 0 1 0 3.5 0a1.75 1.75 0 1 0 -3.5 0M242.5 405.3a1.75 1.75 0 1 0 3.5 0a1.75 1.75 0 1 0 -3.5 0M231.3 344.4a1.75 1.75 0 1 0 3.5 0a1.75 1.75 0 1 0 -3.5 0M197.9 361.0a1.75 1.75 0 1 0 3.5 0a1.75 1.75 0 1 0 -3.5 0M255.2 359.7a1.75 1.75 0 1 0 3.5 0a1.75 1.75 0 1 0 -3.5 0M192.9 403.6a1.75 1.75 0 1 0 3.5 0a1.75 1.75 0 1 0 -3.5 0M201.8 425.6a1.75 1.75 0 1 0 3.5 0a1.75 1.75 0 1 0 -3.5 0M227.2 373.5a1.75 1.75 0 1 0 3.5 0a1.75 1.75 0 1 0 -3.5 0M265.3 308.5a1.75 1.75 0 1 0 3.5 0a1.75 1.75 0 1 0 -3.5 0M209.1 345.2a1.75 1.75 0 1 0 3.5 0a1.75 1.75 0 1 0 -3.5 0M223.0 299.9a1.75 1.75 0 1 0 3.5 0a1.75 1.75 0 1 0 -3.5 0M218.0 437.5a1.75 1.75 0 1 0 3.5 0a1.75 1.75 0 1 0 -3.5 0M219.5 435.2a1.75 1.75 0 1 0 3.5 0a1.75 1.75 0 1 0 -3.5 0M278.9 333.1a1.75 1.75 0 1 0 3.5 0a1.75 1.75 0 1 0 -3.5 0M271.3 306.8a1.75 1.75 0 1 0 3.5 0a1.75 1.75 0 1 0 -3.5 0M249.4 305.5a1.75 1.75 0 1 0 3.5 0a1.75 1.75 0 1 0 -3.5 0M240.5 412.9a1.75 1.75 0 1 0 3.5 0a1.75 1.75 0 1 0 -3.5 0M224.3 333.5a1.75 1.75 0 1 0 3.5 0a1.75 1.75 0 1 0 -3.5 0M219.1 317.8a1.75 1.75 0 1 0 3.5 0a1.75 1.75 0 1 0 -3.5 0M255.6 384.4a1.75 1.75 0 1 0 3.5 0a1.75 1.75 0 1 0 -3.5 0M184.9 437.9a1.75 1.75 0 1 0 3.5 0a1.75 1.75 0 1 0 -3.5 0M210.5 358.2a1.75 1.75 0 1 0 3.5 0a1.75 1.75 0 1 0 -3.5 0M239.9 316.6a1.75 1.75 0 1 0 3.5 0a1.75 1.75 0 1 0 -3.5 0M232.5 314.3a1.75 1.75 0 1 0 3.5 0a1.75 1.75 0 1 0 -3.5 0M179.0 417.0a1.75 1.75 0 1 0 3.5 0a1.75 1.75 0 1 0 -3.5 0M249.6 312.3a1.75 1.75 0 1 0 3.5 0a1.75 1.75 0 1 0 -3.5 0M281.3 325.2a1.75 1.75 0 1 0 3.5 0a1.75 1.75 0 1 0 -3.5 0M196.7 391.2a1.75 1.75 0 1 0 3.5 0a1.75 1.75 0 1 0 -3.5 0M237.9 315.9a1.75 1.75 0 1 0 3.5 0a1.75 1.75 0 1 0 -3.5 0M216.9 389.3a1.75 1.75 0 1 0 3.5 0a1.75 1.75 0 1 0 -3.5 0M226.3 322.7a1.75 1.75 0 1 0 3.5 0a1.75 1.75 0 1 0 -3.5 0M231.4 360.1a1.75 1.75 0 1 0 3.5 0a1.75 1.75 0 1 0 -3.5 0M230.5 376.9a1.75 1.75 0 1 0 3.5 0a1.75 1.75 0 1 0 -3.5 0M195.7 427.1a1.75 1.75 0 1 0 3.5 0a1.75 1.75 0 1 0 -3.5 0M226.9 294.9a1.75 1.75 0 1 0 3.5 0a1.75 1.75 0 1 0 -3.5 0M218.9 391.6a1.75 1.75 0 1 0 3.5 0a1.75 1.75 0 1 0 -3.5 0M237.9 322.3a1.75 1.75 0 1 0 3.5 0a1.75 1.75 0 1 0 -3.5 0M184.5 392.0a1.75 1.75 0 1 0 3.5 0a1.75 1.75 0 1 0 -3.5 0M222.6 387.3a1.75 1.75 0 1 0 3.5 0a1.75 1.75 0 1 0 -3.5 0M206.5 351.6a1.75 1.75 0 1 0 3.5 0a1.75 1.75 0 1 0 -3.5 0M219.5 395.7a1.75 1.75 0 1 0 3.5 0a1.75 1.75 0 1 0 -3.5 0M242.5 293.0a1.75 1.75 0 1 0 3.5 0a1.75 1.75 0 1 0 -3.5 0M192.4 344.5a1.75 1.75 0 1 0 3.5 0a1.75 1.75 0 1 0 -3.5 0M242.7 303.1a1.75 1.75 0 1 0 3.5 0a1.75 1.75 0 1 0 -3.5 0M213.7 342.4a1.75 1.75 0 1 0 3.5 0a1.75 1.75 0 1 0 -3.5 0M220.9 420.9a1.75 1.75 0 1 0 3.5 0a1.75 1.75 0 1 0 -3.5 0M191.9 412.5a1.75 1.75 0 1 0 3.5 0a1.75 1.75 0 1 0 -3.5 0M243.1 361.1a1.75 1.75 0 1 0 3.5 0a1.75 1.75 0 1 0 -3.5 0M222.8 425.6a1.75 1.75 0 1 0 3.5 0a1.75 1.75 0 1 0 -3.5 0M235.4 412.1a1.75 1.75 0 1 0 3.5 0a1.75 1.75 0 1 0 -3.5 0M241.4 347.7a1.75 1.75 0 1 0 3.5 0a1.75 1.75 0 1 0 -3.5 0M224.2 411.7a1.75 1.75 0 1 0 3.5 0a1.75 1.75 0 1 0 -3.5 0M253.9 385.6a1.75 1.75 0 1 0 3.5 0a1.75 1.75 0 1 0 -3.5 0M189.5 344.0a1.75 1.75 0 1 0 3.5 0a1.75 1.75 0 1 0 -3.5 0M248.8 340.6a1.75 1.75 0 1 0 3.5 0a1.75 1.75 0 1 0 -3.5 0M213.9 298.3a1.75 1.75 0 1 0 3.5 0a1.75 1.75 0 1 0 -3.5 0M243.5 374.1a1.75 1.75 0 1 0 3.5 0a1.75 1.75 0 1 0 -3.5 0M188.4 377.9a1.75 1.75 0 1 0 3.5 0a1.75 1.75 0 1 0 -3.5 0M272.5 326.8a1.75 1.75 0 1 0 3.5 0a1.75 1.75 0 1 0 -3.5 0M226.4 372.9a1.75 1.75 0 1 0 3.5 0a1.75 1.75 0 1 0 -3.5 0M243.2 309.2a1.75 1.75 0 1 0 3.5 0a1.75 1.75 0 1 0 -3.5 0M231.8 345.8a1.75 1.75 0 1 0 3.5 0a1.75 1.75 0 1 0 -3.5 0M284.0 309.9a1.75 1.75 0 1 0 3.5 0a1.75 1.75 0 1 0 -3.5 0M215.1 306.5a1.75 1.75 0 1 0 3.5 0a1.75 1.75 0 1 0 -3.5 0M218.6 354.6a1.75 1.75 0 1 0 3.5 0a1.75 1.75 0 1 0 -3.5 0M195.6 338.0a1.75 1.75 0 1 0 3.5 0a1.75 1.75 0 1 0 -3.5 0M218.3 406.6a1.75 1.75 0 1 0 3.5 0a1.75 1.75 0 1 0 -3.5 0M194.5 383.9a1.75 1.75 0 1 0 3.5 0a1.75 1.75 0 1 0 -3.5 0M279.2 331.9a1.75 1.75 0 1 0 3.5 0a1.75 1.75 0 1 0 -3.5 0M213.3 369.0a1.75 1.75 0 1 0 3.5 0a1.75 1.75 0 1 0 -3.5 0M257.2 321.4a1.75 1.75 0 1 0 3.5 0a1.75 1.75 0 1 0 -3.5 0M243.2 296.6a1.75 1.75 0 1 0 3.5 0a1.75 1.75 0 1 0 -3.5 0M249.8 310.5a1.75 1.75 0 1 0 3.5 0a1.75 1.75 0 1 0 -3.5 0M270.8 350.1a1.75 1.75 0 1 0 3.5 0a1.75 1.75 0 1 0 -3.5 0M196.9 334.6a1.75 1.75 0 1 0 3.5 0a1.75 1.75 0 1 0 -3.5 0M207.4 301.5a1.75 1.75 0 1 0 3.5 0a1.75 1.75 0 1 0 -3.5 0M189.8 437.8a1.75 1.75 0 1 0 3.5 0a1.75 1.75 0 1 0 -3.5 0M194.5 344.8a1.75 1.75 0 1 0 3.5 0a1.75 1.75 0 1 0 -3.5 0M240.2 328.2a1.75 1.75 0 1 0 3.5 0a1.75 1.75 0 1 0 -3.5 0M183.9 370.9a1.75 1.75 0 1 0 3.5 0a1.75 1.75 0 1 0 -3.5 0M237.6 366.5a1.75 1.75 0 1 0 3.5 0a1.75 1.75 0 1 0 -3.5 0M215.1 410.5a1.75 1.75 0 1 0 3.5 0a1.75 1.75 0 1 0 -3.5 0M229.5 324.6a1.75 1.75 0 1 0 3.5 0a1.75 1.75 0 1 0 -3.5 0M253.8 304.9a1.75 1.75 0 1 0 3.5 0a1.75 1.75 0 1 0 -3.5 0M213.6 382.6a1.75 1.75 0 1 0 3.5 0a1.75 1.75 0 1 0 -3.5 0M230.1 376.4a1.75 1.75 0 1 0 3.5 0a1.75 1.75 0 1 0 -3.5 0M257.1 330.0a1.75 1.75 0 1 0 3.5 0a1.75 1.75 0 1 0 -3.5 0M189.4 345.5a1.75 1.75 0 1 0 3.5 0a1.75 1.75 0 1 0 -3.5 0M240.1 422.3a1.75 1.75 0 1 0 3.5 0a1.75 1.75 0 1 0 -3.5 0M263.0 317.2a1.75 1.75 0 1 0 3.5 0a1.75 1.75 0 1 0 -3.5 0M206.5 321.0a1.75 1.75 0 1 0 3.5 0a1.75 1.75 0 1 0 -3.5 0M172.2 430.5a1.75 1.75 0 1 0 3.5 0a1.75 1.75 0 1 0 -3.5 0M184.0 436.7a1.75 1.75 0 1 0 3.5 0a1.75 1.75 0 1 0 -3.5 0M181.3 387.9a1.75 1.75 0 1 0 3.5 0a1.75 1.75 0 1 0 -3.5 0M191.4 378.0a1.75 1.75 0 1 0 3.5 0a1.75 1.75 0 1 0 -3.5 0M281.2 323.7a1.75 1.75 0 1 0 3.5 0a1.75 1.75 0 1 0 -3.5 0M215.0 407.9a1.75 1.75 0 1 0 3.5 0a1.75 1.75 0 1 0 -3.5 0M214.1 347.9a1.75 1.75 0 1 0 3.5 0a1.75 1.75 0 1 0 -3.5 0M228.4 299.9a1.75 1.75 0 1 0 3.5 0a1.75 1.75 0 1 0 -3.5 0M255.5 299.6a1.75 1.75 0 1 0 3.5 0a1.75 1.75 0 1 0 -3.5 0M287.9 315.2a1.75 1.75 0 1 0 3.5 0a1.75 1.75 0 1 0 -3.5 0M194.2 371.6a1.75 1.75 0 1 0 3.5 0a1.75 1.75 0 1 0 -3.5 0M203.3 403.9a1.75 1.75 0 1 0 3.5 0a1.75 1.75 0 1 0 -3.5 0M193.2 393.5a1.75 1.75 0 1 0 3.5 0a1.75 1.75 0 1 0 -3.5 0M178.2 426.8a1.75 1.75 0 1 0 3.5 0a1.75 1.75 0 1 0 -3.5 0M203.9 322.9a1.75 1.75 0 1 0 3.5 0a1.75 1.75 0 1 0 -3.5 0M217.4 434.1a1.75 1.75 0 1 0 3.5 0a1.75 1.75 0 1 0 -3.5 0M202.5 320.4a1.75 1.75 0 1 0 3.5 0a1.75 1.75 0 1 0 -3.5 0M202.6 363.7a1.75 1.75 0 1 0 3.5 0a1.75 1.75 0 1 0 -3.5 0M213.2 320.8a1.75 1.75 0 1 0 3.5 0a1.75 1.75 0 1 0 -3.5 0M224.7 297.2a1.75 1.75 0 1 0 3.5 0a1.75 1.75 0 1 0 -3.5 0M188.3 343.8a1.75 1.75 0 1 0 3.5 0a1.75 1.75 0 1 0 -3.5 0M251.1 327.7a1.75 1.75 0 1 0 3.5 0a1.75 1.75 0 1 0 -3.5 0M195.9 424.9a1.75 1.75 0 1 0 3.5 0a1.75 1.75 0 1 0 -3.5 0M222.1 392.2a1.75 1.75 0 1 0 3.5 0a1.75 1.75 0 1 0 -3.5 0M230.1 401.3a1.75 1.75 0 1 0 3.5 0a1.75 1.75 0 1 0 -3.5 0M229.6 357.3a1.75 1.75 0 1 0 3.5 0a1.75 1.75 0 1 0 -3.5 0M197.4 407.2a1.75 1.75 0 1 0 3.5 0a1.75 1.75 0 1 0 -3.5 0M205.7 418.0a1.75 1.75 0 1 0 3.5 0a1.75 1.75 0 1 0 -3.5 0M247.5 384.7a1.75 1.75 0 1 0 3.5 0a1.75 1.75 0 1 0 -3.5 0M195.4 368.5a1.75 1.75 0 1 0 3.5 0a1.75 1.75 0 1 0 -3.5 0M166.9 418.6a1.75 1.75 0 1 0 3.5 0a1.75 1.75 0 1 0 -3.5 0M197.6 372.5a1.75 1.75 0 1 0 3.5 0a1.75 1.75 0 1 0 -3.5 0M257.7 372.8a1.75 1.75 0 1 0 3.5 0a1.75 1.75 0 1 0 -3.5 0M233.5 357.8a1.75 1.75 0 1 0 3.5 0a1.75 1.75 0 1 0 -3.5 0M199.0 322.3a1.75 1.75 0 1 0 3.5 0a1.75 1.75 0 1 0 -3.5 0M237.3 395.0a1.75 1.75 0 1 0 3.5 0a1.75 1.75 0 1 0 -3.5 0M258.3 300.2a1.75 1.75 0 1 0 3.5 0a1.75 1.75 0 1 0 -3.5 0M193.8 393.9a1.75 1.75 0 1 0 3.5 0a1.75 1.75 0 1 0 -3.5 0M259.8 329.7a1.75 1.75 0 1 0 3.5 0a1.75 1.75 0 1 0 -3.5 0M202.9 321.0a1.75 1.75 0 1 0 3.5 0a1.75 1.75 0 1 0 -3.5 0M227.6 321.1a1.75 1.75 0 1 0 3.5 0a1.75 1.75 0 1 0 -3.5 0M268.4 354.8a1.75 1.75 0 1 0 3.5 0a1.75 1.75 0 1 0 -3.5 0M224.9 340.5a1.75 1.75 0 1 0 3.5 0a1.75 1.75 0 1 0 -3.5 0M258.2 388.7a1.75 1.75 0 1 0 3.5 0a1.75 1.75 0 1 0 -3.5 0M197.2 318.1a1.75 1.75 0 1 0 3.5 0a1.75 1.75 0 1 0 -3.5 0M259.0 325.5a1.75 1.75 0 1 0 3.5 0a1.75 1.75 0 1 0 -3.5 0M251.6 314.1a1.75 1.75 0 1 0 3.5 0a1.75 1.75 0 1 0 -3.5 0M242.7 409.6a1.75 1.75 0 1 0 3.5 0a1.75 1.75 0 1 0 -3.5 0M236.9 305.0a1.75 1.75 0 1 0 3.5 0a1.75 1.75 0 1 0 -3.5 0M178.4 424.9a1.75 1.75 0 1 0 3.5 0a1.75 1.75 0 1 0 -3.5 0M244.9 416.2a1.75 1.75 0 1 0 3.5 0a1.75 1.75 0 1 0 -3.5 0M160.8 416.6a1.75 1.75 0 1 0 3.5 0a1.75 1.75 0 1 0 -3.5 0M215.5 401.9a1.75 1.75 0 1 0 3.5 0a1.75 1.75 0 1 0 -3.5 0M216.9 424.7a1.75 1.75 0 1 0 3.5 0a1.75 1.75 0 1 0 -3.5 0M220.2 401.9a1.75 1.75 0 1 0 3.5 0a1.75 1.75 0 1 0 -3.5 0M248.7 417.9a1.75 1.75 0 1 0 3.5 0a1.75 1.75 0 1 0 -3.5 0M241.9 406.2a1.75 1.75 0 1 0 3.5 0a1.75 1.75 0 1 0 -3.5 0M243.2 314.4a1.75 1.75 0 1 0 3.5 0a1.75 1.75 0 1 0 -3.5 0M207.7 395.5a1.75 1.75 0 1 0 3.5 0a1.75 1.75 0 1 0 -3.5 0M276.9 336.4a1.75 1.75 0 1 0 3.5 0a1.75 1.75 0 1 0 -3.5 0M171.0 407.3a1.75 1.75 0 1 0 3.5 0a1.75 1.75 0 1 0 -3.5 0M257.9 326.6a1.75 1.75 0 1 0 3.5 0a1.75 1.75 0 1 0 -3.5 0M248.5 329.4a1.75 1.75 0 1 0 3.5 0a1.75 1.75 0 1 0 -3.5 0M279.5 339.7a1.75 1.75 0 1 0 3.5 0a1.75 1.75 0 1 0 -3.5 0M223.5 390.7a1.75 1.75 0 1 0 3.5 0a1.75 1.75 0 1 0 -3.5 0M226.2 416.9a1.75 1.75 0 1 0 3.5 0a1.75 1.75 0 1 0 -3.5 0M202.9 402.0a1.75 1.75 0 1 0 3.5 0a1.75 1.75 0 1 0 -3.5 0M187.6 357.8a1.75 1.75 0 1 0 3.5 0a1.75 1.75 0 1 0 -3.5 0M180.2 384.2a1.75 1.75 0 1 0 3.5 0a1.75 1.75 0 1 0 -3.5 0M225.2 405.7a1.75 1.75 0 1 0 3.5 0a1.75 1.75 0 1 0 -3.5 0M191.1 416.3a1.75 1.75 0 1 0 3.5 0a1.75 1.75 0 1 0 -3.5 0M224.4 299.1a1.75 1.75 0 1 0 3.5 0a1.75 1.75 0 1 0 -3.5 0M205.1 420.4a1.75 1.75 0 1 0 3.5 0a1.75 1.75 0 1 0 -3.5 0M267.8 323.8a1.75 1.75 0 1 0 3.5 0a1.75 1.75 0 1 0 -3.5 0M198.0 353.4a1.75 1.75 0 1 0 3.5 0a1.75 1.75 0 1 0 -3.5 0M201.2 365.0a1.75 1.75 0 1 0 3.5 0a1.75 1.75 0 1 0 -3.5 0M277.6 323.8a1.75 1.75 0 1 0 3.5 0a1.75 1.75 0 1 0 -3.5 0M203.7 312.1a1.75 1.75 0 1 0 3.5 0a1.75 1.75 0 1 0 -3.5 0M193.3 366.2a1.75 1.75 0 1 0 3.5 0a1.75 1.75 0 1 0 -3.5 0M196.0 417.5a1.75 1.75 0 1 0 3.5 0a1.75 1.75 0 1 0 -3.5 0M213.0 380.8a1.75 1.75 0 1 0 3.5 0a1.75 1.75 0 1 0 -3.5 0M240.5 313.0a1.75 1.75 0 1 0 3.5 0a1.75 1.75 0 1 0 -3.5 0M226.3 416.8a1.75 1.75 0 1 0 3.5 0a1.75 1.75 0 1 0 -3.5 0M233.8 394.1a1.75 1.75 0 1 0 3.5 0a1.75 1.75 0 1 0 -3.5 0M213.5 356.2a1.75 1.75 0 1 0 3.5 0a1.75 1.75 0 1 0 -3.5 0M243.2 403.0a1.75 1.75 0 1 0 3.5 0a1.75 1.75 0 1 0 -3.5 0M246.1 292.8a1.75 1.75 0 1 0 3.5 0a1.75 1.75 0 1 0 -3.5 0M218.4 387.1a1.75 1.75 0 1 0 3.5 0a1.75 1.75 0 1 0 -3.5 0M232.1 326.1a1.75 1.75 0 1 0 3.5 0a1.75 1.75 0 1 0 -3.5 0M187.1 359.0a1.75 1.75 0 1 0 3.5 0a1.75 1.75 0 1 0 -3.5 0M220.1 340.2a1.75 1.75 0 1 0 3.5 0a1.75 1.75 0 1 0 -3.5 0M200.0 422.6a1.75 1.75 0 1 0 3.5 0a1.75 1.75 0 1 0 -3.5 0M209.2 399.9a1.75 1.75 0 1 0 3.5 0a1.75 1.75 0 1 0 -3.5 0M227.0 319.8a1.75 1.75 0 1 0 3.5 0a1.75 1.75 0 1 0 -3.5 0M264.7 358.5a1.75 1.75 0 1 0 3.5 0a1.75 1.75 0 1 0 -3.5 0M162.1 416.7a1.75 1.75 0 1 0 3.5 0a1.75 1.75 0 1 0 -3.5 0M168.8 408.0a1.75 1.75 0 1 0 3.5 0a1.75 1.75 0 1 0 -3.5 0M217.8 332.8a1.75 1.75 0 1 0 3.5 0a1.75 1.75 0 1 0 -3.5 0M234.0 334.9a1.75 1.75 0 1 0 3.5 0a1.75 1.75 0 1 0 -3.5 0M193.6 362.4a1.75 1.75 0 1 0 3.5 0a1.75 1.75 0 1 0 -3.5 0M227.1 332.0a1.75 1.75 0 1 0 3.5 0a1.75 1.75 0 1 0 -3.5 0M227.0 389.6a1.75 1.75 0 1 0 3.5 0a1.75 1.75 0 1 0 -3.5 0M200.4 401.0a1.75 1.75 0 1 0 3.5 0a1.75 1.75 0 1 0 -3.5 0M241.1 299.6a1.75 1.75 0 1 0 3.5 0a1.75 1.75 0 1 0 -3.5 0M171.8 424.5a1.75 1.75 0 1 0 3.5 0a1.75 1.75 0 1 0 -3.5 0M177.2 385.9a1.75 1.75 0 1 0 3.5 0a1.75 1.75 0 1 0 -3.5 0M202.3 324.3a1.75 1.75 0 1 0 3.5 0a1.75 1.75 0 1 0 -3.5 0M249.9 349.0a1.75 1.75 0 1 0 3.5 0a1.75 1.75 0 1 0 -3.5 0M215.6 298.6a1.75 1.75 0 1 0 3.5 0a1.75 1.75 0 1 0 -3.5 0M283.3 307.1a1.75 1.75 0 1 0 3.5 0a1.75 1.75 0 1 0 -3.5 0M178.6 436.5a1.75 1.75 0 1 0 3.5 0a1.75 1.75 0 1 0 -3.5 0M191.5 353.0a1.75 1.75 0 1 0 3.5 0a1.75 1.75 0 1 0 -3.5 0M226.7 344.5a1.75 1.75 0 1 0 3.5 0a1.75 1.75 0 1 0 -3.5 0M218.0 317.3a1.75 1.75 0 1 0 3.5 0a1.75 1.75 0 1 0 -3.5 0M209.6 426.9a1.75 1.75 0 1 0 3.5 0a1.75 1.75 0 1 0 -3.5 0M195.1 417.1a1.75 1.75 0 1 0 3.5 0a1.75 1.75 0 1 0 -3.5 0M244.6 360.1a1.75 1.75 0 1 0 3.5 0a1.75 1.75 0 1 0 -3.5 0M251.4 343.0a1.75 1.75 0 1 0 3.5 0a1.75 1.75 0 1 0 -3.5 0M249.5 346.0a1.75 1.75 0 1 0 3.5 0a1.75 1.75 0 1 0 -3.5 0M283.5 309.8a1.75 1.75 0 1 0 3.5 0a1.75 1.75 0 1 0 -3.5 0M249.0 291.5a1.75 1.75 0 1 0 3.5 0a1.75 1.75 0 1 0 -3.5 0M234.1 357.9a1.75 1.75 0 1 0 3.5 0a1.75 1.75 0 1 0 -3.5 0M194.3 331.4a1.75 1.75 0 1 0 3.5 0a1.75 1.75 0 1 0 -3.5 0M257.3 355.7a1.75 1.75 0 1 0 3.5 0a1.75 1.75 0 1 0 -3.5 0M192.4 360.9a1.75 1.75 0 1 0 3.5 0a1.75 1.75 0 1 0 -3.5 0M189.8 386.2a1.75 1.75 0 1 0 3.5 0a1.75 1.75 0 1 0 -3.5 0M224.9 310.5a1.75 1.75 0 1 0 3.5 0a1.75 1.75 0 1 0 -3.5 0M271.2 313.2a1.75 1.75 0 1 0 3.5 0a1.75 1.75 0 1 0 -3.5 0M176.1 391.3a1.75 1.75 0 1 0 3.5 0a1.75 1.75 0 1 0 -3.5 0M186.4 359.1a1.75 1.75 0 1 0 3.5 0a1.75 1.75 0 1 0 -3.5 0M236.4 361.6a1.75 1.75 0 1 0 3.5 0a1.75 1.75 0 1 0 -3.5 0M235.0 403.6a1.75 1.75 0 1 0 3.5 0a1.75 1.75 0 1 0 -3.5 0M272.6 327.2a1.75 1.75 0 1 0 3.5 0a1.75 1.75 0 1 0 -3.5 0M219.6 415.2a1.75 1.75 0 1 0 3.5 0a1.75 1.75 0 1 0 -3.5 0M209.4 351.7a1.75 1.75 0 1 0 3.5 0a1.75 1.75 0 1 0 -3.5 0M236.7 379.6a1.75 1.75 0 1 0 3.5 0a1.75 1.75 0 1 0 -3.5 0M230.4 391.4a1.75 1.75 0 1 0 3.5 0a1.75 1.75 0 1 0 -3.5 0M185.4 427.1a1.75 1.75 0 1 0 3.5 0a1.75 1.75 0 1 0 -3.5 0M209.5 326.4a1.75 1.75 0 1 0 3.5 0a1.75 1.75 0 1 0 -3.5 0M199.7 320.6a1.75 1.75 0 1 0 3.5 0a1.75 1.75 0 1 0 -3.5 0M197.7 417.4a1.75 1.75 0 1 0 3.5 0a1.75 1.75 0 1 0 -3.5 0M215.9 353.5a1.75 1.75 0 1 0 3.5 0a1.75 1.75 0 1 0 -3.5 0M239.1 371.9a1.75 1.75 0 1 0 3.5 0a1.75 1.75 0 1 0 -3.5 0M237.5 306.6a1.75 1.75 0 1 0 3.5 0a1.75 1.75 0 1 0 -3.5 0M236.7 346.3a1.75 1.75 0 1 0 3.5 0a1.75 1.75 0 1 0 -3.5 0M219.5 434.9a1.75 1.75 0 1 0 3.5 0a1.75 1.75 0 1 0 -3.5 0M267.4 297.2a1.75 1.75 0 1 0 3.5 0a1.75 1.75 0 1 0 -3.5 0M224.6 337.7a1.75 1.75 0 1 0 3.5 0a1.75 1.75 0 1 0 -3.5 0M262.8 339.0a1.75 1.75 0 1 0 3.5 0a1.75 1.75 0 1 0 -3.5 0M231.0 321.2a1.75 1.75 0 1 0 3.5 0a1.75 1.75 0 1 0 -3.5 0M280.3 317.6a1.75 1.75 0 1 0 3.5 0a1.75 1.75 0 1 0 -3.5 0M219.8 405.2a1.75 1.75 0 1 0 3.5 0a1.75 1.75 0 1 0 -3.5 0M204.0 365.6a1.75 1.75 0 1 0 3.5 0a1.75 1.75 0 1 0 -3.5 0M200.8 371.1a1.75 1.75 0 1 0 3.5 0a1.75 1.75 0 1 0 -3.5 0M241.8 333.8a1.75 1.75 0 1 0 3.5 0a1.75 1.75 0 1 0 -3.5 0M175.0 436.9a1.75 1.75 0 1 0 3.5 0a1.75 1.75 0 1 0 -3.5 0M199.8 337.1a1.75 1.75 0 1 0 3.5 0a1.75 1.75 0 1 0 -3.5 0M224.5 298.6a1.75 1.75 0 1 0 3.5 0a1.75 1.75 0 1 0 -3.5 0M209.6 333.6a1.75 1.75 0 1 0 3.5 0a1.75 1.75 0 1 0 -3.5 0M214.5 338.7a1.75 1.75 0 1 0 3.5 0a1.75 1.75 0 1 0 -3.5 0M224.9 364.2a1.75 1.75 0 1 0 3.5 0a1.75 1.75 0 1 0 -3.5 0M262.5 328.6a1.75 1.75 0 1 0 3.5 0a1.75 1.75 0 1 0 -3.5 0M270.2 310.5a1.75 1.75 0 1 0 3.5 0a1.75 1.75 0 1 0 -3.5 0M191.9 385.5a1.75 1.75 0 1 0 3.5 0a1.75 1.75 0 1 0 -3.5 0M251.3 406.1a1.75 1.75 0 1 0 3.5 0a1.75 1.75 0 1 0 -3.5 0M191.4 422.2a1.75 1.75 0 1 0 3.5 0a1.75 1.75 0 1 0 -3.5 0M223.1 421.3a1.75 1.75 0 1 0 3.5 0a1.75 1.75 0 1 0 -3.5 0M259.8 344.0a1.75 1.75 0 1 0 3.5 0a1.75 1.75 0 1 0 -3.5 0M250.3 316.5a1.75 1.75 0 1 0 3.5 0a1.75 1.75 0 1 0 -3.5 0M201.8 338.3a1.75 1.75 0 1 0 3.5 0a1.75 1.75 0 1 0 -3.5 0M247.9 347.0a1.75 1.75 0 1 0 3.5 0a1.75 1.75 0 1 0 -3.5 0M184.4 435.1a1.75 1.75 0 1 0 3.5 0a1.75 1.75 0 1 0 -3.5 0M251.1 360.0a1.75 1.75 0 1 0 3.5 0a1.75 1.75 0 1 0 -3.5 0M222.5 348.4a1.75 1.75 0 1 0 3.5 0a1.75 1.75 0 1 0 -3.5 0M225.7 377.8a1.75 1.75 0 1 0 3.5 0a1.75 1.75 0 1 0 -3.5 0M184.2 420.0a1.75 1.75 0 1 0 3.5 0a1.75 1.75 0 1 0 -3.5 0M197.6 316.8a1.75 1.75 0 1 0 3.5 0a1.75 1.75 0 1 0 -3.5 0M195.4 384.5a1.75 1.75 0 1 0 3.5 0a1.75 1.75 0 1 0 -3.5 0M272.0 312.6a1.75 1.75 0 1 0 3.5 0a1.75 1.75 0 1 0 -3.5 0M191.0 370.3a1.75 1.75 0 1 0 3.5 0a1.75 1.75 0 1 0 -3.5 0M255.7 399.5a1.75 1.75 0 1 0 3.5 0a1.75 1.75 0 1 0 -3.5 0M227.8 301.6a1.75 1.75 0 1 0 3.5 0a1.75 1.75 0 1 0 -3.5 0M239.8 358.9a1.75 1.75 0 1 0 3.5 0a1.75 1.75 0 1 0 -3.5 0M236.4 385.3a1.75 1.75 0 1 0 3.5 0a1.75 1.75 0 1 0 -3.5 0M193.7 368.4a1.75 1.75 0 1 0 3.5 0a1.75 1.75 0 1 0 -3.5 0M200.1 372.1a1.75 1.75 0 1 0 3.5 0a1.75 1.75 0 1 0 -3.5 0M221.0 321.7a1.75 1.75 0 1 0 3.5 0a1.75 1.75 0 1 0 -3.5 0M233.7 345.3a1.75 1.75 0 1 0 3.5 0a1.75 1.75 0 1 0 -3.5 0M262.8 345.5a1.75 1.75 0 1 0 3.5 0a1.75 1.75 0 1 0 -3.5 0M228.7 430.4a1.75 1.75 0 1 0 3.5 0a1.75 1.75 0 1 0 -3.5 0M182.3 370.6a1.75 1.75 0 1 0 3.5 0a1.75 1.75 0 1 0 -3.5 0M224.5 334.3a1.75 1.75 0 1 0 3.5 0a1.75 1.75 0 1 0 -3.5 0M227.2 308.2a1.75 1.75 0 1 0 3.5 0a1.75 1.75 0 1 0 -3.5 0M215.3 325.9a1.75 1.75 0 1 0 3.5 0a1.75 1.75 0 1 0 -3.5 0M184.9 335.9a1.75 1.75 0 1 0 3.5 0a1.75 1.75 0 1 0 -3.5 0M244.4 424.0a1.75 1.75 0 1 0 3.5 0a1.75 1.75 0 1 0 -3.5 0M216.8 359.9a1.75 1.75 0 1 0 3.5 0a1.75 1.75 0 1 0 -3.5 0M243.7 352.5a1.75 1.75 0 1 0 3.5 0a1.75 1.75 0 1 0 -3.5 0M225.1 428.4a1.75 1.75 0 1 0 3.5 0a1.75 1.75 0 1 0 -3.5 0M204.1 406.9a1.75 1.75 0 1 0 3.5 0a1.75 1.75 0 1 0 -3.5 0M248.7 349.6a1.75 1.75 0 1 0 3.5 0a1.75 1.75 0 1 0 -3.5 0M235.5 368.5a1.75 1.75 0 1 0 3.5 0a1.75 1.75 0 1 0 -3.5 0M188.5 371.4a1.75 1.75 0 1 0 3.5 0a1.75 1.75 0 1 0 -3.5 0M170.0 432.5a1.75 1.75 0 1 0 3.5 0a1.75 1.75 0 1 0 -3.5 0M260.2 381.1a1.75 1.75 0 1 0 3.5 0a1.75 1.75 0 1 0 -3.5 0M242.0 370.6a1.75 1.75 0 1 0 3.5 0a1.75 1.75 0 1 0 -3.5 0M204.1 430.0a1.75 1.75 0 1 0 3.5 0a1.75 1.75 0 1 0 -3.5 0M228.5 402.6a1.75 1.75 0 1 0 3.5 0a1.75 1.75 0 1 0 -3.5 0M247.6 340.1a1.75 1.75 0 1 0 3.5 0a1.75 1.75 0 1 0 -3.5 0M247.1 368.8a1.75 1.75 0 1 0 3.5 0a1.75 1.75 0 1 0 -3.5 0M195.3 425.2a1.75 1.75 0 1 0 3.5 0a1.75 1.75 0 1 0 -3.5 0M265.7 324.9a1.75 1.75 0 1 0 3.5 0a1.75 1.75 0 1 0 -3.5 0M239.9 398.1a1.75 1.75 0 1 0 3.5 0a1.75 1.75 0 1 0 -3.5 0M215.0 385.2a1.75 1.75 0 1 0 3.5 0a1.75 1.75 0 1 0 -3.5 0M203.7 431.6a1.75 1.75 0 1 0 3.5 0a1.75 1.75 0 1 0 -3.5 0M206.0 338.8a1.75 1.75 0 1 0 3.5 0a1.75 1.75 0 1 0 -3.5 0M208.0 420.8a1.75 1.75 0 1 0 3.5 0a1.75 1.75 0 1 0 -3.5 0M214.4 332.4a1.75 1.75 0 1 0 3.5 0a1.75 1.75 0 1 0 -3.5 0M206.5 327.2a1.75 1.75 0 1 0 3.5 0a1.75 1.75 0 1 0 -3.5 0M275.5 330.7a1.75 1.75 0 1 0 3.5 0a1.75 1.75 0 1 0 -3.5 0M241.3 360.7a1.75 1.75 0 1 0 3.5 0a1.75 1.75 0 1 0 -3.5 0M261.2 367.3a1.75 1.75 0 1 0 3.5 0a1.75 1.75 0 1 0 -3.5 0M239.6 301.2a1.75 1.75 0 1 0 3.5 0a1.75 1.75 0 1 0 -3.5 0M210.3 415.9a1.75 1.75 0 1 0 3.5 0a1.75 1.75 0 1 0 -3.5 0M239.6 344.3a1.75 1.75 0 1 0 3.5 0a1.75 1.75 0 1 0 -3.5 0M211.3 309.9a1.75 1.75 0 1 0 3.5 0a1.75 1.75 0 1 0 -3.5 0M230.6 383.0a1.75 1.75 0 1 0 3.5 0a1.75 1.75 0 1 0 -3.5 0M203.9 422.2a1.75 1.75 0 1 0 3.5 0a1.75 1.75 0 1 0 -3.5 0M257.9 298.4a1.75 1.75 0 1 0 3.5 0a1.75 1.75 0 1 0 -3.5 0M175.5 402.9a1.75 1.75 0 1 0 3.5 0a1.75 1.75 0 1 0 -3.5 0M231.4 348.4a1.75 1.75 0 1 0 3.5 0a1.75 1.75 0 1 0 -3.5 0M210.7 390.7a1.75 1.75 0 1 0 3.5 0a1.75 1.75 0 1 0 -3.5 0M215.5 377.9a1.75 1.75 0 1 0 3.5 0a1.75 1.75 0 1 0 -3.5 0M254.3 308.2a1.75 1.75 0 1 0 3.5 0a1.75 1.75 0 1 0 -3.5 0M225.5 316.8a1.75 1.75 0 1 0 3.5 0a1.75 1.75 0 1 0 -3.5 0M193.8 325.4a1.75 1.75 0 1 0 3.5 0a1.75 1.75 0 1 0 -3.5 0M301.9 310.9a1.75 1.75 0 1 0 3.5 0a1.75 1.75 0 1 0 -3.5 0M307.7 303.8a1.75 1.75 0 1 0 3.5 0a1.75 1.75 0 1 0 -3.5 0M283.1 313.6a1.75 1.75 0 1 0 3.5 0a1.75 1.75 0 1 0 -3.5 0M287.2 310.7a1.75 1.75 0 1 0 3.5 0a1.75 1.75 0 1 0 -3.5 0M287.9 318.6a1.75 1.75 0 1 0 3.5 0a1.75 1.75 0 1 0 -3.5 0M281.4 313.1a1.75 1.75 0 1 0 3.5 0a1.75 1.75 0 1 0 -3.5 0M300.3 303.5a1.75 1.75 0 1 0 3.5 0a1.75 1.75 0 1 0 -3.5 0M299.1 320.0a1.75 1.75 0 1 0 3.5 0a1.75 1.75 0 1 0 -3.5 0M308.1 306.5a1.75 1.75 0 1 0 3.5 0a1.75 1.75 0 1 0 -3.5 0M304.5 306.5a1.75 1.75 0 1 0 3.5 0a1.75 1.75 0 1 0 -3.5 0M302.7 311.4a1.75 1.75 0 1 0 3.5 0a1.75 1.75 0 1 0 -3.5 0M289.3 310.3a1.75 1.75 0 1 0 3.5 0a1.75 1.75 0 1 0 -3.5 0M279.5 316.9a1.75 1.75 0 1 0 3.5 0a1.75 1.75 0 1 0 -3.5 0M279.6 314.8a1.75 1.75 0 1 0 3.5 0a1.75 1.75 0 1 0 -3.5 0M282.8 306.8a1.75 1.75 0 1 0 3.5 0a1.75 1.75 0 1 0 -3.5 0M282.1 309.7a1.75 1.75 0 1 0 3.5 0a1.75 1.75 0 1 0 -3.5 0M294.4 317.3a1.75 1.75 0 1 0 3.5 0a1.75 1.75 0 1 0 -3.5 0M297.2 310.4a1.75 1.75 0 1 0 3.5 0a1.75 1.75 0 1 0 -3.5 0M286.1 314.1a1.75 1.75 0 1 0 3.5 0a1.75 1.75 0 1 0 -3.5 0M305.4 317.2a1.75 1.75 0 1 0 3.5 0a1.75 1.75 0 1 0 -3.5 0M287.3 303.1a1.75 1.75 0 1 0 3.5 0a1.75 1.75 0 1 0 -3.5 0M305.5 317.8a1.75 1.75 0 1 0 3.5 0a1.75 1.75 0 1 0 -3.5 0M293.4 314.8a1.75 1.75 0 1 0 3.5 0a1.75 1.75 0 1 0 -3.5 0M301.0 310.2a1.75 1.75 0 1 0 3.5 0a1.75 1.75 0 1 0 -3.5 0M292.4 316.5a1.75 1.75 0 1 0 3.5 0a1.75 1.75 0 1 0 -3.5 0M308.3 306.2a1.75 1.75 0 1 0 3.5 0a1.75 1.75 0 1 0 -3.5 0M294.4 303.5a1.75 1.75 0 1 0 3.5 0a1.75 1.75 0 1 0 -3.5 0M291.1 307.0a1.75 1.75 0 1 0 3.5 0a1.75 1.75 0 1 0 -3.5 0M286.4 303.4a1.75 1.75 0 1 0 3.5 0a1.75 1.75 0 1 0 -3.5 0M283.6 309.5a1.75 1.75 0 1 0 3.5 0a1.75 1.75 0 1 0 -3.5 0M290.6 312.5a1.75 1.75 0 1 0 3.5 0a1.75 1.75 0 1 0 -3.5 0M292.0 318.7a1.75 1.75 0 1 0 3.5 0a1.75 1.75 0 1 0 -3.5 0M308.2 303.3a1.75 1.75 0 1 0 3.5 0a1.75 1.75 0 1 0 -3.5 0M290.5 300.6a1.75 1.75 0 1 0 3.5 0a1.75 1.75 0 1 0 -3.5 0M298.0 302.6a1.75 1.75 0 1 0 3.5 0a1.75 1.75 0 1 0 -3.5 0M286.1 308.7a1.75 1.75 0 1 0 3.5 0a1.75 1.75 0 1 0 -3.5 0M302.1 300.3a1.75 1.75 0 1 0 3.5 0a1.75 1.75 0 1 0 -3.5 0M308.2 306.8a1.75 1.75 0 1 0 3.5 0a1.75 1.75 0 1 0 -3.5 0M302.3 313.9a1.75 1.75 0 1 0 3.5 0a1.75 1.75 0 1 0 -3.5 0M282.4 304.3a1.75 1.75 0 1 0 3.5 0a1.75 1.75 0 1 0 -3.5 0M304.1 311.1a1.75 1.75 0 1 0 3.5 0a1.75 1.75 0 1 0 -3.5 0M282.2 310.3a1.75 1.75 0 1 0 3.5 0a1.75 1.75 0 1 0 -3.5 0M299.5 316.8a1.75 1.75 0 1 0 3.5 0a1.75 1.75 0 1 0 -3.5 0M293.9 301.6a1.75 1.75 0 1 0 3.5 0a1.75 1.75 0 1 0 -3.5 0M298.2 316.8a1.75 1.75 0 1 0 3.5 0a1.75 1.75 0 1 0 -3.5 0M296.4 319.4a1.75 1.75 0 1 0 3.5 0a1.75 1.75 0 1 0 -3.5 0M290.5 305.0a1.75 1.75 0 1 0 3.5 0a1.75 1.75 0 1 0 -3.5 0M294.6 318.8a1.75 1.75 0 1 0 3.5 0a1.75 1.75 0 1 0 -3.5 0M294.7 307.8a1.75 1.75 0 1 0 3.5 0a1.75 1.75 0 1 0 -3.5 0M307.0 300.2a1.75 1.75 0 1 0 3.5 0a1.75 1.75 0 1 0 -3.5 0M301.6 314.6a1.75 1.75 0 1 0 3.5 0a1.75 1.75 0 1 0 -3.5 0M287.4 318.1a1.75 1.75 0 1 0 3.5 0a1.75 1.75 0 1 0 -3.5 0M291.6 312.7a1.75 1.75 0 1 0 3.5 0a1.75 1.75 0 1 0 -3.5 0M288.3 322.7a1.75 1.75 0 1 0 3.5 0a1.75 1.75 0 1 0 -3.5 0M295.6 317.6a1.75 1.75 0 1 0 3.5 0a1.75 1.75 0 1 0 -3.5 0M282.8 301.6a1.75 1.75 0 1 0 3.5 0a1.75 1.75 0 1 0 -3.5 0M290.4 319.5a1.75 1.75 0 1 0 3.5 0a1.75 1.75 0 1 0 -3.5 0M302.1 302.2a1.75 1.75 0 1 0 3.5 0a1.75 1.75 0 1 0 -3.5 0M279.8 314.0a1.75 1.75 0 1 0 3.5 0a1.75 1.75 0 1 0 -3.5 0M300.3 308.7a1.75 1.75 0 1 0 3.5 0a1.75 1.75 0 1 0 -3.5 0M286.5 317.6a1.75 1.75 0 1 0 3.5 0a1.75 1.75 0 1 0 -3.5 0M295.5 316.6a1.75 1.75 0 1 0 3.5 0a1.75 1.75 0 1 0 -3.5 0M297.6 303.9a1.75 1.75 0 1 0 3.5 0a1.75 1.75 0 1 0 -3.5 0M290.7 319.2a1.75 1.75 0 1 0 3.5 0a1.75 1.75 0 1 0 -3.5 0M296.1 303.2a1.75 1.75 0 1 0 3.5 0a1.75 1.75 0 1 0 -3.5 0M285.3 324.6a1.75 1.75 0 1 0 3.5 0a1.75 1.75 0 1 0 -3.5 0M267.5 335.8a1.75 1.75 0 1 0 3.5 0a1.75 1.75 0 1 0 -3.5 0M265.6 332.7a1.75 1.75 0 1 0 3.5 0a1.75 1.75 0 1 0 -3.5 0M267.9 330.1a1.75 1.75 0 1 0 3.5 0a1.75 1.75 0 1 0 -3.5 0M266.6 327.0a1.75 1.75 0 1 0 3.5 0a1.75 1.75 0 1 0 -3.5 0M285.7 332.4a1.75 1.75 0 1 0 3.5 0a1.75 1.75 0 1 0 -3.5 0M275.7 330.7a1.75 1.75 0 1 0 3.5 0a1.75 1.75 0 1 0 -3.5 0M277.2 323.7a1.75 1.75 0 1 0 3.5 0a1.75 1.75 0 1 0 -3.5 0M277.2 327.2a1.75 1.75 0 1 0 3.5 0a1.75 1.75 0 1 0 -3.5 0M280.6 326.3a1.75 1.75 0 1 0 3.5 0a1.75 1.75 0 1 0 -3.5 0M275.9 327.5a1.75 1.75 0 1 0 3.5 0a1.75 1.75 0 1 0 -3.5 0M281.2 327.0a1.75 1.75 0 1 0 3.5 0a1.75 1.75 0 1 0 -3.5 0M277.7 330.5a1.75 1.75 0 1 0 3.5 0a1.75 1.75 0 1 0 -3.5 0M273.1 335.1a1.75 1.75 0 1 0 3.5 0a1.75 1.75 0 1 0 -3.5 0M275.9 326.4a1.75 1.75 0 1 0 3.5 0a1.75 1.75 0 1 0 -3.5 0M273.4 332.6a1.75 1.75 0 1 0 3.5 0a1.75 1.75 0 1 0 -3.5 0M268.2 332.1a1.75 1.75 0 1 0 3.5 0a1.75 1.75 0 1 0 -3.5 0M279.3 335.7a1.75 1.75 0 1 0 3.5 0a1.75 1.75 0 1 0 -3.5 0M276.9 324.7a1.75 1.75 0 1 0 3.5 0a1.75 1.75 0 1 0 -3.5 0M285.3 332.4a1.75 1.75 0 1 0 3.5 0a1.75 1.75 0 1 0 -3.5 0M278.4 330.9a1.75 1.75 0 1 0 3.5 0a1.75 1.75 0 1 0 -3.5 0M277.7 325.2a1.75 1.75 0 1 0 3.5 0a1.75 1.75 0 1 0 -3.5 0M272.0 329.6a1.75 1.75 0 1 0 3.5 0a1.75 1.75 0 1 0 -3.5 0M281.7 333.8a1.75 1.75 0 1 0 3.5 0a1.75 1.75 0 1 0 -3.5 0M275.2 328.5a1.75 1.75 0 1 0 3.5 0a1.75 1.75 0 1 0 -3.5 0M273.1 332.8a1.75 1.75 0 1 0 3.5 0a1.75 1.75 0 1 0 -3.5 0M271.7 334.7a1.75 1.75 0 1 0 3.5 0a1.75 1.75 0 1 0 -3.5 0M288.4 326.7a1.75 1.75 0 1 0 3.5 0a1.75 1.75 0 1 0 -3.5 0M277.6 331.9a1.75 1.75 0 1 0 3.5 0a1.75 1.75 0 1 0 -3.5 0M265.8 334.1a1.75 1.75 0 1 0 3.5 0a1.75 1.75 0 1 0 -3.5 0M285.7 329.5a1.75 1.75 0 1 0 3.5 0a1.75 1.75 0 1 0 -3.5 0M276.8 327.4a1.75 1.75 0 1 0 3.5 0a1.75 1.75 0 1 0 -3.5 0M277.1 325.2a1.75 1.75 0 1 0 3.5 0a1.75 1.75 0 1 0 -3.5 0M268.1 328.9a1.75 1.75 0 1 0 3.5 0a1.75 1.75 0 1 0 -3.5 0M277.9 324.7a1.75 1.75 0 1 0 3.5 0a1.75 1.75 0 1 0 -3.5 0M281.3 324.7a1.75 1.75 0 1 0 3.5 0a1.75 1.75 0 1 0 -3.5 0M279.9 323.5a1.75 1.75 0 1 0 3.5 0a1.75 1.75 0 1 0 -3.5 0M286.7 323.0a1.75 1.75 0 1 0 3.5 0a1.75 1.75 0 1 0 -3.5 0M279.4 330.9a1.75 1.75 0 1 0 3.5 0a1.75 1.75 0 1 0 -3.5 0M243.3 348.0a1.75 1.75 0 1 0 3.5 0a1.75 1.75 0 1 0 -3.5 0M246.0 340.6a1.75 1.75 0 1 0 3.5 0a1.75 1.75 0 1 0 -3.5 0M258.5 350.3a1.75 1.75 0 1 0 3.5 0a1.75 1.75 0 1 0 -3.5 0M256.3 344.3a1.75 1.75 0 1 0 3.5 0a1.75 1.75 0 1 0 -3.5 0M245.5 341.2a1.75 1.75 0 1 0 3.5 0a1.75 1.75 0 1 0 -3.5 0M251.8 346.1a1.75 1.75 0 1 0 3.5 0a1.75 1.75 0 1 0 -3.5 0M261.0 355.1a1.75 1.75 0 1 0 3.5 0a1.75 1.75 0 1 0 -3.5 0M243.4 342.7a1.75 1.75 0 1 0 3.5 0a1.75 1.75 0 1 0 -3.5 0M246.9 339.6a1.75 1.75 0 1 0 3.5 0a1.75 1.75 0 1 0 -3.5 0M257.4 348.4a1.75 1.75 0 1 0 3.5 0a1.75 1.75 0 1 0 -3.5 0M245.0 349.1a1.75 1.75 0 1 0 3.5 0a1.75 1.75 0 1 0 -3.5 0M251.2 344.0a1.75 1.75 0 1 0 3.5 0a1.75 1.75 0 1 0 -3.5 0M261.7 352.8a1.75 1.75 0 1 0 3.5 0a1.75 1.75 0 1 0 -3.5 0M245.0 355.8a1.75 1.75 0 1 0 3.5 0a1.75 1.75 0 1 0 -3.5 0M261.1 344.2a1.75 1.75 0 1 0 3.5 0a1.75 1.75 0 1 0 -3.5 0M262.0 341.8a1.75 1.75 0 1 0 3.5 0a1.75 1.75 0 1 0 -3.5 0M260.8 348.0a1.75 1.75 0 1 0 3.5 0a1.75 1.75 0 1 0 -3.5 0M249.4 356.1a1.75 1.75 0 1 0 3.5 0a1.75 1.75 0 1 0 -3.5 0M245.3 351.1a1.75 1.75 0 1 0 3.5 0a1.75 1.75 0 1 0 -3.5 0M257.4 346.3a1.75 1.75 0 1 0 3.5 0a1.75 1.75 0 1 0 -3.5 0M245.0 341.3a1.75 1.75 0 1 0 3.5 0a1.75 1.75 0 1 0 -3.5 0M251.0 340.5a1.75 1.75 0 1 0 3.5 0a1.75 1.75 0 1 0 -3.5 0M262.2 339.0a1.75 1.75 0 1 0 3.5 0a1.75 1.75 0 1 0 -3.5 0M256.4 355.8a1.75 1.75 0 1 0 3.5 0a1.75 1.75 0 1 0 -3.5 0M253.6 336.1a1.75 1.75 0 1 0 3.5 0a1.75 1.75 0 1 0 -3.5 0M246.6 338.1a1.75 1.75 0 1 0 3.5 0a1.75 1.75 0 1 0 -3.5 0M248.9 349.0a1.75 1.75 0 1 0 3.5 0a1.75 1.75 0 1 0 -3.5 0M256.7 354.9a1.75 1.75 0 1 0 3.5 0a1.75 1.75 0 1 0 -3.5 0M254.2 355.6a1.75 1.75 0 1 0 3.5 0a1.75 1.75 0 1 0 -3.5 0M260.6 345.8a1.75 1.75 0 1 0 3.5 0a1.75 1.75 0 1 0 -3.5 0M259.2 349.0a1.75 1.75 0 1 0 3.5 0a1.75 1.75 0 1 0 -3.5 0M253.9 349.0a1.75 1.75 0 1 0 3.5 0a1.75 1.75 0 1 0 -3.5 0M251.0 347.2a1.75 1.75 0 1 0 3.5 0a1.75 1.75 0 1 0 -3.5 0M245.6 348.1a1.75 1.75 0 1 0 3.5 0a1.75 1.75 0 1 0 -3.5 0M261.5 343.1a1.75 1.75 0 1 0 3.5 0a1.75 1.75 0 1 0 -3.5 0M256.7 352.6a1.75 1.75 0 1 0 3.5 0a1.75 1.75 0 1 0 -3.5 0M249.2 352.4a1.75 1.75 0 1 0 3.5 0a1.75 1.75 0 1 0 -3.5 0M263.0 354.1a1.75 1.75 0 1 0 3.5 0a1.75 1.75 0 1 0 -3.5 0M251.1 355.6a1.75 1.75 0 1 0 3.5 0a1.75 1.75 0 1 0 -3.5 0M261.7 347.2a1.75 1.75 0 1 0 3.5 0a1.75 1.75 0 1 0 -3.5 0M253.1 352.4a1.75 1.75 0 1 0 3.5 0a1.75 1.75 0 1 0 -3.5 0M260.8 341.2a1.75 1.75 0 1 0 3.5 0a1.75 1.75 0 1 0 -3.5 0M246.8 336.5a1.75 1.75 0 1 0 3.5 0a1.75 1.75 0 1 0 -3.5 0M246.3 345.5a1.75 1.75 0 1 0 3.5 0a1.75 1.75 0 1 0 -3.5 0M248.3 352.9a1.75 1.75 0 1 0 3.5 0a1.75 1.75 0 1 0 -3.5 0M263.5 352.1a1.75 1.75 0 1 0 3.5 0a1.75 1.75 0 1 0 -3.5 0M257.1 349.5a1.75 1.75 0 1 0 3.5 0a1.75 1.75 0 1 0 -3.5 0M255.0 340.0a1.75 1.75 0 1 0 3.5 0a1.75 1.75 0 1 0 -3.5 0M247.8 336.5a1.75 1.75 0 1 0 3.5 0a1.75 1.75 0 1 0 -3.5 0M253.2 342.4a1.75 1.75 0 1 0 3.5 0a1.75 1.75 0 1 0 -3.5 0M248.1 351.1a1.75 1.75 0 1 0 3.5 0a1.75 1.75 0 1 0 -3.5 0M258.2 343.8a1.75 1.75 0 1 0 3.5 0a1.75 1.75 0 1 0 -3.5 0M247.9 351.7a1.75 1.75 0 1 0 3.5 0a1.75 1.75 0 1 0 -3.5 0M247.2 340.7a1.75 1.75 0 1 0 3.5 0a1.75 1.75 0 1 0 -3.5 0M264.0 353.4a1.75 1.75 0 1 0 3.5 0a1.75 1.75 0 1 0 -3.5 0M248.1 352.8a1.75 1.75 0 1 0 3.5 0a1.75 1.75 0 1 0 -3.5 0M257.2 340.6a1.75 1.75 0 1 0 3.5 0a1.75 1.75 0 1 0 -3.5 0M263.7 352.6a1.75 1.75 0 1 0 3.5 0a1.75 1.75 0 1 0 -3.5 0M249.4 346.6a1.75 1.75 0 1 0 3.5 0a1.75 1.75 0 1 0 -3.5 0M259.7 356.2a1.75 1.75 0 1 0 3.5 0a1.75 1.75 0 1 0 -3.5 0M262.7 345.6a1.75 1.75 0 1 0 3.5 0a1.75 1.75 0 1 0 -3.5 0M248.0 355.6a1.75 1.75 0 1 0 3.5 0a1.75 1.75 0 1 0 -3.5 0M245.6 355.9a1.75 1.75 0 1 0 3.5 0a1.75 1.75 0 1 0 -3.5 0M245.7 356.7a1.75 1.75 0 1 0 3.5 0a1.75 1.75 0 1 0 -3.5 0M267.5 351.3a1.75 1.75 0 1 0 3.5 0a1.75 1.75 0 1 0 -3.5 0M242.7 351.4a1.75 1.75 0 1 0 3.5 0a1.75 1.75 0 1 0 -3.5 0M269.7 360.4a1.75 1.75 0 1 0 3.5 0a1.75 1.75 0 1 0 -3.5 0M251.1 359.9a1.75 1.75 0 1 0 3.5 0a1.75 1.75 0 1 0 -3.5 0M247.0 357.2a1.75 1.75 0 1 0 3.5 0a1.75 1.75 0 1 0 -3.5 0M240.3 353.4a1.75 1.75 0 1 0 3.5 0a1.75 1.75 0 1 0 -3.5 0M257.4 349.5a1.75 1.75 0 1 0 3.5 0a1.75 1.75 0 1 0 -3.5 0M255.4 355.3a1.75 1.75 0 1 0 3.5 0a1.75 1.75 0 1 0 -3.5 0M266.2 358.9a1.75 1.75 0 1 0 3.5 0a1.75 1.75 0 1 0 -3.5 0M247.0 356.8a1.75 1.75 0 1 0 3.5 0a1.75 1.75 0 1 0 -3.5 0M242.9 350.9a1.75 1.75 0 1 0 3.5 0a1.75 1.75 0 1 0 -3.5 0M261.4 354.0a1.75 1.75 0 1 0 3.5 0a1.75 1.75 0 1 0 -3.5 0M243.2 353.0a1.75 1.75 0 1 0 3.5 0a1.75 1.75 0 1 0 -3.5 0M240.7 356.6a1.75 1.75 0 1 0 3.5 0a1.75 1.75 0 1 0 -3.5 0M242.1 352.8a1.75 1.75 0 1 0 3.5 0a1.75 1.75 0 1 0 -3.5 0M262.0 355.8a1.75 1.75 0 1 0 3.5 0a1.75 1.75 0 1 0 -3.5 0M247.8 358.5a1.75 1.75 0 1 0 3.5 0a1.75 1.75 0 1 0 -3.5 0M267.1 350.8a1.75 1.75 0 1 0 3.5 0a1.75 1.75 0 1 0 -3.5 0M251.9 351.2a1.75 1.75 0 1 0 3.5 0a1.75 1.75 0 1 0 -3.5 0M251.4 350.6a1.75 1.75 0 1 0 3.5 0a1.75 1.75 0 1 0 -3.5 0M256.3 354.8a1.75 1.75 0 1 0 3.5 0a1.75 1.75 0 1 0 -3.5 0M259.5 357.9a1.75 1.75 0 1 0 3.5 0a1.75 1.75 0 1 0 -3.5 0M252.0 357.8a1.75 1.75 0 1 0 3.5 0a1.75 1.75 0 1 0 -3.5 0M263.9 352.3a1.75 1.75 0 1 0 3.5 0a1.75 1.75 0 1 0 -3.5 0M254.1 353.1a1.75 1.75 0 1 0 3.5 0a1.75 1.75 0 1 0 -3.5 0M260.9 358.3a1.75 1.75 0 1 0 3.5 0a1.75 1.75 0 1 0 -3.5 0M251.4 356.1a1.75 1.75 0 1 0 3.5 0a1.75 1.75 0 1 0 -3.5 0M240.9 358.6a1.75 1.75 0 1 0 3.5 0a1.75 1.75 0 1 0 -3.5 0M247.3 357.0a1.75 1.75 0 1 0 3.5 0a1.75 1.75 0 1 0 -3.5 0M248.7 358.9a1.75 1.75 0 1 0 3.5 0a1.75 1.75 0 1 0 -3.5 0M261.8 349.2a1.75 1.75 0 1 0 3.5 0a1.75 1.75 0 1 0 -3.5 0M240.5 349.6a1.75 1.75 0 1 0 3.5 0a1.75 1.75 0 1 0 -3.5 0M253.4 349.8a1.75 1.75 0 1 0 3.5 0a1.75 1.75 0 1 0 -3.5 0M244.6 355.5a1.75 1.75 0 1 0 3.5 0a1.75 1.75 0 1 0 -3.5 0M243.5 357.0a1.75 1.75 0 1 0 3.5 0a1.75 1.75 0 1 0 -3.5 0M262.2 359.6a1.75 1.75 0 1 0 3.5 0a1.75 1.75 0 1 0 -3.5 0M268.4 356.8a1.75 1.75 0 1 0 3.5 0a1.75 1.75 0 1 0 -3.5 0M243.7 350.3a1.75 1.75 0 1 0 3.5 0a1.75 1.75 0 1 0 -3.5 0M244.8 355.3a1.75 1.75 0 1 0 3.5 0a1.75 1.75 0 1 0 -3.5 0M268.5 349.1a1.75 1.75 0 1 0 3.5 0a1.75 1.75 0 1 0 -3.5 0M255.2 360.2a1.75 1.75 0 1 0 3.5 0a1.75 1.75 0 1 0 -3.5 0M261.8 359.7a1.75 1.75 0 1 0 3.5 0a1.75 1.75 0 1 0 -3.5 0M250.6 350.7a1.75 1.75 0 1 0 3.5 0a1.75 1.75 0 1 0 -3.5 0M240.8 349.3a1.75 1.75 0 1 0 3.5 0a1.75 1.75 0 1 0 -3.5 0M255.1 356.0a1.75 1.75 0 1 0 3.5 0a1.75 1.75 0 1 0 -3.5 0M258.3 355.0a1.75 1.75 0 1 0 3.5 0a1.75 1.75 0 1 0 -3.5 0M267.1 359.7a1.75 1.75 0 1 0 3.5 0a1.75 1.75 0 1 0 -3.5 0M263.5 353.0a1.75 1.75 0 1 0 3.5 0a1.75 1.75 0 1 0 -3.5 0M259.8 353.2a1.75 1.75 0 1 0 3.5 0a1.75 1.75 0 1 0 -3.5 0M255.4 349.0a1.75 1.75 0 1 0 3.5 0a1.75 1.75 0 1 0 -3.5 0M254.6 359.0a1.75 1.75 0 1 0 3.5 0a1.75 1.75 0 1 0 -3.5 0M228.1 381.3a1.75 1.75 0 1 0 3.5 0a1.75 1.75 0 1 0 -3.5 0M222.8 369.2a1.75 1.75 0 1 0 3.5 0a1.75 1.75 0 1 0 -3.5 0M224.6 369.4a1.75 1.75 0 1 0 3.5 0a1.75 1.75 0 1 0 -3.5 0M201.7 363.0a1.75 1.75 0 1 0 3.5 0a1.75 1.75 0 1 0 -3.5 0M231.4 385.3a1.75 1.75 0 1 0 3.5 0a1.75 1.75 0 1 0 -3.5 0M214.9 380.2a1.75 1.75 0 1 0 3.5 0a1.75 1.75 0 1 0 -3.5 0M215.0 364.3a1.75 1.75 0 1 0 3.5 0a1.75 1.75 0 1 0 -3.5 0M216.1 365.8a1.75 1.75 0 1 0 3.5 0a1.75 1.75 0 1 0 -3.5 0M225.9 366.8a1.75 1.75 0 1 0 3.5 0a1.75 1.75 0 1 0 -3.5 0M202.6 369.8a1.75 1.75 0 1 0 3.5 0a1.75 1.75 0 1 0 -3.5 0M201.0 368.9a1.75 1.75 0 1 0 3.5 0a1.75 1.75 0 1 0 -3.5 0M208.5 365.4a1.75 1.75 0 1 0 3.5 0a1.75 1.75 0 1 0 -3.5 0M201.3 352.2a1.75 1.75 0 1 0 3.5 0a1.75 1.75 0 1 0 -3.5 0M198.4 359.8a1.75 1.75 0 1 0 3.5 0a1.75 1.75 0 1 0 -3.5 0M228.7 385.9a1.75 1.75 0 1 0 3.5 0a1.75 1.75 0 1 0 -3.5 0M208.4 361.8a1.75 1.75 0 1 0 3.5 0a1.75 1.75 0 1 0 -3.5 0M206.8 368.7a1.75 1.75 0 1 0 3.5 0a1.75 1.75 0 1 0 -3.5 0M217.4 376.5a1.75 1.75 0 1 0 3.5 0a1.75 1.75 0 1 0 -3.5 0M203.2 353.3a1.75 1.75 0 1 0 3.5 0a1.75 1.75 0 1 0 -3.5 0M204.8 353.6a1.75 1.75 0 1 0 3.5 0a1.75 1.75 0 1 0 -3.5 0M229.6 371.8a1.75 1.75 0 1 0 3.5 0a1.75 1.75 0 1 0 -3.5 0M215.9 384.4a1.75 1.75 0 1 0 3.5 0a1.75 1.75 0 1 0 -3.5 0M216.9 384.1a1.75 1.75 0 1 0 3.5 0a1.75 1.75 0 1 0 -3.5 0M215.2 380.4a1.75 1.75 0 1 0 3.5 0a1.75 1.75 0 1 0 -3.5 0M226.4 383.1a1.75 1.75 0 1 0 3.5 0a1.75 1.75 0 1 0 -3.5 0M194.6 354.2a1.75 1.75 0 1 0 3.5 0a1.75 1.75 0 1 0 -3.5 0M206.3 362.9a1.75 1.75 0 1 0 3.5 0a1.75 1.75 0 1 0 -3.5 0M220.1 378.6a1.75 1.75 0 1 0 3.5 0a1.75 1.75 0 1 0 -3.5 0M200.6 356.4a1.75 1.75 0 1 0 3.5 0a1.75 1.75 0 1 0 -3.5 0M229.0 379.0a1.75 1.75 0 1 0 3.5 0a1.75 1.75 0 1 0 -3.5 0M220.4 360.5a1.75 1.75 0 1 0 3.5 0a1.75 1.75 0 1 0 -3.5 0M229.5 373.7a1.75 1.75 0 1 0 3.5 0a1.75 1.75 0 1 0 -3.5 0M221.8 376.5a1.75 1.75 0 1 0 3.5 0a1.75 1.75 0 1 0 -3.5 0M231.1 382.3a1.75 1.75 0 1 0 3.5 0a1.75 1.75 0 1 0 -3.5 0M196.8 355.1a1.75 1.75 0 1 0 3.5 0a1.75 1.75 0 1 0 -3.5 0M224.5 379.6a1.75 1.75 0 1 0 3.5 0a1.75 1.75 0 1 0 -3.5 0M216.6 384.5a1.75 1.75 0 1 0 3.5 0a1.75 1.75 0 1 0 -3.5 0M218.2 380.4a1.75 1.75 0 1 0 3.5 0a1.75 1.75 0 1 0 -3.5 0M213.6 377.5a1.75 1.75 0 1 0 3.5 0a1.75 1.75 0 1 0 -3.5 0M204.9 351.7a1.75 1.75 0 1 0 3.5 0a1.75 1.75 0 1 0 -3.5 0M226.8 369.3a1.75 1.75 0 1 0 3.5 0a1.75 1.75 0 1 0 -3.5 0M200.8 369.3a1.75 1.75 0 1 0 3.5 0a1.75 1.75 0 1 0 -3.5 0M219.9 372.0a1.75 1.75 0 1 0 3.5 0a1.75 1.75 0 1 0 -3.5 0M212.4 359.0a1.75 1.75 0 1 0 3.5 0a1.75 1.75 0 1 0 -3.5 0M209.6 381.6a1.75 1.75 0 1 0 3.5 0a1.75 1.75 0 1 0 -3.5 0M205.4 375.3a1.75 1.75 0 1 0 3.5 0a1.75 1.75 0 1 0 -3.5 0M214.3 365.0a1.75 1.75 0 1 0 3.5 0a1.75 1.75 0 1 0 -3.5 0M225.0 363.0a1.75 1.75 0 1 0 3.5 0a1.75 1.75 0 1 0 -3.5 0M210.8 366.9a1.75 1.75 0 1 0 3.5 0a1.75 1.75 0 1 0 -3.5 0M225.2 372.3a1.75 1.75 0 1 0 3.5 0a1.75 1.75 0 1 0 -3.5 0M220.1 374.9a1.75 1.75 0 1 0 3.5 0a1.75 1.75 0 1 0 -3.5 0M216.2 371.7a1.75 1.75 0 1 0 3.5 0a1.75 1.75 0 1 0 -3.5 0M205.0 353.4a1.75 1.75 0 1 0 3.5 0a1.75 1.75 0 1 0 -3.5 0M201.8 362.4a1.75 1.75 0 1 0 3.5 0a1.75 1.75 0 1 0 -3.5 0M212.6 374.5a1.75 1.75 0 1 0 3.5 0a1.75 1.75 0 1 0 -3.5 0M212.6 368.4a1.75 1.75 0 1 0 3.5 0a1.75 1.75 0 1 0 -3.5 0M220.0 371.5a1.75 1.75 0 1 0 3.5 0a1.75 1.75 0 1 0 -3.5 0M230.2 376.2a1.75 1.75 0 1 0 3.5 0a1.75 1.75 0 1 0 -3.5 0M206.2 374.1a1.75 1.75 0 1 0 3.5 0a1.75 1.75 0 1 0 -3.5 0M223.8 374.7a1.75 1.75 0 1 0 3.5 0a1.75 1.75 0 1 0 -3.5 0M214.5 357.1a1.75 1.75 0 1 0 3.5 0a1.75 1.75 0 1 0 -3.5 0M214.3 367.7a1.75 1.75 0 1 0 3.5 0a1.75 1.75 0 1 0 -3.5 0M193.4 350.7a1.75 1.75 0 1 0 3.5 0a1.75 1.75 0 1 0 -3.5 0M213.2 369.7a1.75 1.75 0 1 0 3.5 0a1.75 1.75 0 1 0 -3.5 0M224.5 379.4a1.75 1.75 0 1 0 3.5 0a1.75 1.75 0 1 0 -3.5 0M216.5 369.3a1.75 1.75 0 1 0 3.5 0a1.75 1.75 0 1 0 -3.5 0M219.3 360.5a1.75 1.75 0 1 0 3.5 0a1.75 1.75 0 1 0 -3.5 0M204.0 364.2a1.75 1.75 0 1 0 3.5 0a1.75 1.75 0 1 0 -3.5 0M219.5 370.7a1.75 1.75 0 1 0 3.5 0a1.75 1.75 0 1 0 -3.5 0M225.0 381.4a1.75 1.75 0 1 0 3.5 0a1.75 1.75 0 1 0 -3.5 0M221.5 360.6a1.75 1.75 0 1 0 3.5 0a1.75 1.75 0 1 0 -3.5 0M230.3 372.3a1.75 1.75 0 1 0 3.5 0a1.75 1.75 0 1 0 -3.5 0M226.5 391.2a1.75 1.75 0 1 0 3.5 0a1.75 1.75 0 1 0 -3.5 0M225.7 386.6a1.75 1.75 0 1 0 3.5 0a1.75 1.75 0 1 0 -3.5 0M230.1 378.9a1.75 1.75 0 1 0 3.5 0a1.75 1.75 0 1 0 -3.5 0M233.4 371.5a1.75 1.75 0 1 0 3.5 0a1.75 1.75 0 1 0 -3.5 0M221.6 391.8a1.75 1.75 0 1 0 3.5 0a1.75 1.75 0 1 0 -3.5 0M241.2 381.0a1.75 1.75 0 1 0 3.5 0a1.75 1.75 0 1 0 -3.5 0M219.6 371.7a1.75 1.75 0 1 0 3.5 0a1.75 1.75 0 1 0 -3.5 0M220.8 393.9a1.75 1.75 0 1 0 3.5 0a1.75 1.75 0 1 0 -3.5 0M238.3 372.3a1.75 1.75 0 1 0 3.5 0a1.75 1.75 0 1 0 -3.5 0M243.4 387.5a1.75 1.75 0 1 0 3.5 0a1.75 1.75 0 1 0 -3.5 0M240.3 392.8a1.75 1.75 0 1 0 3.5 0a1.75 1.75 0 1 0 -3.5 0M227.8 371.6a1.75 1.75 0 1 0 3.5 0a1.75 1.75 0 1 0 -3.5 0M220.1 392.4a1.75 1.75 0 1 0 3.5 0a1.75 1.75 0 1 0 -3.5 0M235.9 375.6a1.75 1.75 0 1 0 3.5 0a1.75 1.75 0 1 0 -3.5 0M233.7 385.9a1.75 1.75 0 1 0 3.5 0a1.75 1.75 0 1 0 -3.5 0M222.3 367.5a1.75 1.75 0 1 0 3.5 0a1.75 1.75 0 1 0 -3.5 0M231.1 386.4a1.75 1.75 0 1 0 3.5 0a1.75 1.75 0 1 0 -3.5 0M224.9 376.6a1.75 1.75 0 1 0 3.5 0a1.75 1.75 0 1 0 -3.5 0M234.9 379.1a1.75 1.75 0 1 0 3.5 0a1.75 1.75 0 1 0 -3.5 0M222.6 371.8a1.75 1.75 0 1 0 3.5 0a1.75 1.75 0 1 0 -3.5 0M221.3 368.6a1.75 1.75 0 1 0 3.5 0a1.75 1.75 0 1 0 -3.5 0M236.1 389.5a1.75 1.75 0 1 0 3.5 0a1.75 1.75 0 1 0 -3.5 0M220.6 386.0a1.75 1.75 0 1 0 3.5 0a1.75 1.75 0 1 0 -3.5 0M243.6 368.9a1.75 1.75 0 1 0 3.5 0a1.75 1.75 0 1 0 -3.5 0M247.1 371.4a1.75 1.75 0 1 0 3.5 0a1.75 1.75 0 1 0 -3.5 0M227.5 385.9a1.75 1.75 0 1 0 3.5 0a1.75 1.75 0 1 0 -3.5 0M225.2 381.8a1.75 1.75 0 1 0 3.5 0a1.75 1.75 0 1 0 -3.5 0M239.1 385.1a1.75 1.75 0 1 0 3.5 0a1.75 1.75 0 1 0 -3.5 0M245.1 373.3a1.75 1.75 0 1 0 3.5 0a1.75 1.75 0 1 0 -3.5 0M224.3 374.8a1.75 1.75 0 1 0 3.5 0a1.75 1.75 0 1 0 -3.5 0M229.9 369.3a1.75 1.75 0 1 0 3.5 0a1.75 1.75 0 1 0 -3.5 0M241.1 386.5a1.75 1.75 0 1 0 3.5 0a1.75 1.75 0 1 0 -3.5 0M224.7 370.9a1.75 1.75 0 1 0 3.5 0a1.75 1.75 0 1 0 -3.5 0M227.4 380.7a1.75 1.75 0 1 0 3.5 0a1.75 1.75 0 1 0 -3.5 0M238.6 385.9a1.75 1.75 0 1 0 3.5 0a1.75 1.75 0 1 0 -3.5 0M230.0 378.7a1.75 1.75 0 1 0 3.5 0a1.75 1.75 0 1 0 -3.5 0M239.8 391.8a1.75 1.75 0 1 0 3.5 0a1.75 1.75 0 1 0 -3.5 0M244.0 393.7a1.75 1.75 0 1 0 3.5 0a1.75 1.75 0 1 0 -3.5 0M240.0 383.7a1.75 1.75 0 1 0 3.5 0a1.75 1.75 0 1 0 -3.5 0M238.8 390.8a1.75 1.75 0 1 0 3.5 0a1.75 1.75 0 1 0 -3.5 0M242.7 374.8a1.75 1.75 0 1 0 3.5 0a1.75 1.75 0 1 0 -3.5 0M219.9 383.2a1.75 1.75 0 1 0 3.5 0a1.75 1.75 0 1 0 -3.5 0M230.9 370.3a1.75 1.75 0 1 0 3.5 0a1.75 1.75 0 1 0 -3.5 0M235.1 375.4a1.75 1.75 0 1 0 3.5 0a1.75 1.75 0 1 0 -3.5 0M241.8 366.0a1.75 1.75 0 1 0 3.5 0a1.75 1.75 0 1 0 -3.5 0M243.4 382.5a1.75 1.75 0 1 0 3.5 0a1.75 1.75 0 1 0 -3.5 0M231.2 384.1a1.75 1.75 0 1 0 3.5 0a1.75 1.75 0 1 0 -3.5 0M241.8 366.1a1.75 1.75 0 1 0 3.5 0a1.75 1.75 0 1 0 -3.5 0M246.7 368.8a1.75 1.75 0 1 0 3.5 0a1.75 1.75 0 1 0 -3.5 0M222.4 371.2a1.75 1.75 0 1 0 3.5 0a1.75 1.75 0 1 0 -3.5 0M211.4 411.7a1.75 1.75 0 1 0 3.5 0a1.75 1.75 0 1 0 -3.5 0M204.4 406.1a1.75 1.75 0 1 0 3.5 0a1.75 1.75 0 1 0 -3.5 0M204.8 397.3a1.75 1.75 0 1 0 3.5 0a1.75 1.75 0 1 0 -3.5 0M230.4 405.4a1.75 1.75 0 1 0 3.5 0a1.75 1.75 0 1 0 -3.5 0M229.0 403.1a1.75 1.75 0 1 0 3.5 0a1.75 1.75 0 1 0 -3.5 0M200.2 402.6a1.75 1.75 0 1 0 3.5 0a1.75 1.75 0 1 0 -3.5 0M208.1 405.7a1.75 1.75 0 1 0 3.5 0a1.75 1.75 0 1 0 -3.5 0M195.7 395.3a1.75 1.75 0 1 0 3.5 0a1.75 1.75 0 1 0 -3.5 0M222.3 400.6a1.75 1.75 0 1 0 3.5 0a1.75 1.75 0 1 0 -3.5 0M206.1 399.3a1.75 1.75 0 1 0 3.5 0a1.75 1.75 0 1 0 -3.5 0M202.8 395.2a1.75 1.75 0 1 0 3.5 0a1.75 1.75 0 1 0 -3.5 0M220.6 396.4a1.75 1.75 0 1 0 3.5 0a1.75 1.75 0 1 0 -3.5 0M214.5 399.0a1.75 1.75 0 1 0 3.5 0a1.75 1.75 0 1 0 -3.5 0M205.7 409.0a1.75 1.75 0 1 0 3.5 0a1.75 1.75 0 1 0 -3.5 0M218.9 405.1a1.75 1.75 0 1 0 3.5 0a1.75 1.75 0 1 0 -3.5 0M215.9 397.3a1.75 1.75 0 1 0 3.5 0a1.75 1.75 0 1 0 -3.5 0M206.5 407.0a1.75 1.75 0 1 0 3.5 0a1.75 1.75 0 1 0 -3.5 0M193.9 409.2a1.75 1.75 0 1 0 3.5 0a1.75 1.75 0 1 0 -3.5 0M210.7 400.2a1.75 1.75 0 1 0 3.5 0a1.75 1.75 0 1 0 -3.5 0M210.2 396.3a1.75 1.75 0 1 0 3.5 0a1.75 1.75 0 1 0 -3.5 0M210.3 402.1a1.75 1.75 0 1 0 3.5 0a1.75 1.75 0 1 0 -3.5 0M225.1 398.8a1.75 1.75 0 1 0 3.5 0a1.75 1.75 0 1 0 -3.5 0M195.0 404.3a1.75 1.75 0 1 0 3.5 0a1.75 1.75 0 1 0 -3.5 0M201.9 402.4a1.75 1.75 0 1 0 3.5 0a1.75 1.75 0 1 0 -3.5 0M217.0 398.2a1.75 1.75 0 1 0 3.5 0a1.75 1.75 0 1 0 -3.5 0M230.0 404.1a1.75 1.75 0 1 0 3.5 0a1.75 1.75 0 1 0 -3.5 0M236.0 410.3a1.75 1.75 0 1 0 3.5 0a1.75 1.75 0 1 0 -3.5 0M232.1 408.6a1.75 1.75 0 1 0 3.5 0a1.75 1.75 0 1 0 -3.5 0M232.1 396.2a1.75 1.75 0 1 0 3.5 0a1.75 1.75 0 1 0 -3.5 0M199.5 394.6a1.75 1.75 0 1 0 3.5 0a1.75 1.75 0 1 0 -3.5 0M215.6 409.0a1.75 1.75 0 1 0 3.5 0a1.75 1.75 0 1 0 -3.5 0M228.9 407.8a1.75 1.75 0 1 0 3.5 0a1.75 1.75 0 1 0 -3.5 0M216.2 405.2a1.75 1.75 0 1 0 3.5 0a1.75 1.75 0 1 0 -3.5 0M220.1 397.9a1.75 1.75 0 1 0 3.5 0a1.75 1.75 0 1 0 -3.5 0M229.7 409.7a1.75 1.75 0 1 0 3.5 0a1.75 1.75 0 1 0 -3.5 0M198.1 400.4a1.75 1.75 0 1 0 3.5 0a1.75 1.75 0 1 0 -3.5 0M212.1 396.3a1.75 1.75 0 1 0 3.5 0a1.75 1.75 0 1 0 -3.5 0M196.7 395.8a1.75 1.75 0 1 0 3.5 0a1.75 1.75 0 1 0 -3.5 0M212.9 408.9a1.75 1.75 0 1 0 3.5 0a1.75 1.75 0 1 0 -3.5 0M227.3 403.3a1.75 1.75 0 1 0 3.5 0a1.75 1.75 0 1 0 -3.5 0M215.8 410.0a1.75 1.75 0 1 0 3.5 0a1.75 1.75 0 1 0 -3.5 0M198.0 405.9a1.75 1.75 0 1 0 3.5 0a1.75 1.75 0 1 0 -3.5 0M200.9 408.4a1.75 1.75 0 1 0 3.5 0a1.75 1.75 0 1 0 -3.5 0M204.9 405.0a1.75 1.75 0 1 0 3.5 0a1.75 1.75 0 1 0 -3.5 0M219.6 401.7a1.75 1.75 0 1 0 3.5 0a1.75 1.75 0 1 0 -3.5 0M224.0 399.3a1.75 1.75 0 1 0 3.5 0a1.75 1.75 0 1 0 -3.5 0M233.5 411.1a1.75 1.75 0 1 0 3.5 0a1.75 1.75 0 1 0 -3.5 0M236.8 404.1a1.75 1.75 0 1 0 3.5 0a1.75 1.75 0 1 0 -3.5 0M209.3 398.6a1.75 1.75 0 1 0 3.5 0a1.75 1.75 0 1 0 -3.5 0M228.5 407.9a1.75 1.75 0 1 0 3.5 0a1.75 1.75 0 1 0 -3.5 0M208.7 406.5a1.75 1.75 0 1 0 3.5 0a1.75 1.75 0 1 0 -3.5 0M194.0 410.8a1.75 1.75 0 1 0 3.5 0a1.75 1.75 0 1 0 -3.5 0M209.2 402.4a1.75 1.75 0 1 0 3.5 0a1.75 1.75 0 1 0 -3.5 0M210.4 411.6a1.75 1.75 0 1 0 3.5 0a1.75 1.75 0 1 0 -3.5 0M234.6 407.3a1.75 1.75 0 1 0 3.5 0a1.75 1.75 0 1 0 -3.5 0M223.6 401.8a1.75 1.75 0 1 0 3.5 0a1.75 1.75 0 1 0 -3.5 0M197.4 404.2a1.75 1.75 0 1 0 3.5 0a1.75 1.75 0 1 0 -3.5 0M234.0 401.9a1.75 1.75 0 1 0 3.5 0a1.75 1.75 0 1 0 -3.5 0M198.9 405.8a1.75 1.75 0 1 0 3.5 0a1.75 1.75 0 1 0 -3.5 0M174.7 435.5a1.75 1.75 0 1 0 3.5 0a1.75 1.75 0 1 0 -3.5 0M169.0 425.5a1.75 1.75 0 1 0 3.5 0a1.75 1.75 0 1 0 -3.5 0M168.9 426.8a1.75 1.75 0 1 0 3.5 0a1.75 1.75 0 1 0 -3.5 0M177.6 412.5a1.75 1.75 0 1 0 3.5 0a1.75 1.75 0 1 0 -3.5 0M180.7 430.8a1.75 1.75 0 1 0 3.5 0a1.75 1.75 0 1 0 -3.5 0M181.1 413.7a1.75 1.75 0 1 0 3.5 0a1.75 1.75 0 1 0 -3.5 0M191.7 431.1a1.75 1.75 0 1 0 3.5 0a1.75 1.75 0 1 0 -3.5 0M178.3 425.6a1.75 1.75 0 1 0 3.5 0a1.75 1.75 0 1 0 -3.5 0M180.4 433.2a1.75 1.75 0 1 0 3.5 0a1.75 1.75 0 1 0 -3.5 0M169.3 425.3a1.75 1.75 0 1 0 3.5 0a1.75 1.75 0 1 0 -3.5 0M206.0 433.0a1.75 1.75 0 1 0 3.5 0a1.75 1.75 0 1 0 -3.5 0M181.8 425.5a1.75 1.75 0 1 0 3.5 0a1.75 1.75 0 1 0 -3.5 0M175.1 427.7a1.75 1.75 0 1 0 3.5 0a1.75 1.75 0 1 0 -3.5 0M197.2 416.1a1.75 1.75 0 1 0 3.5 0a1.75 1.75 0 1 0 -3.5 0M186.3 417.0a1.75 1.75 0 1 0 3.5 0a1.75 1.75 0 1 0 -3.5 0M202.2 428.5a1.75 1.75 0 1 0 3.5 0a1.75 1.75 0 1 0 -3.5 0M194.2 432.0a1.75 1.75 0 1 0 3.5 0a1.75 1.75 0 1 0 -3.5 0M192.5 417.8a1.75 1.75 0 1 0 3.5 0a1.75 1.75 0 1 0 -3.5 0M197.2 430.6a1.75 1.75 0 1 0 3.5 0a1.75 1.75 0 1 0 -3.5 0M172.5 425.9a1.75 1.75 0 1 0 3.5 0a1.75 1.75 0 1 0 -3.5 0M198.4 432.9a1.75 1.75 0 1 0 3.5 0a1.75 1.75 0 1 0 -3.5 0M178.1 412.4a1.75 1.75 0 1 0 3.5 0a1.75 1.75 0 1 0 -3.5 0M190.4 426.3a1.75 1.75 0 1 0 3.5 0a1.75 1.75 0 1 0 -3.5 0M181.8 431.9a1.75 1.75 0 1 0 3.5 0a1.75 1.75 0 1 0 -3.5 0M197.7 434.9a1.75 1.75 0 1 0 3.5 0a1.75 1.75 0 1 0 -3.5 0M166.8 413.8a1.75 1.75 0 1 0 3.5 0a1.75 1.75 0 1 0 -3.5 0M174.1 414.4a1.75 1.75 0 1 0 3.5 0a1.75 1.75 0 1 0 -3.5 0M174.7 419.0a1.75 1.75 0 1 0 3.5 0a1.75 1.75 0 1 0 -3.5 0M204.1 419.5a1.75 1.75 0 1 0 3.5 0a1.75 1.75 0 1 0 -3.5 0M206.1 413.1a1.75 1.75 0 1 0 3.5 0a1.75 1.75 0 1 0 -3.5 0M207.0 422.0a1.75 1.75 0 1 0 3.5 0a1.75 1.75 0 1 0 -3.5 0M186.7 426.6a1.75 1.75 0 1 0 3.5 0a1.75 1.75 0 1 0 -3.5 0M178.5 428.7a1.75 1.75 0 1 0 3.5 0a1.75 1.75 0 1 0 -3.5 0M172.0 412.7a1.75 1.75 0 1 0 3.5 0a1.75 1.75 0 1 0 -3.5 0M207.6 430.3a1.75 1.75 0 1 0 3.5 0a1.75 1.75 0 1 0 -3.5 0M186.8 422.5a1.75 1.75 0 1 0 3.5 0a1.75 1.75 0 1 0 -3.5 0M177.8 416.6a1.75 1.75 0 1 0 3.5 0a1.75 1.75 0 1 0 -3.5 0M199.7 414.1a1.75 1.75 0 1 0 3.5 0a1.75 1.75 0 1 0 -3.5 0M174.5 413.8a1.75 1.75 0 1 0 3.5 0a1.75 1.75 0 1 0 -3.5 0M171.5 418.8a1.75 1.75 0 1 0 3.5 0a1.75 1.75 0 1 0 -3.5 0M171.3 432.7a1.75 1.75 0 1 0 3.5 0a1.75 1.75 0 1 0 -3.5 0M209.9 416.5a1.75 1.75 0 1 0 3.5 0a1.75 1.75 0 1 0 -3.5 0M198.1 424.3a1.75 1.75 0 1 0 3.5 0a1.75 1.75 0 1 0 -3.5 0M183.1 418.8a1.75 1.75 0 1 0 3.5 0a1.75 1.75 0 1 0 -3.5 0M186.9 428.9a1.75 1.75 0 1 0 3.5 0a1.75 1.75 0 1 0 -3.5 0M192.7 423.3a1.75 1.75 0 1 0 3.5 0a1.75 1.75 0 1 0 -3.5 0M186.9 425.1a1.75 1.75 0 1 0 3.5 0a1.75 1.75 0 1 0 -3.5 0M171.3 428.2a1.75 1.75 0 1 0 3.5 0a1.75 1.75 0 1 0 -3.5 0M186.3 416.3a1.75 1.75 0 1 0 3.5 0a1.75 1.75 0 1 0 -3.5 0M176.2 425.9a1.75 1.75 0 1 0 3.5 0a1.75 1.75 0 1 0 -3.5 0M194.2 435.7a1.75 1.75 0 1 0 3.5 0a1.75 1.75 0 1 0 -3.5 0M180.8 419.4a1.75 1.75 0 1 0 3.5 0a1.75 1.75 0 1 0 -3.5 0M202.9 422.1a1.75 1.75 0 1 0 3.5 0a1.75 1.75 0 1 0 -3.5 0M173.7 432.5a1.75 1.75 0 1 0 3.5 0a1.75 1.75 0 1 0 -3.5 0M201.2 422.8a1.75 1.75 0 1 0 3.5 0a1.75 1.75 0 1 0 -3.5 0M205.7 417.9a1.75 1.75 0 1 0 3.5 0a1.75 1.75 0 1 0 -3.5 0M167.3 421.3a1.75 1.75 0 1 0 3.5 0a1.75 1.75 0 1 0 -3.5 0M207.2 429.5a1.75 1.75 0 1 0 3.5 0a1.75 1.75 0 1 0 -3.5 0M173.6 415.2a1.75 1.75 0 1 0 3.5 0a1.75 1.75 0 1 0 -3.5 0M186.0 426.2a1.75 1.75 0 1 0 3.5 0a1.75 1.75 0 1 0 -3.5 0M202.9 429.3a1.75 1.75 0 1 0 3.5 0a1.75 1.75 0 1 0 -3.5 0M200.6 419.0a1.75 1.75 0 1 0 3.5 0a1.75 1.75 0 1 0 -3.5 0M185.8 431.2a1.75 1.75 0 1 0 3.5 0a1.75 1.75 0 1 0 -3.5 0M174.4 416.8a1.75 1.75 0 1 0 3.5 0a1.75 1.75 0 1 0 -3.5 0M199.3 434.3a1.75 1.75 0 1 0 3.5 0a1.75 1.75 0 1 0 -3.5 0M199.9 424.3a1.75 1.75 0 1 0 3.5 0a1.75 1.75 0 1 0 -3.5 0M200.8 413.8a1.75 1.75 0 1 0 3.5 0a1.75 1.75 0 1 0 -3.5 0M201.3 433.4a1.75 1.75 0 1 0 3.5 0a1.75 1.75 0 1 0 -3.5 0M177.9 412.6a1.75 1.75 0 1 0 3.5 0a1.75 1.75 0 1 0 -3.5 0M179.3 430.4a1.75 1.75 0 1 0 3.5 0a1.75 1.75 0 1 0 -3.5 0M193.7 425.5a1.75 1.75 0 1 0 3.5 0a1.75 1.75 0 1 0 -3.5 0M169.6 413.5a1.75 1.75 0 1 0 3.5 0a1.75 1.75 0 1 0 -3.5 0M202.3 427.9a1.75 1.75 0 1 0 3.5 0a1.75 1.75 0 1 0 -3.5 0M184.9 435.7a1.75 1.75 0 1 0 3.5 0a1.75 1.75 0 1 0 -3.5 0M194.5 423.1a1.75 1.75 0 1 0 3.5 0a1.75 1.75 0 1 0 -3.5 0M181.6 421.9a1.75 1.75 0 1 0 3.5 0a1.75 1.75 0 1 0 -3.5 0M169.3 427.5a1.75 1.75 0 1 0 3.5 0a1.75 1.75 0 1 0 -3.5 0M180.7 430.8a1.75 1.75 0 1 0 3.5 0a1.75 1.75 0 1 0 -3.5 0M197.3 418.8a1.75 1.75 0 1 0 3.5 0a1.75 1.75 0 1 0 -3.5 0M179.1 423.0a1.75 1.75 0 1 0 3.5 0a1.75 1.75 0 1 0 -3.5 0M175.5 426.7a1.75 1.75 0 1 0 3.5 0a1.75 1.75 0 1 0 -3.5 0M177.4 430.9a1.75 1.75 0 1 0 3.5 0a1.75 1.75 0 1 0 -3.5 0M181.2 429.6a1.75 1.75 0 1 0 3.5 0a1.75 1.75 0 1 0 -3.5 0M170.0 423.0a1.75 1.75 0 1 0 3.5 0a1.75 1.75 0 1 0 -3.5 0M167.9 422.3a1.75 1.75 0 1 0 3.5 0a1.75 1.75 0 1 0 -3.5 0M170.8 431.6a1.75 1.75 0 1 0 3.5 0a1.75 1.75 0 1 0 -3.5 0M170.1 426.9a1.75 1.75 0 1 0 3.5 0a1.75 1.75 0 1 0 -3.5 0M173.8 426.5a1.75 1.75 0 1 0 3.5 0a1.75 1.75 0 1 0 -3.5 0M171.4 432.5a1.75 1.75 0 1 0 3.5 0a1.75 1.75 0 1 0 -3.5 0M174.6 425.9a1.75 1.75 0 1 0 3.5 0a1.75 1.75 0 1 0 -3.5 0M180.1 428.0a1.75 1.75 0 1 0 3.5 0a1.75 1.75 0 1 0 -3.5 0M176.5 422.6a1.75 1.75 0 1 0 3.5 0a1.75 1.75 0 1 0 -3.5 0M182.5 432.1a1.75 1.75 0 1 0 3.5 0a1.75 1.75 0 1 0 -3.5 0M170.5 423.7a1.75 1.75 0 1 0 3.5 0a1.75 1.75 0 1 0 -3.5 0M173.0 433.8a1.75 1.75 0 1 0 3.5 0a1.75 1.75 0 1 0 -3.5 0M168.1 431.8a1.75 1.75 0 1 0 3.5 0a1.75 1.75 0 1 0 -3.5 0M169.7 423.4a1.75 1.75 0 1 0 3.5 0a1.75 1.75 0 1 0 -3.5 0M167.4 431.8a1.75 1.75 0 1 0 3.5 0a1.75 1.75 0 1 0 -3.5 0M167.0 426.3a1.75 1.75 0 1 0 3.5 0a1.75 1.75 0 1 0 -3.5 0M182.4 429.2a1.75 1.75 0 1 0 3.5 0a1.75 1.75 0 1 0 -3.5 0M183.3 427.7a1.75 1.75 0 1 0 3.5 0a1.75 1.75 0 1 0 -3.5 0M183.4 433.0a1.75 1.75 0 1 0 3.5 0a1.75 1.75 0 1 0 -3.5 0M169.0 423.0a1.75 1.75 0 1 0 3.5 0a1.75 1.75 0 1 0 -3.5 0M177.4 430.1a1.75 1.75 0 1 0 3.5 0a1.75 1.75 0 1 0 -3.5 0M174.6 428.3a1.75 1.75 0 1 0 3.5 0a1.75 1.75 0 1 0 -3.5 0M181.3 421.7a1.75 1.75 0 1 0 3.5 0a1.75 1.75 0 1 0 -3.5 0M173.1 426.0a1.75 1.75 0 1 0 3.5 0a1.75 1.75 0 1 0 -3.5 0M173.0 429.4a1.75 1.75 0 1 0 3.5 0a1.75 1.75 0 1 0 -3.5 0M182.9 421.9a1.75 1.75 0 1 0 3.5 0a1.75 1.75 0 1 0 -3.5 0M179.0 421.5a1.75 1.75 0 1 0 3.5 0a1.75 1.75 0 1 0 -3.5 0M179.0 422.4a1.75 1.75 0 1 0 3.5 0a1.75 1.75 0 1 0 -3.5 0M171.3 430.2a1.75 1.75 0 1 0 3.5 0a1.75 1.75 0 1 0 -3.5 0M166.7 432.1a1.75 1.75 0 1 0 3.5 0a1.75 1.75 0 1 0 -3.5 0M174.9 433.7a1.75 1.75 0 1 0 3.5 0a1.75 1.75 0 1 0 -3.5 0M179.8 430.2a1.75 1.75 0 1 0 3.5 0a1.75 1.75 0 1 0 -3.5 0M166.8 428.0a1.75 1.75 0 1 0 3.5 0a1.75 1.75 0 1 0 -3.5 0M175.1 433.7a1.75 1.75 0 1 0 3.5 0a1.75 1.75 0 1 0 -3.5 0M175.1 427.0a1.75 1.75 0 1 0 3.5 0a1.75 1.75 0 1 0 -3.5 0M172.8 432.3a1.75 1.75 0 1 0 3.5 0a1.75 1.75 0 1 0 -3.5 0M182.1 432.3a1.75 1.75 0 1 0 3.5 0a1.75 1.75 0 1 0 -3.5 0M173.5 431.6a1.75 1.75 0 1 0 3.5 0a1.75 1.75 0 1 0 -3.5 0M176.2 424.7a1.75 1.75 0 1 0 3.5 0a1.75 1.75 0 1 0 -3.5 0M175.0 433.9a1.75 1.75 0 1 0 3.5 0a1.75 1.75 0 1 0 -3.5 0M245.8 366.9a1.75 1.75 0 1 0 3.5 0a1.75 1.75 0 1 0 -3.5 0M264.5 388.8a1.75 1.75 0 1 0 3.5 0a1.75 1.75 0 1 0 -3.5 0M258.6 397.6a1.75 1.75 0 1 0 3.5 0a1.75 1.75 0 1 0 -3.5 0M243.8 396.8a1.75 1.75 0 1 0 3.5 0a1.75 1.75 0 1 0 -3.5 0M253.8 372.8a1.75 1.75 0 1 0 3.5 0a1.75 1.75 0 1 0 -3.5 0M249.7 419.7a1.75 1.75 0 1 0 3.5 0a1.75 1.75 0 1 0 -3.5 0M266.2 398.2a1.75 1.75 0 1 0 3.5 0a1.75 1.75 0 1 0 -3.5 0M251.3 422.8a1.75 1.75 0 1 0 3.5 0a1.75 1.75 0 1 0 -3.5 0M252.0 397.4a1.75 1.75 0 1 0 3.5 0a1.75 1.75 0 1 0 -3.5 0M251.6 422.4a1.75 1.75 0 1 0 3.5 0a1.75 1.75 0 1 0 -3.5 0M242.4 413.1a1.75 1.75 0 1 0 3.5 0a1.75 1.75 0 1 0 -3.5 0M240.6 377.8a1.75 1.75 0 1 0 3.5 0a1.75 1.75 0 1 0 -3.5 0M264.6 384.0a1.75 1.75 0 1 0 3.5 0a1.75 1.75 0 1 0 -3.5 0M254.7 414.0a1.75 1.75 0 1 0 3.5 0a1.75 1.75 0 1 0 -3.5 0M253.5 414.8a1.75 1.75 0 1 0 3.5 0a1.75 1.75 0 1 0 -3.5 0M264.6 409.3a1.75 1.75 0 1 0 3.5 0a1.75 1.75 0 1 0 -3.5 0M259.5 373.3a1.75 1.75 0 1 0 3.5 0a1.75 1.75 0 1 0 -3.5 0M253.9 367.2a1.75 1.75 0 1 0 3.5 0a1.75 1.75 0 1 0 -3.5 0M242.0 396.9a1.75 1.75 0 1 0 3.5 0a1.75 1.75 0 1 0 -3.5 0M253.6 385.4a1.75 1.75 0 1 0 3.5 0a1.75 1.75 0 1 0 -3.5 0M245.7 412.4a1.75 1.75 0 1 0 3.5 0a1.75 1.75 0 1 0 -3.5 0M244.1 417.4a1.75 1.75 0 1 0 3.5 0a1.75 1.75 0 1 0 -3.5 0M252.3 412.4a1.75 1.75 0 1 0 3.5 0a1.75 1.75 0 1 0 -3.5 0M240.4 408.7a1.75 1.75 0 1 0 3.5 0a1.75 1.75 0 1 0 -3.5 0M232.7 442.7a1.75 1.75 0 1 0 3.5 0a1.75 1.75 0 1 0 -3.5 0M206.2 440.3a1.75 1.75 0 1 0 3.5 0a1.75 1.75 0 1 0 -3.5 0M252.7 438.5a1.75 1.75 0 1 0 3.5 0a1.75 1.75 0 1 0 -3.5 0M261.1 442.0a1.75 1.75 0 1 0 3.5 0a1.75 1.75 0 1 0 -3.5 0M203.7 438.0a1.75 1.75 0 1 0 3.5 0a1.75 1.75 0 1 0 -3.5 0M262.7 440.3a1.75 1.75 0 1 0 3.5 0a1.75 1.75 0 1 0 -3.5 0M284.1 440.4a1.75 1.75 0 1 0 3.5 0a1.75 1.75 0 1 0 -3.5 0M239.0 440.2a1.75 1.75 0 1 0 3.5 0a1.75 1.75 0 1 0 -3.5 0M250.3 441.5a1.75 1.75 0 1 0 3.5 0a1.75 1.75 0 1 0 -3.5 0M236.7 438.2a1.75 1.75 0 1 0 3.5 0a1.75 1.75 0 1 0 -3.5 0M224.3 439.1a1.75 1.75 0 1 0 3.5 0a1.75 1.75 0 1 0 -3.5 0M283.4 438.0a1.75 1.75 0 1 0 3.5 0a1.75 1.75 0 1 0 -3.5 0M236.1 439.3a1.75 1.75 0 1 0 3.5 0a1.75 1.75 0 1 0 -3.5 0M277.0 439.8a1.75 1.75 0 1 0 3.5 0a1.75 1.75 0 1 0 -3.5 0M285.5 442.9a1.75 1.75 0 1 0 3.5 0a1.75 1.75 0 1 0 -3.5 0M202.6 440.7a1.75 1.75 0 1 0 3.5 0a1.75 1.75 0 1 0 -3.5 0M234.8 442.7a1.75 1.75 0 1 0 3.5 0a1.75 1.75 0 1 0 -3.5 0M275.7 440.8a1.75 1.75 0 1 0 3.5 0a1.75 1.75 0 1 0 -3.5 0M276.8 443.9a1.75 1.75 0 1 0 3.5 0a1.75 1.75 0 1 0 -3.5 0M270.8 439.7a1.75 1.75 0 1 0 3.5 0a1.75 1.75 0 1 0 -3.5 0M258.7 439.6a1.75 1.75 0 1 0 3.5 0a1.75 1.75 0 1 0 -3.5 0M148.1 440.6a1.75 1.75 0 1 0 3.5 0a1.75 1.75 0 1 0 -3.5 0M140.6 443.3a1.75 1.75 0 1 0 3.5 0a1.75 1.75 0 1 0 -3.5 0M156.4 438.2a1.75 1.75 0 1 0 3.5 0a1.75 1.75 0 1 0 -3.5 0M143.4 436.6a1.75 1.75 0 1 0 3.5 0a1.75 1.75 0 1 0 -3.5 0M167.3 440.7a1.75 1.75 0 1 0 3.5 0a1.75 1.75 0 1 0 -3.5 0M187.8 436.8a1.75 1.75 0 1 0 3.5 0a1.75 1.75 0 1 0 -3.5 0M131.9 442.6a1.75 1.75 0 1 0 3.5 0a1.75 1.75 0 1 0 -3.5 0M139.6 442.1a1.75 1.75 0 1 0 3.5 0a1.75 1.75 0 1 0 -3.5 0M161.3 442.8a1.75 1.75 0 1 0 3.5 0a1.75 1.75 0 1 0 -3.5 0M158.3 438.1a1.75 1.75 0 1 0 3.5 0a1.75 1.75 0 1 0 -3.5 0M147.2 438.1a1.75 1.75 0 1 0 3.5 0a1.75 1.75 0 1 0 -3.5 0M169.8 443.4a1.75 1.75 0 1 0 3.5 0a1.75 1.75 0 1 0 -3.5 0M123.9 442.2a1.75 1.75 0 1 0 3.5 0a1.75 1.75 0 1 0 -3.5 0M143.6 444.7a1.75 1.75 0 1 0 3.5 0a1.75 1.75 0 1 0 -3.5 0M127.9 442.3a1.75 1.75 0 1 0 3.5 0a1.75 1.75 0 1 0 -3.5 0M150.2 442.8a1.75 1.75 0 1 0 3.5 0a1.75 1.75 0 1 0 -3.5 0M140.0 437.8a1.75 1.75 0 1 0 3.5 0a1.75 1.75 0 1 0 -3.5 0M169.7 440.0a1.75 1.75 0 1 0 3.5 0a1.75 1.75 0 1 0 -3.5 0M147.1 436.7a1.75 1.75 0 1 0 3.5 0a1.75 1.75 0 1 0 -3.5 0M167.8 436.3a1.75 1.75 0 1 0 3.5 0a1.75 1.75 0 1 0 -3.5 0M168.3 441.4a1.75 1.75 0 1 0 3.5 0a1.75 1.75 0 1 0 -3.5 0M185.0 441.5a1.75 1.75 0 1 0 3.5 0a1.75 1.75 0 1 0 -3.5 0M139.9 442.8a1.75 1.75 0 1 0 3.5 0a1.75 1.75 0 1 0 -3.5 0M155.9 436.8a1.75 1.75 0 1 0 3.5 0a1.75 1.75 0 1 0 -3.5 0M164.7 435.8a1.75 1.75 0 1 0 3.5 0a1.75 1.75 0 1 0 -3.5 0M176.9 437.3a1.75 1.75 0 1 0 3.5 0a1.75 1.75 0 1 0 -3.5 0M152.9 440.2a1.75 1.75 0 1 0 3.5 0a1.75 1.75 0 1 0 -3.5 0M140.2 436.6a1.75 1.75 0 1 0 3.5 0a1.75 1.75 0 1 0 -3.5 0M176.6 435.0a1.75 1.75 0 1 0 3.5 0a1.75 1.75 0 1 0 -3.5 0M137.5 441.6a1.75 1.75 0 1 0 3.5 0a1.75 1.75 0 1 0 -3.5 0M178.2 436.7a1.75 1.75 0 1 0 3.5 0a1.75 1.75 0 1 0 -3.5 0M158.5 435.0a1.75 1.75 0 1 0 3.5 0a1.75 1.75 0 1 0 -3.5 0M155.1 439.9a1.75 1.75 0 1 0 3.5 0a1.75 1.75 0 1 0 -3.5 0M154.4 441.7a1.75 1.75 0 1 0 3.5 0a1.75 1.75 0 1 0 -3.5 0M155.2 435.5a1.75 1.75 0 1 0 3.5 0a1.75 1.75 0 1 0 -3.5 0M173.9 441.5a1.75 1.75 0 1 0 3.5 0a1.75 1.75 0 1 0 -3.5 0M179.5 435.2a1.75 1.75 0 1 0 3.5 0a1.75 1.75 0 1 0 -3.5 0M130.1 441.9a1.75 1.75 0 1 0 3.5 0a1.75 1.75 0 1 0 -3.5 0M175.3 441.7a1.75 1.75 0 1 0 3.5 0a1.75 1.75 0 1 0 -3.5 0M143.1 443.6a1.75 1.75 0 1 0 3.5 0a1.75 1.75 0 1 0 -3.5 0M153.5 438.2a1.75 1.75 0 1 0 3.5 0a1.75 1.75 0 1 0 -3.5 0M169.0 443.9a1.75 1.75 0 1 0 3.5 0a1.75 1.75 0 1 0 -3.5 0M154.2 435.1a1.75 1.75 0 1 0 3.5 0a1.75 1.75 0 1 0 -3.5 0M181.5 442.1a1.75 1.75 0 1 0 3.5 0a1.75 1.75 0 1 0 -3.5 0M123.0 441.5a1.75 1.75 0 1 0 3.5 0a1.75 1.75 0 1 0 -3.5 0M186.2 443.9a1.75 1.75 0 1 0 3.5 0a1.75 1.75 0 1 0 -3.5 0M165.9 440.9a1.75 1.75 0 1 0 3.5 0a1.75 1.75 0 1 0 -3.5 0M163.5 437.6a1.75 1.75 0 1 0 3.5 0a1.75 1.75 0 1 0 -3.5 0M158.3 439.5a1.75 1.75 0 1 0 3.5 0a1.75 1.75 0 1 0 -3.5 0M148.7 444.2a1.75 1.75 0 1 0 3.5 0a1.75 1.75 0 1 0 -3.5 0M177.9 440.4a1.75 1.75 0 1 0 3.5 0a1.75 1.75 0 1 0 -3.5 0M175.9 435.9a1.75 1.75 0 1 0 3.5 0a1.75 1.75 0 1 0 -3.5 0M128.6 444.5a1.75 1.75 0 1 0 3.5 0a1.75 1.75 0 1 0 -3.5 0M150.6 437.8a1.75 1.75 0 1 0 3.5 0a1.75 1.75 0 1 0 -3.5 0M120.5 439.4a1.75 1.75 0 1 0 3.5 0a1.75 1.75 0 1 0 -3.5 0M180.2 440.4a1.75 1.75 0 1 0 3.5 0a1.75 1.75 0 1 0 -3.5 0M139.6 436.1a1.75 1.75 0 1 0 3.5 0a1.75 1.75 0 1 0 -3.5 0M160.8 443.5a1.75 1.75 0 1 0 3.5 0a1.75 1.75 0 1 0 -3.5 0M129.5 439.2a1.75 1.75 0 1 0 3.5 0a1.75 1.75 0 1 0 -3.5 0M149.9 437.5a1.75 1.75 0 1 0 3.5 0a1.75 1.75 0 1 0 -3.5 0M195.3 440.1a1.75 1.75 0 1 0 3.5 0a1.75 1.75 0 1 0 -3.5 0M152.3 435.1a1.75 1.75 0 1 0 3.5 0a1.75 1.75 0 1 0 -3.5 0M144.7 442.3a1.75 1.75 0 1 0 3.5 0a1.75 1.75 0 1 0 -3.5 0M128.0 438.8a1.75 1.75 0 1 0 3.5 0a1.75 1.75 0 1 0 -3.5 0M146.8 444.4a1.75 1.75 0 1 0 3.5 0a1.75 1.75 0 1 0 -3.5 0M186.7 441.4a1.75 1.75 0 1 0 3.5 0a1.75 1.75 0 1 0 -3.5 0M153.6 442.1a1.75 1.75 0 1 0 3.5 0a1.75 1.75 0 1 0 -3.5 0M145.8 438.2a1.75 1.75 0 1 0 3.5 0a1.75 1.75 0 1 0 -3.5 0M160.1 439.1a1.75 1.75 0 1 0 3.5 0a1.75 1.75 0 1 0 -3.5 0M145.7 437.0a1.75 1.75 0 1 0 3.5 0a1.75 1.75 0 1 0 -3.5 0M146.1 435.0a1.75 1.75 0 1 0 3.5 0a1.75 1.75 0 1 0 -3.5 0M158.7 439.6a1.75 1.75 0 1 0 3.5 0a1.75 1.75 0 1 0 -3.5 0M152.6 443.9a1.75 1.75 0 1 0 3.5 0a1.75 1.75 0 1 0 -3.5 0M149.2 438.4a1.75 1.75 0 1 0 3.5 0a1.75 1.75 0 1 0 -3.5 0M146.8 443.2a1.75 1.75 0 1 0 3.5 0a1.75 1.75 0 1 0 -3.5 0M147.6 443.7a1.75 1.75 0 1 0 3.5 0a1.75 1.75 0 1 0 -3.5 0M143.9 441.3a1.75 1.75 0 1 0 3.5 0a1.75 1.75 0 1 0 -3.5 0M148.2 440.0a1.75 1.75 0 1 0 3.5 0a1.75 1.75 0 1 0 -3.5 0M146.9 443.1a1.75 1.75 0 1 0 3.5 0a1.75 1.75 0 1 0 -3.5 0M155.0 436.7a1.75 1.75 0 1 0 3.5 0a1.75 1.75 0 1 0 -3.5 0M154.0 436.1a1.75 1.75 0 1 0 3.5 0a1.75 1.75 0 1 0 -3.5 0M142.7 441.5a1.75 1.75 0 1 0 3.5 0a1.75 1.75 0 1 0 -3.5 0M153.5 442.1a1.75 1.75 0 1 0 3.5 0a1.75 1.75 0 1 0 -3.5 0M143.3 440.2a1.75 1.75 0 1 0 3.5 0a1.75 1.75 0 1 0 -3.5 0M157.8 435.7a1.75 1.75 0 1 0 3.5 0a1.75 1.75 0 1 0 -3.5 0M143.6 439.7a1.75 1.75 0 1 0 3.5 0a1.75 1.75 0 1 0 -3.5 0M146.9 441.9a1.75 1.75 0 1 0 3.5 0a1.75 1.75 0 1 0 -3.5 0M144.5 443.6a1.75 1.75 0 1 0 3.5 0a1.75 1.75 0 1 0 -3.5 0M149.6 441.5a1.75 1.75 0 1 0 3.5 0a1.75 1.75 0 1 0 -3.5 0M156.6 442.3a1.75 1.75 0 1 0 3.5 0a1.75 1.75 0 1 0 -3.5 0M153.5 442.3a1.75 1.75 0 1 0 3.5 0a1.75 1.75 0 1 0 -3.5 0M145.6 435.8a1.75 1.75 0 1 0 3.5 0a1.75 1.75 0 1 0 -3.5 0M160.5 437.5a1.75 1.75 0 1 0 3.5 0a1.75 1.75 0 1 0 -3.5 0M197.2 77.5a1.75 1.75 0 1 0 3.5 0a1.75 1.75 0 1 0 -3.5 0M212.6 80.7a1.75 1.75 0 1 0 3.5 0a1.75 1.75 0 1 0 -3.5 0M215.2 93.3a1.75 1.75 0 1 0 3.5 0a1.75 1.75 0 1 0 -3.5 0M219.6 96.0a1.75 1.75 0 1 0 3.5 0a1.75 1.75 0 1 0 -3.5 0M222.8 98.9a1.75 1.75 0 1 0 3.5 0a1.75 1.75 0 1 0 -3.5 0M227.4 102.0a1.75 1.75 0 1 0 3.5 0a1.75 1.75 0 1 0 -3.5 0M185.9 99.4a1.75 1.75 0 1 0 3.5 0a1.75 1.75 0 1 0 -3.5 0M191.9 118.3a1.75 1.75 0 1 0 3.5 0a1.75 1.75 0 1 0 -3.5 0M223.2 119.7a1.75 1.75 0 1 0 3.5 0a1.75 1.75 0 1 0 -3.5 0M229.9 130.7a1.75 1.75 0 1 0 3.5 0a1.75 1.75 0 1 0 -3.5 0M253.2 125.6a1.75 1.75 0 1 0 3.5 0a1.75 1.75 0 1 0 -3.5 0M262.9 131.4a1.75 1.75 0 1 0 3.5 0a1.75 1.75 0 1 0 -3.5 0M264.2 139.5a1.75 1.75 0 1 0 3.5 0a1.75 1.75 0 1 0 -3.5 0M269.4 146.8a1.75 1.75 0 1 0 3.5 0a1.75 1.75 0 1 0 -3.5 0M254.1 148.2a1.75 1.75 0 1 0 3.5 0a1.75 1.75 0 1 0 -3.5 0M258.4 146.8a1.75 1.75 0 1 0 3.5 0a1.75 1.75 0 1 0 -3.5 0M259.9 149.7a1.75 1.75 0 1 0 3.5 0a1.75 1.75 0 1 0 -3.5 0M218.9 155.6a1.75 1.75 0 1 0 3.5 0a1.75 1.75 0 1 0 -3.5 0M273.1 160.0a1.75 1.75 0 1 0 3.5 0a1.75 1.75 0 1 0 -3.5 0M213.1 81.0a1.75 1.75 0 1 0 3.5 0a1.75 1.75 0 1 0 -3.5 0M178.1 61.0a1.75 1.75 0 1 0 3.5 0a1.75 1.75 0 1 0 -3.5 0M197.2 77.8a1.75 1.75 0 1 0 3.5 0a1.75 1.75 0 1 0 -3.5 0M230.9 103.8a1.75 1.75 0 1 0 3.5 0a1.75 1.75 0 1 0 -3.5 0M202.2 283.0a1.75 1.75 0 1 0 3.5 0a1.75 1.75 0 1 0 -3.5 0M204.8 281.5a1.75 1.75 0 1 0 3.5 0a1.75 1.75 0 1 0 -3.5 0M207.2 282.5a1.75 1.75 0 1 0 3.5 0a1.75 1.75 0 1 0 -3.5 0M209.2 281.0a1.75 1.75 0 1 0 3.5 0a1.75 1.75 0 1 0 -3.5 0M211.2 283.5a1.75 1.75 0 1 0 3.5 0a1.75 1.75 0 1 0 -3.5 0M206.2 285.0a1.75 1.75 0 1 0 3.5 0a1.75 1.75 0 1 0 -3.5 0M217.1 284.4a1.75 1.75 0 1 0 3.5 0a1.75 1.75 0 1 0 -3.5 0M223.2 284.4a1.75 1.75 0 1 0 3.5 0a1.75 1.75 0 1 0 -3.5 0M191.2 293.0a1.75 1.75 0 1 0 3.5 0a1.75 1.75 0 1 0 -3.5 0M193.8 291.5a1.75 1.75 0 1 0 3.5 0a1.75 1.75 0 1 0 -3.5 0M196.2 293.5a1.75 1.75 0 1 0 3.5 0a1.75 1.75 0 1 0 -3.5 0M198.8 292.0a1.75 1.75 0 1 0 3.5 0a1.75 1.75 0 1 0 -3.5 0M195.2 295.5a1.75 1.75 0 1 0 3.5 0a1.75 1.75 0 1 0 -3.5 0M203.8 291.4a1.75 1.75 0 1 0 3.5 0a1.75 1.75 0 1 0 -3.5 0M207.7 292.2a1.75 1.75 0 1 0 3.5 0a1.75 1.75 0 1 0 -3.5 0M167.8 295.3a1.75 1.75 0 1 0 3.5 0a1.75 1.75 0 1 0 -3.5 0M169.2 297.8a1.75 1.75 0 1 0 3.5 0a1.75 1.75 0 1 0 -3.5 0M175.6 293.8a1.75 1.75 0 1 0 3.5 0a1.75 1.75 0 1 0 -3.5 0M174.2 299.3a1.75 1.75 0 1 0 3.5 0a1.75 1.75 0 1 0 -3.5 0M177.2 299.0a1.75 1.75 0 1 0 3.5 0a1.75 1.75 0 1 0 -3.5 0M181.8 294.0a1.75 1.75 0 1 0 3.5 0a1.75 1.75 0 1 0 -3.5 0M172.2 298.0a1.75 1.75 0 1 0 3.5 0a1.75 1.75 0 1 0 -3.5 0M163.2 305.0a1.75 1.75 0 1 0 3.5 0a1.75 1.75 0 1 0 -3.5 0M165.8 307.5a1.75 1.75 0 1 0 3.5 0a1.75 1.75 0 1 0 -3.5 0M168.8 305.5a1.75 1.75 0 1 0 3.5 0a1.75 1.75 0 1 0 -3.5 0M171.2 308.0a1.75 1.75 0 1 0 3.5 0a1.75 1.75 0 1 0 -3.5 0M174.2 306.0a1.75 1.75 0 1 0 3.5 0a1.75 1.75 0 1 0 -3.5 0M177.2 309.0a1.75 1.75 0 1 0 3.5 0a1.75 1.75 0 1 0 -3.5 0M179.8 306.0a1.75 1.75 0 1 0 3.5 0a1.75 1.75 0 1 0 -3.5 0M182.2 308.5a1.75 1.75 0 1 0 3.5 0a1.75 1.75 0 1 0 -3.5 0M184.8 305.5a1.75 1.75 0 1 0 3.5 0a1.75 1.75 0 1 0 -3.5 0M166.2 310.0a1.75 1.75 0 1 0 3.5 0a1.75 1.75 0 1 0 -3.5 0M170.2 317.0a1.75 1.75 0 1 0 3.5 0a1.75 1.75 0 1 0 -3.5 0M172.8 318.5a1.75 1.75 0 1 0 3.5 0a1.75 1.75 0 1 0 -3.5 0M175.2 317.0a1.75 1.75 0 1 0 3.5 0a1.75 1.75 0 1 0 -3.5 0M177.8 319.0a1.75 1.75 0 1 0 3.5 0a1.75 1.75 0 1 0 -3.5 0M180.2 317.5a1.75 1.75 0 1 0 3.5 0a1.75 1.75 0 1 0 -3.5 0M182.2 319.5a1.75 1.75 0 1 0 3.5 0a1.75 1.75 0 1 0 -3.5 0M178.8 322.0a1.75 1.75 0 1 0 3.5 0a1.75 1.75 0 1 0 -3.5 0M181.2 324.5a1.75 1.75 0 1 0 3.5 0a1.75 1.75 0 1 0 -3.5 0M183.8 323.0a1.75 1.75 0 1 0 3.5 0a1.75 1.75 0 1 0 -3.5 0M179.8 327.0a1.75 1.75 0 1 0 3.5 0a1.75 1.75 0 1 0 -3.5 0M184.2 328.0a1.75 1.75 0 1 0 3.5 0a1.75 1.75 0 1 0 -3.5 0M188.2 322.0a1.75 1.75 0 1 0 3.5 0a1.75 1.75 0 1 0 -3.5 0M191.2 324.0a1.75 1.75 0 1 0 3.5 0a1.75 1.75 0 1 0 -3.5 0M194.2 322.5a1.75 1.75 0 1 0 3.5 0a1.75 1.75 0 1 0 -3.5 0M197.2 325.0a1.75 1.75 0 1 0 3.5 0a1.75 1.75 0 1 0 -3.5 0M200.2 323.0a1.75 1.75 0 1 0 3.5 0a1.75 1.75 0 1 0 -3.5 0M196.2 339.0a1.75 1.75 0 1 0 3.5 0a1.75 1.75 0 1 0 -3.5 0M199.2 341.0a1.75 1.75 0 1 0 3.5 0a1.75 1.75 0 1 0 -3.5 0M202.2 339.5a1.75 1.75 0 1 0 3.5 0a1.75 1.75 0 1 0 -3.5 0M205.2 342.0a1.75 1.75 0 1 0 3.5 0a1.75 1.75 0 1 0 -3.5 0" fill="none" stroke="#c6c6c6" stroke-width="0.5"/></g></defs>
<use href="#cloud"/>
<use href="#cloud" transform="translate(322.4,0)"/>
<path d="M237.0 31.59H253.5M234.6 34.09H250.7M235.4 36.59H249.0M231.0 39.09H246.6M232.6 41.59H243.0M230.2 44.08H244.6M232.2 46.58H246.6M232.6 49.08H243.4M231.0 51.58H245.0M230.2 54.08H246.2M231.8 56.57H242.6M234.6 59.07H250.7M230.2 61.57H247.8M236.0 64.07H251.7M232.8 66.57H249.3M234.8 69.07H246.8M239.2 71.56H249.7M161.2 74.06H252.9M235.2 76.56H250.0M238.0 79.06H247.3M231.6 81.56H248.5M234.0 84.06H250.9M233.2 86.55H252.5M238.0 89.05H250.5M242.4 91.55H251.7M230.0 94.05H250.5M236.0 96.55H252.9M237.2 99.04H253.3M230.0 101.54H251.7M236.8 104.04H249.7M235.2 106.54H250.5M236.0 109.04H251.7M200.0 111.54H249.3M232.0 114.03H246.8M232.4 116.53H250.9M230.8 119.03H252.0M230.0 121.53H246.8M236.8 124.03H248.9M199.0 126.52H249.3M236.8 129.02H251.7M238.0 131.52H254.0M230.0 134.02H248.5M236.4 136.52H253.3M205.6 139.02H285.9M240.8 141.51H254.0M234.8 144.01H251.2M213.0 146.51H256.0M235.5 149.01H325.0M235.6 151.51H251.2M212.3 154.00H251.0M236.8 156.50H293.7M237.6 159.00H249.6M242.0 161.50H251.2M232.8 164.00H252.0M236.8 166.50H252.0M238.0 168.99H252.0M236.0 171.49H252.0M238.4 173.99H290.0M236.0 176.49H320.0M238.0 178.99H330.9M238.4 181.48H323.9M247.2 183.98H330.9M240.0 186.48H330.9M246.4 188.98H331.7M236.8 191.48H330.9M240.0 193.98H324.8M231.6 196.47H320.8M238.4 198.97H330.9M238.4 201.47H330.9M242.0 203.97H331.7M251.2 206.47H330.9M242.4 208.97H331.7M243.2 211.46H331.3M250.4 213.96H331.0M239.4 216.46H329.3M238.6 218.96H324.9M242.1 221.46H327.6M239.4 223.95H329.3M234.2 226.45H328.4M240.3 228.95H329.3M232.4 231.45H328.4M241.2 233.95H326.7M248.2 236.45H328.4M248.2 238.94H327.6M250.8 241.44H326.7M249.9 243.94H325.8M249.1 246.44H325.0M250.8 248.94H325.5M249.9 251.43H324.6M251.7 253.93H324.1M249.9 256.43H321.2M246.4 258.93H317.4M272.5 261.43H309.9M249.8 263.93H309.9M245.4 266.42H306.1M245.4 268.92H306.5M243.6 271.42H306.1M245.4 273.92H306.1M242.7 276.42H305.6M233.1 278.91H305.1M241.9 281.41H305.1M234.9 283.91H297.9M234.9 286.41H302.3M226.1 288.91H294.4M226.7 291.41H292.7M207.5 293.90H273.4M190.8 296.40H270.8M191.7 298.90H289.2M200.5 301.40H292.7M188.2 303.90H269.0M187.3 306.39H285.7M188.2 308.89H284.8M187.3 311.39H262.9M183.8 313.89H260.3M188.2 316.39H276.0M188.2 318.89H289.2M195.2 321.38H292.7M202.2 323.88H293.6M199.6 326.38H292.7M202.2 328.88H293.6M203.1 331.38H283.0M198.7 333.88H292.7M199.6 336.37H292.7M193.4 338.87H290.1M191.7 341.37H292.7M210.5 341.37H292.2M191.2 343.87H281.7M175.4 346.37H249.3M178.9 348.86H274.7M189.4 351.36H287.8M186.8 353.86H276.4M203.4 356.36H293.1M191.2 358.86H292.2M184.2 361.36H256.3M171.9 363.85H230.9M171.9 366.35H221.3M179.8 368.85H220.4M174.5 371.35H244.0M180.7 373.85H231.8M178.0 376.34H225.6M183.3 378.84H233.5M171.9 381.34H225.6M173.7 383.84H220.4M179.8 386.34H223.9M180.7 388.84H228.3M181.5 391.33H238.8M206.9 393.83H241.4M191.2 396.33H239.6M161.4 398.83H232.6M161.4 401.33H222.1M164.0 403.82H244.0M173.7 406.32H243.1M178.9 408.82H230.0M175.4 411.32H229.1M173.7 413.82H211.6M173.7 416.32H210.7M177.2 418.81H211.6M173.7 421.31H211.6M175.4 423.81H211.6M174.8 426.31H211.6M174.8 428.81H203.4M174.8 431.30H209.6M175.8 433.80H210.6" stroke="#bb0000" stroke-opacity="0.42" stroke-width="1" fill="none"/>
<path d="M389.8 29.09H499.6M416.0 31.59H532.9M398.5 34.09H536.4M402.9 36.59H537.3M405.5 39.09H540.0M414.3 41.59H535.5M403.8 44.08H533.8M398.5 46.58H532.9M398.5 49.08H534.7M398.5 51.58H532.9M395.9 54.08H533.8M393.3 56.57H532.9M395.9 59.07H532.0M400.3 61.57H530.3M389.8 64.07H528.5M392.4 66.57H531.2M391.5 69.07H529.4M390.6 71.56H527.7M389.8 74.06H521.5M395.0 76.56H530.3M423.0 79.06H527.7M403.8 81.56H532.0M411.6 84.06H542.6M404.6 86.55H555.7M388.6 89.05H532.9M393.3 91.55H536.4M405.5 94.05H534.7M400.3 96.55H535.5M402.0 99.04H539.0M398.5 101.54H534.7M435.3 104.04H539.0M401.1 106.54H534.7M423.0 109.04H540.8M408.1 111.54H539.0M398.5 114.03H540.8M407.3 116.53H537.3M395.9 119.03H540.0M394.1 121.53H542.6M413.4 124.03H547.8M409.0 126.52H535.5M416.9 129.02H554.8M473.8 131.52H571.5M398.5 134.02H541.7M407.3 136.52H546.1M490.5 139.02H573.2M517.2 141.51H574.1M476.5 144.01H574.1M483.5 146.51H574.1M505.4 149.01H587.2M473.8 151.51H575.0M518.9 154.00H575.8M507.0 156.50H570.6M512.8 159.00H575.0M481.7 161.50H579.4M499.2 164.00H575.8M511.9 166.50H578.5M448.4 168.99H570.6M491.4 171.49H571.5M507.5 173.99H577.6M497.5 176.49H604.0M525.9 178.99H646.5M530.3 181.48H627.2M561.8 183.98H652.6M532.0 186.48H647.3M535.5 188.98H653.5M525.9 191.48H648.2M528.5 193.98H647.3M523.3 196.47H648.2M547.8 198.97H652.6M540.8 201.47H650.8M569.7 203.97H652.6M568.8 206.47H651.7M558.3 208.97H649.1M561.8 211.46H650.8M561.0 213.96H649.1M561.8 216.46H651.7M561.0 218.96H647.3M564.5 221.46H650.0M561.8 223.95H651.7M556.6 226.45H650.8M562.7 228.95H651.7M554.8 231.45H650.8M563.6 233.95H649.1M570.6 236.45H650.8M570.6 238.94H650.0M573.2 241.44H649.1M572.3 243.94H648.2M571.5 246.44H647.4M573.2 248.94H647.9M572.3 251.43H647.0M574.1 253.93H646.5M572.3 256.43H643.6M568.8 258.93H639.8M594.9 261.43H632.3M572.2 263.93H632.3M567.8 266.42H628.5M567.8 268.92H628.9M566.0 271.42H628.5M567.8 273.92H628.5M565.1 276.42H628.0M555.5 278.91H627.5M564.3 281.41H627.5M557.3 283.91H620.3M557.3 286.41H624.7M548.5 288.91H616.8M549.1 291.41H615.1M529.9 293.90H595.8M513.2 296.40H593.2M514.1 298.90H611.6M522.9 301.40H615.1M510.6 303.90H591.4M509.7 306.39H608.1M510.6 308.89H607.2M509.7 311.39H585.3M506.2 313.89H582.7M510.6 316.39H598.4M510.6 318.89H611.6M517.6 321.38H615.1M524.6 323.88H616.0M522.0 326.38H615.1M524.6 328.88H616.0M525.5 331.38H605.4M521.1 333.88H615.1M522.0 336.37H615.1M515.8 338.87H612.5M514.1 341.37H615.1M532.9 341.37H614.6M513.6 343.87H604.1M497.8 346.37H571.7M501.3 348.86H597.1M511.8 351.36H610.2M509.2 353.86H598.8M525.8 356.36H615.5M513.6 358.86H614.6M506.6 361.36H578.7M494.3 363.85H553.3M494.3 366.35H543.7M502.2 368.85H542.8M496.9 371.35H566.4M503.1 373.85H554.2M500.4 376.34H548.0M505.7 378.84H555.9M494.3 381.34H548.0M496.1 383.84H542.8M502.2 386.34H546.3M503.1 388.84H550.7M503.9 391.33H561.2M529.3 393.83H563.8M513.6 396.33H562.0M483.8 398.83H555.0M483.8 401.33H544.5M486.4 403.82H566.4M496.1 406.32H565.5M501.3 408.82H552.4M497.8 411.32H551.5M496.1 413.82H534.0M496.1 416.32H533.1M499.6 418.81H534.0M496.1 421.31H534.0M497.8 423.81H534.0M497.2 426.31H534.0M497.2 428.81H525.8M497.2 431.30H532.0M498.2 433.80H533.0" stroke="#7800ff" stroke-opacity="0.37" stroke-width="1" fill="none"/>
<path d="M235.5 31.6a1.9 1.9 0 1 0 3.8 0a1.9 1.9 0 1 0 -3.8 0M236.7 34.1a1.9 1.9 0 1 0 3.8 0a1.9 1.9 0 1 0 -3.8 0M237.5 36.6a1.9 1.9 0 1 0 3.8 0a1.9 1.9 0 1 0 -3.8 0M234.7 39.1a1.9 1.9 0 1 0 3.8 0a1.9 1.9 0 1 0 -3.8 0M234.3 41.6a1.9 1.9 0 1 0 3.8 0a1.9 1.9 0 1 0 -3.8 0M234.3 44.1a1.9 1.9 0 1 0 3.8 0a1.9 1.9 0 1 0 -3.8 0M237.1 46.6a1.9 1.9 0 1 0 3.8 0a1.9 1.9 0 1 0 -3.8 0M234.3 49.1a1.9 1.9 0 1 0 3.8 0a1.9 1.9 0 1 0 -3.8 0M234.2 51.6a1.9 1.9 0 1 0 3.8 0a1.9 1.9 0 1 0 -3.8 0M234.2 54.1a1.9 1.9 0 1 0 3.8 0a1.9 1.9 0 1 0 -3.8 0M234.3 56.6a1.9 1.9 0 1 0 3.8 0a1.9 1.9 0 1 0 -3.8 0M234.3 59.1a1.9 1.9 0 1 0 3.8 0a1.9 1.9 0 1 0 -3.8 0M235.9 61.6a1.9 1.9 0 1 0 3.8 0a1.9 1.9 0 1 0 -3.8 0M237.3 64.1a1.9 1.9 0 1 0 3.8 0a1.9 1.9 0 1 0 -3.8 0M234.5 66.6a1.9 1.9 0 1 0 3.8 0a1.9 1.9 0 1 0 -3.8 0M235.5 69.1a1.9 1.9 0 1 0 3.8 0a1.9 1.9 0 1 0 -3.8 0M238.5 71.6a1.9 1.9 0 1 0 3.8 0a1.9 1.9 0 1 0 -3.8 0M234.5 74.1a1.9 1.9 0 1 0 3.8 0a1.9 1.9 0 1 0 -3.8 0M235.5 76.6a1.9 1.9 0 1 0 3.8 0a1.9 1.9 0 1 0 -3.8 0M237.3 79.1a1.9 1.9 0 1 0 3.8 0a1.9 1.9 0 1 0 -3.8 0M234.4 81.6a1.9 1.9 0 1 0 3.8 0a1.9 1.9 0 1 0 -3.8 0M237.7 84.1a1.9 1.9 0 1 0 3.8 0a1.9 1.9 0 1 0 -3.8 0M242.7 86.6a1.9 1.9 0 1 0 3.8 0a1.9 1.9 0 1 0 -3.8 0M240.3 89.1a1.9 1.9 0 1 0 3.8 0a1.9 1.9 0 1 0 -3.8 0M244.9 91.5a1.9 1.9 0 1 0 3.8 0a1.9 1.9 0 1 0 -3.8 0M237.7 94.0a1.9 1.9 0 1 0 3.8 0a1.9 1.9 0 1 0 -3.8 0M240.0 96.5a1.9 1.9 0 1 0 3.8 0a1.9 1.9 0 1 0 -3.8 0M242.5 99.0a1.9 1.9 0 1 0 3.8 0a1.9 1.9 0 1 0 -3.8 0M234.4 101.5a1.9 1.9 0 1 0 3.8 0a1.9 1.9 0 1 0 -3.8 0M241.9 104.0a1.9 1.9 0 1 0 3.8 0a1.9 1.9 0 1 0 -3.8 0M241.3 106.5a1.9 1.9 0 1 0 3.8 0a1.9 1.9 0 1 0 -3.8 0M243.7 109.0a1.9 1.9 0 1 0 3.8 0a1.9 1.9 0 1 0 -3.8 0M234.9 111.5a1.9 1.9 0 1 0 3.8 0a1.9 1.9 0 1 0 -3.8 0M234.5 114.0a1.9 1.9 0 1 0 3.8 0a1.9 1.9 0 1 0 -3.8 0M235.7 116.5a1.9 1.9 0 1 0 3.8 0a1.9 1.9 0 1 0 -3.8 0M236.5 119.0a1.9 1.9 0 1 0 3.8 0a1.9 1.9 0 1 0 -3.8 0M235.7 121.5a1.9 1.9 0 1 0 3.8 0a1.9 1.9 0 1 0 -3.8 0M238.4 124.0a1.9 1.9 0 1 0 3.8 0a1.9 1.9 0 1 0 -3.8 0M237.1 126.5a1.9 1.9 0 1 0 3.8 0a1.9 1.9 0 1 0 -3.8 0M244.5 129.0a1.9 1.9 0 1 0 3.8 0a1.9 1.9 0 1 0 -3.8 0M247.5 131.5a1.9 1.9 0 1 0 3.8 0a1.9 1.9 0 1 0 -3.8 0M238.7 134.0a1.9 1.9 0 1 0 3.8 0a1.9 1.9 0 1 0 -3.8 0M246.4 136.5a1.9 1.9 0 1 0 3.8 0a1.9 1.9 0 1 0 -3.8 0M248.2 139.0a1.9 1.9 0 1 0 3.8 0a1.9 1.9 0 1 0 -3.8 0M247.1 141.5a1.9 1.9 0 1 0 3.8 0a1.9 1.9 0 1 0 -3.8 0M242.5 144.0a1.9 1.9 0 1 0 3.8 0a1.9 1.9 0 1 0 -3.8 0M247.7 146.5a1.9 1.9 0 1 0 3.8 0a1.9 1.9 0 1 0 -3.8 0M250.4 149.0a1.9 1.9 0 1 0 3.8 0a1.9 1.9 0 1 0 -3.8 0M246.5 151.5a1.9 1.9 0 1 0 3.8 0a1.9 1.9 0 1 0 -3.8 0M246.5 154.0a1.9 1.9 0 1 0 3.8 0a1.9 1.9 0 1 0 -3.8 0M249.5 156.5a1.9 1.9 0 1 0 3.8 0a1.9 1.9 0 1 0 -3.8 0M246.1 159.0a1.9 1.9 0 1 0 3.8 0a1.9 1.9 0 1 0 -3.8 0M247.9 161.5a1.9 1.9 0 1 0 3.8 0a1.9 1.9 0 1 0 -3.8 0M245.5 164.0a1.9 1.9 0 1 0 3.8 0a1.9 1.9 0 1 0 -3.8 0M247.7 166.5a1.9 1.9 0 1 0 3.8 0a1.9 1.9 0 1 0 -3.8 0M246.1 169.0a1.9 1.9 0 1 0 3.8 0a1.9 1.9 0 1 0 -3.8 0M245.7 171.5a1.9 1.9 0 1 0 3.8 0a1.9 1.9 0 1 0 -3.8 0M247.1 174.0a1.9 1.9 0 1 0 3.8 0a1.9 1.9 0 1 0 -3.8 0M247.6 176.5a1.9 1.9 0 1 0 3.8 0a1.9 1.9 0 1 0 -3.8 0M250.5 179.0a1.9 1.9 0 1 0 3.8 0a1.9 1.9 0 1 0 -3.8 0M248.9 181.5a1.9 1.9 0 1 0 3.8 0a1.9 1.9 0 1 0 -3.8 0M252.1 184.0a1.9 1.9 0 1 0 3.8 0a1.9 1.9 0 1 0 -3.8 0M249.3 186.5a1.9 1.9 0 1 0 3.8 0a1.9 1.9 0 1 0 -3.8 0M318.0 189.0a1.9 1.9 0 1 0 3.8 0a1.9 1.9 0 1 0 -3.8 0M251.8 191.5a1.9 1.9 0 1 0 3.8 0a1.9 1.9 0 1 0 -3.8 0M249.3 194.0a1.9 1.9 0 1 0 3.8 0a1.9 1.9 0 1 0 -3.8 0M248.5 196.5a1.9 1.9 0 1 0 3.8 0a1.9 1.9 0 1 0 -3.8 0M251.6 199.0a1.9 1.9 0 1 0 3.8 0a1.9 1.9 0 1 0 -3.8 0M306.0 201.5a1.9 1.9 0 1 0 3.8 0a1.9 1.9 0 1 0 -3.8 0M317.7 204.0a1.9 1.9 0 1 0 3.8 0a1.9 1.9 0 1 0 -3.8 0M315.9 206.5a1.9 1.9 0 1 0 3.8 0a1.9 1.9 0 1 0 -3.8 0M318.0 209.0a1.9 1.9 0 1 0 3.8 0a1.9 1.9 0 1 0 -3.8 0M309.3 211.5a1.9 1.9 0 1 0 3.8 0a1.9 1.9 0 1 0 -3.8 0M313.0 214.0a1.9 1.9 0 1 0 3.8 0a1.9 1.9 0 1 0 -3.8 0M303.6 216.5a1.9 1.9 0 1 0 3.8 0a1.9 1.9 0 1 0 -3.8 0M303.7 219.0a1.9 1.9 0 1 0 3.8 0a1.9 1.9 0 1 0 -3.8 0M314.8 221.5a1.9 1.9 0 1 0 3.8 0a1.9 1.9 0 1 0 -3.8 0M305.3 224.0a1.9 1.9 0 1 0 3.8 0a1.9 1.9 0 1 0 -3.8 0M303.3 226.5a1.9 1.9 0 1 0 3.8 0a1.9 1.9 0 1 0 -3.8 0M303.3 229.0a1.9 1.9 0 1 0 3.8 0a1.9 1.9 0 1 0 -3.8 0M303.3 231.4a1.9 1.9 0 1 0 3.8 0a1.9 1.9 0 1 0 -3.8 0M303.3 233.9a1.9 1.9 0 1 0 3.8 0a1.9 1.9 0 1 0 -3.8 0M303.3 236.4a1.9 1.9 0 1 0 3.8 0a1.9 1.9 0 1 0 -3.8 0M305.3 238.9a1.9 1.9 0 1 0 3.8 0a1.9 1.9 0 1 0 -3.8 0M303.6 241.4a1.9 1.9 0 1 0 3.8 0a1.9 1.9 0 1 0 -3.8 0M303.1 243.9a1.9 1.9 0 1 0 3.8 0a1.9 1.9 0 1 0 -3.8 0M302.5 246.4a1.9 1.9 0 1 0 3.8 0a1.9 1.9 0 1 0 -3.8 0M302.5 248.9a1.9 1.9 0 1 0 3.8 0a1.9 1.9 0 1 0 -3.8 0M302.5 251.4a1.9 1.9 0 1 0 3.8 0a1.9 1.9 0 1 0 -3.8 0M301.8 253.9a1.9 1.9 0 1 0 3.8 0a1.9 1.9 0 1 0 -3.8 0M301.0 256.4a1.9 1.9 0 1 0 3.8 0a1.9 1.9 0 1 0 -3.8 0M299.0 258.9a1.9 1.9 0 1 0 3.8 0a1.9 1.9 0 1 0 -3.8 0M288.5 261.4a1.9 1.9 0 1 0 3.8 0a1.9 1.9 0 1 0 -3.8 0M280.4 263.9a1.9 1.9 0 1 0 3.8 0a1.9 1.9 0 1 0 -3.8 0M280.9 266.4a1.9 1.9 0 1 0 3.8 0a1.9 1.9 0 1 0 -3.8 0M282.1 268.9a1.9 1.9 0 1 0 3.8 0a1.9 1.9 0 1 0 -3.8 0M280.9 271.4a1.9 1.9 0 1 0 3.8 0a1.9 1.9 0 1 0 -3.8 0M285.6 273.9a1.9 1.9 0 1 0 3.8 0a1.9 1.9 0 1 0 -3.8 0M278.5 276.4a1.9 1.9 0 1 0 3.8 0a1.9 1.9 0 1 0 -3.8 0M269.8 278.9a1.9 1.9 0 1 0 3.8 0a1.9 1.9 0 1 0 -3.8 0M274.3 281.4a1.9 1.9 0 1 0 3.8 0a1.9 1.9 0 1 0 -3.8 0M274.3 283.9a1.9 1.9 0 1 0 3.8 0a1.9 1.9 0 1 0 -3.8 0M269.8 286.4a1.9 1.9 0 1 0 3.8 0a1.9 1.9 0 1 0 -3.8 0M269.8 288.9a1.9 1.9 0 1 0 3.8 0a1.9 1.9 0 1 0 -3.8 0M243.7 291.4a1.9 1.9 0 1 0 3.8 0a1.9 1.9 0 1 0 -3.8 0M236.4 293.9a1.9 1.9 0 1 0 3.8 0a1.9 1.9 0 1 0 -3.8 0M230.5 296.4a1.9 1.9 0 1 0 3.8 0a1.9 1.9 0 1 0 -3.8 0M227.2 298.9a1.9 1.9 0 1 0 3.8 0a1.9 1.9 0 1 0 -3.8 0M239.7 301.4a1.9 1.9 0 1 0 3.8 0a1.9 1.9 0 1 0 -3.8 0M218.7 303.9a1.9 1.9 0 1 0 3.8 0a1.9 1.9 0 1 0 -3.8 0M223.4 306.4a1.9 1.9 0 1 0 3.8 0a1.9 1.9 0 1 0 -3.8 0M219.9 308.9a1.9 1.9 0 1 0 3.8 0a1.9 1.9 0 1 0 -3.8 0M213.9 311.4a1.9 1.9 0 1 0 3.8 0a1.9 1.9 0 1 0 -3.8 0M201.2 313.9a1.9 1.9 0 1 0 3.8 0a1.9 1.9 0 1 0 -3.8 0M218.7 316.4a1.9 1.9 0 1 0 3.8 0a1.9 1.9 0 1 0 -3.8 0M218.7 318.9a1.9 1.9 0 1 0 3.8 0a1.9 1.9 0 1 0 -3.8 0M235.9 321.4a1.9 1.9 0 1 0 3.8 0a1.9 1.9 0 1 0 -3.8 0M240.7 323.9a1.9 1.9 0 1 0 3.8 0a1.9 1.9 0 1 0 -3.8 0M240.7 326.4a1.9 1.9 0 1 0 3.8 0a1.9 1.9 0 1 0 -3.8 0M228.4 328.9a1.9 1.9 0 1 0 3.8 0a1.9 1.9 0 1 0 -3.8 0M243.0 331.4a1.9 1.9 0 1 0 3.8 0a1.9 1.9 0 1 0 -3.8 0M227.7 333.9a1.9 1.9 0 1 0 3.8 0a1.9 1.9 0 1 0 -3.8 0M231.7 336.4a1.9 1.9 0 1 0 3.8 0a1.9 1.9 0 1 0 -3.8 0M227.7 338.9a1.9 1.9 0 1 0 3.8 0a1.9 1.9 0 1 0 -3.8 0M227.7 341.4a1.9 1.9 0 1 0 3.8 0a1.9 1.9 0 1 0 -3.8 0M215.1 343.9a1.9 1.9 0 1 0 3.8 0a1.9 1.9 0 1 0 -3.8 0M203.2 346.4a1.9 1.9 0 1 0 3.8 0a1.9 1.9 0 1 0 -3.8 0M209.6 348.9a1.9 1.9 0 1 0 3.8 0a1.9 1.9 0 1 0 -3.8 0M226.2 351.4a1.9 1.9 0 1 0 3.8 0a1.9 1.9 0 1 0 -3.8 0M212.7 353.9a1.9 1.9 0 1 0 3.8 0a1.9 1.9 0 1 0 -3.8 0M241.1 356.4a1.9 1.9 0 1 0 3.8 0a1.9 1.9 0 1 0 -3.8 0M225.0 358.9a1.9 1.9 0 1 0 3.8 0a1.9 1.9 0 1 0 -3.8 0M209.6 361.4a1.9 1.9 0 1 0 3.8 0a1.9 1.9 0 1 0 -3.8 0M189.1 363.9a1.9 1.9 0 1 0 3.8 0a1.9 1.9 0 1 0 -3.8 0M189.1 366.4a1.9 1.9 0 1 0 3.8 0a1.9 1.9 0 1 0 -3.8 0M203.2 368.8a1.9 1.9 0 1 0 3.8 0a1.9 1.9 0 1 0 -3.8 0M205.6 371.3a1.9 1.9 0 1 0 3.8 0a1.9 1.9 0 1 0 -3.8 0M202.1 373.8a1.9 1.9 0 1 0 3.8 0a1.9 1.9 0 1 0 -3.8 0M193.3 376.3a1.9 1.9 0 1 0 3.8 0a1.9 1.9 0 1 0 -3.8 0M202.8 378.8a1.9 1.9 0 1 0 3.8 0a1.9 1.9 0 1 0 -3.8 0M189.1 381.3a1.9 1.9 0 1 0 3.8 0a1.9 1.9 0 1 0 -3.8 0M199.2 383.8a1.9 1.9 0 1 0 3.8 0a1.9 1.9 0 1 0 -3.8 0M193.3 386.3a1.9 1.9 0 1 0 3.8 0a1.9 1.9 0 1 0 -3.8 0M201.4 388.8a1.9 1.9 0 1 0 3.8 0a1.9 1.9 0 1 0 -3.8 0M213.4 391.3a1.9 1.9 0 1 0 3.8 0a1.9 1.9 0 1 0 -3.8 0M218.6 393.8a1.9 1.9 0 1 0 3.8 0a1.9 1.9 0 1 0 -3.8 0M200.9 396.3a1.9 1.9 0 1 0 3.8 0a1.9 1.9 0 1 0 -3.8 0M169.0 398.8a1.9 1.9 0 1 0 3.8 0a1.9 1.9 0 1 0 -3.8 0M161.9 401.3a1.9 1.9 0 1 0 3.8 0a1.9 1.9 0 1 0 -3.8 0M205.1 403.8a1.9 1.9 0 1 0 3.8 0a1.9 1.9 0 1 0 -3.8 0M213.4 406.3a1.9 1.9 0 1 0 3.8 0a1.9 1.9 0 1 0 -3.8 0M205.6 408.8a1.9 1.9 0 1 0 3.8 0a1.9 1.9 0 1 0 -3.8 0M209.6 411.3a1.9 1.9 0 1 0 3.8 0a1.9 1.9 0 1 0 -3.8 0M200.9 413.8a1.9 1.9 0 1 0 3.8 0a1.9 1.9 0 1 0 -3.8 0M200.9 416.3a1.9 1.9 0 1 0 3.8 0a1.9 1.9 0 1 0 -3.8 0M178.4 418.8a1.9 1.9 0 1 0 3.8 0a1.9 1.9 0 1 0 -3.8 0M172.0 421.3a1.9 1.9 0 1 0 3.8 0a1.9 1.9 0 1 0 -3.8 0M201.4 423.8a1.9 1.9 0 1 0 3.8 0a1.9 1.9 0 1 0 -3.8 0M201.4 426.3a1.9 1.9 0 1 0 3.8 0a1.9 1.9 0 1 0 -3.8 0M197.3 428.8a1.9 1.9 0 1 0 3.8 0a1.9 1.9 0 1 0 -3.8 0M173.7 431.3a1.9 1.9 0 1 0 3.8 0a1.9 1.9 0 1 0 -3.8 0M173.7 433.8a1.9 1.9 0 1 0 3.8 0a1.9 1.9 0 1 0 -3.8 0M193.3 436.3a1.9 1.9 0 1 0 3.8 0a1.9 1.9 0 1 0 -3.8 0" fill="#bb0000"/>
<path d="M401.9 29.1a1.9 1.9 0 1 0 3.8 0a1.9 1.9 0 1 0 -3.8 0M466.7 34.1a1.9 1.9 0 1 0 3.8 0a1.9 1.9 0 1 0 -3.8 0M484.6 31.6a1.9 1.9 0 1 0 3.8 0a1.9 1.9 0 1 0 -3.8 0M484.6 36.6a1.9 1.9 0 1 0 3.8 0a1.9 1.9 0 1 0 -3.8 0M491.2 39.1a1.9 1.9 0 1 0 3.8 0a1.9 1.9 0 1 0 -3.8 0M495.6 41.6a1.9 1.9 0 1 0 3.8 0a1.9 1.9 0 1 0 -3.8 0M480.7 44.1a1.9 1.9 0 1 0 3.8 0a1.9 1.9 0 1 0 -3.8 0M476.7 46.6a1.9 1.9 0 1 0 3.8 0a1.9 1.9 0 1 0 -3.8 0M472.3 49.1a1.9 1.9 0 1 0 3.8 0a1.9 1.9 0 1 0 -3.8 0M475.4 51.6a1.9 1.9 0 1 0 3.8 0a1.9 1.9 0 1 0 -3.8 0M473.3 54.1a1.9 1.9 0 1 0 3.8 0a1.9 1.9 0 1 0 -3.8 0M454.4 56.6a1.9 1.9 0 1 0 3.8 0a1.9 1.9 0 1 0 -3.8 0M456.9 59.1a1.9 1.9 0 1 0 3.8 0a1.9 1.9 0 1 0 -3.8 0M469.3 61.6a1.9 1.9 0 1 0 3.8 0a1.9 1.9 0 1 0 -3.8 0M440.8 64.1a1.9 1.9 0 1 0 3.8 0a1.9 1.9 0 1 0 -3.8 0M468.4 66.6a1.9 1.9 0 1 0 3.8 0a1.9 1.9 0 1 0 -3.8 0M435.2 69.1a1.9 1.9 0 1 0 3.8 0a1.9 1.9 0 1 0 -3.8 0M449.5 71.6a1.9 1.9 0 1 0 3.8 0a1.9 1.9 0 1 0 -3.8 0M442.2 74.1a1.9 1.9 0 1 0 3.8 0a1.9 1.9 0 1 0 -3.8 0M452.3 76.6a1.9 1.9 0 1 0 3.8 0a1.9 1.9 0 1 0 -3.8 0M482.5 79.1a1.9 1.9 0 1 0 3.8 0a1.9 1.9 0 1 0 -3.8 0M464.6 81.6a1.9 1.9 0 1 0 3.8 0a1.9 1.9 0 1 0 -3.8 0M490.3 84.1a1.9 1.9 0 1 0 3.8 0a1.9 1.9 0 1 0 -3.8 0M487.7 86.6a1.9 1.9 0 1 0 3.8 0a1.9 1.9 0 1 0 -3.8 0M452.1 89.1a1.9 1.9 0 1 0 3.8 0a1.9 1.9 0 1 0 -3.8 0M451.4 91.5a1.9 1.9 0 1 0 3.8 0a1.9 1.9 0 1 0 -3.8 0M437.4 96.5a1.9 1.9 0 1 0 3.8 0a1.9 1.9 0 1 0 -3.8 0M473.7 94.0a1.9 1.9 0 1 0 3.8 0a1.9 1.9 0 1 0 -3.8 0M484.6 99.0a1.9 1.9 0 1 0 3.8 0a1.9 1.9 0 1 0 -3.8 0M478.1 101.5a1.9 1.9 0 1 0 3.8 0a1.9 1.9 0 1 0 -3.8 0M490.3 104.0a1.9 1.9 0 1 0 3.8 0a1.9 1.9 0 1 0 -3.8 0M465.8 106.5a1.9 1.9 0 1 0 3.8 0a1.9 1.9 0 1 0 -3.8 0M472.5 109.0a1.9 1.9 0 1 0 3.8 0a1.9 1.9 0 1 0 -3.8 0M480.2 111.5a1.9 1.9 0 1 0 3.8 0a1.9 1.9 0 1 0 -3.8 0M475.4 114.0a1.9 1.9 0 1 0 3.8 0a1.9 1.9 0 1 0 -3.8 0M459.3 116.5a1.9 1.9 0 1 0 3.8 0a1.9 1.9 0 1 0 -3.8 0M468.8 119.0a1.9 1.9 0 1 0 3.8 0a1.9 1.9 0 1 0 -3.8 0M471.1 121.5a1.9 1.9 0 1 0 3.8 0a1.9 1.9 0 1 0 -3.8 0M504.5 124.0a1.9 1.9 0 1 0 3.8 0a1.9 1.9 0 1 0 -3.8 0M487.7 126.5a1.9 1.9 0 1 0 3.8 0a1.9 1.9 0 1 0 -3.8 0M501.4 129.0a1.9 1.9 0 1 0 3.8 0a1.9 1.9 0 1 0 -3.8 0M546.8 131.5a1.9 1.9 0 1 0 3.8 0a1.9 1.9 0 1 0 -3.8 0M483.9 134.0a1.9 1.9 0 1 0 3.8 0a1.9 1.9 0 1 0 -3.8 0M486.0 136.5a1.9 1.9 0 1 0 3.8 0a1.9 1.9 0 1 0 -3.8 0M535.8 139.0a1.9 1.9 0 1 0 3.8 0a1.9 1.9 0 1 0 -3.8 0M560.8 141.5a1.9 1.9 0 1 0 3.8 0a1.9 1.9 0 1 0 -3.8 0M527.5 144.0a1.9 1.9 0 1 0 3.8 0a1.9 1.9 0 1 0 -3.8 0M537.7 146.5a1.9 1.9 0 1 0 3.8 0a1.9 1.9 0 1 0 -3.8 0M558.7 149.0a1.9 1.9 0 1 0 3.8 0a1.9 1.9 0 1 0 -3.8 0M534.2 151.5a1.9 1.9 0 1 0 3.8 0a1.9 1.9 0 1 0 -3.8 0M553.4 154.0a1.9 1.9 0 1 0 3.8 0a1.9 1.9 0 1 0 -3.8 0M558.7 156.5a1.9 1.9 0 1 0 3.8 0a1.9 1.9 0 1 0 -3.8 0M543.8 159.0a1.9 1.9 0 1 0 3.8 0a1.9 1.9 0 1 0 -3.8 0M560.8 161.5a1.9 1.9 0 1 0 3.8 0a1.9 1.9 0 1 0 -3.8 0M547.7 164.0a1.9 1.9 0 1 0 3.8 0a1.9 1.9 0 1 0 -3.8 0M554.7 166.5a1.9 1.9 0 1 0 3.8 0a1.9 1.9 0 1 0 -3.8 0M530.1 169.0a1.9 1.9 0 1 0 3.8 0a1.9 1.9 0 1 0 -3.8 0M537.7 171.5a1.9 1.9 0 1 0 3.8 0a1.9 1.9 0 1 0 -3.8 0M557.3 174.0a1.9 1.9 0 1 0 3.8 0a1.9 1.9 0 1 0 -3.8 0M565.4 176.5a1.9 1.9 0 1 0 3.8 0a1.9 1.9 0 1 0 -3.8 0M569.6 179.0a1.9 1.9 0 1 0 3.8 0a1.9 1.9 0 1 0 -3.8 0M569.6 181.5a1.9 1.9 0 1 0 3.8 0a1.9 1.9 0 1 0 -3.8 0M571.7 184.0a1.9 1.9 0 1 0 3.8 0a1.9 1.9 0 1 0 -3.8 0M570.4 186.5a1.9 1.9 0 1 0 3.8 0a1.9 1.9 0 1 0 -3.8 0M590.3 189.0a1.9 1.9 0 1 0 3.8 0a1.9 1.9 0 1 0 -3.8 0M571.5 191.5a1.9 1.9 0 1 0 3.8 0a1.9 1.9 0 1 0 -3.8 0M570.5 194.0a1.9 1.9 0 1 0 3.8 0a1.9 1.9 0 1 0 -3.8 0M563.1 196.5a1.9 1.9 0 1 0 3.8 0a1.9 1.9 0 1 0 -3.8 0M572.2 199.0a1.9 1.9 0 1 0 3.8 0a1.9 1.9 0 1 0 -3.8 0M613.9 201.5a1.9 1.9 0 1 0 3.8 0a1.9 1.9 0 1 0 -3.8 0M625.8 204.0a1.9 1.9 0 1 0 3.8 0a1.9 1.9 0 1 0 -3.8 0M627.1 206.5a1.9 1.9 0 1 0 3.8 0a1.9 1.9 0 1 0 -3.8 0M615.3 209.0a1.9 1.9 0 1 0 3.8 0a1.9 1.9 0 1 0 -3.8 0M625.3 211.5a1.9 1.9 0 1 0 3.8 0a1.9 1.9 0 1 0 -3.8 0M626.5 214.0a1.9 1.9 0 1 0 3.8 0a1.9 1.9 0 1 0 -3.8 0M625.3 216.5a1.9 1.9 0 1 0 3.8 0a1.9 1.9 0 1 0 -3.8 0M625.8 219.0a1.9 1.9 0 1 0 3.8 0a1.9 1.9 0 1 0 -3.8 0M626.2 221.5a1.9 1.9 0 1 0 3.8 0a1.9 1.9 0 1 0 -3.8 0M625.3 224.0a1.9 1.9 0 1 0 3.8 0a1.9 1.9 0 1 0 -3.8 0M624.8 226.5a1.9 1.9 0 1 0 3.8 0a1.9 1.9 0 1 0 -3.8 0M624.8 229.0a1.9 1.9 0 1 0 3.8 0a1.9 1.9 0 1 0 -3.8 0M625.3 231.4a1.9 1.9 0 1 0 3.8 0a1.9 1.9 0 1 0 -3.8 0M624.8 233.9a1.9 1.9 0 1 0 3.8 0a1.9 1.9 0 1 0 -3.8 0M625.8 236.4a1.9 1.9 0 1 0 3.8 0a1.9 1.9 0 1 0 -3.8 0M625.8 238.9a1.9 1.9 0 1 0 3.8 0a1.9 1.9 0 1 0 -3.8 0M625.3 241.4a1.9 1.9 0 1 0 3.8 0a1.9 1.9 0 1 0 -3.8 0M623.9 243.9a1.9 1.9 0 1 0 3.8 0a1.9 1.9 0 1 0 -3.8 0M623.5 246.4a1.9 1.9 0 1 0 3.8 0a1.9 1.9 0 1 0 -3.8 0M623.5 248.9a1.9 1.9 0 1 0 3.8 0a1.9 1.9 0 1 0 -3.8 0M623.5 251.4a1.9 1.9 0 1 0 3.8 0a1.9 1.9 0 1 0 -3.8 0M622.7 253.9a1.9 1.9 0 1 0 3.8 0a1.9 1.9 0 1 0 -3.8 0M621.4 256.4a1.9 1.9 0 1 0 3.8 0a1.9 1.9 0 1 0 -3.8 0M619.5 258.9a1.9 1.9 0 1 0 3.8 0a1.9 1.9 0 1 0 -3.8 0M610.9 261.4a1.9 1.9 0 1 0 3.8 0a1.9 1.9 0 1 0 -3.8 0M602.8 263.9a1.9 1.9 0 1 0 3.8 0a1.9 1.9 0 1 0 -3.8 0M603.3 266.4a1.9 1.9 0 1 0 3.8 0a1.9 1.9 0 1 0 -3.8 0M604.5 268.9a1.9 1.9 0 1 0 3.8 0a1.9 1.9 0 1 0 -3.8 0M603.3 271.4a1.9 1.9 0 1 0 3.8 0a1.9 1.9 0 1 0 -3.8 0M608.0 273.9a1.9 1.9 0 1 0 3.8 0a1.9 1.9 0 1 0 -3.8 0M600.9 276.4a1.9 1.9 0 1 0 3.8 0a1.9 1.9 0 1 0 -3.8 0M592.2 278.9a1.9 1.9 0 1 0 3.8 0a1.9 1.9 0 1 0 -3.8 0M596.7 281.4a1.9 1.9 0 1 0 3.8 0a1.9 1.9 0 1 0 -3.8 0M596.7 283.9a1.9 1.9 0 1 0 3.8 0a1.9 1.9 0 1 0 -3.8 0M592.2 286.4a1.9 1.9 0 1 0 3.8 0a1.9 1.9 0 1 0 -3.8 0M592.2 288.9a1.9 1.9 0 1 0 3.8 0a1.9 1.9 0 1 0 -3.8 0M566.1 291.4a1.9 1.9 0 1 0 3.8 0a1.9 1.9 0 1 0 -3.8 0M558.8 293.9a1.9 1.9 0 1 0 3.8 0a1.9 1.9 0 1 0 -3.8 0M552.9 296.4a1.9 1.9 0 1 0 3.8 0a1.9 1.9 0 1 0 -3.8 0M549.6 298.9a1.9 1.9 0 1 0 3.8 0a1.9 1.9 0 1 0 -3.8 0M562.1 301.4a1.9 1.9 0 1 0 3.8 0a1.9 1.9 0 1 0 -3.8 0M541.1 303.9a1.9 1.9 0 1 0 3.8 0a1.9 1.9 0 1 0 -3.8 0M545.8 306.4a1.9 1.9 0 1 0 3.8 0a1.9 1.9 0 1 0 -3.8 0M542.3 308.9a1.9 1.9 0 1 0 3.8 0a1.9 1.9 0 1 0 -3.8 0M536.3 311.4a1.9 1.9 0 1 0 3.8 0a1.9 1.9 0 1 0 -3.8 0M523.6 313.9a1.9 1.9 0 1 0 3.8 0a1.9 1.9 0 1 0 -3.8 0M541.1 316.4a1.9 1.9 0 1 0 3.8 0a1.9 1.9 0 1 0 -3.8 0M541.1 318.9a1.9 1.9 0 1 0 3.8 0a1.9 1.9 0 1 0 -3.8 0M558.3 321.4a1.9 1.9 0 1 0 3.8 0a1.9 1.9 0 1 0 -3.8 0M563.1 323.9a1.9 1.9 0 1 0 3.8 0a1.9 1.9 0 1 0 -3.8 0M563.1 326.4a1.9 1.9 0 1 0 3.8 0a1.9 1.9 0 1 0 -3.8 0M550.8 328.9a1.9 1.9 0 1 0 3.8 0a1.9 1.9 0 1 0 -3.8 0M565.4 331.4a1.9 1.9 0 1 0 3.8 0a1.9 1.9 0 1 0 -3.8 0M550.1 333.9a1.9 1.9 0 1 0 3.8 0a1.9 1.9 0 1 0 -3.8 0M554.1 336.4a1.9 1.9 0 1 0 3.8 0a1.9 1.9 0 1 0 -3.8 0M550.1 338.9a1.9 1.9 0 1 0 3.8 0a1.9 1.9 0 1 0 -3.8 0M550.1 341.4a1.9 1.9 0 1 0 3.8 0a1.9 1.9 0 1 0 -3.8 0M537.5 343.9a1.9 1.9 0 1 0 3.8 0a1.9 1.9 0 1 0 -3.8 0M525.6 346.4a1.9 1.9 0 1 0 3.8 0a1.9 1.9 0 1 0 -3.8 0M532.0 348.9a1.9 1.9 0 1 0 3.8 0a1.9 1.9 0 1 0 -3.8 0M548.6 351.4a1.9 1.9 0 1 0 3.8 0a1.9 1.9 0 1 0 -3.8 0M535.1 353.9a1.9 1.9 0 1 0 3.8 0a1.9 1.9 0 1 0 -3.8 0M563.5 356.4a1.9 1.9 0 1 0 3.8 0a1.9 1.9 0 1 0 -3.8 0M547.4 358.9a1.9 1.9 0 1 0 3.8 0a1.9 1.9 0 1 0 -3.8 0M532.0 361.4a1.9 1.9 0 1 0 3.8 0a1.9 1.9 0 1 0 -3.8 0M511.5 363.9a1.9 1.9 0 1 0 3.8 0a1.9 1.9 0 1 0 -3.8 0M511.5 366.4a1.9 1.9 0 1 0 3.8 0a1.9 1.9 0 1 0 -3.8 0M525.6 368.8a1.9 1.9 0 1 0 3.8 0a1.9 1.9 0 1 0 -3.8 0M528.0 371.3a1.9 1.9 0 1 0 3.8 0a1.9 1.9 0 1 0 -3.8 0M524.5 373.8a1.9 1.9 0 1 0 3.8 0a1.9 1.9 0 1 0 -3.8 0M515.7 376.3a1.9 1.9 0 1 0 3.8 0a1.9 1.9 0 1 0 -3.8 0M525.2 378.8a1.9 1.9 0 1 0 3.8 0a1.9 1.9 0 1 0 -3.8 0M511.5 381.3a1.9 1.9 0 1 0 3.8 0a1.9 1.9 0 1 0 -3.8 0M521.6 383.8a1.9 1.9 0 1 0 3.8 0a1.9 1.9 0 1 0 -3.8 0M515.7 386.3a1.9 1.9 0 1 0 3.8 0a1.9 1.9 0 1 0 -3.8 0M523.8 388.8a1.9 1.9 0 1 0 3.8 0a1.9 1.9 0 1 0 -3.8 0M535.8 391.3a1.9 1.9 0 1 0 3.8 0a1.9 1.9 0 1 0 -3.8 0M541.0 393.8a1.9 1.9 0 1 0 3.8 0a1.9 1.9 0 1 0 -3.8 0M523.3 396.3a1.9 1.9 0 1 0 3.8 0a1.9 1.9 0 1 0 -3.8 0M491.4 398.8a1.9 1.9 0 1 0 3.8 0a1.9 1.9 0 1 0 -3.8 0M484.3 401.3a1.9 1.9 0 1 0 3.8 0a1.9 1.9 0 1 0 -3.8 0M527.5 403.8a1.9 1.9 0 1 0 3.8 0a1.9 1.9 0 1 0 -3.8 0M535.8 406.3a1.9 1.9 0 1 0 3.8 0a1.9 1.9 0 1 0 -3.8 0M528.0 408.8a1.9 1.9 0 1 0 3.8 0a1.9 1.9 0 1 0 -3.8 0M532.0 411.3a1.9 1.9 0 1 0 3.8 0a1.9 1.9 0 1 0 -3.8 0M523.3 413.8a1.9 1.9 0 1 0 3.8 0a1.9 1.9 0 1 0 -3.8 0M523.3 416.3a1.9 1.9 0 1 0 3.8 0a1.9 1.9 0 1 0 -3.8 0M500.8 418.8a1.9 1.9 0 1 0 3.8 0a1.9 1.9 0 1 0 -3.8 0M494.4 421.3a1.9 1.9 0 1 0 3.8 0a1.9 1.9 0 1 0 -3.8 0M523.8 423.8a1.9 1.9 0 1 0 3.8 0a1.9 1.9 0 1 0 -3.8 0M523.8 426.3a1.9 1.9 0 1 0 3.8 0a1.9 1.9 0 1 0 -3.8 0M519.7 428.8a1.9 1.9 0 1 0 3.8 0a1.9 1.9 0 1 0 -3.8 0M496.1 431.3a1.9 1.9 0 1 0 3.8 0a1.9 1.9 0 1 0 -3.8 0M496.1 433.8a1.9 1.9 0 1 0 3.8 0a1.9 1.9 0 1 0 -3.8 0M515.7 436.3a1.9 1.9 0 1 0 3.8 0a1.9 1.9 0 1 0 -3.8 0" fill="#7800ff"/>
<g id="axes">
<rect x="66.30" y="21.70" width="295.60" height="424.70" fill="none" stroke="#222" stroke-width="1.5"/>
<path d="M81.08 446.40v-6M81.08 21.70v6M95.86 446.40v-6M95.86 21.70v6M110.64 446.40v-11M110.64 21.70v11M125.42 446.40v-6M125.42 21.70v6M140.20 446.40v-6M140.20 21.70v6M154.98 446.40v-6M154.98 21.70v6M169.76 446.40v-6M169.76 21.70v6M184.54 446.40v-11M184.54 21.70v11M199.32 446.40v-6M199.32 21.70v6M214.10 446.40v-6M214.10 21.70v6M228.88 446.40v-6M228.88 21.70v6M243.66 446.40v-6M243.66 21.70v6M258.44 446.40v-11M258.44 21.70v11M273.22 446.40v-6M273.22 21.70v6M288.00 446.40v-6M288.00 21.70v6M302.78 446.40v-6M302.78 21.70v6M317.56 446.40v-6M317.56 21.70v6M332.34 446.40v-11M332.34 21.70v11M347.12 446.40v-6M347.12 21.70v6M66.30 421.42h6M361.90 421.42h-6M66.30 396.44h6M361.90 396.44h-6M66.30 371.45h6M361.90 371.45h-6M66.30 346.47h11M361.90 346.47h-11M66.30 321.49h6M361.90 321.49h-6M66.30 296.51h6M361.90 296.51h-6M66.30 271.52h6M361.90 271.52h-6M66.30 246.54h6M361.90 246.54h-6M66.30 221.56h11M361.90 221.56h-11M66.30 196.58h6M361.90 196.58h-6M66.30 171.59h6M361.90 171.59h-6M66.30 146.61h6M361.90 146.61h-6M66.30 121.63h6M361.90 121.63h-6M66.30 96.65h11M361.90 96.65h-11M66.30 71.66h6M361.90 71.66h-6M66.30 46.68h6M361.90 46.68h-6" stroke="#222" stroke-width="1.25" fill="none"/>
<rect x="388.70" y="21.70" width="295.60" height="424.70" fill="none" stroke="#222" stroke-width="1.5"/>
<path d="M403.48 446.40v-6M403.48 21.70v6M418.26 446.40v-6M418.26 21.70v6M433.04 446.40v-11M433.04 21.70v11M447.82 446.40v-6M447.82 21.70v6M462.60 446.40v-6M462.60 21.70v6M477.38 446.40v-6M477.38 21.70v6M492.16 446.40v-6M492.16 21.70v6M506.94 446.40v-11M506.94 21.70v11M521.72 446.40v-6M521.72 21.70v6M536.50 446.40v-6M536.50 21.70v6M551.28 446.40v-6M551.28 21.70v6M566.06 446.40v-6M566.06 21.70v6M580.84 446.40v-11M580.84 21.70v11M595.62 446.40v-6M595.62 21.70v6M610.40 446.40v-6M610.40 21.70v6M625.18 446.40v-6M625.18 21.70v6M639.96 446.40v-6M639.96 21.70v6M654.74 446.40v-11M654.74 21.70v11M669.52 446.40v-6M669.52 21.70v6M388.70 421.42h6M684.30 421.42h-6M388.70 396.44h6M684.30 396.44h-6M388.70 371.45h6M684.30 371.45h-6M388.70 346.47h11M684.30 346.47h-11M388.70 321.49h6M684.30 321.49h-6M388.70 296.51h6M684.30 296.51h-6M388.70 271.52h6M684.30 271.52h-6M388.70 246.54h6M684.30 246.54h-6M388.70 221.56h11M684.30 221.56h-11M388.70 196.58h6M684.30 196.58h-6M388.70 171.59h6M684.30 171.59h-6M388.70 146.61h6M684.30 146.61h-6M388.70 121.63h6M684.30 121.63h-6M388.70 96.65h11M684.30 96.65h-11M388.70 71.66h6M684.30 71.66h-6M388.70 46.68h6M684.30 46.68h-6" stroke="#222" stroke-width="1.25" fill="none"/>
</g>
<g font-family='"Liberation Sans", sans-serif' font-size="15" fill="#000">
<text transform="translate(110.64,466) scale(0.95,1)" font-size="15.8" text-anchor="middle">395</text>
<text transform="translate(184.54,466) scale(0.95,1)" font-size="15.8" text-anchor="middle">400</text>
<text transform="translate(258.44,466) scale(0.95,1)" font-size="15.8" text-anchor="middle">405</text>
<text transform="translate(332.34,466) scale(0.95,1)" font-size="15.8" text-anchor="middle">410</text>
<text transform="translate(148.70,14) scale(0.96,1)" font-size="20.3">Flight</text>
<text transform="translate(201.20,14) scale(0.96,1)" font-size="20.3">F01</text>
<text transform="translate(245.80,14) scale(0.96,1)" font-size="20.3">F08</text>
<rect x="235.20" y="8.9" width="9.7" height="1.25" fill="#000"/>
<text x="178.20" y="495.3" font-size="15.5">CO<tspan font-size="10.8" dy="3">2</tspan><tspan dy="-3"> [ppm]</tspan></text>
<text transform="translate(433.04,466) scale(0.95,1)" font-size="15.8" text-anchor="middle">395</text>
<text transform="translate(506.94,466) scale(0.95,1)" font-size="15.8" text-anchor="middle">400</text>
<text transform="translate(580.84,466) scale(0.95,1)" font-size="15.8" text-anchor="middle">405</text>
<text transform="translate(654.74,466) scale(0.95,1)" font-size="15.8" text-anchor="middle">410</text>
<text transform="translate(471.10,14) scale(0.96,1)" font-size="20.3">Flight</text>
<text transform="translate(523.60,14) scale(0.96,1)" font-size="20.3">F01</text>
<text transform="translate(568.20,14) scale(0.96,1)" font-size="20.3">F08</text>
<rect x="557.60" y="8.9" width="9.7" height="1.25" fill="#000"/>
<text x="500.60" y="495.3" font-size="15.5">CO<tspan font-size="10.8" dy="3">2</tspan><tspan dy="-3"> [ppm]</tspan></text>
<text transform="translate(62,351.87) scale(0.95,1)" font-size="15.8" text-anchor="end">350</text>
<text transform="translate(62,226.96) scale(0.95,1)" font-size="15.8" text-anchor="end">400</text>
<text transform="translate(62,102.05) scale(0.95,1)" font-size="15.8" text-anchor="end">450</text>
<text transform="translate(11.3,321.3) rotate(-90)" font-size="16" textLength="175" lengthAdjust="spacingAndGlyphs">Potential Temperature [K]</text>
<text x="81.2" y="206.8" font-size="14" fill="#c8c8c8">HAGAR</text>
<text x="81.2" y="221.6" font-size="14" fill="#c00000">Reg. Mask</text>
<text x="403.60" y="206.8" font-size="14" fill="#c8c8c8">HAGAR</text>
<text x="403.60" y="221.6" font-size="14" fill="#7800ff">Reg. Mask + GOSAT free</text>
<path d="M81.1 416.3Q72.7 426.4 81.1 436.5M94 416.3Q102.4 426.4 94 436.5M404 416.5Q395.6 426.5 404 436.6M417.5 416.5Q425.9 426.5 417.5 436.6" fill="none" stroke="#111" stroke-width="1.45"/>
<text transform="translate(82.9,431.6) scale(0.92,1)" font-size="17">a</text>
<text transform="translate(405.6,431.8) scale(0.95,1)" font-size="18">b</text>
</g>
</svg>
</body></html>
